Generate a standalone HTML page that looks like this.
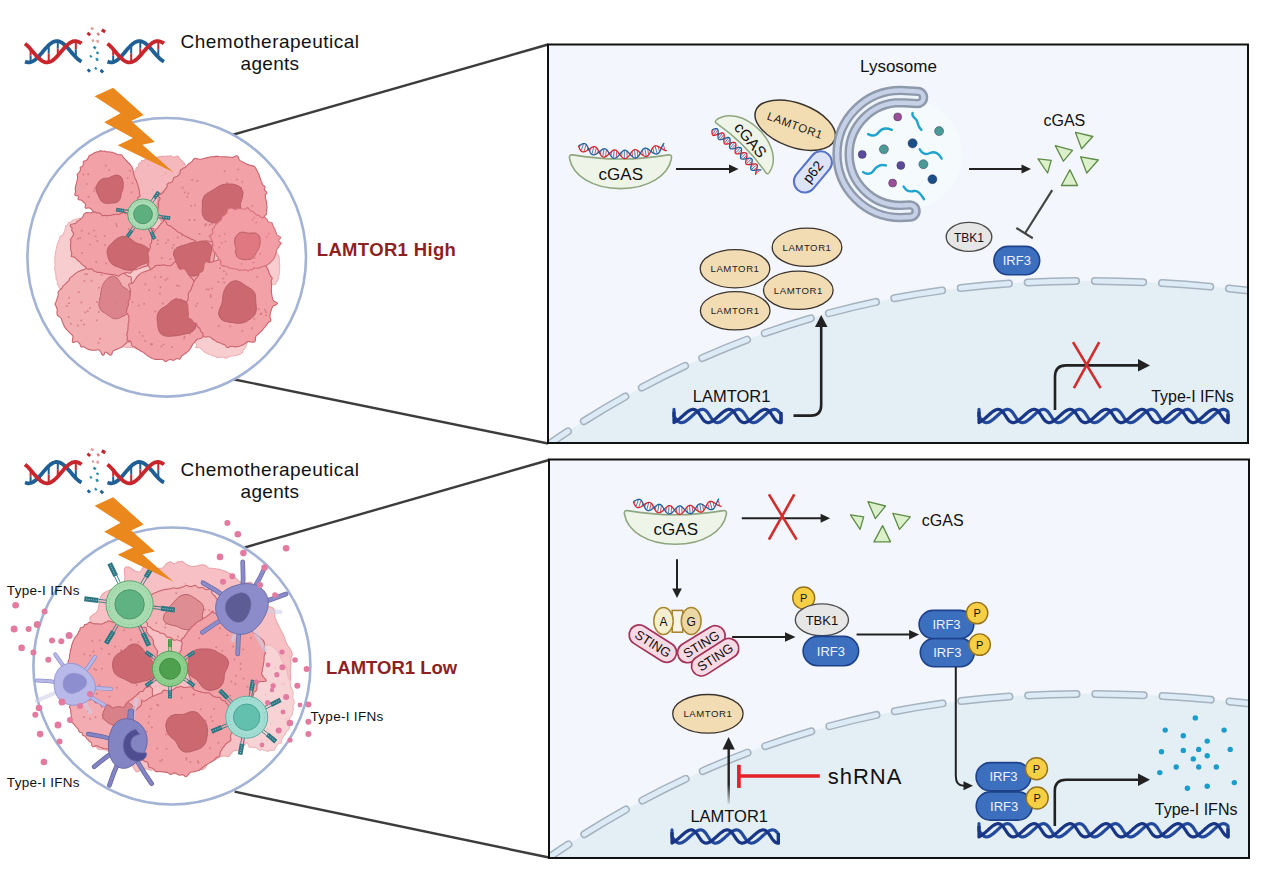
<!DOCTYPE html>
<html><head><meta charset="utf-8"><title>LAMTOR1</title><style>html,body{margin:0;padding:0;background:#fff;}body{width:1269px;height:888px;overflow:hidden;}svg{display:block;}text{font-family:"Liberation Sans", sans-serif;}</style></head><body>
<svg width="1269" height="888" viewBox="0 0 1269 888" font-family='"Liberation Sans", sans-serif'><defs><clipPath id="clip44"><rect x="548" y="44.5" width="700" height="398.5"/></clipPath><clipPath id="clip459"><rect x="549" y="459.5" width="700" height="398.5"/></clipPath><linearGradient id="fadeup" x1="0" y1="1" x2="0" y2="0"><stop offset="0" stop-color="#222" stop-opacity="0.1"/><stop offset="0.35" stop-color="#222" stop-opacity="1"/></linearGradient></defs><line x1="232.0" y1="135.0" x2="548.0" y2="44.5" stroke="#3c3c3c" stroke-width="2.4" stroke-linecap="butt"/>
<line x1="232.0" y1="379.0" x2="548.0" y2="443.5" stroke="#3c3c3c" stroke-width="2.4" stroke-linecap="butt"/>
<line x1="244.7" y1="547.5" x2="549.0" y2="460.0" stroke="#3c3c3c" stroke-width="2.4" stroke-linecap="butt"/>
<line x1="234.6" y1="791.7" x2="549.0" y2="857.5" stroke="#3c3c3c" stroke-width="2.4" stroke-linecap="butt"/>
<line x1="30.6" y1="49.2" x2="30.6" y2="55.7" stroke="#c8262d" stroke-width="2"/>
<line x1="30.6" y1="55.7" x2="30.6" y2="62.1" stroke="#1f5f95" stroke-width="2"/>
<line x1="39.7" y1="59.1" x2="39.7" y2="57.2" stroke="#c8262d" stroke-width="2"/>
<line x1="39.7" y1="57.2" x2="39.7" y2="55.3" stroke="#1f5f95" stroke-width="2"/>
<line x1="48.7" y1="62.2" x2="48.7" y2="53.7" stroke="#c8262d" stroke-width="2"/>
<line x1="48.7" y1="53.7" x2="48.7" y2="45.2" stroke="#1f5f95" stroke-width="2"/>
<line x1="57.8" y1="55.6" x2="57.8" y2="48.4" stroke="#c8262d" stroke-width="2"/>
<line x1="57.8" y1="48.4" x2="57.8" y2="41.2" stroke="#1f5f95" stroke-width="2"/>
<line x1="66.8" y1="45.4" x2="66.8" y2="46.2" stroke="#c8262d" stroke-width="2"/>
<line x1="66.8" y1="46.2" x2="66.8" y2="47.0" stroke="#1f5f95" stroke-width="2"/>
<line x1="75.8" y1="41.1" x2="75.8" y2="49.2" stroke="#c8262d" stroke-width="2"/>
<line x1="75.8" y1="49.2" x2="75.8" y2="57.2" stroke="#1f5f95" stroke-width="2"/>
<path d="M25.0,61.6 L25.9,61.9 L26.9,62.2 L27.8,62.4 L28.8,62.4 L29.7,62.3 L30.6,62.1 L31.6,61.8 L32.5,61.4 L33.5,60.9 L34.4,60.2 L35.4,59.5 L36.3,58.7 L37.2,57.8 L38.2,56.9 L39.1,55.9 L40.1,54.8 L41.0,53.8 L42.0,52.7 L42.9,51.5 L43.8,50.4 L44.8,49.3 L45.7,48.3 L46.7,47.2 L47.6,46.3 L48.5,45.3 L49.5,44.5 L50.4,43.7 L51.4,43.0 L52.3,42.4 L53.2,41.9 L54.2,41.6 L55.1,41.3 L56.1,41.1 L57.0,41.1 L58.0,41.2 L58.9,41.4 L59.8,41.7 L60.8,42.1 L61.7,42.6 L62.7,43.3 L63.6,44.0 L64.5,44.8 L65.5,45.7 L66.4,46.6 L67.4,47.6 L68.3,48.7 L69.3,49.7 L70.2,50.8 L71.1,52.0 L72.1,53.1 L73.0,54.2 L74.0,55.2 L74.9,56.3 L75.8,57.2 L76.8,58.2 L77.7,59.0 L78.7,59.8 L79.6,60.5 L80.6,61.1 L81.5,61.6" fill="none" stroke="#1f5f95" stroke-width="3.8" stroke-linecap="butt"/>
<path d="M25.0,43.6 L25.9,44.4 L26.9,45.2 L27.8,46.1 L28.8,47.1 L29.7,48.1 L30.6,49.2 L31.6,50.3 L32.5,51.4 L33.5,52.5 L34.4,53.6 L35.4,54.7 L36.3,55.8 L37.2,56.8 L38.2,57.7 L39.1,58.6 L40.1,59.4 L41.0,60.2 L42.0,60.8 L42.9,61.3 L43.8,61.8 L44.8,62.1 L45.7,62.3 L46.7,62.4 L47.6,62.4 L48.5,62.2 L49.5,62.0 L50.4,61.6 L51.4,61.1 L52.3,60.6 L53.2,59.9 L54.2,59.1 L55.1,58.3 L56.1,57.4 L57.0,56.4 L58.0,55.4 L58.9,54.3 L59.8,53.2 L60.8,52.1 L61.7,51.0 L62.7,49.9 L63.6,48.8 L64.5,47.7 L65.5,46.7 L66.4,45.8 L67.4,44.9 L68.3,44.1 L69.3,43.3 L70.2,42.7 L71.1,42.2 L72.1,41.7 L73.0,41.4 L74.0,41.2 L74.9,41.1 L75.8,41.1 L76.8,41.3 L77.7,41.5 L78.7,41.9 L79.6,42.4 L80.6,42.9 L81.5,43.6" fill="none" stroke="#c8262d" stroke-width="3.8" stroke-linecap="butt"/>
<line x1="113.2" y1="49.2" x2="113.2" y2="55.7" stroke="#c8262d" stroke-width="2"/>
<line x1="113.2" y1="55.7" x2="113.2" y2="62.1" stroke="#1f5f95" stroke-width="2"/>
<line x1="122.2" y1="59.1" x2="122.2" y2="57.2" stroke="#c8262d" stroke-width="2"/>
<line x1="122.2" y1="57.2" x2="122.2" y2="55.3" stroke="#1f5f95" stroke-width="2"/>
<line x1="131.2" y1="62.2" x2="131.2" y2="53.7" stroke="#c8262d" stroke-width="2"/>
<line x1="131.2" y1="53.7" x2="131.2" y2="45.2" stroke="#1f5f95" stroke-width="2"/>
<line x1="140.3" y1="55.6" x2="140.3" y2="48.4" stroke="#c8262d" stroke-width="2"/>
<line x1="140.3" y1="48.4" x2="140.3" y2="41.2" stroke="#1f5f95" stroke-width="2"/>
<line x1="149.3" y1="45.4" x2="149.3" y2="46.2" stroke="#c8262d" stroke-width="2"/>
<line x1="149.3" y1="46.2" x2="149.3" y2="47.0" stroke="#1f5f95" stroke-width="2"/>
<line x1="158.3" y1="41.1" x2="158.3" y2="49.2" stroke="#c8262d" stroke-width="2"/>
<line x1="158.3" y1="49.2" x2="158.3" y2="57.2" stroke="#1f5f95" stroke-width="2"/>
<path d="M107.5,61.6 L108.4,61.9 L109.4,62.2 L110.3,62.4 L111.3,62.4 L112.2,62.3 L113.2,62.1 L114.1,61.8 L115.0,61.4 L116.0,60.9 L116.9,60.2 L117.9,59.5 L118.8,58.7 L119.7,57.8 L120.7,56.9 L121.6,55.9 L122.6,54.8 L123.5,53.8 L124.5,52.7 L125.4,51.5 L126.3,50.4 L127.3,49.3 L128.2,48.3 L129.2,47.2 L130.1,46.3 L131.0,45.3 L132.0,44.5 L132.9,43.7 L133.9,43.0 L134.8,42.4 L135.8,41.9 L136.7,41.6 L137.6,41.3 L138.6,41.1 L139.5,41.1 L140.5,41.2 L141.4,41.4 L142.3,41.7 L143.3,42.1 L144.2,42.6 L145.2,43.3 L146.1,44.0 L147.1,44.8 L148.0,45.7 L148.9,46.6 L149.9,47.6 L150.8,48.7 L151.8,49.7 L152.7,50.8 L153.6,52.0 L154.6,53.1 L155.5,54.2 L156.5,55.2 L157.4,56.3 L158.3,57.2 L159.3,58.2 L160.2,59.0 L161.2,59.8 L162.1,60.5 L163.1,61.1 L164.0,61.6" fill="none" stroke="#1f5f95" stroke-width="3.8" stroke-linecap="butt"/>
<path d="M107.5,43.6 L108.4,44.4 L109.4,45.2 L110.3,46.1 L111.3,47.1 L112.2,48.1 L113.2,49.2 L114.1,50.3 L115.0,51.4 L116.0,52.5 L116.9,53.6 L117.9,54.7 L118.8,55.8 L119.7,56.8 L120.7,57.7 L121.6,58.6 L122.6,59.4 L123.5,60.2 L124.5,60.8 L125.4,61.3 L126.3,61.8 L127.3,62.1 L128.2,62.3 L129.2,62.4 L130.1,62.4 L131.0,62.2 L132.0,62.0 L132.9,61.6 L133.9,61.1 L134.8,60.6 L135.8,59.9 L136.7,59.1 L137.6,58.3 L138.6,57.4 L139.5,56.4 L140.5,55.4 L141.4,54.3 L142.3,53.2 L143.3,52.1 L144.2,51.0 L145.2,49.9 L146.1,48.8 L147.1,47.7 L148.0,46.7 L148.9,45.8 L149.9,44.9 L150.8,44.1 L151.8,43.3 L152.7,42.7 L153.6,42.2 L154.6,41.7 L155.5,41.4 L156.5,41.2 L157.4,41.1 L158.3,41.1 L159.3,41.3 L160.2,41.5 L161.2,41.9 L162.1,42.4 L163.1,42.9 L164.0,43.6" fill="none" stroke="#c8262d" stroke-width="3.8" stroke-linecap="butt"/>
<rect x="86.8" y="32.4" width="3.6" height="2.9" fill="#c0282f" transform="rotate(40 88.6 34.2)"/>
<rect x="101.3" y="29.2" width="4" height="3.2" fill="#c0282f" transform="rotate(30 103.3 31.2)"/>
<rect x="90.6" y="27.4" width="3" height="2.4" fill="#e09a9a" transform="rotate(20 92.1 28.9)"/>
<rect x="96.5" y="32.7" width="3" height="2.4" fill="#d98080" transform="rotate(60 98.0 34.2)"/>
<rect x="95.9" y="39.8" width="3" height="2.4" fill="#e0a0a0" transform="rotate(80 97.4 41.3)"/>
<rect x="91.4" y="39.4" width="2.6" height="2.1" fill="#d9a0a0" transform="rotate(70 92.7 40.7)"/>
<rect x="93.0" y="46.3" width="3" height="2.4" fill="#2a8aa8" transform="rotate(40 94.5 47.8)"/>
<rect x="96.1" y="51.8" width="2.6" height="2.1" fill="#2a8aa8" transform="rotate(30 97.4 53.1)"/>
<rect x="89.4" y="55.3" width="2.6" height="2.1" fill="#3590b0" transform="rotate(50 90.7 56.6)"/>
<rect x="95.3" y="58.1" width="3" height="2.4" fill="#2a8aa8" transform="rotate(60 96.8 59.6)"/>
<rect x="94.3" y="67.2" width="2.6" height="2.1" fill="#2a8aa8" transform="rotate(45 95.6 68.5)"/>
<rect x="86.9" y="69.1" width="3.4" height="2.7" fill="#1f5f95" transform="rotate(45 88.6 70.8)"/>
<rect x="99.8" y="69.6" width="3.6" height="2.9" fill="#1f5f95" transform="rotate(45 101.6 71.4)"/>
<line x1="30.6" y1="470.1" x2="30.6" y2="476.6" stroke="#c8262d" stroke-width="2"/>
<line x1="30.6" y1="476.6" x2="30.6" y2="483.0" stroke="#1f5f95" stroke-width="2"/>
<line x1="39.7" y1="480.0" x2="39.7" y2="478.1" stroke="#c8262d" stroke-width="2"/>
<line x1="39.7" y1="478.1" x2="39.7" y2="476.2" stroke="#1f5f95" stroke-width="2"/>
<line x1="48.7" y1="483.1" x2="48.7" y2="474.6" stroke="#c8262d" stroke-width="2"/>
<line x1="48.7" y1="474.6" x2="48.7" y2="466.1" stroke="#1f5f95" stroke-width="2"/>
<line x1="57.8" y1="476.5" x2="57.8" y2="469.3" stroke="#c8262d" stroke-width="2"/>
<line x1="57.8" y1="469.3" x2="57.8" y2="462.1" stroke="#1f5f95" stroke-width="2"/>
<line x1="66.8" y1="466.3" x2="66.8" y2="467.1" stroke="#c8262d" stroke-width="2"/>
<line x1="66.8" y1="467.1" x2="66.8" y2="467.9" stroke="#1f5f95" stroke-width="2"/>
<line x1="75.8" y1="462.0" x2="75.8" y2="470.1" stroke="#c8262d" stroke-width="2"/>
<line x1="75.8" y1="470.1" x2="75.8" y2="478.1" stroke="#1f5f95" stroke-width="2"/>
<path d="M25.0,482.5 L25.9,482.8 L26.9,483.1 L27.8,483.3 L28.8,483.3 L29.7,483.2 L30.6,483.0 L31.6,482.7 L32.5,482.3 L33.5,481.8 L34.4,481.1 L35.4,480.4 L36.3,479.6 L37.2,478.7 L38.2,477.8 L39.1,476.8 L40.1,475.7 L41.0,474.7 L42.0,473.6 L42.9,472.4 L43.8,471.3 L44.8,470.2 L45.7,469.2 L46.7,468.1 L47.6,467.2 L48.5,466.2 L49.5,465.4 L50.4,464.6 L51.4,463.9 L52.3,463.3 L53.2,462.8 L54.2,462.5 L55.1,462.2 L56.1,462.0 L57.0,462.0 L58.0,462.1 L58.9,462.3 L59.8,462.6 L60.8,463.0 L61.7,463.5 L62.7,464.2 L63.6,464.9 L64.5,465.7 L65.5,466.6 L66.4,467.5 L67.4,468.5 L68.3,469.6 L69.3,470.6 L70.2,471.7 L71.1,472.9 L72.1,474.0 L73.0,475.1 L74.0,476.1 L74.9,477.2 L75.8,478.1 L76.8,479.1 L77.7,479.9 L78.7,480.7 L79.6,481.4 L80.6,482.0 L81.5,482.5" fill="none" stroke="#1f5f95" stroke-width="3.8" stroke-linecap="butt"/>
<path d="M25.0,464.5 L25.9,465.3 L26.9,466.1 L27.8,467.0 L28.8,468.0 L29.7,469.0 L30.6,470.1 L31.6,471.2 L32.5,472.3 L33.5,473.4 L34.4,474.5 L35.4,475.6 L36.3,476.7 L37.2,477.7 L38.2,478.6 L39.1,479.5 L40.1,480.3 L41.0,481.1 L42.0,481.7 L42.9,482.2 L43.8,482.7 L44.8,483.0 L45.7,483.2 L46.7,483.3 L47.6,483.3 L48.5,483.1 L49.5,482.9 L50.4,482.5 L51.4,482.0 L52.3,481.5 L53.2,480.8 L54.2,480.0 L55.1,479.2 L56.1,478.3 L57.0,477.3 L58.0,476.3 L58.9,475.2 L59.8,474.1 L60.8,473.0 L61.7,471.9 L62.7,470.8 L63.6,469.7 L64.5,468.6 L65.5,467.6 L66.4,466.7 L67.4,465.8 L68.3,465.0 L69.3,464.2 L70.2,463.6 L71.1,463.1 L72.1,462.6 L73.0,462.3 L74.0,462.1 L74.9,462.0 L75.8,462.0 L76.8,462.2 L77.7,462.4 L78.7,462.8 L79.6,463.3 L80.6,463.8 L81.5,464.5" fill="none" stroke="#c8262d" stroke-width="3.8" stroke-linecap="butt"/>
<line x1="113.2" y1="470.1" x2="113.2" y2="476.6" stroke="#c8262d" stroke-width="2"/>
<line x1="113.2" y1="476.6" x2="113.2" y2="483.0" stroke="#1f5f95" stroke-width="2"/>
<line x1="122.2" y1="480.0" x2="122.2" y2="478.1" stroke="#c8262d" stroke-width="2"/>
<line x1="122.2" y1="478.1" x2="122.2" y2="476.2" stroke="#1f5f95" stroke-width="2"/>
<line x1="131.2" y1="483.1" x2="131.2" y2="474.6" stroke="#c8262d" stroke-width="2"/>
<line x1="131.2" y1="474.6" x2="131.2" y2="466.1" stroke="#1f5f95" stroke-width="2"/>
<line x1="140.3" y1="476.5" x2="140.3" y2="469.3" stroke="#c8262d" stroke-width="2"/>
<line x1="140.3" y1="469.3" x2="140.3" y2="462.1" stroke="#1f5f95" stroke-width="2"/>
<line x1="149.3" y1="466.3" x2="149.3" y2="467.1" stroke="#c8262d" stroke-width="2"/>
<line x1="149.3" y1="467.1" x2="149.3" y2="467.9" stroke="#1f5f95" stroke-width="2"/>
<line x1="158.3" y1="462.0" x2="158.3" y2="470.1" stroke="#c8262d" stroke-width="2"/>
<line x1="158.3" y1="470.1" x2="158.3" y2="478.1" stroke="#1f5f95" stroke-width="2"/>
<path d="M107.5,482.5 L108.4,482.8 L109.4,483.1 L110.3,483.3 L111.3,483.3 L112.2,483.2 L113.2,483.0 L114.1,482.7 L115.0,482.3 L116.0,481.8 L116.9,481.1 L117.9,480.4 L118.8,479.6 L119.7,478.7 L120.7,477.8 L121.6,476.8 L122.6,475.7 L123.5,474.7 L124.5,473.6 L125.4,472.4 L126.3,471.3 L127.3,470.2 L128.2,469.2 L129.2,468.1 L130.1,467.2 L131.0,466.2 L132.0,465.4 L132.9,464.6 L133.9,463.9 L134.8,463.3 L135.8,462.8 L136.7,462.5 L137.6,462.2 L138.6,462.0 L139.5,462.0 L140.5,462.1 L141.4,462.3 L142.3,462.6 L143.3,463.0 L144.2,463.5 L145.2,464.2 L146.1,464.9 L147.1,465.7 L148.0,466.6 L148.9,467.5 L149.9,468.5 L150.8,469.6 L151.8,470.6 L152.7,471.7 L153.6,472.9 L154.6,474.0 L155.5,475.1 L156.5,476.1 L157.4,477.2 L158.3,478.1 L159.3,479.1 L160.2,479.9 L161.2,480.7 L162.1,481.4 L163.1,482.0 L164.0,482.5" fill="none" stroke="#1f5f95" stroke-width="3.8" stroke-linecap="butt"/>
<path d="M107.5,464.5 L108.4,465.3 L109.4,466.1 L110.3,467.0 L111.3,468.0 L112.2,469.0 L113.2,470.1 L114.1,471.2 L115.0,472.3 L116.0,473.4 L116.9,474.5 L117.9,475.6 L118.8,476.7 L119.7,477.7 L120.7,478.6 L121.6,479.5 L122.6,480.3 L123.5,481.1 L124.5,481.7 L125.4,482.2 L126.3,482.7 L127.3,483.0 L128.2,483.2 L129.2,483.3 L130.1,483.3 L131.0,483.1 L132.0,482.9 L132.9,482.5 L133.9,482.0 L134.8,481.5 L135.8,480.8 L136.7,480.0 L137.6,479.2 L138.6,478.3 L139.5,477.3 L140.5,476.3 L141.4,475.2 L142.3,474.1 L143.3,473.0 L144.2,471.9 L145.2,470.8 L146.1,469.7 L147.1,468.6 L148.0,467.6 L148.9,466.7 L149.9,465.8 L150.8,465.0 L151.8,464.2 L152.7,463.6 L153.6,463.1 L154.6,462.6 L155.5,462.3 L156.5,462.1 L157.4,462.0 L158.3,462.0 L159.3,462.2 L160.2,462.4 L161.2,462.8 L162.1,463.3 L163.1,463.8 L164.0,464.5" fill="none" stroke="#c8262d" stroke-width="3.8" stroke-linecap="butt"/>
<rect x="86.8" y="453.3" width="3.6" height="2.9" fill="#c0282f" transform="rotate(40 88.6 455.1)"/>
<rect x="101.3" y="450.1" width="4" height="3.2" fill="#c0282f" transform="rotate(30 103.3 452.1)"/>
<rect x="90.6" y="448.3" width="3" height="2.4" fill="#e09a9a" transform="rotate(20 92.1 449.8)"/>
<rect x="96.5" y="453.6" width="3" height="2.4" fill="#d98080" transform="rotate(60 98.0 455.1)"/>
<rect x="95.9" y="460.7" width="3" height="2.4" fill="#e0a0a0" transform="rotate(80 97.4 462.2)"/>
<rect x="91.4" y="460.3" width="2.6" height="2.1" fill="#d9a0a0" transform="rotate(70 92.7 461.6)"/>
<rect x="93.0" y="467.2" width="3" height="2.4" fill="#2a8aa8" transform="rotate(40 94.5 468.7)"/>
<rect x="96.1" y="472.7" width="2.6" height="2.1" fill="#2a8aa8" transform="rotate(30 97.4 474.0)"/>
<rect x="89.4" y="476.2" width="2.6" height="2.1" fill="#3590b0" transform="rotate(50 90.7 477.5)"/>
<rect x="95.3" y="479.0" width="3" height="2.4" fill="#2a8aa8" transform="rotate(60 96.8 480.5)"/>
<rect x="94.3" y="488.1" width="2.6" height="2.1" fill="#2a8aa8" transform="rotate(45 95.6 489.4)"/>
<rect x="86.9" y="490.0" width="3.4" height="2.7" fill="#1f5f95" transform="rotate(45 88.6 491.7)"/>
<rect x="99.8" y="490.5" width="3.6" height="2.9" fill="#1f5f95" transform="rotate(45 101.6 492.3)"/>
<circle cx="166.7" cy="257.3" r="139.3" fill="#ffffff" stroke="#a3b3d5" stroke-width="2.6"/>
<g>
<path d="M257.0,262.0C256.7,263.1 256.7,264.1 256.4,265.2C256.1,266.2 255.6,267.2 255.2,268.2C254.8,269.3 254.6,270.3 254.2,271.3C253.8,272.3 252.8,273.2 252.7,274.2C252.6,275.2 252.9,276.3 253.3,277.4C253.8,278.6 255.2,280.0 255.6,281.1C255.9,282.3 256.5,283.7 255.5,284.5C254.5,285.3 251.1,285.5 249.4,286.0C247.7,286.6 245.9,287.0 245.2,287.9C244.6,288.7 245.8,290.2 245.6,291.2C245.4,292.2 244.7,293.0 243.9,293.7C243.0,294.5 241.3,294.7 240.6,295.5C239.8,296.3 239.7,297.2 239.5,298.3C239.4,299.3 239.5,300.5 239.5,301.7C239.6,302.9 240.0,304.4 239.9,305.5C239.7,306.6 239.0,307.4 238.5,308.3C238.0,309.3 237.0,309.9 236.9,311.1C236.8,312.4 238.1,314.8 237.8,316.0C237.5,317.2 236.5,317.8 235.3,318.3C234.2,318.8 232.1,318.3 231.1,318.9C230.1,319.5 230.1,321.0 229.3,321.8C228.6,322.6 227.6,323.2 226.6,323.8C225.6,324.3 224.3,324.4 223.5,325.2C222.6,326.0 222.3,327.3 221.7,328.3C221.0,329.3 220.2,330.1 219.6,331.1C218.9,332.2 218.8,334.1 217.8,334.6C216.7,335.1 214.8,334.4 213.4,334.2C211.9,333.9 210.2,333.2 208.9,333.2C207.7,333.3 206.9,334.0 205.9,334.5C204.9,335.0 203.9,335.6 202.9,336.1C201.9,336.5 200.9,336.9 199.8,337.3C198.8,337.7 197.7,338.1 196.7,338.5C195.6,339.0 194.6,339.5 193.6,340.1C192.6,340.6 191.6,341.2 190.6,341.9C189.6,342.6 188.6,343.5 187.6,344.4C186.6,345.3 185.6,346.9 184.5,347.3C183.4,347.8 182.0,347.0 180.8,347.1C179.6,347.1 178.4,347.3 177.2,347.8C176.1,348.3 174.9,349.9 173.7,350.3C172.5,350.6 171.2,350.1 170.0,349.8C168.8,349.5 167.6,348.7 166.4,348.3C165.2,348.0 164.0,347.7 162.8,347.6C161.6,347.5 160.4,347.5 159.1,347.6C157.9,347.6 156.7,347.8 155.4,348.2C154.0,348.6 152.5,349.8 151.2,350.1C149.9,350.3 148.6,350.1 147.4,349.7C146.2,349.4 145.3,348.0 144.0,347.9C142.7,347.9 140.9,349.3 139.5,349.4C138.2,349.5 137.0,348.8 135.8,348.4C134.5,348.1 133.4,347.5 132.1,347.3C130.7,347.2 129.1,347.7 127.7,347.6C126.3,347.5 124.8,347.4 123.6,346.8C122.5,346.1 121.7,344.8 121.0,343.5C120.3,342.3 120.0,340.3 119.3,339.1C118.6,337.9 117.5,337.4 116.7,336.4C115.8,335.4 115.2,334.3 114.4,333.4C113.6,332.4 112.7,331.6 111.8,330.8C110.9,330.0 110.2,329.0 109.2,328.3C108.3,327.6 107.2,327.0 106.1,326.4C105.1,325.7 103.5,325.6 102.9,324.6C102.2,323.6 102.9,321.4 102.3,320.3C101.7,319.3 100.1,319.1 99.4,318.2C98.7,317.3 98.1,316.2 98.1,314.9C98.0,313.5 99.2,311.3 99.2,309.9C99.3,308.6 98.6,307.7 98.2,306.7C97.9,305.6 97.6,304.6 97.3,303.5C96.9,302.5 96.9,301.3 96.3,300.5C95.7,299.6 95.0,298.8 93.7,298.2C92.5,297.6 89.9,297.6 88.9,296.9C87.8,296.1 87.8,294.9 87.5,293.8C87.3,292.8 87.7,291.4 87.2,290.5C86.6,289.5 84.8,288.9 84.2,288.0C83.5,287.0 83.0,286.0 83.2,284.8C83.4,283.6 84.8,282.2 85.4,280.9C85.9,279.7 86.7,278.5 86.5,277.5C86.4,276.4 85.3,275.6 84.8,274.6C84.2,273.6 83.3,272.6 83.5,271.5C83.6,270.5 85.3,269.3 85.7,268.2C86.2,267.1 86.3,266.1 86.3,265.1C86.3,264.0 86.0,263.0 85.8,262.0C85.6,261.0 85.4,259.9 85.2,258.9C85.0,257.9 84.8,256.8 84.7,255.7C84.6,254.7 84.8,253.7 84.4,252.6C84.1,251.5 83.5,250.3 82.7,249.1C82.0,247.9 80.3,246.5 79.9,245.3C79.6,244.1 80.4,243.1 80.8,242.1C81.2,241.0 82.1,240.1 82.3,239.0C82.6,237.9 82.0,236.5 82.5,235.5C83.1,234.5 84.8,233.9 85.8,233.1C86.8,232.2 87.7,231.4 88.5,230.6C89.3,229.7 89.9,228.8 90.5,227.9C91.1,226.9 91.4,225.9 92.0,225.0C92.6,224.0 93.3,223.2 94.0,222.3C94.6,221.4 95.3,220.6 95.9,219.7C96.5,218.8 97.3,218.0 97.7,217.0C98.1,215.9 97.7,214.4 98.1,213.3C98.6,212.3 99.6,211.7 100.5,210.9C101.3,210.2 102.5,209.7 103.4,209.0C104.3,208.3 104.9,207.3 106.0,206.8C107.1,206.4 108.8,206.4 110.0,206.1C111.1,205.7 112.1,205.2 113.0,204.6C113.9,203.9 114.6,203.2 115.4,202.4C116.2,201.7 116.8,200.8 117.6,200.0C118.3,199.2 119.1,198.5 119.7,197.4C120.3,196.4 120.6,195.1 121.2,193.9C121.7,192.8 122.3,191.5 123.0,190.5C123.7,189.6 124.6,188.8 125.6,188.1C126.5,187.4 127.4,186.5 128.6,186.2C129.7,185.9 131.3,186.4 132.6,186.4C133.9,186.4 135.1,186.3 136.3,186.2C137.5,186.1 138.7,186.1 139.8,185.8C140.9,185.5 141.9,185.0 143.0,184.5C144.0,183.9 144.9,183.2 146.0,182.6C147.0,182.0 147.9,181.0 149.1,180.8C150.2,180.5 151.6,181.1 152.8,181.2C154.0,181.4 155.2,181.7 156.3,181.6C157.5,181.5 158.5,180.8 159.7,180.5C160.8,180.2 161.9,180.0 163.1,179.8C164.2,179.6 165.4,179.6 166.5,179.5C167.7,179.4 168.8,179.3 170.0,179.2C171.2,179.1 172.3,179.3 173.5,179.0C174.7,178.6 175.9,177.7 177.2,177.1C178.4,176.5 179.8,175.1 181.0,175.3C182.2,175.6 183.1,177.6 184.2,178.6C185.2,179.6 186.1,180.8 187.2,181.3C188.3,181.8 189.5,181.6 190.7,181.8C191.8,182.0 192.9,182.3 194.1,182.4C195.3,182.5 196.4,182.8 197.7,182.4C199.1,182.1 200.9,180.7 202.3,180.4C203.7,180.0 204.7,180.8 206.3,180.4C207.8,180.0 210.3,177.8 211.6,178.0C212.9,178.2 213.6,179.7 214.0,181.6C214.3,183.5 213.3,187.6 213.7,189.2C214.2,190.8 215.3,191.0 216.4,191.4C217.5,191.8 219.5,191.1 220.5,191.5C221.6,192.0 222.0,193.4 222.8,194.2C223.7,195.1 224.4,195.9 225.4,196.5C226.4,197.1 227.7,197.3 228.9,197.7C230.1,198.1 231.3,198.6 232.5,199.0C233.7,199.4 235.1,199.8 236.2,200.3C237.3,200.9 238.3,201.6 239.3,202.3C240.4,202.9 241.3,203.7 242.6,204.2C243.9,204.7 246.0,204.7 247.2,205.3C248.4,205.9 249.4,206.8 249.9,207.9C250.5,209.0 250.3,210.6 250.6,211.8C250.9,213.1 251.4,214.2 251.7,215.3C252.1,216.5 252.5,217.6 252.9,218.7C253.3,219.8 254.0,220.8 254.4,221.9C254.8,223.0 255.1,224.2 255.4,225.3C255.8,226.4 256.1,227.5 256.7,228.5C257.3,229.5 258.0,230.5 259.0,231.4C260.1,232.3 262.4,232.8 263.2,233.8C264.0,234.8 264.1,236.1 263.9,237.3C263.7,238.6 261.9,240.2 262.0,241.4C262.1,242.6 264.2,243.4 264.2,244.5C264.2,245.7 262.7,247.2 261.9,248.4C261.1,249.7 259.9,251.0 259.4,252.1C258.8,253.3 258.7,254.4 258.4,255.5C258.2,256.6 258.0,257.7 257.8,258.8C257.6,259.9 257.2,260.9 257.0,262.0Z" fill="#f7c7ca" stroke="#eeb0b5" stroke-width="1.1"/>
</g>
<g>
<path d="M95.2,262.0C95.2,262.6 95.2,263.1 95.3,263.7C95.3,264.2 95.4,264.8 95.4,265.4C95.5,265.9 95.6,266.6 95.5,267.1C95.5,267.6 95.1,268.1 94.9,268.6C94.7,269.1 94.5,269.5 94.3,270.0C94.2,270.5 94.1,271.0 94.0,271.5C93.9,272.0 93.9,272.5 93.9,273.1C93.9,273.7 94.1,274.3 94.0,274.9C93.9,275.4 93.6,275.7 93.5,276.2C93.3,276.6 93.1,277.0 93.0,277.5C92.9,277.9 92.8,278.5 92.8,279.0C92.7,279.6 92.7,280.1 92.7,280.7C92.7,281.3 92.7,281.9 92.7,282.6C92.8,283.3 93.1,284.3 93.1,285.0C93.1,285.7 93.0,286.3 92.8,286.7C92.6,287.1 92.2,287.2 92.0,287.5C91.7,287.9 91.5,288.2 91.4,288.7C91.2,289.1 91.1,289.6 90.9,290.1C90.8,290.5 90.6,290.9 90.4,291.3C90.3,291.8 90.1,292.3 89.9,292.7C89.8,293.1 89.6,293.5 89.4,293.9C89.2,294.4 89.1,294.9 88.9,295.3C88.7,295.6 88.5,295.9 88.3,296.2C88.1,296.6 87.9,297.0 87.7,297.4C87.5,297.9 87.3,298.2 87.2,298.8C87.0,299.4 87.0,300.5 86.8,300.8C86.6,301.1 86.2,300.7 85.8,300.6C85.5,300.5 85.2,300.3 84.9,300.3C84.6,300.3 84.4,300.5 84.1,300.7C83.9,300.9 83.7,301.2 83.4,301.4C83.2,301.5 82.9,301.6 82.7,301.8C82.4,302.0 82.2,302.4 82.0,302.6C81.8,302.9 81.5,303.1 81.3,303.3C81.1,303.6 80.8,303.9 80.6,304.2C80.4,304.5 80.1,304.7 79.9,305.0C79.6,305.3 79.4,305.6 79.2,305.8C78.9,306.0 78.6,306.0 78.4,306.1C78.1,306.3 77.9,306.5 77.6,306.6C77.3,306.6 77.1,306.4 76.8,306.4C76.5,306.3 76.3,306.6 76.0,306.5C75.7,306.5 75.5,306.2 75.2,306.1C75.0,306.0 74.7,305.9 74.4,305.9C74.2,305.8 73.9,305.9 73.6,305.9C73.4,305.9 73.1,305.9 72.8,305.8C72.6,305.7 72.3,305.4 72.1,305.4C71.8,305.3 71.5,305.4 71.3,305.4C71.0,305.4 70.7,305.4 70.4,305.4C70.2,305.3 69.9,305.0 69.6,305.0C69.4,305.0 69.0,305.3 68.7,305.4C68.4,305.5 68.0,305.9 67.8,305.7C67.5,305.4 67.4,304.5 67.2,304.0C67.0,303.5 66.8,303.0 66.6,302.6C66.4,302.2 66.1,302.0 65.9,301.7C65.7,301.4 65.4,301.1 65.2,300.7C65.0,300.4 64.8,300.0 64.6,299.6C64.4,299.2 64.2,298.7 64.0,298.4C63.8,298.0 63.6,297.7 63.3,297.3C63.1,297.0 62.9,296.6 62.7,296.3C62.4,296.0 62.2,295.8 61.9,295.5C61.7,295.2 61.3,295.1 61.2,294.6C61.1,294.0 61.1,293.0 61.1,292.3C61.0,291.6 61.0,291.0 60.9,290.4C60.8,289.9 60.7,289.3 60.5,289.0C60.2,288.6 59.8,288.5 59.6,288.2C59.3,287.9 59.1,287.5 58.9,287.1C58.8,286.6 58.8,285.9 58.6,285.5C58.3,285.1 57.7,285.2 57.5,284.7C57.3,284.3 57.4,283.6 57.3,282.9C57.3,282.3 57.5,281.5 57.3,281.0C57.2,280.4 56.7,280.3 56.5,279.8C56.3,279.3 56.2,278.7 56.1,278.1C56.1,277.5 56.0,276.9 56.0,276.3C55.9,275.7 55.9,275.1 55.8,274.5C55.7,273.9 55.7,273.4 55.5,272.8C55.4,272.2 55.3,271.7 55.2,271.1C55.0,270.6 54.7,270.0 54.6,269.4C54.6,268.9 54.6,268.2 54.7,267.5C54.8,266.9 55.0,266.2 55.0,265.6C55.1,265.0 55.0,264.4 55.0,263.8C54.9,263.2 54.9,262.6 54.9,262.0C54.9,261.4 54.9,260.8 54.9,260.2C54.9,259.6 54.8,258.9 54.8,258.3C54.9,257.7 55.0,257.1 55.0,256.5C55.1,255.9 55.2,255.4 55.2,254.8C55.3,254.2 55.4,253.6 55.5,253.0C55.5,252.4 55.6,251.8 55.7,251.3C55.8,250.7 56.0,250.2 56.1,249.7C56.2,249.1 56.3,248.6 56.5,248.0C56.6,247.5 56.7,246.9 56.8,246.4C56.9,245.9 57.1,245.4 57.2,244.9C57.4,244.4 57.5,243.9 57.7,243.4C57.8,242.9 58.0,242.5 58.2,242.1C58.4,241.6 58.5,241.2 58.7,240.7C58.9,240.3 59.1,239.9 59.3,239.4C59.4,239.0 59.6,238.6 59.7,238.1C59.9,237.6 59.8,236.8 60.0,236.5C60.2,236.1 60.7,236.1 61.0,236.0C61.3,235.9 61.8,235.9 62.0,235.8C62.3,235.6 62.5,235.2 62.7,234.9C62.9,234.6 63.1,234.3 63.3,234.0C63.5,233.7 63.7,233.5 63.9,233.1C64.0,232.7 64.1,232.2 64.3,231.8C64.4,231.3 64.6,230.9 64.7,230.5C64.9,230.0 65.0,229.7 65.2,229.2C65.3,228.6 65.3,227.9 65.5,227.3C65.6,226.7 65.7,226.0 65.9,225.7C66.1,225.5 66.5,225.7 66.7,225.6C67.0,225.5 67.2,225.3 67.4,225.0C67.6,224.7 67.8,224.1 68.0,223.7C68.2,223.3 68.3,222.6 68.6,222.4C68.8,222.3 69.1,222.6 69.4,222.6C69.7,222.6 69.9,222.7 70.2,222.5C70.4,222.4 70.6,222.0 70.8,221.8C71.1,221.5 71.3,221.4 71.5,221.2C71.8,221.0 72.0,220.8 72.3,220.7C72.5,220.5 72.7,220.2 73.0,220.1C73.2,220.0 73.5,220.0 73.7,219.9C74.0,219.8 74.2,219.5 74.5,219.4C74.7,219.3 75.0,219.2 75.2,219.2C75.5,219.1 75.7,219.2 76.0,219.2C76.3,219.1 76.5,219.1 76.8,219.1C77.0,219.1 77.3,219.0 77.5,218.9C77.8,218.9 78.1,218.9 78.3,218.8C78.6,218.7 78.9,218.6 79.1,218.5C79.4,218.5 79.7,218.6 79.9,218.6C80.2,218.6 80.5,218.6 80.7,218.5C81.0,218.5 81.3,218.6 81.6,218.6C81.9,218.5 82.1,218.6 82.4,218.5C82.7,218.3 83.1,217.8 83.5,217.4C83.8,217.1 84.3,216.3 84.6,216.3C84.9,216.3 85.1,216.9 85.3,217.6C85.5,218.3 85.4,219.9 85.6,220.7C85.7,221.5 85.9,222.0 86.1,222.4C86.3,222.8 86.6,222.9 86.8,223.1C87.1,223.3 87.3,223.6 87.6,223.8C87.9,224.1 88.1,224.3 88.4,224.5C88.6,224.8 89.0,224.8 89.2,225.1C89.5,225.3 89.8,225.6 90.0,225.9C90.3,226.1 90.6,226.4 90.8,226.7C91.1,227.0 91.3,227.4 91.6,227.7C91.9,228.0 92.2,228.3 92.4,228.7C92.6,229.2 92.7,229.8 92.9,230.3C93.1,230.8 93.3,231.2 93.5,231.7C93.7,232.1 93.9,232.6 94.2,233.0C94.4,233.4 94.7,233.7 95.0,234.1C95.2,234.6 95.5,235.0 95.6,235.6C95.7,236.2 95.6,237.1 95.6,237.9C95.6,238.6 95.5,239.4 95.5,240.1C95.5,240.8 95.5,241.5 95.6,242.1C95.6,242.8 95.8,243.3 95.9,243.9C96.0,244.5 96.2,245.0 96.3,245.6C96.3,246.2 96.4,246.8 96.3,247.5C96.2,248.2 96.0,249.0 95.9,249.7C95.8,250.3 95.8,251.0 95.7,251.6C95.7,252.2 95.6,252.9 95.5,253.5C95.5,254.1 95.4,254.7 95.4,255.2C95.4,255.8 95.4,256.4 95.4,256.9C95.4,257.5 95.4,258.1 95.4,258.6C95.3,259.2 95.3,259.8 95.2,260.3C95.2,260.9 95.2,261.4 95.2,262.0Z" fill="#f8cdd0" stroke="#eeb3b8" stroke-width="1.1"/>
</g>
<g>
<path d="M247.6,338.0C247.6,338.3 247.6,338.5 247.6,338.8C247.6,339.0 247.6,339.3 247.6,339.6C247.6,339.8 247.5,340.1 247.4,340.3C247.4,340.6 247.4,340.8 247.3,341.1C247.3,341.3 247.3,341.6 247.2,341.9C247.2,342.1 247.1,342.4 247.0,342.6C246.9,342.9 246.9,343.1 246.8,343.4C246.8,343.6 246.8,343.9 246.7,344.2C246.7,344.4 246.6,344.7 246.5,345.0C246.4,345.2 246.4,345.5 246.3,345.7C246.2,346.0 246.1,346.3 246.0,346.5C245.9,346.8 245.8,347.0 245.6,347.3C245.5,347.5 245.3,347.7 245.1,347.9C244.9,348.2 244.8,348.4 244.6,348.7C244.5,348.9 244.3,349.1 244.1,349.3C243.9,349.6 243.6,349.7 243.4,349.9C243.2,350.2 243.0,350.4 242.9,350.7C242.8,350.9 242.9,351.4 242.8,351.7C242.8,352.0 242.7,352.3 242.5,352.5C242.3,352.8 241.9,352.9 241.6,353.1C241.4,353.3 241.4,353.7 241.1,353.9C240.8,354.1 240.3,354.0 239.9,354.1C239.5,354.2 239.2,354.3 238.8,354.4C238.5,354.5 238.2,354.7 237.9,354.8C237.6,354.9 237.3,355.1 236.9,355.2C236.6,355.3 236.3,355.4 235.9,355.5C235.6,355.6 235.2,355.6 234.9,355.7C234.5,355.7 234.2,355.8 233.8,355.8C233.4,355.8 233.0,355.8 232.7,355.9C232.4,355.9 232.1,356.0 231.7,356.1C231.4,356.1 231.0,356.1 230.7,356.1C230.4,356.2 230.1,356.3 229.8,356.4C229.5,356.5 229.1,356.5 228.8,356.7C228.6,356.8 228.4,357.3 228.1,357.4C227.8,357.6 227.4,357.6 227.1,357.7C226.8,357.9 226.5,358.2 226.2,358.3C225.8,358.3 225.4,358.2 225.1,358.0C224.7,357.9 224.3,357.5 224.0,357.3C223.6,357.2 223.3,357.1 223.0,357.1C222.6,357.1 222.3,357.1 222.0,357.1C221.7,357.1 221.4,357.1 221.0,357.1C220.7,357.2 220.4,357.2 220.0,357.3C219.7,357.3 219.4,357.3 219.0,357.4C218.7,357.5 218.3,357.8 217.9,357.8C217.6,357.8 217.3,357.5 217.0,357.4C216.7,357.3 216.4,357.2 216.1,357.0C215.8,356.9 215.5,356.8 215.2,356.6C214.9,356.5 214.6,356.4 214.3,356.3C214.0,356.2 213.7,356.0 213.4,355.9C213.1,355.8 212.8,355.7 212.5,355.6C212.2,355.5 212.0,355.3 211.7,355.2C211.4,355.0 211.1,354.9 210.9,354.8C210.6,354.7 210.3,354.5 210.1,354.4C209.8,354.3 209.4,354.2 209.1,354.2C208.8,354.1 208.5,354.0 208.2,353.9C207.9,353.7 207.6,353.6 207.4,353.5C207.1,353.4 206.8,353.2 206.5,353.1C206.2,353.0 205.8,353.0 205.5,352.8C205.3,352.7 205.1,352.4 204.9,352.2C204.7,352.1 204.4,351.9 204.2,351.7C203.9,351.5 203.8,351.3 203.5,351.1C203.3,350.9 203.1,350.8 202.9,350.6C202.7,350.3 202.6,350.1 202.4,349.9C202.2,349.7 201.9,349.5 201.7,349.3C201.5,349.1 201.3,348.9 201.1,348.7C200.9,348.6 200.6,348.4 200.3,348.2C200.1,348.0 200.1,347.8 199.6,347.7C199.1,347.6 198.1,347.7 197.4,347.6C196.7,347.6 195.6,347.7 195.4,347.4C195.3,347.2 196.1,346.5 196.4,346.2C196.6,345.8 196.9,345.4 196.9,345.1C196.9,344.8 196.6,344.6 196.4,344.4C196.2,344.2 196.0,343.9 195.8,343.7C195.6,343.4 195.5,343.2 195.3,342.9C195.2,342.7 195.0,342.4 194.8,342.2C194.6,341.9 194.4,341.7 194.1,341.4C193.9,341.1 193.7,340.9 193.5,340.6C193.4,340.3 193.2,340.0 193.1,339.7C193.0,339.5 193.0,339.2 192.9,338.9C192.8,338.6 192.7,338.3 192.7,338.0C192.6,337.7 192.6,337.4 192.7,337.1C192.7,336.8 192.9,336.5 193.0,336.2C193.1,336.0 193.1,335.7 193.2,335.4C193.4,335.1 193.5,334.8 193.7,334.6C193.9,334.3 194.1,334.0 194.2,333.8C194.4,333.5 194.6,333.2 194.7,333.0C194.9,332.7 195.1,332.4 195.2,332.2C195.4,331.9 195.5,331.7 195.7,331.4C195.8,331.2 196.0,330.9 196.2,330.7C196.3,330.4 196.4,330.1 196.6,329.9C196.7,329.7 197.0,329.4 197.2,329.2C197.3,329.0 197.4,328.7 197.6,328.5C197.8,328.2 198.1,328.0 198.4,327.8C198.6,327.6 199.0,327.5 199.3,327.3C199.5,327.1 199.7,326.9 200.0,326.7C200.2,326.5 200.6,326.4 200.8,326.2C201.1,326.0 201.1,325.6 201.3,325.5C201.6,325.3 201.9,325.2 202.3,325.1C202.7,325.0 203.2,325.0 203.5,324.9C203.9,324.8 204.1,324.6 204.4,324.5C204.7,324.3 204.9,324.2 205.2,324.0C205.5,323.9 205.8,323.8 206.1,323.6C206.3,323.5 206.5,323.3 206.8,323.1C207.1,323.0 207.4,323.0 207.7,322.9C208.0,322.8 208.2,322.5 208.5,322.4C208.8,322.3 209.1,322.3 209.4,322.2C209.7,322.0 209.9,321.9 210.1,321.7C210.3,321.4 210.4,321.0 210.6,320.8C210.9,320.6 211.3,320.7 211.5,320.6C211.8,320.4 212.1,320.2 212.3,320.1C212.6,319.9 212.9,319.7 213.2,319.6C213.5,319.6 214.0,319.8 214.3,319.8C214.6,319.7 214.9,319.6 215.2,319.5C215.5,319.4 215.8,319.3 216.1,319.2C216.5,319.2 216.8,319.2 217.1,319.2C217.5,319.2 217.8,319.1 218.1,319.0C218.4,319.0 218.8,319.2 219.1,319.1C219.4,319.0 219.7,318.9 220.0,318.7C220.3,318.4 220.6,318.0 221.0,317.8C221.3,317.6 221.7,317.5 222.0,317.6C222.3,317.7 222.7,318.1 223.0,318.4C223.3,318.7 223.6,319.1 223.9,319.3C224.2,319.5 224.5,319.5 224.8,319.6C225.2,319.6 225.5,319.5 225.8,319.5C226.1,319.5 226.5,319.4 226.8,319.3C227.2,319.3 227.5,319.3 227.9,319.1C228.3,318.9 228.9,318.3 229.3,318.1C229.7,317.9 230.2,317.8 230.5,317.9C230.8,317.9 231.1,318.2 231.3,318.5C231.6,318.8 231.8,319.2 232.0,319.5C232.2,319.8 232.4,320.0 232.7,320.2C233.0,320.3 233.3,320.3 233.7,320.4C234.0,320.4 234.3,320.5 234.7,320.6C235.0,320.7 235.3,320.8 235.7,320.8C236.1,320.8 236.5,320.8 236.9,320.8C237.3,320.8 238.0,320.6 238.3,320.8C238.6,320.9 238.6,321.3 238.9,321.5C239.1,321.8 239.3,322.0 239.7,322.1C240.1,322.2 240.7,322.0 241.1,322.1C241.5,322.2 241.7,322.4 241.9,322.7C242.0,323.0 242.0,323.4 242.1,323.7C242.2,324.0 242.4,324.2 242.6,324.5C242.8,324.7 243.1,324.9 243.4,325.0C243.6,325.2 243.9,325.4 244.2,325.6C244.5,325.8 244.8,326.0 245.0,326.2C245.3,326.4 245.5,326.6 245.8,326.8C246.0,327.0 246.2,327.3 246.4,327.5C246.6,327.7 247.0,327.9 247.1,328.1C247.3,328.4 247.4,328.7 247.5,329.0C247.6,329.2 247.7,329.5 247.7,329.8C247.8,330.1 247.9,330.4 247.9,330.7C247.9,330.9 247.9,331.2 247.9,331.5C247.9,331.8 248.0,332.1 248.0,332.4C247.9,332.7 247.8,333.0 247.7,333.2C247.7,333.5 247.8,333.8 247.8,334.1C247.7,334.3 247.7,334.6 247.7,334.9C247.7,335.1 247.7,335.4 247.7,335.7C247.7,335.9 247.7,336.2 247.7,336.4C247.7,336.7 247.7,337.0 247.7,337.2C247.6,337.5 247.6,337.7 247.6,338.0Z" fill="#f8cdd0" stroke="#eeb3b8" stroke-width="1.1"/>
</g>
<g>
<path d="M279.7,266.0C279.7,266.3 279.7,266.5 279.7,266.8C279.7,267.0 279.6,267.3 279.6,267.5C279.6,267.8 279.7,268.1 279.7,268.3C279.7,268.6 279.6,268.8 279.5,269.1C279.5,269.3 279.5,269.6 279.5,269.8C279.5,270.1 279.5,270.3 279.4,270.6C279.4,270.9 279.5,271.2 279.5,271.4C279.5,271.7 279.4,271.9 279.4,272.2C279.4,272.5 279.4,272.8 279.4,273.0C279.3,273.3 279.3,273.6 279.2,273.8C279.2,274.1 279.2,274.4 279.1,274.6C279.1,274.9 279.0,275.2 278.9,275.4C278.9,275.7 278.8,275.9 278.7,276.2C278.7,276.4 278.7,276.7 278.7,277.1C278.7,277.4 278.8,277.9 278.8,278.2C278.7,278.5 278.4,278.5 278.3,278.7C278.1,278.9 278.0,279.2 278.0,279.5C277.9,279.7 277.9,280.2 277.8,280.4C277.7,280.6 277.4,280.7 277.2,280.9C277.1,281.0 276.9,281.2 276.8,281.4C276.6,281.6 276.6,281.9 276.4,282.1C276.3,282.4 276.2,282.6 276.1,282.8C275.9,283.0 275.8,283.3 275.7,283.5C275.6,283.8 275.5,284.2 275.3,284.3C275.1,284.4 274.8,284.3 274.6,284.3C274.3,284.3 274.1,284.3 273.8,284.3C273.6,284.3 273.4,284.3 273.2,284.3C273.0,284.4 272.8,284.5 272.6,284.6C272.4,284.6 272.2,284.7 272.0,284.7C271.9,284.8 271.6,284.8 271.5,284.8C271.3,284.9 271.1,284.9 270.9,285.1C270.8,285.2 270.7,285.7 270.5,285.9C270.4,286.1 270.2,286.4 270.0,286.3C269.8,286.3 269.5,285.8 269.3,285.8C269.1,285.7 269.0,286.0 268.8,286.2C268.6,286.3 268.5,286.5 268.3,286.4C268.1,286.4 267.8,286.0 267.6,285.8C267.4,285.6 267.3,285.5 267.1,285.5C266.9,285.4 266.7,285.4 266.5,285.4C266.4,285.5 266.2,285.7 266.0,285.9C265.8,286.0 265.6,286.3 265.4,286.2C265.3,286.2 265.1,285.8 264.9,285.7C264.7,285.5 264.6,285.4 264.4,285.4C264.2,285.3 264.1,285.2 263.9,285.1C263.7,285.0 263.5,284.9 263.4,284.9C263.2,284.8 263.0,284.8 262.9,284.7C262.7,284.6 262.5,284.4 262.4,284.3C262.2,284.1 262.1,284.0 261.9,283.8C261.8,283.7 261.6,283.6 261.5,283.4C261.4,283.3 261.2,283.2 261.1,283.0C260.9,282.9 260.8,282.8 260.6,282.7C260.5,282.6 260.3,282.5 260.1,282.4C260.0,282.4 259.7,282.5 259.5,282.5C259.3,282.5 259.1,282.5 259.0,282.4C258.8,282.2 258.8,281.9 258.6,281.8C258.5,281.6 258.3,281.5 258.2,281.4C258.0,281.4 257.7,281.5 257.5,281.4C257.4,281.2 257.3,280.9 257.2,280.6C257.2,280.4 257.1,280.1 257.0,279.8C257.0,279.6 256.9,279.4 256.8,279.2C256.7,278.9 256.6,278.8 256.5,278.6C256.4,278.4 256.3,278.1 256.2,278.0C256.1,277.8 256.0,277.6 255.8,277.5C255.6,277.4 255.3,277.5 255.1,277.3C254.9,277.2 254.7,277.1 254.7,276.8C254.6,276.6 254.7,276.2 254.7,275.9C254.7,275.6 254.6,275.4 254.5,275.2C254.4,275.0 254.3,274.8 254.1,274.6C254.0,274.5 253.7,274.4 253.5,274.2C253.3,274.1 253.0,274.0 252.8,273.8C252.7,273.6 252.7,273.3 252.6,273.1C252.5,272.8 252.4,272.6 252.3,272.4C252.2,272.1 252.1,271.9 252.0,271.6C251.9,271.4 252.0,271.1 252.0,270.8C251.9,270.5 251.8,270.3 251.7,270.1C251.6,269.8 251.4,269.6 251.3,269.3C251.2,269.1 251.1,268.8 251.1,268.5C251.0,268.3 250.9,268.0 250.8,267.7C250.8,267.4 250.7,267.1 250.7,266.9C250.6,266.6 250.6,266.3 250.6,266.0C250.6,265.7 250.5,265.4 250.5,265.1C250.4,264.8 250.2,264.5 250.2,264.2C250.2,263.9 250.4,263.7 250.5,263.4C250.7,263.1 250.8,262.9 250.9,262.6C251.0,262.3 251.0,262.0 251.1,261.8C251.1,261.5 251.2,261.2 251.2,260.9C251.3,260.7 251.4,260.4 251.4,260.1C251.5,259.8 251.5,259.5 251.5,259.3C251.6,259.0 251.7,258.8 251.7,258.5C251.8,258.2 251.9,257.9 252.0,257.7C252.0,257.4 252.1,257.2 252.2,256.9C252.3,256.7 252.5,256.5 252.6,256.2C252.7,256.0 252.8,255.8 253.0,255.6C253.1,255.4 253.3,255.2 253.4,255.0C253.6,254.8 253.7,254.6 253.8,254.4C254.0,254.2 254.2,254.1 254.4,253.9C254.5,253.8 254.7,253.6 254.8,253.4C255.0,253.2 255.2,253.1 255.3,253.0C255.5,252.8 255.6,252.6 255.7,252.4C255.9,252.2 256.0,252.1 256.1,251.8C256.2,251.6 256.2,251.3 256.4,251.1C256.5,250.9 256.6,250.7 256.8,250.6C257.0,250.5 257.2,250.6 257.4,250.4C257.5,250.2 257.6,249.8 257.7,249.6C257.8,249.3 257.8,249.0 258.0,248.9C258.1,248.7 258.3,248.5 258.5,248.5C258.7,248.4 259.0,248.7 259.2,248.7C259.4,248.7 259.6,248.7 259.8,248.5C259.9,248.3 259.9,247.8 260.1,247.6C260.2,247.4 260.4,247.2 260.6,247.2C260.7,247.2 261.0,247.4 261.2,247.4C261.4,247.3 261.5,247.1 261.7,247.0C261.9,246.9 262.0,246.8 262.2,246.7C262.4,246.6 262.6,246.6 262.7,246.6C262.9,246.6 263.1,246.6 263.3,246.6C263.5,246.6 263.7,246.5 263.8,246.5C264.0,246.5 264.2,246.6 264.4,246.6C264.6,246.7 264.8,246.6 264.9,246.7C265.1,246.7 265.3,246.8 265.5,246.8C265.6,246.8 265.8,246.9 266.0,246.9C266.2,246.9 266.4,246.9 266.5,246.9C266.7,247.0 266.9,247.1 267.0,247.1C267.2,247.1 267.4,246.9 267.6,246.8C267.8,246.7 268.0,246.5 268.2,246.5C268.3,246.5 268.5,246.6 268.7,246.7C268.9,246.8 269.0,247.0 269.2,247.1C269.3,247.2 269.5,247.3 269.7,247.3C269.9,247.3 270.1,247.1 270.3,247.1C270.5,247.1 270.7,247.0 270.9,247.1C271.0,247.3 271.1,247.7 271.2,248.0C271.4,248.2 271.5,248.4 271.6,248.5C271.8,248.7 272.0,248.7 272.1,248.8C272.3,248.9 272.4,249.1 272.6,249.2C272.8,249.3 273.0,249.3 273.1,249.4C273.3,249.5 273.4,249.7 273.6,249.8C273.7,249.9 273.9,250.0 274.1,250.1C274.2,250.3 274.4,250.4 274.5,250.5C274.7,250.7 274.8,250.9 275.0,251.0C275.2,251.1 275.5,250.9 275.7,250.9C275.9,251.0 276.1,251.2 276.2,251.5C276.3,251.7 276.3,252.1 276.3,252.3C276.4,252.6 276.5,252.8 276.7,253.0C276.8,253.2 276.9,253.4 277.1,253.5C277.2,253.7 277.4,253.9 277.5,254.1C277.6,254.2 277.8,254.5 277.9,254.6C278.0,254.8 278.2,255.0 278.3,255.2C278.4,255.4 278.5,255.7 278.6,255.9C278.7,256.1 278.9,256.3 279.0,256.6C279.1,256.8 279.0,257.1 279.1,257.4C279.1,257.7 279.2,257.9 279.2,258.2C279.3,258.4 279.3,258.7 279.4,259.0C279.4,259.2 279.4,259.5 279.4,259.8C279.4,260.1 279.3,260.4 279.3,260.6C279.3,260.9 279.4,261.1 279.4,261.4C279.4,261.7 279.3,261.9 279.4,262.2C279.4,262.5 279.4,262.7 279.4,263.0C279.5,263.2 279.4,263.5 279.5,263.7C279.5,264.0 279.6,264.2 279.6,264.5C279.6,264.7 279.6,265.0 279.6,265.2C279.6,265.5 279.7,265.7 279.7,266.0Z" fill="#f8cdd0" stroke="#eeb3b8" stroke-width="1.1"/>
</g>
<g>
<path d="M188.8,182.0C188.5,182.4 188.0,182.7 187.9,183.1C187.8,183.4 188.1,183.8 188.0,184.1C188.0,184.5 187.8,184.8 187.6,185.1C187.3,185.5 186.8,185.7 186.7,186.1C186.5,186.4 186.5,186.7 186.6,187.1C186.7,187.5 187.2,187.9 187.3,188.3C187.4,188.7 187.5,189.1 187.3,189.4C187.2,189.8 186.5,189.9 186.3,190.2C186.1,190.6 186.2,190.9 186.2,191.3C186.1,191.7 186.1,192.0 186.1,192.4C186.1,192.8 186.2,193.3 186.0,193.5C185.7,193.8 185.1,193.9 184.7,194.1C184.3,194.3 183.8,194.5 183.5,194.7C183.1,194.9 183.0,195.2 182.7,195.4C182.5,195.7 182.2,195.9 182.0,196.2C181.8,196.4 181.7,196.8 181.4,197.0C181.2,197.3 180.9,197.4 180.6,197.7C180.4,197.9 180.3,198.2 180.0,198.5C179.8,198.7 179.4,198.9 179.2,199.1C178.9,199.3 178.7,199.5 178.4,199.7C178.1,199.9 177.8,200.1 177.5,200.3C177.2,200.5 176.9,200.6 176.7,200.8C176.4,201.0 176.2,201.3 175.9,201.5C175.7,201.7 175.4,201.8 175.1,202.0C174.8,202.2 174.5,202.3 174.2,202.6C174.0,202.8 173.8,203.1 173.6,203.4C173.3,203.6 173.0,203.7 172.8,204.0C172.5,204.2 172.3,204.5 172.1,204.8C171.8,205.1 171.6,205.5 171.4,205.7C171.1,206.0 170.8,206.3 170.5,206.5C170.2,206.7 169.9,206.8 169.6,207.1C169.3,207.3 169.0,207.7 168.8,208.0C168.5,208.4 168.3,208.9 168.0,209.2C167.6,209.5 167.3,209.7 166.9,209.7C166.5,209.7 166.0,209.2 165.6,209.2C165.2,209.2 164.9,209.4 164.5,209.6C164.2,209.8 163.8,210.1 163.5,210.2C163.1,210.3 162.7,210.1 162.3,210.2C161.9,210.2 161.5,210.3 161.2,210.3C160.8,210.3 160.4,210.2 160.0,210.1C159.6,210.1 159.2,210.0 158.9,210.0C158.5,210.1 158.1,210.2 157.7,210.2C157.3,210.3 156.9,210.3 156.5,210.4C156.1,210.6 155.6,211.2 155.2,211.3C154.8,211.4 154.3,211.4 154.0,211.2C153.6,210.9 153.4,210.1 153.1,209.8C152.8,209.5 152.4,209.4 152.0,209.3C151.6,209.2 151.1,209.5 150.8,209.4C150.4,209.3 150.0,209.1 149.7,208.8C149.4,208.6 149.2,208.1 148.9,207.8C148.6,207.6 148.2,207.5 147.9,207.3C147.6,207.1 147.2,206.9 146.9,206.7C146.6,206.5 146.4,206.2 146.1,205.9C145.8,205.7 145.5,205.4 145.3,205.2C145.0,205.0 144.7,204.7 144.4,204.5C144.1,204.2 143.9,204.0 143.7,203.7C143.4,203.4 143.3,203.0 143.1,202.7C142.8,202.4 142.5,202.3 142.3,202.0C142.0,201.8 141.8,201.5 141.5,201.3C141.3,201.0 141.1,200.7 140.7,200.6C140.3,200.5 139.8,200.5 139.3,200.4C138.8,200.4 138.3,200.4 137.9,200.2C137.4,200.1 137.2,199.8 136.8,199.7C136.4,199.5 135.5,199.6 135.3,199.3C135.1,199.0 135.6,198.2 135.6,197.7C135.6,197.3 135.5,196.9 135.4,196.6C135.2,196.2 135.0,195.9 134.8,195.6C134.6,195.3 134.3,195.0 134.1,194.7C133.9,194.4 133.8,194.0 133.7,193.7C133.6,193.4 133.5,193.0 133.3,192.7C133.2,192.3 133.1,192.0 133.0,191.6C132.8,191.3 132.6,191.0 132.4,190.6C132.3,190.3 132.2,189.9 131.9,189.7C131.5,189.4 130.7,189.2 130.3,188.9C129.9,188.6 129.3,188.3 129.3,187.9C129.2,187.5 129.8,187.0 130.0,186.6C130.3,186.1 130.6,185.7 130.8,185.3C130.9,184.9 130.9,184.6 130.9,184.2C130.9,183.8 130.8,183.5 130.8,183.1C130.8,182.7 131.0,182.4 130.9,182.0C130.9,181.6 130.7,181.3 130.5,180.9C130.4,180.5 130.0,180.1 130.0,179.7C130.1,179.4 130.7,179.0 130.9,178.7C131.2,178.3 131.5,178.0 131.7,177.7C131.8,177.3 131.8,177.0 131.9,176.6C132.0,176.3 132.1,175.9 132.2,175.6C132.3,175.2 132.3,174.9 132.5,174.5C132.6,174.2 132.9,173.9 133.1,173.6C133.3,173.2 133.4,172.9 133.6,172.6C133.8,172.3 134.0,172.0 134.2,171.7C134.4,171.4 134.6,171.1 134.9,170.8C135.1,170.6 135.5,170.3 135.7,170.0C135.8,169.7 135.9,169.4 136.0,169.0C136.1,168.7 136.0,168.2 136.3,168.0C136.5,167.7 137.0,167.6 137.3,167.4C137.7,167.2 138.0,167.0 138.2,166.7C138.4,166.4 138.5,166.1 138.6,165.7C138.6,165.3 138.4,164.7 138.5,164.3C138.6,163.9 138.9,163.7 139.2,163.4C139.4,163.2 139.9,163.1 140.2,162.9C140.5,162.7 140.9,162.6 141.1,162.3C141.3,161.9 141.1,161.3 141.4,161.0C141.6,160.7 142.0,160.6 142.4,160.5C142.8,160.4 143.4,160.6 143.8,160.5C144.1,160.4 144.4,160.1 144.7,159.9C144.9,159.6 144.9,159.0 145.3,158.9C145.6,158.7 146.3,159.1 146.7,159.1C147.2,159.2 147.5,159.1 147.9,159.1C148.2,159.0 148.5,158.8 148.9,158.7C149.2,158.6 149.5,158.5 149.9,158.4C150.2,158.3 150.6,158.3 150.9,158.2C151.2,158.0 151.5,157.9 151.8,157.7C152.1,157.5 152.3,157.0 152.7,156.9C153.0,156.8 153.4,157.0 153.8,157.1C154.2,157.2 154.6,157.6 155.0,157.6C155.3,157.7 155.6,157.6 156.0,157.5C156.3,157.5 156.6,157.4 157.0,157.3C157.3,157.2 157.6,157.1 158.0,157.1C158.3,157.0 158.6,157.0 159.0,156.9C159.3,156.9 159.7,156.7 160.0,156.6C160.3,156.5 160.7,156.4 161.0,156.4C161.4,156.3 161.7,156.3 162.1,156.3C162.4,156.3 162.8,156.3 163.2,156.3C163.5,156.3 163.9,156.4 164.2,156.4C164.6,156.4 164.9,156.5 165.3,156.4C165.6,156.4 166.0,156.2 166.4,156.2C166.8,156.1 167.2,156.1 167.6,156.1C167.9,156.2 168.2,156.4 168.6,156.4C169.0,156.4 169.6,156.0 170.0,155.9C170.4,155.8 170.9,155.8 171.2,155.9C171.6,156.0 171.8,156.5 172.1,156.7C172.4,156.8 172.8,156.9 173.2,157.0C173.6,157.0 174.1,157.0 174.6,156.9C175.1,156.8 175.7,156.6 176.2,156.5C176.8,156.4 177.5,156.0 177.9,156.1C178.4,156.2 178.6,156.7 178.8,157.1C179.0,157.5 179.0,158.1 179.2,158.5C179.5,158.8 179.9,158.9 180.2,159.2C180.5,159.4 180.7,159.8 181.0,160.1C181.3,160.3 181.7,160.5 182.0,160.8C182.3,161.1 182.6,161.4 182.8,161.7C183.1,162.0 183.3,162.3 183.5,162.6C183.8,162.9 184.1,163.2 184.3,163.5C184.6,163.8 184.8,164.2 185.0,164.5C185.1,164.9 185.3,165.2 185.5,165.6C185.7,165.9 185.9,166.2 186.0,166.6C186.1,167.0 186.2,167.4 186.2,167.8C186.3,168.2 186.4,168.6 186.5,169.0C186.5,169.4 186.7,169.7 186.7,170.1C186.8,170.5 187.0,170.8 187.0,171.2C187.1,171.6 187.1,172.0 187.2,172.3C187.2,172.7 187.3,173.1 187.5,173.4C187.6,173.7 187.9,174.0 188.2,174.3C188.5,174.6 189.1,174.9 189.2,175.2C189.4,175.6 189.3,176.0 189.2,176.4C189.1,176.8 188.8,177.2 188.7,177.6C188.5,178.0 188.4,178.4 188.4,178.8C188.4,179.1 188.6,179.5 188.7,179.8C188.9,180.2 189.3,180.5 189.3,180.9C189.3,181.3 189.0,181.6 188.8,182.0Z" fill="#f5b9bd" stroke="#e9a4aa" stroke-width="1.1"/>
<circle cx="162.9" cy="175.5" r="1" fill="#e9a4aa" opacity="0.6"/>
<circle cx="178.1" cy="173.0" r="1" fill="#e9a4aa" opacity="0.6"/>
<circle cx="159.3" cy="197.0" r="1" fill="#e9a4aa" opacity="0.6"/>
<circle cx="168.9" cy="183.9" r="1" fill="#e9a4aa" opacity="0.6"/>
<circle cx="147.9" cy="165.6" r="1" fill="#e9a4aa" opacity="0.6"/>
<circle cx="167.5" cy="199.8" r="1" fill="#e9a4aa" opacity="0.6"/>
<circle cx="147.3" cy="193.7" r="1" fill="#e9a4aa" opacity="0.6"/>
<circle cx="165.8" cy="172.4" r="1" fill="#e9a4aa" opacity="0.6"/>
<circle cx="167.1" cy="195.3" r="1" fill="#e9a4aa" opacity="0.6"/>
<circle cx="175.0" cy="180.0" r="1" fill="#e9a4aa" opacity="0.6"/>
<circle cx="165.4" cy="173.9" r="1" fill="#e9a4aa" opacity="0.6"/>
<circle cx="160.6" cy="160.7" r="1" fill="#e9a4aa" opacity="0.6"/>
<circle cx="152.9" cy="189.8" r="1" fill="#e9a4aa" opacity="0.6"/>
<path d="M168.9,207.0C168.9,207.4 168.8,207.8 168.8,208.1C168.7,208.5 168.6,208.8 168.5,209.2C168.5,209.5 168.5,209.9 168.5,210.2C168.4,210.6 168.5,211.0 168.5,211.4C168.5,211.8 168.5,212.2 168.5,212.7C168.5,213.2 168.6,213.6 168.6,214.1C168.6,214.6 168.6,215.2 168.6,215.7C168.6,216.2 168.5,216.7 168.5,217.2C168.4,217.7 168.3,218.2 168.2,218.7C168.1,219.2 168.0,219.6 167.8,220.0C167.7,220.4 167.5,220.8 167.3,221.1C167.2,221.4 166.9,221.6 166.7,221.8C166.5,222.0 166.3,222.2 166.1,222.3C165.8,222.5 165.6,222.6 165.4,222.7C165.1,222.8 164.9,222.8 164.7,222.9C164.5,222.9 164.2,222.9 164.0,222.8C163.8,222.8 163.6,222.8 163.3,222.8C163.1,222.7 162.9,222.6 162.7,222.5C162.5,222.4 162.3,222.2 162.0,222.1C161.8,221.9 161.7,221.7 161.5,221.5C161.3,221.3 161.1,221.1 160.9,220.9C160.7,220.7 160.5,220.5 160.4,220.2C160.2,220.0 160.0,219.7 159.9,219.4C159.7,219.2 159.5,219.0 159.4,218.7C159.2,218.5 159.1,218.2 158.9,218.0C158.7,217.8 158.5,217.6 158.3,217.4C158.2,217.2 158.0,217.0 157.8,216.8C157.6,216.5 157.4,216.3 157.2,216.0C157.0,215.8 156.8,215.5 156.6,215.2C156.5,214.8 156.3,214.4 156.2,214.0C156.0,213.6 155.9,213.2 155.8,212.8C155.7,212.4 155.6,211.9 155.6,211.4C155.5,210.9 155.5,210.4 155.5,209.9C155.6,209.4 155.6,208.9 155.7,208.4C155.8,207.9 155.9,207.5 156.0,207.0C156.1,206.5 156.2,206.1 156.3,205.7C156.4,205.3 156.6,204.9 156.7,204.5C156.8,204.2 156.8,203.8 156.9,203.4C157.0,203.1 157.2,202.7 157.3,202.4C157.4,202.0 157.4,201.7 157.5,201.3C157.5,200.9 157.6,200.5 157.7,200.2C157.7,199.8 157.8,199.4 157.9,199.1C158.0,198.7 158.0,198.3 158.1,197.9C158.2,197.5 158.3,197.1 158.4,196.8C158.6,196.4 158.7,196.1 158.8,195.8C159.0,195.5 159.1,195.1 159.3,194.9C159.4,194.6 159.6,194.3 159.8,194.1C159.9,193.8 160.1,193.6 160.3,193.4C160.5,193.2 160.7,193.0 160.9,192.8C161.0,192.7 161.2,192.5 161.4,192.3C161.6,192.0 161.8,191.8 162.0,191.6C162.2,191.4 162.4,191.3 162.7,191.1C162.9,191.0 163.1,190.8 163.3,190.7C163.6,190.6 163.8,190.6 164.0,190.6C164.3,190.6 164.5,190.6 164.7,190.7C165.0,190.8 165.2,190.9 165.4,191.0C165.6,191.2 165.9,191.4 166.1,191.7C166.3,191.9 166.5,192.1 166.7,192.4C166.8,192.7 167.0,193.1 167.2,193.4C167.3,193.8 167.5,194.2 167.6,194.5C167.8,194.9 168.0,195.2 168.1,195.6C168.2,195.9 168.3,196.4 168.5,196.8C168.6,197.1 168.7,197.5 168.8,197.9C169.0,198.3 169.1,198.7 169.2,199.1C169.3,199.5 169.4,199.9 169.4,200.4C169.5,200.8 169.5,201.3 169.5,201.8C169.5,202.2 169.5,202.7 169.5,203.2C169.5,203.6 169.4,204.1 169.4,204.5C169.4,205.0 169.3,205.4 169.2,205.8C169.1,206.2 169.0,206.6 168.9,207.0Z" fill="#e6979c" stroke="#e6979c" stroke-width="0.9"/>
</g>
<g>
<path d="M136.8,308.0C136.8,308.6 136.8,309.2 136.7,309.8C136.6,310.3 136.3,310.9 136.2,311.5C136.0,312.0 135.8,312.6 135.6,313.1C135.5,313.7 135.3,314.2 135.4,314.8C135.5,315.4 135.8,316.1 136.3,316.8C136.8,317.5 138.0,318.5 138.2,319.1C138.4,319.8 138.0,320.4 137.5,320.9C137.1,321.3 135.9,321.6 135.5,322.0C135.1,322.5 134.9,323.1 134.9,323.7C135.0,324.4 135.4,325.2 135.6,325.9C135.8,326.7 136.3,327.7 136.3,328.4C136.2,329.0 135.7,329.4 135.3,329.9C134.9,330.4 134.3,330.7 134.0,331.2C133.7,331.7 133.5,332.3 133.3,332.9C133.0,333.4 132.6,333.9 132.3,334.4C132.0,334.9 131.7,335.3 131.4,335.9C131.2,336.4 130.8,336.9 130.7,337.6C130.6,338.3 131.0,339.5 130.8,340.2C130.7,340.9 130.2,341.3 129.7,341.6C129.2,341.9 128.3,341.8 127.7,342.0C127.1,342.2 126.7,342.6 126.3,343.0C125.8,343.3 125.5,343.8 125.1,344.1C124.7,344.5 124.2,344.9 123.8,345.3C123.4,345.7 123.1,346.2 122.6,346.5C122.2,346.8 121.7,347.1 121.2,347.4C120.7,347.6 120.2,347.8 119.7,348.0C119.2,348.2 118.8,348.5 118.3,348.7C117.8,349.0 117.3,349.1 116.8,349.3C116.3,349.6 115.8,349.8 115.3,350.0C114.9,350.2 114.4,350.3 113.9,350.6C113.5,350.9 113.0,351.1 112.6,351.7C112.2,352.3 112.1,353.7 111.7,354.3C111.3,354.9 110.8,355.4 110.3,355.3C109.7,355.2 108.9,354.2 108.3,353.7C107.6,353.2 107.0,352.4 106.4,352.2C105.9,352.0 105.4,352.0 104.9,352.4C104.5,352.9 104.2,354.7 103.7,355.0C103.2,355.4 102.6,355.2 102.1,354.6C101.6,354.0 101.0,352.2 100.4,351.5C99.9,350.7 99.5,350.3 99.0,350.0C98.5,349.8 98.1,349.8 97.6,349.8C97.1,349.8 96.7,350.0 96.2,350.1C95.7,350.2 95.3,350.2 94.8,350.2C94.3,350.2 93.8,350.1 93.4,350.2C92.9,350.2 92.4,350.4 91.9,350.3C91.4,350.3 91.0,350.0 90.5,349.9C90.0,349.8 89.5,349.8 89.1,349.6C88.6,349.5 88.2,349.3 87.7,349.1C87.3,348.9 86.8,348.7 86.4,348.5C86.0,348.2 85.6,347.8 85.2,347.6C84.7,347.3 84.4,346.9 83.9,346.8C83.4,346.7 82.7,347.1 82.2,347.0C81.7,346.9 81.2,346.9 80.8,346.5C80.4,346.1 80.4,345.1 80.1,344.5C79.8,344.0 79.5,343.5 79.2,343.1C78.8,342.7 78.5,342.4 78.1,342.1C77.7,341.8 77.4,341.3 76.8,341.3C76.2,341.3 75.1,342.0 74.4,342.1C73.6,342.3 72.7,342.6 72.4,342.1C72.1,341.7 72.5,340.2 72.6,339.3C72.7,338.3 73.1,337.1 73.0,336.5C72.9,335.8 72.5,335.5 72.2,335.1C71.9,334.7 71.4,334.5 71.0,334.1C70.6,333.8 70.3,333.4 69.9,333.0C69.6,332.6 69.1,332.3 68.8,331.9C68.4,331.5 68.0,331.1 67.7,330.7C67.3,330.3 66.9,329.9 66.6,329.5C66.2,329.1 65.8,328.7 65.5,328.2C65.1,327.8 64.8,327.3 64.5,326.8C64.2,326.4 64.1,325.8 63.8,325.3C63.6,324.7 63.3,324.2 63.1,323.7C62.9,323.2 62.8,322.6 62.6,322.0C62.3,321.5 62.0,321.0 61.8,320.4C61.6,319.9 61.7,319.2 61.4,318.7C61.1,318.2 60.5,317.7 59.9,317.2C59.3,316.7 58.2,316.3 57.7,315.7C57.2,315.2 57.2,314.5 57.0,313.9C56.9,313.2 57.0,312.6 57.0,311.9C57.0,311.3 57.3,310.6 57.3,309.9C57.2,309.3 57.0,308.7 56.8,308.0C56.6,307.3 56.2,306.7 55.9,306.0C55.6,305.3 55.0,304.6 55.0,303.9C55.0,303.2 55.6,302.6 55.9,302.0C56.2,301.3 56.5,300.7 56.7,300.1C56.9,299.4 57.0,298.8 57.2,298.2C57.4,297.5 57.8,297.0 58.0,296.3C58.1,295.7 58.2,295.1 58.3,294.4C58.3,293.7 57.9,292.9 58.1,292.3C58.2,291.6 58.8,291.1 59.2,290.6C59.6,290.1 60.3,289.7 60.7,289.2C61.2,288.8 61.6,288.3 62.0,287.8C62.3,287.3 62.5,286.7 62.9,286.2C63.3,285.7 63.7,285.3 64.2,284.9C64.6,284.5 65.2,284.2 65.6,283.8C66.0,283.4 66.4,282.9 66.8,282.5C67.2,282.1 67.7,281.8 68.1,281.4C68.4,281.0 68.8,280.5 69.1,280.1C69.3,279.6 69.4,278.9 69.7,278.4C70.0,277.9 70.3,277.4 70.8,277.1C71.2,276.8 71.9,276.7 72.3,276.4C72.8,276.1 73.1,275.7 73.5,275.3C73.8,274.9 74.1,274.4 74.5,274.1C74.9,273.7 75.3,273.4 75.8,273.1C76.2,272.8 76.7,272.7 77.2,272.4C77.6,272.1 78.0,271.8 78.4,271.5C78.9,271.3 79.3,271.1 79.8,270.9C80.3,270.7 80.8,270.6 81.2,270.4C81.7,270.3 82.2,270.1 82.6,269.9C83.1,269.8 83.6,269.8 84.1,269.6C84.5,269.5 84.9,269.1 85.3,268.9C85.7,268.6 86.2,268.6 86.6,268.3C87.0,268.0 87.4,267.5 87.8,267.3C88.3,267.0 88.7,267.0 89.2,266.7C89.6,266.5 90.0,266.1 90.5,265.9C90.9,265.6 91.4,265.6 91.8,265.3C92.3,265.0 92.7,264.4 93.1,264.0C93.5,263.5 94.0,263.0 94.5,262.7C94.9,262.4 95.4,262.0 96.0,262.1C96.5,262.2 97.0,262.8 97.5,263.2C98.0,263.6 98.5,264.4 99.0,264.5C99.5,264.6 100.0,264.0 100.5,263.8C101.0,263.5 101.5,263.0 102.0,263.0C102.5,263.1 102.9,263.7 103.4,264.1C103.8,264.5 104.3,265.0 104.7,265.2C105.2,265.4 105.7,265.4 106.2,265.4C106.7,265.3 107.2,265.2 107.7,265.0C108.2,264.9 108.9,264.4 109.3,264.7C109.8,265.0 110.0,266.2 110.3,266.8C110.7,267.3 111.0,267.8 111.5,268.0C111.9,268.2 112.5,267.9 113.0,267.9C113.5,268.0 114.0,268.1 114.5,268.3C114.9,268.6 115.2,269.1 115.6,269.5C116.0,269.8 116.4,270.1 116.8,270.3C117.3,270.5 117.8,270.5 118.3,270.7C118.8,270.8 119.2,271.1 119.7,271.2C120.3,271.4 120.9,271.4 121.4,271.5C121.9,271.7 122.4,271.9 122.9,272.1C123.3,272.4 123.7,272.8 124.1,273.2C124.5,273.5 124.9,273.9 125.4,274.2C125.8,274.6 126.2,274.9 126.7,275.2C127.1,275.6 127.4,276.0 128.0,276.2C128.6,276.5 129.6,276.2 130.1,276.5C130.7,276.8 131.1,277.2 131.3,277.8C131.5,278.5 131.2,279.5 131.2,280.3C131.3,281.0 131.3,281.7 131.5,282.3C131.6,282.9 131.9,283.4 132.3,283.9C132.6,284.3 133.0,284.7 133.5,285.1C133.9,285.5 134.6,285.8 135.0,286.3C135.4,286.7 135.8,287.2 135.9,287.9C136.0,288.5 135.6,289.4 135.6,290.1C135.5,290.7 135.7,291.3 135.8,291.9C135.9,292.5 136.0,293.1 136.1,293.7C136.2,294.3 136.3,294.9 136.4,295.5C136.5,296.1 136.5,296.7 136.5,297.3C136.6,297.9 136.6,298.5 136.7,299.1C136.7,299.7 136.9,300.3 136.9,300.9C137.0,301.5 136.9,302.1 137.0,302.7C137.0,303.3 137.1,303.9 137.2,304.4C137.2,305.0 137.2,305.6 137.1,306.2C137.1,306.8 136.9,307.4 136.8,308.0Z" fill="#f3aeb2" stroke="#c9646e" stroke-width="1.1"/>
<circle cx="77.8" cy="325.4" r="1" fill="#c9646e" opacity="0.6"/>
<circle cx="105.3" cy="306.6" r="1" fill="#c9646e" opacity="0.6"/>
<circle cx="85.2" cy="273.9" r="1" fill="#c9646e" opacity="0.6"/>
<circle cx="96.8" cy="320.2" r="1" fill="#c9646e" opacity="0.6"/>
<circle cx="90.0" cy="308.1" r="1" fill="#c9646e" opacity="0.6"/>
<circle cx="98.5" cy="342.7" r="1" fill="#c9646e" opacity="0.6"/>
<circle cx="84.4" cy="281.1" r="1" fill="#c9646e" opacity="0.6"/>
<circle cx="81.2" cy="320.5" r="1" fill="#c9646e" opacity="0.6"/>
<circle cx="117.7" cy="309.7" r="1" fill="#c9646e" opacity="0.6"/>
<circle cx="97.0" cy="301.9" r="1" fill="#c9646e" opacity="0.6"/>
<circle cx="111.9" cy="273.9" r="1" fill="#c9646e" opacity="0.6"/>
<circle cx="78.8" cy="292.2" r="1" fill="#c9646e" opacity="0.6"/>
<circle cx="66.9" cy="306.0" r="1" fill="#c9646e" opacity="0.6"/>
<circle cx="120.2" cy="306.1" r="1" fill="#c9646e" opacity="0.6"/>
<circle cx="70.9" cy="323.8" r="1" fill="#c9646e" opacity="0.6"/>
<circle cx="87.8" cy="311.0" r="1" fill="#c9646e" opacity="0.6"/>
<circle cx="69.0" cy="303.3" r="1" fill="#c9646e" opacity="0.6"/>
<circle cx="81.3" cy="302.4" r="1" fill="#c9646e" opacity="0.6"/>
<circle cx="91.5" cy="280.7" r="1" fill="#c9646e" opacity="0.6"/>
<circle cx="100.0" cy="338.8" r="1" fill="#c9646e" opacity="0.6"/>
<circle cx="87.1" cy="274.3" r="1" fill="#c9646e" opacity="0.6"/>
<circle cx="99.0" cy="287.8" r="1" fill="#c9646e" opacity="0.6"/>
<circle cx="68.7" cy="317.0" r="1" fill="#c9646e" opacity="0.6"/>
<circle cx="115.2" cy="302.6" r="1" fill="#c9646e" opacity="0.6"/>
<circle cx="85.3" cy="312.3" r="1" fill="#c9646e" opacity="0.6"/>
<circle cx="115.6" cy="302.9" r="1" fill="#c9646e" opacity="0.6"/>
<circle cx="98.8" cy="312.0" r="1" fill="#c9646e" opacity="0.6"/>
<circle cx="118.2" cy="294.5" r="1" fill="#c9646e" opacity="0.6"/>
<circle cx="69.1" cy="297.7" r="1" fill="#c9646e" opacity="0.6"/>
<circle cx="101.5" cy="274.7" r="1" fill="#c9646e" opacity="0.6"/>
<circle cx="84.0" cy="324.5" r="1" fill="#c9646e" opacity="0.6"/>
<path d="M131.9,299.0C131.9,299.6 132.0,300.3 132.0,300.9C132.0,301.5 132.0,302.2 131.9,302.8C131.9,303.5 131.9,304.2 131.9,304.8C131.8,305.5 131.5,306.1 131.4,306.7C131.2,307.3 131.2,308.0 130.9,308.6C130.7,309.2 130.5,309.8 130.2,310.3C129.8,310.8 129.4,311.3 129.1,311.8C128.7,312.2 128.3,312.7 127.9,313.1C127.5,313.5 127.1,313.9 126.6,314.2C126.2,314.5 125.7,314.8 125.2,315.1C124.8,315.3 124.4,315.7 123.9,315.9C123.5,316.1 123.0,316.2 122.5,316.4C122.0,316.6 121.6,316.8 121.2,317.0C120.7,317.3 120.3,317.6 119.9,317.8C119.5,318.1 119.0,318.1 118.5,318.3C118.1,318.4 117.6,318.5 117.1,318.6C116.7,318.7 116.2,318.8 115.7,318.8C115.2,318.8 114.8,318.8 114.3,318.7C113.8,318.6 113.3,318.6 112.9,318.4C112.4,318.2 112.0,317.9 111.6,317.6C111.2,317.3 110.8,317.0 110.4,316.7C110.0,316.5 109.6,316.2 109.2,315.9C108.8,315.7 108.5,315.3 108.1,315.1C107.7,314.8 107.3,314.6 106.9,314.4C106.5,314.1 106.1,313.9 105.7,313.6C105.2,313.4 104.8,313.1 104.4,312.8C104.0,312.6 103.6,312.3 103.1,312.0C102.7,311.7 102.1,311.4 101.7,311.1C101.3,310.7 100.9,310.3 100.6,309.8C100.2,309.3 100.1,308.7 99.8,308.1C99.6,307.6 99.3,307.0 99.1,306.4C99.0,305.8 98.9,305.2 98.9,304.6C98.9,303.9 98.9,303.3 99.0,302.6C99.1,302.0 99.3,301.4 99.4,300.8C99.5,300.2 99.5,299.6 99.6,299.0C99.7,298.4 99.9,297.9 100.0,297.3C100.2,296.8 100.3,296.2 100.5,295.7C100.6,295.2 100.5,294.6 100.6,294.0C100.7,293.5 100.8,293.0 100.9,292.4C101.0,291.8 101.1,291.3 101.2,290.7C101.3,290.1 101.4,289.5 101.5,288.9C101.6,288.3 101.8,287.8 102.0,287.2C102.2,286.6 102.4,286.0 102.6,285.5C102.8,284.9 103.1,284.3 103.4,283.8C103.7,283.3 104.0,282.7 104.3,282.2C104.6,281.7 105.0,281.2 105.4,280.8C105.7,280.3 106.1,279.8 106.6,279.4C107.0,279.0 107.4,278.6 107.9,278.2C108.3,277.8 108.8,277.5 109.3,277.2C109.8,277.0 110.4,276.8 110.9,276.6C111.4,276.5 112.0,276.4 112.5,276.3C113.1,276.3 113.6,276.3 114.2,276.4C114.7,276.5 115.3,276.8 115.8,277.1C116.3,277.4 116.8,277.8 117.3,278.2C117.7,278.7 118.1,279.3 118.5,279.9C118.9,280.4 119.2,281.0 119.5,281.5C119.9,282.0 120.2,282.5 120.5,283.0C120.8,283.5 121.0,284.1 121.2,284.5C121.5,285.0 121.7,285.4 122.0,285.7C122.3,286.1 122.5,286.5 122.8,286.8C123.1,287.1 123.5,287.2 123.8,287.4C124.2,287.6 124.7,287.8 125.1,288.0C125.5,288.2 125.9,288.4 126.3,288.7C126.8,289.0 127.3,289.2 127.7,289.5C128.1,289.8 128.4,290.3 128.8,290.7C129.2,291.1 129.6,291.5 129.9,292.0C130.3,292.5 130.6,293.0 130.8,293.5C131.1,294.1 131.2,294.7 131.4,295.3C131.5,295.9 131.7,296.5 131.8,297.1C131.9,297.7 131.9,298.4 131.9,299.0Z" fill="#d98088" stroke="#b55a63" stroke-width="0.9" opacity="0.9"/>
</g>
<g>
<path d="M158.3,243.0C158.5,243.4 158.6,243.8 158.8,244.3C159.0,244.7 159.4,245.1 159.6,245.6C159.7,246.0 159.5,246.4 159.5,246.9C159.5,247.3 159.6,247.8 159.6,248.2C159.5,248.6 159.4,249.1 159.4,249.5C159.4,249.9 159.3,250.4 159.4,250.9C159.6,251.3 160.1,251.9 160.3,252.4C160.4,252.9 160.6,253.4 160.3,253.8C159.9,254.2 158.8,254.4 158.2,254.8C157.6,255.1 157.2,255.4 156.8,255.8C156.5,256.2 156.5,256.7 156.2,257.0C155.9,257.4 155.4,257.7 155.0,258.1C154.6,258.4 154.4,258.8 154.0,259.2C153.6,259.5 153.1,259.8 152.7,260.1C152.2,260.4 151.8,260.8 151.4,261.1C150.9,261.4 150.5,261.7 150.0,262.0C149.6,262.3 149.1,262.5 148.7,262.8C148.3,263.2 148.0,263.5 147.8,263.9C147.6,264.4 147.9,265.2 147.6,265.6C147.4,266.0 146.7,266.1 146.1,266.3C145.5,266.5 144.6,266.4 143.9,266.6C143.3,266.7 142.8,267.0 142.4,267.2C141.9,267.5 141.5,267.8 141.0,268.0C140.5,268.3 139.9,268.3 139.3,268.5C138.8,268.7 138.3,268.9 137.8,269.1C137.2,269.3 136.7,269.5 136.1,269.6C135.6,269.7 135.0,269.9 134.4,270.0C133.9,270.1 133.2,270.1 132.8,270.4C132.3,270.6 132.1,271.2 131.7,271.6C131.4,272.1 131.2,272.9 130.7,273.1C130.2,273.3 129.4,273.1 128.7,273.0C128.0,272.9 127.2,272.5 126.6,272.5C126.0,272.5 125.5,272.8 125.0,272.9C124.4,273.1 123.9,273.3 123.4,273.4C122.8,273.6 122.3,273.6 121.7,273.9C121.2,274.2 120.7,274.6 120.2,274.9C119.7,275.3 119.2,276.1 118.6,276.1C118.0,276.2 117.3,275.6 116.6,275.4C116.0,275.2 115.4,274.9 114.8,274.8C114.2,274.6 113.6,274.7 113.0,274.6C112.4,274.6 111.8,274.5 111.2,274.4C110.7,274.4 110.1,274.5 109.5,274.4C108.9,274.3 108.4,274.1 107.8,274.0C107.2,273.9 106.6,273.9 106.1,273.8C105.5,273.8 104.9,273.7 104.4,273.5C103.8,273.4 103.3,273.2 102.8,273.0C102.2,272.9 101.7,272.6 101.2,272.5C100.6,272.4 100.0,272.4 99.4,272.4C98.8,272.4 98.1,272.5 97.6,272.4C97.0,272.3 96.6,272.0 96.1,271.8C95.6,271.6 95.0,271.5 94.5,271.3C94.0,271.1 93.6,270.7 93.2,270.3C92.9,270.0 92.7,269.4 92.2,269.1C91.7,268.9 91.2,268.9 90.4,268.9C89.7,269.0 88.6,269.4 88.0,269.4C87.4,269.3 87.0,268.9 86.7,268.5C86.3,268.2 86.1,267.7 85.8,267.3C85.5,266.9 85.1,266.6 84.7,266.3C84.3,266.0 83.8,265.8 83.4,265.5C83.0,265.2 82.7,264.9 82.3,264.6C82.0,264.3 81.6,264.0 81.2,263.7C80.9,263.4 80.7,263.0 80.4,262.6C80.0,262.3 79.7,262.0 79.4,261.7C79.0,261.4 78.7,261.1 78.3,260.8C78.0,260.5 77.6,260.1 77.2,259.8C76.9,259.5 76.5,259.2 76.2,258.9C75.9,258.6 75.8,258.2 75.4,257.9C75.0,257.5 74.5,257.3 73.8,257.1C73.2,256.8 71.9,256.8 71.5,256.5C71.1,256.2 71.3,255.6 71.3,255.2C71.4,254.7 71.8,254.2 71.8,253.7C71.8,253.3 71.6,252.9 71.5,252.5C71.4,252.1 71.3,251.7 71.2,251.3C71.1,250.9 70.9,250.5 70.8,250.1C70.7,249.7 70.7,249.3 70.6,248.9C70.6,248.5 70.6,248.1 70.6,247.7C70.6,247.3 70.6,246.9 70.6,246.5C70.6,246.1 70.5,245.7 70.5,245.4C70.6,245.0 70.6,244.6 70.6,244.2C70.7,243.8 70.9,243.4 70.9,243.0C71.0,242.6 71.0,242.2 70.9,241.8C70.9,241.4 70.7,241.0 70.6,240.6C70.5,240.3 70.1,239.8 70.3,239.4C70.4,239.1 71.2,238.7 71.5,238.4C71.8,238.0 71.7,237.6 71.9,237.2C72.1,236.9 72.4,236.5 72.6,236.2C72.9,235.8 73.2,235.5 73.3,235.1C73.5,234.7 73.6,234.4 73.6,234.0C73.5,233.6 73.4,233.1 73.1,232.6C72.9,232.1 72.3,231.6 72.1,231.1C71.8,230.5 71.5,230.0 71.6,229.5C71.6,229.1 72.4,228.9 72.2,228.4C72.0,227.8 70.5,226.7 70.3,226.1C70.0,225.5 70.2,225.1 70.6,224.7C71.0,224.3 71.8,224.1 72.5,224.0C73.3,223.8 74.4,223.8 75.0,223.5C75.6,223.3 76.0,223.0 76.4,222.6C76.7,222.3 76.6,221.7 77.0,221.3C77.4,221.0 78.1,220.9 78.6,220.6C79.0,220.3 79.5,220.0 79.9,219.7C80.3,219.3 80.6,218.9 80.9,218.6C81.3,218.2 81.9,218.0 82.2,217.6C82.6,217.2 82.8,216.7 83.1,216.2C83.3,215.7 83.4,215.1 83.7,214.6C84.1,214.2 84.5,213.8 85.0,213.4C85.4,213.1 85.8,212.6 86.5,212.5C87.2,212.4 88.2,212.8 89.0,212.8C89.8,212.8 90.4,212.8 91.1,212.7C91.7,212.6 92.3,212.4 92.9,212.3C93.5,212.1 94.0,211.8 94.6,211.7C95.2,211.5 95.8,211.4 96.4,211.3C97.0,211.2 97.7,211.1 98.3,211.1C98.9,211.0 99.5,210.9 100.1,210.8C100.7,210.8 101.4,210.8 102.0,210.7C102.6,210.7 103.2,210.6 103.9,210.6C104.5,210.6 105.1,210.8 105.8,210.9C106.4,211.0 107.0,211.0 107.6,211.1C108.3,211.2 108.9,211.3 109.5,211.4C110.1,211.5 110.7,211.6 111.3,211.8C111.8,211.9 112.4,212.1 113.0,212.3C113.6,212.4 114.1,212.4 114.7,212.4C115.3,212.4 115.8,212.5 116.4,212.3C117.0,212.1 117.6,211.8 118.3,211.5C119.0,211.1 119.7,210.4 120.4,210.3C121.0,210.1 121.7,210.2 122.2,210.5C122.7,210.8 123.0,211.8 123.5,212.3C123.9,212.7 124.4,213.0 124.9,213.3C125.4,213.6 125.9,213.7 126.4,213.8C127.0,214.0 127.5,214.2 128.0,214.4C128.5,214.5 128.9,214.9 129.5,215.0C130.0,215.1 130.6,215.2 131.2,215.2C131.8,215.2 132.7,214.9 133.2,215.1C133.6,215.4 133.6,216.2 133.9,216.7C134.2,217.2 134.5,217.6 134.8,217.9C135.2,218.2 135.7,218.4 136.1,218.6C136.5,218.9 136.9,219.1 137.3,219.4C137.7,219.7 138.1,219.9 138.5,220.2C138.9,220.5 139.4,220.7 139.7,221.0C140.0,221.3 140.2,221.7 140.6,222.0C140.9,222.3 141.4,222.4 141.8,222.7C142.1,223.0 142.3,223.4 142.7,223.7C143.0,224.0 143.3,224.3 143.6,224.6C143.9,224.9 144.3,225.2 144.6,225.5C144.9,225.8 145.0,226.1 145.3,226.4C145.6,226.7 146.0,227.0 146.4,227.3C146.7,227.6 147.0,227.9 147.6,228.0C148.3,228.2 149.4,228.2 150.4,228.2C151.4,228.3 153.1,228.1 153.7,228.4C154.2,228.7 153.9,229.3 153.6,229.8C153.4,230.3 152.4,231.1 152.1,231.6C151.8,232.1 151.6,232.6 151.7,232.9C151.8,233.3 152.3,233.6 152.7,233.9C153.0,234.2 153.7,234.5 153.9,234.9C154.1,235.2 154.0,235.7 154.0,236.1C154.0,236.5 153.8,236.9 153.9,237.3C154.0,237.6 154.3,238.0 154.6,238.4C154.9,238.7 155.3,239.1 155.6,239.4C155.9,239.8 156.2,240.2 156.5,240.6C156.9,241.0 157.2,241.4 157.5,241.8C157.8,242.2 158.1,242.6 158.3,243.0Z" fill="#f2a2a7" stroke="#c9646e" stroke-width="1.1"/>
<circle cx="89.0" cy="233.6" r="1" fill="#c9646e" opacity="0.6"/>
<circle cx="142.1" cy="226.8" r="1" fill="#c9646e" opacity="0.6"/>
<circle cx="116.8" cy="226.2" r="1" fill="#c9646e" opacity="0.6"/>
<circle cx="80.2" cy="237.8" r="1" fill="#c9646e" opacity="0.6"/>
<circle cx="95.8" cy="236.4" r="1" fill="#c9646e" opacity="0.6"/>
<circle cx="126.1" cy="267.2" r="1" fill="#c9646e" opacity="0.6"/>
<circle cx="118.3" cy="244.5" r="1" fill="#c9646e" opacity="0.6"/>
<circle cx="97.4" cy="241.1" r="1" fill="#c9646e" opacity="0.6"/>
<circle cx="115.3" cy="263.9" r="1" fill="#c9646e" opacity="0.6"/>
<circle cx="116.4" cy="224.1" r="1" fill="#c9646e" opacity="0.6"/>
<circle cx="141.0" cy="238.4" r="1" fill="#c9646e" opacity="0.6"/>
<circle cx="96.2" cy="262.0" r="1" fill="#c9646e" opacity="0.6"/>
<circle cx="119.9" cy="261.2" r="1" fill="#c9646e" opacity="0.6"/>
<circle cx="104.7" cy="236.1" r="1" fill="#c9646e" opacity="0.6"/>
<circle cx="81.9" cy="253.3" r="1" fill="#c9646e" opacity="0.6"/>
<circle cx="81.6" cy="230.8" r="1" fill="#c9646e" opacity="0.6"/>
<circle cx="106.1" cy="263.5" r="1" fill="#c9646e" opacity="0.6"/>
<circle cx="105.0" cy="245.0" r="1" fill="#c9646e" opacity="0.6"/>
<circle cx="94.0" cy="230.4" r="1" fill="#c9646e" opacity="0.6"/>
<circle cx="126.8" cy="245.0" r="1" fill="#c9646e" opacity="0.6"/>
<circle cx="78.1" cy="238.7" r="1" fill="#c9646e" opacity="0.6"/>
<circle cx="116.3" cy="258.0" r="1" fill="#c9646e" opacity="0.6"/>
<circle cx="90.0" cy="244.4" r="1" fill="#c9646e" opacity="0.6"/>
<circle cx="128.8" cy="229.1" r="1" fill="#c9646e" opacity="0.6"/>
<path d="M151.9,254.0C152.1,254.5 152.3,255.1 152.3,255.7C152.3,256.2 152.1,256.8 152.0,257.3C151.9,257.9 151.7,258.4 151.5,258.9C151.2,259.5 150.9,260.0 150.5,260.4C150.0,260.9 149.4,261.3 148.9,261.7C148.3,262.1 147.8,262.4 147.2,262.7C146.6,263.1 146.0,263.3 145.3,263.6C144.7,263.8 144.0,264.0 143.4,264.2C142.7,264.4 142.1,264.6 141.6,264.8C141.0,265.1 140.6,265.4 140.2,265.6C139.7,265.9 139.1,266.0 138.6,266.3C138.2,266.5 137.7,266.8 137.3,267.1C136.8,267.4 136.4,267.8 135.9,268.2C135.5,268.5 135.0,268.8 134.4,269.0C133.9,269.3 133.3,269.5 132.7,269.7C132.1,269.9 131.5,270.1 130.9,270.2C130.3,270.3 129.6,270.2 129.0,270.2C128.3,270.2 127.7,270.1 127.1,270.0C126.4,269.9 125.8,269.8 125.2,269.7C124.6,269.5 124.0,269.5 123.4,269.3C122.8,269.1 122.3,268.8 121.8,268.5C121.3,268.3 120.7,268.1 120.2,267.9C119.6,267.7 119.1,267.5 118.6,267.3C118.1,267.1 117.5,266.9 117.0,266.7C116.4,266.5 115.9,266.3 115.4,266.0C114.9,265.8 114.3,265.6 113.8,265.3C113.3,265.0 112.9,264.7 112.4,264.4C112.0,264.0 111.6,263.7 111.2,263.3C110.8,262.9 110.3,262.6 110.1,262.2C109.8,261.7 109.7,261.2 109.5,260.8C109.3,260.4 108.9,259.9 108.8,259.5C108.6,259.1 108.5,258.6 108.3,258.1C108.2,257.7 108.1,257.2 108.0,256.8C107.9,256.3 107.7,255.9 107.6,255.4C107.5,254.9 107.3,254.5 107.3,254.0C107.2,253.5 107.1,253.0 107.1,252.6C107.1,252.1 107.1,251.6 107.1,251.1C107.1,250.6 107.2,250.1 107.3,249.6C107.4,249.2 107.6,248.7 107.8,248.2C108.0,247.7 108.2,247.3 108.5,246.8C108.7,246.4 109.0,245.9 109.3,245.5C109.7,245.1 110.1,244.7 110.6,244.3C111.0,244.0 111.4,243.6 111.8,243.2C112.2,242.8 112.6,242.4 113.0,242.0C113.4,241.6 113.8,241.2 114.2,240.8C114.6,240.4 115.1,240.1 115.6,239.7C116.1,239.3 116.5,238.9 117.1,238.5C117.6,238.2 118.2,237.9 118.8,237.6C119.4,237.3 120.0,237.1 120.7,236.9C121.3,236.7 122.0,236.4 122.7,236.3C123.4,236.3 124.2,236.4 124.9,236.5C125.6,236.6 126.3,236.7 127.0,236.9C127.7,237.1 128.3,237.3 129.0,237.7C129.6,238.0 130.2,238.4 130.7,238.8C131.3,239.1 131.7,239.6 132.2,240.0C132.7,240.3 133.1,240.8 133.5,241.1C133.9,241.4 134.4,241.6 134.8,241.9C135.2,242.2 135.6,242.5 136.0,242.7C136.4,242.9 136.8,243.1 137.3,243.3C137.7,243.5 138.1,243.7 138.6,243.8C139.1,244.0 139.7,244.1 140.3,244.2C140.8,244.4 141.3,244.6 141.9,244.8C142.4,245.0 142.9,245.2 143.5,245.4C144.0,245.7 144.6,245.9 145.1,246.2C145.6,246.5 146.1,246.8 146.6,247.2C147.1,247.5 147.5,247.9 147.9,248.3C148.4,248.7 148.8,249.1 149.2,249.5C149.7,250.0 150.1,250.4 150.4,250.9C150.8,251.4 151.0,251.9 151.2,252.4C151.5,252.9 151.8,253.5 151.9,254.0Z" fill="#cc6870" stroke="#b55a63" stroke-width="0.9"/>
</g>
<g>
<path d="M137.5,184.0C137.6,184.4 137.8,184.8 137.9,185.2C138.0,185.6 138.0,186.0 138.1,186.4C138.2,186.8 138.4,187.2 138.6,187.6C138.7,188.0 138.9,188.5 139.0,188.9C139.1,189.3 139.1,189.8 139.2,190.2C139.2,190.6 139.4,191.1 139.4,191.5C139.4,192.0 139.2,192.4 139.2,192.8C139.3,193.3 139.6,193.8 139.7,194.3C139.9,194.8 140.2,195.4 140.1,195.8C140.0,196.3 139.6,196.6 139.3,196.9C138.9,197.3 138.2,197.4 137.9,197.8C137.7,198.2 137.6,198.6 137.7,199.2C137.8,199.7 138.4,200.5 138.5,201.1C138.7,201.7 139.0,202.4 138.7,202.8C138.5,203.2 137.4,203.1 137.1,203.4C136.7,203.8 136.7,204.3 136.6,204.8C136.4,205.2 136.4,205.8 136.0,206.1C135.7,206.5 135.1,206.6 134.6,206.8C134.1,207.0 133.5,207.1 133.1,207.3C132.7,207.6 132.6,208.0 132.3,208.4C132.0,208.8 132.0,209.4 131.5,209.6C131.1,209.8 130.3,209.6 129.7,209.6C129.2,209.7 128.7,209.7 128.2,209.9C127.7,210.0 127.3,210.1 126.9,210.3C126.5,210.4 126.1,210.7 125.7,210.8C125.3,211.0 124.8,211.0 124.5,211.2C124.1,211.4 123.7,211.6 123.4,211.9C123.0,212.1 122.7,212.4 122.4,212.7C122.0,213.0 121.7,213.4 121.4,213.6C121.0,213.8 120.5,213.7 120.1,213.8C119.7,214.0 119.3,214.4 118.9,214.5C118.5,214.6 118.0,214.5 117.5,214.4C117.1,214.4 116.6,214.3 116.2,214.3C115.7,214.3 115.4,214.4 114.9,214.5C114.5,214.6 114.1,214.5 113.7,214.6C113.3,214.7 112.9,214.8 112.5,214.9C112.1,215.0 111.7,215.2 111.3,215.3C110.8,215.3 110.4,215.3 110.0,215.4C109.6,215.4 109.2,215.4 108.8,215.5C108.3,215.6 107.9,215.7 107.5,215.7C107.1,215.7 106.7,215.6 106.2,215.6C105.8,215.5 105.4,215.4 105.0,215.4C104.6,215.4 104.1,215.4 103.7,215.5C103.3,215.5 102.8,215.8 102.4,215.7C102.0,215.5 101.7,214.9 101.3,214.5C101.0,214.2 100.7,213.7 100.3,213.4C100.0,213.1 99.6,212.9 99.2,212.8C98.8,212.8 98.4,213.0 97.9,213.0C97.5,213.1 97.0,213.3 96.6,213.1C96.2,212.9 96.1,212.1 95.7,212.0C95.4,211.8 94.8,212.0 94.4,212.0C93.9,212.0 93.4,212.2 93.0,211.9C92.7,211.7 92.7,210.9 92.4,210.5C92.2,210.1 91.8,209.9 91.6,209.6C91.3,209.3 91.0,209.0 90.7,208.7C90.4,208.5 90.1,208.2 89.7,208.1C89.3,207.9 89.0,207.7 88.5,207.7C87.9,207.8 87.0,208.2 86.4,208.3C85.9,208.3 85.2,208.3 85.1,207.9C84.9,207.5 85.5,206.2 85.5,205.6C85.6,205.0 85.5,204.5 85.4,204.1C85.3,203.7 85.0,203.4 84.8,203.1C84.5,202.8 84.1,202.6 83.8,202.4C83.5,202.1 83.2,201.9 82.9,201.6C82.7,201.3 82.5,200.9 82.2,200.7C81.8,200.4 81.5,200.1 81.0,200.0C80.4,199.8 79.4,200.0 78.9,199.8C78.4,199.6 77.9,199.3 77.9,198.9C77.8,198.4 78.5,197.6 78.5,197.2C78.5,196.7 78.4,196.3 78.0,196.0C77.5,195.8 76.2,195.8 75.7,195.5C75.1,195.3 74.8,194.9 74.7,194.5C74.6,194.1 75.1,193.4 75.3,192.9C75.4,192.5 75.4,192.0 75.5,191.6C75.5,191.1 75.6,190.7 75.5,190.3C75.5,189.8 75.3,189.4 75.2,189.0C75.2,188.6 75.3,188.2 75.4,187.7C75.4,187.3 75.4,186.9 75.5,186.5C75.6,186.1 75.7,185.6 75.8,185.2C75.9,184.8 76.1,184.4 76.3,184.0C76.4,183.6 76.4,183.2 76.5,182.8C76.6,182.4 76.8,182.0 76.9,181.6C77.0,181.2 77.0,180.8 77.1,180.5C77.2,180.1 77.3,179.7 77.3,179.3C77.4,178.9 77.5,178.5 77.5,178.1C77.6,177.7 77.6,177.4 77.6,176.9C77.6,176.5 77.5,176.1 77.4,175.6C77.3,175.2 77.0,174.7 77.2,174.3C77.3,173.9 78.1,173.8 78.4,173.4C78.8,173.1 78.9,172.8 79.1,172.4C79.3,172.1 79.5,171.7 79.7,171.4C79.9,171.0 80.2,170.7 80.3,170.4C80.4,170.0 80.5,169.6 80.5,169.1C80.5,168.6 80.1,168.0 80.2,167.6C80.4,167.2 80.8,166.9 81.2,166.7C81.5,166.4 82.1,166.4 82.4,166.1C82.8,165.8 82.9,165.4 83.1,165.1C83.2,164.7 83.4,164.3 83.4,163.7C83.4,163.2 83.1,162.4 83.2,161.9C83.4,161.5 83.7,161.2 84.1,161.0C84.5,160.8 85.3,161.0 85.7,160.8C86.2,160.7 86.4,160.3 86.7,160.0C87.0,159.7 87.3,159.4 87.5,159.1C87.8,158.7 88.0,158.4 88.3,157.9C88.5,157.5 88.6,156.9 88.8,156.5C89.0,156.0 89.2,155.5 89.6,155.2C89.9,154.9 90.5,155.1 90.9,154.9C91.4,154.7 91.7,154.4 92.1,154.2C92.5,154.0 92.8,153.7 93.2,153.5C93.6,153.2 94.0,153.0 94.4,152.8C94.8,152.6 95.2,152.5 95.6,152.3C96.1,152.2 96.5,152.0 96.9,151.9C97.3,151.8 97.8,151.9 98.3,151.8C98.7,151.7 99.1,151.4 99.5,151.2C99.9,151.0 100.3,150.6 100.8,150.6C101.2,150.7 101.8,151.3 102.2,151.4C102.7,151.4 103.1,151.0 103.5,151.0C104.0,150.9 104.4,151.0 104.9,151.1C105.3,151.2 105.8,151.5 106.2,151.7C106.6,151.8 107.1,151.9 107.5,152.0C107.9,152.0 108.4,151.8 108.8,151.8C109.2,151.8 109.6,152.0 110.1,152.1C110.5,152.1 110.9,152.0 111.3,152.1C111.8,152.1 112.2,152.3 112.6,152.4C113.0,152.6 113.4,152.8 113.8,152.9C114.2,153.1 114.6,153.0 115.0,153.2C115.4,153.3 115.8,153.6 116.2,153.7C116.6,153.9 117.0,154.0 117.4,154.2C117.7,154.3 118.1,154.6 118.5,154.7C118.9,154.8 119.4,154.7 119.8,154.7C120.3,154.7 120.8,154.6 121.2,154.8C121.6,154.9 122.0,155.2 122.2,155.5C122.5,155.9 122.7,156.5 122.9,156.9C123.2,157.3 123.6,157.5 123.8,157.8C124.1,158.1 124.4,158.4 124.7,158.7C124.9,159.0 125.2,159.4 125.5,159.7C125.7,160.0 126.1,160.2 126.4,160.4C126.6,160.7 126.9,161.1 127.1,161.4C127.4,161.7 127.6,162.1 127.8,162.3C128.1,162.6 128.5,162.8 128.8,163.0C129.1,163.3 129.4,163.6 129.6,163.9C129.9,164.2 130.1,164.5 130.3,164.8C130.5,165.1 130.8,165.4 131.0,165.7C131.3,166.0 131.6,166.3 131.8,166.6C132.0,167.0 132.1,167.4 132.2,167.7C132.4,168.1 132.6,168.4 132.7,168.8C132.9,169.2 132.9,169.6 132.9,170.0C133.0,170.4 133.1,170.7 133.2,171.1C133.2,171.5 133.2,171.9 133.3,172.3C133.3,172.7 133.4,173.0 133.5,173.4C133.6,173.8 133.7,174.1 133.7,174.5C133.8,174.8 133.9,175.2 134.0,175.5C134.1,175.9 134.3,176.2 134.4,176.5C134.5,176.9 134.7,177.2 134.8,177.6C134.9,177.9 135.1,178.2 135.2,178.6C135.4,178.9 135.5,179.3 135.7,179.6C135.9,179.9 136.2,180.3 136.4,180.6C136.5,181.0 136.5,181.4 136.6,181.7C136.7,182.1 136.9,182.5 137.1,182.9C137.2,183.2 137.4,183.6 137.5,184.0Z" fill="#f2a2a7" stroke="#c9646e" stroke-width="1.1"/>
<circle cx="131.5" cy="192.3" r="1" fill="#c9646e" opacity="0.6"/>
<circle cx="110.9" cy="195.4" r="1" fill="#c9646e" opacity="0.6"/>
<circle cx="86.6" cy="184.1" r="1" fill="#c9646e" opacity="0.6"/>
<circle cx="122.0" cy="183.2" r="1" fill="#c9646e" opacity="0.6"/>
<circle cx="96.4" cy="186.8" r="1" fill="#c9646e" opacity="0.6"/>
<circle cx="94.2" cy="191.0" r="1" fill="#c9646e" opacity="0.6"/>
<circle cx="113.2" cy="180.4" r="1" fill="#c9646e" opacity="0.6"/>
<circle cx="88.3" cy="174.2" r="1" fill="#c9646e" opacity="0.6"/>
<circle cx="109.2" cy="170.3" r="1" fill="#c9646e" opacity="0.6"/>
<circle cx="118.5" cy="198.2" r="1" fill="#c9646e" opacity="0.6"/>
<circle cx="132.5" cy="182.9" r="1" fill="#c9646e" opacity="0.6"/>
<circle cx="130.0" cy="170.8" r="1" fill="#c9646e" opacity="0.6"/>
<circle cx="105.7" cy="165.4" r="1" fill="#c9646e" opacity="0.6"/>
<circle cx="127.7" cy="178.0" r="1" fill="#c9646e" opacity="0.6"/>
<circle cx="94.7" cy="188.2" r="1" fill="#c9646e" opacity="0.6"/>
<circle cx="83.4" cy="174.5" r="1" fill="#c9646e" opacity="0.6"/>
<circle cx="88.6" cy="197.1" r="1" fill="#c9646e" opacity="0.6"/>
<path d="M122.8,189.5C122.7,189.9 122.6,190.2 122.5,190.6C122.4,190.9 122.3,191.3 122.1,191.6C122.0,191.9 121.8,192.2 121.6,192.6C121.5,192.9 121.5,193.2 121.4,193.6C121.3,193.9 121.2,194.3 121.2,194.6C121.1,195.0 121.0,195.3 120.9,195.7C120.9,196.1 120.8,196.5 120.7,196.9C120.7,197.3 120.5,197.7 120.4,198.1C120.2,198.5 120.1,198.9 119.9,199.3C119.7,199.7 119.5,200.2 119.2,200.5C119.0,200.9 118.6,201.2 118.3,201.4C118.0,201.7 117.6,201.9 117.2,202.1C116.8,202.3 116.4,202.5 116.0,202.6C115.5,202.7 115.1,202.9 114.7,202.9C114.3,203.0 113.8,202.9 113.4,203.0C112.9,203.0 112.5,203.1 112.1,203.1C111.7,203.2 111.3,203.2 110.8,203.2C110.4,203.2 110.0,203.2 109.6,203.2C109.1,203.3 108.7,203.4 108.3,203.4C107.8,203.4 107.4,203.5 106.9,203.4C106.5,203.4 106.0,203.3 105.6,203.3C105.1,203.2 104.7,203.2 104.3,203.0C103.8,202.9 103.4,202.6 103.1,202.4C102.7,202.2 102.3,201.9 102.0,201.6C101.6,201.4 101.2,201.1 100.9,200.8C100.6,200.5 100.5,200.0 100.3,199.6C100.0,199.2 99.9,198.8 99.7,198.4C99.5,198.1 99.2,197.7 99.1,197.4C98.9,197.0 98.7,196.6 98.6,196.2C98.4,195.9 98.3,195.5 98.2,195.1C98.0,194.8 97.8,194.4 97.6,194.1C97.5,193.7 97.3,193.4 97.1,193.0C96.9,192.6 96.8,192.3 96.6,191.9C96.5,191.5 96.4,191.1 96.3,190.7C96.2,190.3 96.1,189.9 96.0,189.5C96.0,189.1 96.0,188.7 96.0,188.3C96.1,187.9 96.1,187.4 96.2,187.0C96.3,186.6 96.5,186.2 96.6,185.9C96.7,185.5 96.9,185.1 97.1,184.7C97.3,184.4 97.5,184.0 97.7,183.6C97.9,183.3 98.0,182.9 98.2,182.5C98.4,182.2 98.7,181.9 98.9,181.5C99.2,181.2 99.5,180.9 99.8,180.7C100.1,180.4 100.4,180.1 100.7,179.9C101.1,179.7 101.4,179.4 101.8,179.2C102.1,179.0 102.5,178.9 102.9,178.8C103.3,178.6 103.7,178.5 104.1,178.4C104.5,178.3 104.9,178.3 105.3,178.3C105.7,178.3 106.0,178.2 106.4,178.2C106.8,178.1 107.2,178.1 107.5,178.1C107.9,178.0 108.2,178.0 108.6,177.9C108.9,177.8 109.3,177.6 109.6,177.5C110.0,177.3 110.4,177.2 110.8,177.0C111.2,176.8 111.6,176.6 112.0,176.4C112.5,176.2 112.9,176.0 113.4,175.8C113.9,175.6 114.4,175.4 114.9,175.3C115.5,175.2 116.0,175.1 116.6,175.1C117.1,175.1 117.6,175.1 118.1,175.3C118.6,175.4 119.0,175.6 119.5,175.8C119.9,176.1 120.4,176.3 120.8,176.6C121.1,177.0 121.4,177.4 121.7,177.8C122.0,178.2 122.3,178.6 122.4,179.1C122.6,179.6 122.7,180.1 122.8,180.6C122.9,181.1 123.1,181.5 123.2,182.0C123.3,182.4 123.2,183.0 123.2,183.4C123.2,183.9 123.3,184.3 123.3,184.7C123.3,185.1 123.3,185.6 123.3,186.0C123.2,186.4 123.2,186.8 123.1,187.2C123.1,187.6 123.1,188.0 123.1,188.4C123.0,188.8 122.9,189.1 122.8,189.5Z" fill="#cc6870" stroke="#b55a63" stroke-width="0.9"/>
</g>
<g>
<path d="M216.2,252.0C215.9,252.5 215.1,253.0 214.8,253.4C214.5,253.9 214.7,254.4 214.6,254.9C214.6,255.3 214.6,255.8 214.6,256.3C214.5,256.8 214.4,257.2 214.3,257.7C214.2,258.2 214.2,258.7 214.1,259.1C214.0,259.6 213.8,260.1 213.7,260.5C213.6,261.0 213.5,261.4 213.4,261.9C213.3,262.4 213.3,262.9 213.1,263.3C213.0,263.8 212.8,264.2 212.6,264.6C212.5,265.1 212.3,265.5 212.2,266.0C212.1,266.4 212.0,266.9 211.8,267.4C211.7,267.8 211.4,268.2 211.3,268.7C211.1,269.1 210.9,269.6 210.8,270.0C210.6,270.4 210.3,270.8 210.2,271.3C210.1,271.8 210.5,272.7 210.4,273.2C210.3,273.7 210.0,274.1 209.6,274.4C209.3,274.8 208.7,274.9 208.5,275.3C208.3,275.8 208.4,276.6 208.3,277.1C208.2,277.7 208.0,278.2 207.8,278.6C207.5,279.1 207.2,279.4 207.0,279.9C206.8,280.4 206.7,281.1 206.6,281.7C206.4,282.2 206.1,282.8 205.9,283.2C205.6,283.7 205.3,284.2 204.9,284.5C204.5,284.8 204.0,284.9 203.6,285.2C203.2,285.5 203.0,286.1 202.6,286.4C202.1,286.7 201.6,286.7 201.1,286.8C200.6,286.9 200.0,286.7 199.5,286.8C199.0,286.9 198.6,287.2 198.1,287.4C197.7,287.6 197.3,287.8 196.9,288.0C196.4,288.2 196.0,288.5 195.6,288.7C195.2,289.0 194.8,289.2 194.4,289.5C193.9,289.7 193.5,289.9 193.1,290.2C192.7,290.5 192.3,290.8 191.9,291.0C191.4,291.3 191.0,291.4 190.5,291.6C190.0,291.8 189.6,291.9 189.1,292.0C188.6,292.1 188.2,292.0 187.7,292.0C187.2,292.1 186.7,292.2 186.3,292.2C185.8,292.2 185.3,292.2 184.8,292.2C184.4,292.1 183.9,292.1 183.4,292.0C182.9,291.9 182.5,291.7 182.0,291.6C181.5,291.5 181.1,291.4 180.6,291.5C180.1,291.6 179.6,292.2 179.2,292.3C178.7,292.4 178.2,292.3 177.8,292.0C177.3,291.6 177.0,290.7 176.6,290.3C176.2,289.9 175.7,289.8 175.3,289.5C174.9,289.2 174.5,288.9 174.1,288.7C173.7,288.5 173.3,288.3 172.9,288.2C172.4,288.1 171.9,288.2 171.5,288.2C171.0,288.1 170.5,288.2 170.1,287.9C169.8,287.6 169.6,286.8 169.3,286.4C169.0,285.9 168.7,285.4 168.3,285.1C168.0,284.8 167.5,284.9 167.1,284.7C166.7,284.6 166.2,284.4 165.8,284.3C165.4,284.1 165.0,283.9 164.6,283.8C164.1,283.7 163.6,283.6 163.2,283.5C162.8,283.3 162.4,283.0 162.0,282.8C161.5,282.6 161.1,282.5 160.5,282.4C160.0,282.4 159.3,282.5 158.7,282.4C158.2,282.3 157.6,282.2 157.3,281.8C157.0,281.4 157.1,280.6 157.0,280.0C156.9,279.4 156.8,278.7 156.6,278.3C156.4,277.8 155.9,277.6 155.6,277.2C155.3,276.8 155.1,276.3 154.9,275.9C154.6,275.5 154.3,275.1 154.1,274.7C153.8,274.3 153.7,273.8 153.4,273.4C153.1,273.0 152.7,272.7 152.4,272.3C152.1,271.9 151.8,271.5 151.6,271.0C151.4,270.6 151.2,270.1 151.0,269.7C150.8,269.2 150.6,268.8 150.3,268.3C150.0,267.9 149.7,267.5 149.3,267.1C149.0,266.7 148.3,266.4 148.2,265.9C148.1,265.4 148.5,264.7 148.6,264.1C148.6,263.6 148.7,263.0 148.7,262.5C148.8,262.0 148.8,261.4 148.8,260.9C148.7,260.4 148.6,259.9 148.6,259.4C148.6,258.9 148.7,258.4 148.7,257.9C148.7,257.4 148.6,256.9 148.5,256.4C148.5,255.9 148.4,255.5 148.3,255.0C148.1,254.5 147.7,254.0 147.7,253.5C147.7,253.0 148.2,252.5 148.5,252.0C148.7,251.5 148.9,251.0 149.1,250.6C149.3,250.1 149.5,249.6 149.7,249.2C149.8,248.7 150.0,248.2 150.1,247.8C150.2,247.3 150.3,246.9 150.3,246.4C150.3,245.9 149.9,245.3 150.0,244.9C150.1,244.4 150.6,244.0 150.8,243.6C151.1,243.2 151.5,242.9 151.6,242.4C151.7,242.0 151.5,241.4 151.6,240.9C151.6,240.5 151.8,240.1 151.8,239.6C151.9,239.1 151.8,238.5 151.8,238.0C151.9,237.5 152.1,237.1 152.2,236.7C152.3,236.2 152.3,235.6 152.5,235.2C152.6,234.7 152.9,234.3 153.1,233.9C153.3,233.5 153.5,233.1 153.7,232.6C154.0,232.2 154.2,231.8 154.4,231.4C154.7,231.0 155.0,230.7 155.3,230.3C155.6,230.0 155.8,229.6 156.2,229.2C156.5,228.9 156.9,228.7 157.2,228.3C157.5,228.0 157.8,227.6 158.1,227.3C158.4,226.9 158.7,226.6 159.0,226.3C159.3,225.9 159.5,225.5 159.8,225.2C160.1,224.8 160.3,224.3 160.5,223.9C160.8,223.6 161.2,223.3 161.6,223.0C161.9,222.7 162.2,222.4 162.6,222.1C162.9,221.8 163.3,221.6 163.6,221.2C163.9,220.8 164.1,220.3 164.2,219.6C164.4,218.8 164.1,217.4 164.4,216.9C164.7,216.5 165.5,216.8 166.0,217.0C166.6,217.1 167.4,217.8 167.9,217.9C168.4,217.9 168.8,217.6 169.2,217.3C169.5,217.1 169.9,216.7 170.2,216.3C170.5,215.9 170.9,215.3 171.2,214.8C171.5,214.3 171.8,213.5 172.2,213.3C172.6,213.0 173.2,213.4 173.7,213.5C174.2,213.6 174.7,213.8 175.2,213.7C175.7,213.7 176.1,213.5 176.5,213.4C177.0,213.3 177.4,213.1 177.9,213.1C178.3,213.0 178.8,213.1 179.3,213.0C179.7,213.0 180.2,212.9 180.6,212.8C181.1,212.6 181.5,212.5 182.0,211.9C182.5,211.4 183.0,209.9 183.5,209.3C184.0,208.6 184.6,208.0 185.1,208.0C185.6,208.0 186.1,208.8 186.5,209.3C187.0,209.7 187.4,210.5 187.9,210.7C188.3,210.9 188.8,210.7 189.4,210.7C189.9,210.6 190.4,210.7 190.9,210.5C191.5,210.4 192.1,209.9 192.7,209.7C193.2,209.6 193.9,209.3 194.3,209.6C194.8,209.9 195.0,210.9 195.4,211.4C195.8,212.0 196.2,212.3 196.6,212.7C197.0,213.1 197.4,213.4 197.8,213.7C198.2,214.1 198.5,214.5 198.9,214.9C199.3,215.3 199.7,215.7 200.0,216.0C200.4,216.4 200.7,216.9 201.1,217.2C201.4,217.6 201.8,218.0 202.1,218.3C202.5,218.7 202.9,219.0 203.2,219.4C203.5,219.8 203.8,220.3 204.2,220.5C204.6,220.8 205.4,220.6 205.8,220.9C206.2,221.1 206.5,221.6 206.6,222.2C206.7,222.9 206.4,224.0 206.4,224.8C206.4,225.5 206.5,226.0 206.7,226.5C206.9,226.9 207.3,227.2 207.6,227.6C207.9,227.9 208.5,228.0 208.8,228.4C209.0,228.8 209.0,229.5 209.0,230.0C209.1,230.6 209.0,231.3 209.1,231.8C209.2,232.2 209.5,232.6 209.9,232.9C210.2,233.2 210.8,233.4 211.3,233.6C211.8,233.9 212.6,234.0 212.7,234.5C212.9,235.0 212.2,235.9 211.9,236.6C211.7,237.2 211.4,237.9 211.4,238.4C211.4,238.9 211.5,239.3 211.8,239.7C212.1,240.1 212.6,240.4 212.9,240.8C213.3,241.1 213.9,241.5 213.9,241.9C214.0,242.4 213.4,243.1 213.1,243.7C212.8,244.2 212.3,244.8 212.2,245.3C212.1,245.8 212.4,246.2 212.6,246.6C212.8,247.0 212.8,247.4 213.2,247.9C213.6,248.3 214.2,248.7 214.8,249.1C215.4,249.5 216.6,250.0 216.8,250.5C217.0,251.0 216.5,251.5 216.2,252.0Z" fill="#f2a2a7" stroke="#c9646e" stroke-width="1.1"/>
<circle cx="181.2" cy="277.5" r="1" fill="#c9646e" opacity="0.6"/>
<circle cx="172.5" cy="248.1" r="1" fill="#c9646e" opacity="0.6"/>
<circle cx="186.2" cy="233.6" r="1" fill="#c9646e" opacity="0.6"/>
<circle cx="182.1" cy="235.2" r="1" fill="#c9646e" opacity="0.6"/>
<circle cx="157.9" cy="240.2" r="1" fill="#c9646e" opacity="0.6"/>
<circle cx="173.7" cy="245.0" r="1" fill="#c9646e" opacity="0.6"/>
<circle cx="177.6" cy="237.4" r="1" fill="#c9646e" opacity="0.6"/>
<circle cx="198.2" cy="274.2" r="1" fill="#c9646e" opacity="0.6"/>
<circle cx="186.2" cy="269.1" r="1" fill="#c9646e" opacity="0.6"/>
<circle cx="207.9" cy="260.6" r="1" fill="#c9646e" opacity="0.6"/>
<circle cx="166.0" cy="243.1" r="1" fill="#c9646e" opacity="0.6"/>
<circle cx="161.8" cy="258.0" r="1" fill="#c9646e" opacity="0.6"/>
<circle cx="164.6" cy="271.7" r="1" fill="#c9646e" opacity="0.6"/>
<circle cx="170.5" cy="259.0" r="1" fill="#c9646e" opacity="0.6"/>
<circle cx="168.1" cy="240.0" r="1" fill="#c9646e" opacity="0.6"/>
<circle cx="185.6" cy="262.7" r="1" fill="#c9646e" opacity="0.6"/>
<circle cx="185.2" cy="245.9" r="1" fill="#c9646e" opacity="0.6"/>
<circle cx="206.3" cy="246.7" r="1" fill="#c9646e" opacity="0.6"/>
<circle cx="179.5" cy="222.6" r="1" fill="#c9646e" opacity="0.6"/>
<circle cx="176.0" cy="270.6" r="1" fill="#c9646e" opacity="0.6"/>
<circle cx="157.6" cy="243.9" r="1" fill="#c9646e" opacity="0.6"/>
<circle cx="197.9" cy="265.6" r="1" fill="#c9646e" opacity="0.6"/>
<circle cx="201.3" cy="269.2" r="1" fill="#c9646e" opacity="0.6"/>
<path d="M209.9,258.0C209.9,258.5 209.7,258.9 209.7,259.3C209.7,259.8 209.8,260.3 209.8,260.7C209.8,261.2 209.7,261.6 209.6,262.1C209.5,262.5 209.4,263.0 209.3,263.5C209.1,263.9 208.9,264.3 208.8,264.8C208.6,265.2 208.4,265.7 208.1,266.1C207.9,266.5 207.5,266.9 207.2,267.2C206.9,267.6 206.6,268.0 206.2,268.3C205.9,268.7 205.6,269.1 205.2,269.4C204.9,269.8 204.5,270.2 204.2,270.5C203.8,270.9 203.4,271.2 203.0,271.6C202.6,271.9 202.2,272.2 201.7,272.5C201.3,272.8 200.9,273.2 200.4,273.5C200.0,273.8 199.5,274.2 199.0,274.5C198.5,274.8 198.0,275.0 197.4,275.3C196.9,275.5 196.3,275.7 195.7,275.8C195.1,275.9 194.5,276.0 193.9,276.0C193.3,276.1 192.7,276.1 192.1,276.0C191.5,276.0 190.9,275.8 190.3,275.7C189.7,275.6 189.1,275.5 188.6,275.4C188.0,275.2 187.5,275.0 186.9,274.8C186.3,274.6 185.8,274.5 185.2,274.3C184.7,274.1 184.1,273.9 183.6,273.7C183.0,273.4 182.5,273.2 181.9,273.0C181.4,272.7 180.9,272.4 180.4,272.1C179.9,271.8 179.5,271.4 179.1,271.0C178.7,270.6 178.3,270.2 178.0,269.7C177.7,269.3 177.4,268.8 177.2,268.3C177.0,267.8 176.8,267.2 176.7,266.7C176.5,266.2 176.3,265.7 176.2,265.2C176.1,264.7 176.1,264.2 176.1,263.7C176.0,263.2 175.9,262.7 175.8,262.2C175.7,261.8 175.6,261.3 175.5,260.8C175.4,260.4 175.3,259.9 175.2,259.4C175.0,259.0 174.9,258.5 174.7,258.0C174.5,257.5 174.3,257.0 174.1,256.5C173.9,256.0 173.7,255.4 173.6,254.8C173.5,254.3 173.4,253.7 173.5,253.2C173.5,252.6 173.7,252.1 173.9,251.6C174.0,251.0 174.2,250.5 174.5,250.0C174.8,249.6 175.3,249.2 175.7,248.8C176.1,248.4 176.5,247.9 177.0,247.6C177.6,247.3 178.2,247.1 178.8,246.9C179.4,246.7 179.8,246.4 180.4,246.2C180.9,246.0 181.4,245.8 182.0,245.6C182.5,245.5 183.1,245.4 183.6,245.3C184.1,245.1 184.6,245.0 185.1,244.8C185.6,244.7 186.0,244.6 186.5,244.4C187.0,244.3 187.4,244.1 187.9,243.9C188.3,243.7 188.8,243.6 189.3,243.4C189.8,243.3 190.2,243.1 190.7,243.0C191.2,242.8 191.7,242.7 192.2,242.6C192.7,242.5 193.3,242.3 193.8,242.2C194.3,242.1 194.9,242.1 195.4,242.0C196.0,241.9 196.6,241.7 197.2,241.6C197.8,241.5 198.4,241.4 199.0,241.4C199.7,241.3 200.3,241.3 201.0,241.3C201.7,241.2 202.4,241.1 203.1,241.2C203.8,241.2 204.5,241.4 205.1,241.6C205.8,241.7 206.5,241.9 207.1,242.1C207.8,242.4 208.4,242.7 209.0,243.1C209.5,243.5 209.9,243.9 210.3,244.4C210.7,245.0 211.1,245.5 211.3,246.1C211.5,246.7 211.6,247.4 211.7,248.0C211.8,248.6 211.8,249.3 211.8,249.9C211.7,250.6 211.4,251.2 211.3,251.9C211.2,252.5 211.1,253.0 211.0,253.6C210.8,254.1 210.6,254.7 210.4,255.2C210.3,255.7 210.1,256.2 210.0,256.6C210.0,257.1 210.0,257.5 209.9,258.0Z" fill="#cc6870" stroke="#b55a63" stroke-width="0.9"/>
</g>
<g>
<path d="M266.1,200.0C266.2,200.6 266.2,201.2 266.3,201.7C266.4,202.3 266.6,202.9 266.7,203.5C266.7,204.1 266.7,204.7 266.8,205.3C266.8,205.9 267.0,206.5 267.0,207.1C267.0,207.7 266.8,208.3 266.8,208.9C266.7,209.5 266.5,210.0 266.5,210.7C266.5,211.3 266.8,212.0 266.7,212.6C266.7,213.2 266.7,213.8 266.3,214.4C266.0,214.9 265.1,215.3 264.7,215.8C264.3,216.3 264.0,216.8 264.0,217.5C263.9,218.1 264.6,219.1 264.5,219.7C264.4,220.3 263.9,220.8 263.4,221.3C263.0,221.8 262.1,222.1 261.7,222.6C261.3,223.1 261.0,223.6 260.9,224.3C260.8,224.9 261.0,225.8 260.9,226.5C260.8,227.1 260.6,227.8 260.1,228.3C259.5,228.7 258.3,228.6 257.5,228.9C256.7,229.1 256.0,229.4 255.3,229.7C254.6,230.0 254.1,230.4 253.5,230.7C252.8,231.0 252.1,231.2 251.5,231.5C250.8,231.7 250.1,231.9 249.5,232.2C248.9,232.5 248.4,232.8 247.7,233.1C247.1,233.3 246.2,233.3 245.6,233.5C245.0,233.7 244.5,234.1 244.1,234.5C243.6,234.9 243.2,235.4 242.8,235.9C242.4,236.4 242.1,237.0 241.6,237.4C241.1,237.8 240.4,238.0 239.8,238.3C239.3,238.5 238.7,238.9 238.1,239.0C237.4,239.2 236.6,239.1 235.8,238.9C235.0,238.8 234.0,238.2 233.3,238.0C232.5,237.8 231.8,237.7 231.2,237.8C230.5,237.9 230.1,238.3 229.5,238.5C228.9,238.7 228.3,238.6 227.7,238.9C227.2,239.3 226.7,239.8 226.3,240.6C225.9,241.4 225.7,243.3 225.1,243.8C224.5,244.2 223.7,243.6 222.9,243.2C222.2,242.8 221.4,241.8 220.7,241.5C220.0,241.3 219.4,241.7 218.8,241.7C218.2,241.8 217.5,241.7 216.9,241.8C216.3,241.8 215.6,242.0 215.0,242.0C214.4,242.0 213.7,241.7 213.1,241.6C212.5,241.6 211.8,241.7 211.2,241.6C210.6,241.5 210.0,241.4 209.3,241.2C208.7,241.1 208.1,240.9 207.5,240.9C206.9,240.8 206.2,240.8 205.6,240.8C204.9,240.9 204.3,241.0 203.6,241.0C202.9,241.0 202.3,240.9 201.6,241.0C200.9,241.1 200.1,241.3 199.4,241.5C198.6,241.7 197.6,242.4 196.9,242.3C196.2,242.2 195.8,241.4 195.3,241.0C194.8,240.6 194.3,240.2 193.7,239.9C193.1,239.6 192.4,239.6 191.8,239.4C191.1,239.1 190.5,238.9 189.9,238.6C189.4,238.3 188.9,237.9 188.3,237.6C187.7,237.3 187.1,237.0 186.6,236.7C186.0,236.4 185.4,236.2 184.8,235.9C184.2,235.6 183.6,235.3 183.1,234.9C182.6,234.6 182.1,234.1 181.6,233.8C181.0,233.4 180.5,233.1 179.9,232.8C179.3,232.5 178.5,232.3 178.0,231.9C177.4,231.6 177.0,231.1 176.5,230.7C176.0,230.3 175.5,229.9 175.0,229.5C174.5,229.1 173.8,228.8 173.3,228.3C172.8,227.9 172.6,227.3 172.0,226.9C171.5,226.5 170.8,226.2 170.1,225.9C169.4,225.6 168.2,225.4 167.7,225.0C167.1,224.6 166.9,223.9 166.6,223.4C166.3,222.8 166.2,222.2 165.8,221.6C165.5,221.1 165.0,220.6 164.5,220.1C164.0,219.6 163.3,219.2 162.8,218.6C162.4,218.1 162.2,217.5 161.7,217.0C161.2,216.4 160.6,215.9 160.0,215.4C159.3,214.9 158.1,214.5 157.7,213.9C157.3,213.3 157.8,212.5 157.8,211.9C157.8,211.2 157.6,210.5 157.7,209.8C157.8,209.1 158.1,208.4 158.3,207.8C158.4,207.1 158.5,206.4 158.5,205.8C158.6,205.1 158.6,204.5 158.6,203.8C158.5,203.2 158.2,202.6 158.4,201.9C158.6,201.3 159.5,200.6 159.7,200.0C160.0,199.4 160.2,198.8 159.9,198.1C159.6,197.5 158.0,196.8 158.0,196.1C158.1,195.5 159.6,195.0 160.3,194.4C161.1,193.9 162.2,193.4 162.8,192.9C163.4,192.3 163.6,191.8 164.0,191.2C164.4,190.7 164.6,190.2 165.0,189.6C165.3,189.1 165.8,188.6 166.2,188.1C166.6,187.6 167.0,187.2 167.1,186.6C167.3,186.0 166.8,185.3 167.0,184.7C167.2,184.2 167.6,183.7 168.3,183.3C168.9,182.9 170.2,182.8 170.9,182.4C171.6,182.1 172.1,181.7 172.5,181.3C172.8,180.9 173.0,180.3 173.2,179.8C173.4,179.3 173.2,178.5 173.5,178.1C173.9,177.6 174.7,177.4 175.3,177.1C175.9,176.8 176.5,176.5 177.1,176.2C177.6,175.9 178.0,175.5 178.5,175.2C179.0,174.8 179.6,174.6 179.8,174.1C180.1,173.6 180.0,172.8 180.1,172.2C180.2,171.5 180.1,170.6 180.4,170.1C180.7,169.7 181.5,169.6 182.0,169.2C182.5,168.9 182.9,168.4 183.5,168.1C184.0,167.8 184.8,167.9 185.3,167.5C185.9,167.2 186.2,166.7 186.6,166.2C187.0,165.8 187.3,165.3 187.7,164.8C188.2,164.4 188.6,163.9 189.1,163.5C189.6,163.1 190.2,163.0 190.7,162.6C191.2,162.2 191.7,161.8 192.1,161.3C192.6,160.7 192.9,160.0 193.3,159.5C193.8,159.0 194.3,158.4 195.0,158.3C195.7,158.2 196.6,158.7 197.4,158.9C198.2,159.0 198.9,159.2 199.6,159.2C200.4,159.3 201.0,159.3 201.7,159.2C202.3,159.1 202.9,158.7 203.5,158.5C204.1,158.4 204.7,158.2 205.3,158.1C206.0,157.9 206.6,157.7 207.2,157.6C207.9,157.5 208.5,157.5 209.2,157.4C209.8,157.2 210.4,156.8 211.0,156.7C211.7,156.6 212.4,156.7 213.0,156.7C213.7,156.7 214.3,156.7 215.0,156.6C215.7,156.5 216.3,156.3 217.0,156.2C217.7,156.2 218.3,156.4 219.0,156.5C219.6,156.5 220.3,156.6 220.9,156.7C221.6,156.7 222.3,156.7 222.9,156.7C223.6,156.7 224.3,156.7 225.0,156.8C225.6,156.8 226.3,157.0 227.0,157.0C227.6,157.1 228.4,157.0 229.1,157.0C229.7,157.1 230.4,157.3 231.1,157.3C231.8,157.4 232.4,157.5 233.3,157.2C234.2,156.9 235.5,155.8 236.3,155.7C237.1,155.6 237.6,156.2 238.1,156.8C238.6,157.4 238.7,158.6 239.0,159.3C239.4,160.0 239.9,160.5 240.4,160.9C240.9,161.3 241.7,161.3 242.3,161.6C242.8,161.9 243.4,162.3 243.9,162.6C244.5,162.9 245.2,163.2 245.8,163.5C246.4,163.8 246.9,164.1 247.5,164.4C248.2,164.6 248.9,164.9 249.6,165.1C250.3,165.3 251.0,165.5 251.8,165.7C252.5,165.9 253.6,165.8 254.2,166.2C254.8,166.5 255.0,167.2 255.4,167.8C255.7,168.3 256.1,168.9 256.4,169.5C256.7,170.1 257.0,170.7 257.3,171.2C257.6,171.8 257.9,172.4 258.2,172.9C258.5,173.5 258.9,174.0 259.1,174.6C259.3,175.2 259.3,175.9 259.5,176.5C259.7,177.1 259.9,177.7 260.1,178.2C260.3,178.8 260.5,179.3 260.7,179.9C260.9,180.5 261.0,181.1 261.3,181.6C261.5,182.1 261.9,182.6 262.1,183.2C262.3,183.7 262.2,184.3 262.7,184.8C263.1,185.3 264.2,185.6 264.6,186.1C265.0,186.6 265.0,187.2 264.9,187.8C264.9,188.5 264.2,189.2 264.4,189.8C264.5,190.3 265.4,190.8 265.8,191.3C266.2,191.8 267.0,192.3 266.9,192.9C266.9,193.5 265.7,194.2 265.5,194.8C265.2,195.5 265.3,196.0 265.3,196.6C265.3,197.2 265.4,197.7 265.5,198.3C265.6,198.9 265.9,199.4 266.1,200.0Z" fill="#f2a2a7" stroke="#c9646e" stroke-width="1.1"/>
<circle cx="252.3" cy="206.1" r="1" fill="#c9646e" opacity="0.6"/>
<circle cx="217.4" cy="212.3" r="1" fill="#c9646e" opacity="0.6"/>
<circle cx="242.3" cy="181.7" r="1" fill="#c9646e" opacity="0.6"/>
<circle cx="192.2" cy="179.7" r="1" fill="#c9646e" opacity="0.6"/>
<circle cx="249.7" cy="221.6" r="1" fill="#c9646e" opacity="0.6"/>
<circle cx="199.6" cy="234.1" r="1" fill="#c9646e" opacity="0.6"/>
<circle cx="205.5" cy="219.0" r="1" fill="#c9646e" opacity="0.6"/>
<circle cx="237.0" cy="179.6" r="1" fill="#c9646e" opacity="0.6"/>
<circle cx="241.2" cy="187.8" r="1" fill="#c9646e" opacity="0.6"/>
<circle cx="214.7" cy="195.3" r="1" fill="#c9646e" opacity="0.6"/>
<circle cx="195.0" cy="205.5" r="1" fill="#c9646e" opacity="0.6"/>
<circle cx="197.3" cy="181.0" r="1" fill="#c9646e" opacity="0.6"/>
<circle cx="226.9" cy="182.9" r="1" fill="#c9646e" opacity="0.6"/>
<circle cx="191.0" cy="205.7" r="1" fill="#c9646e" opacity="0.6"/>
<circle cx="188.4" cy="193.5" r="1" fill="#c9646e" opacity="0.6"/>
<circle cx="236.2" cy="204.6" r="1" fill="#c9646e" opacity="0.6"/>
<circle cx="204.8" cy="203.5" r="1" fill="#c9646e" opacity="0.6"/>
<circle cx="228.5" cy="194.0" r="1" fill="#c9646e" opacity="0.6"/>
<circle cx="244.9" cy="210.5" r="1" fill="#c9646e" opacity="0.6"/>
<circle cx="194.5" cy="220.0" r="1" fill="#c9646e" opacity="0.6"/>
<circle cx="205.0" cy="225.4" r="1" fill="#c9646e" opacity="0.6"/>
<circle cx="182.7" cy="187.7" r="1" fill="#c9646e" opacity="0.6"/>
<circle cx="207.1" cy="216.0" r="1" fill="#c9646e" opacity="0.6"/>
<circle cx="222.6" cy="209.0" r="1" fill="#c9646e" opacity="0.6"/>
<circle cx="206.1" cy="224.2" r="1" fill="#c9646e" opacity="0.6"/>
<circle cx="187.3" cy="197.0" r="1" fill="#c9646e" opacity="0.6"/>
<circle cx="211.4" cy="234.7" r="1" fill="#c9646e" opacity="0.6"/>
<circle cx="209.7" cy="224.8" r="1" fill="#c9646e" opacity="0.6"/>
<circle cx="224.6" cy="171.2" r="1" fill="#c9646e" opacity="0.6"/>
<circle cx="217.5" cy="216.3" r="1" fill="#c9646e" opacity="0.6"/>
<circle cx="220.1" cy="202.4" r="1" fill="#c9646e" opacity="0.6"/>
<circle cx="222.5" cy="222.4" r="1" fill="#c9646e" opacity="0.6"/>
<circle cx="216.3" cy="206.5" r="1" fill="#c9646e" opacity="0.6"/>
<circle cx="212.0" cy="223.8" r="1" fill="#c9646e" opacity="0.6"/>
<circle cx="212.1" cy="216.7" r="1" fill="#c9646e" opacity="0.6"/>
<circle cx="238.1" cy="169.5" r="1" fill="#c9646e" opacity="0.6"/>
<circle cx="184.7" cy="192.4" r="1" fill="#c9646e" opacity="0.6"/>
<circle cx="233.7" cy="231.1" r="1" fill="#c9646e" opacity="0.6"/>
<circle cx="206.3" cy="205.6" r="1" fill="#c9646e" opacity="0.6"/>
<circle cx="189.5" cy="220.1" r="1" fill="#c9646e" opacity="0.6"/>
<path d="M240.3,205.0C240.3,205.5 240.5,206.0 240.6,206.5C240.6,207.1 240.6,207.6 240.7,208.1C240.8,208.7 241.0,209.3 241.1,209.9C241.1,210.5 241.2,211.1 241.2,211.7C241.2,212.3 241.3,212.9 241.2,213.6C241.1,214.2 240.9,214.7 240.7,215.3C240.5,215.9 240.3,216.5 240.0,217.0C239.7,217.6 239.4,218.2 239.1,218.7C238.7,219.2 238.3,219.7 237.8,220.2C237.4,220.6 237.0,221.1 236.5,221.5C236.0,221.9 235.4,222.3 234.9,222.6C234.4,223.0 233.9,223.5 233.4,223.8C232.8,224.1 232.1,224.3 231.5,224.5C230.9,224.7 230.4,225.1 229.8,225.3C229.1,225.5 228.5,225.6 227.8,225.6C227.2,225.7 226.5,225.6 225.9,225.6C225.2,225.6 224.6,225.7 223.9,225.6C223.3,225.5 222.7,225.2 222.1,225.0C221.5,224.8 220.9,224.7 220.3,224.5C219.7,224.3 219.1,224.2 218.6,224.0C218.0,223.8 217.4,223.6 216.9,223.4C216.3,223.3 215.7,223.1 215.1,223.0C214.5,222.9 213.9,222.7 213.3,222.6C212.6,222.5 211.9,222.5 211.3,222.4C210.6,222.2 210.0,221.9 209.4,221.7C208.8,221.4 208.1,221.2 207.5,220.9C206.9,220.5 206.3,220.1 205.8,219.7C205.2,219.3 204.6,218.9 204.2,218.4C203.7,217.8 203.5,217.2 203.2,216.5C202.9,215.9 202.7,215.3 202.5,214.6C202.3,214.0 202.2,213.3 202.1,212.6C202.1,212.0 202.1,211.3 202.2,210.6C202.2,210.0 202.2,209.3 202.2,208.7C202.2,208.0 202.3,207.4 202.3,206.8C202.3,206.2 202.3,205.6 202.3,205.0C202.4,204.4 202.3,203.8 202.3,203.2C202.3,202.6 202.3,201.9 202.3,201.3C202.4,200.7 202.6,200.1 202.8,199.6C202.9,199.0 203.1,198.3 203.3,197.8C203.5,197.2 203.8,196.7 204.2,196.1C204.5,195.6 204.9,195.1 205.4,194.7C205.8,194.3 206.3,193.9 206.8,193.5C207.3,193.1 207.8,192.8 208.4,192.5C208.9,192.2 209.5,192.0 210.0,191.7C210.5,191.4 211.0,191.2 211.5,190.9C211.9,190.6 212.4,190.2 212.8,190.0C213.3,189.7 213.8,189.5 214.3,189.2C214.7,188.9 215.2,188.5 215.6,188.2C216.1,187.9 216.6,187.6 217.1,187.3C217.6,187.0 218.1,186.6 218.6,186.3C219.2,186.0 219.7,185.8 220.3,185.6C220.9,185.3 221.5,185.0 222.1,184.8C222.7,184.6 223.3,184.4 224.0,184.3C224.6,184.2 225.2,184.3 225.9,184.2C226.5,184.2 227.2,184.0 227.9,183.9C228.6,183.9 229.3,184.0 230.0,184.1C230.7,184.1 231.5,183.9 232.2,184.0C232.9,184.1 233.6,184.3 234.3,184.5C235.0,184.7 235.7,184.9 236.5,185.1C237.2,185.3 238.0,185.5 238.6,185.9C239.3,186.3 239.8,186.7 240.3,187.3C240.8,187.8 241.2,188.5 241.6,189.1C242.0,189.8 242.3,190.4 242.6,191.1C242.8,191.8 243.0,192.6 243.0,193.3C243.0,194.1 242.8,195.0 242.7,195.7C242.6,196.5 242.5,197.2 242.3,197.9C242.1,198.6 241.8,199.4 241.6,200.0C241.3,200.7 241.1,201.2 241.0,201.8C240.8,202.4 240.6,202.9 240.5,203.5C240.4,204.0 240.3,204.5 240.3,205.0Z" fill="#cc6870" stroke="#b55a63" stroke-width="0.9"/>
</g>
<g>
<path d="M208.2,313.0C208.2,313.6 208.5,314.2 208.5,314.8C208.6,315.4 208.5,316.0 208.5,316.6C208.5,317.2 208.4,317.8 208.5,318.4C208.7,319.0 209.3,319.7 209.5,320.4C209.6,321.0 209.5,321.6 209.4,322.2C209.3,322.9 209.1,323.4 209.0,324.1C208.9,324.7 209.4,325.5 209.0,326.0C208.6,326.5 207.2,326.7 206.6,327.1C205.9,327.5 205.4,327.9 205.1,328.5C204.8,329.0 204.9,329.6 204.8,330.2C204.7,330.8 204.6,331.4 204.6,332.1C204.6,332.7 205.1,333.7 204.9,334.2C204.6,334.8 203.7,334.9 203.3,335.4C202.9,335.8 202.9,336.5 202.6,337.0C202.2,337.5 201.9,338.0 201.3,338.3C200.7,338.5 199.6,338.5 199.0,338.7C198.3,338.9 197.8,339.2 197.3,339.5C196.9,339.8 196.5,340.2 196.1,340.5C195.7,340.9 195.3,341.3 194.9,341.6C194.5,342.0 194.1,342.4 193.8,342.8C193.4,343.2 193.1,343.6 192.8,344.1C192.5,344.6 192.3,345.1 192.0,345.7C191.7,346.2 191.4,346.6 191.1,347.1C190.8,347.6 190.6,348.3 190.2,348.7C189.9,349.2 189.5,349.6 189.1,350.1C188.7,350.5 188.4,351.0 188.0,351.4C187.6,351.8 187.1,352.1 186.6,352.5C186.2,352.9 185.8,353.2 185.3,353.6C184.8,353.9 184.4,354.3 183.9,354.6C183.4,354.9 182.8,354.9 182.3,355.3C181.9,355.6 181.5,356.2 181.1,356.9C180.7,357.5 180.5,358.8 180.0,359.1C179.5,359.4 178.7,358.9 178.1,358.8C177.4,358.8 176.8,358.5 176.2,358.7C175.7,358.8 175.2,359.5 174.7,359.8C174.1,360.1 173.6,360.4 173.0,360.3C172.4,360.3 171.7,359.7 171.2,359.6C170.6,359.5 170.0,359.6 169.4,359.7C168.9,359.8 168.3,360.0 167.7,360.4C167.2,360.7 166.6,361.6 166.0,361.7C165.4,361.8 164.8,361.1 164.2,360.7C163.7,360.4 163.1,359.7 162.6,359.5C162.0,359.2 161.5,359.2 160.9,359.2C160.3,359.2 159.7,359.5 159.1,359.5C158.5,359.6 158.0,359.4 157.4,359.4C156.8,359.3 156.2,359.4 155.6,359.4C155.0,359.3 154.5,359.1 153.9,359.0C153.3,358.8 152.8,358.6 152.2,358.4C151.7,358.2 151.2,357.9 150.6,357.6C150.1,357.3 149.7,356.9 149.2,356.6C148.6,356.3 148.1,356.2 147.6,355.8C147.1,355.5 146.7,355.0 146.2,354.6C145.8,354.2 145.3,353.8 144.9,353.5C144.4,353.1 143.9,352.7 143.5,352.4C143.0,352.1 142.4,351.9 141.9,351.6C141.4,351.3 140.8,351.1 140.3,350.8C139.9,350.5 139.4,350.1 139.0,349.8C138.5,349.4 137.9,349.2 137.4,348.9C136.9,348.6 136.4,348.2 136.0,347.8C135.5,347.5 135.1,347.0 134.5,346.8C133.9,346.5 133.0,346.6 132.5,346.2C132.0,345.9 131.6,345.3 131.4,344.7C131.2,344.0 131.4,343.0 131.2,342.4C130.9,341.8 130.6,341.3 130.0,341.0C129.4,340.7 127.8,341.1 127.3,340.7C126.9,340.3 127.1,339.3 127.1,338.5C127.2,337.8 127.5,336.8 127.4,336.2C127.3,335.5 126.6,335.2 126.6,334.5C126.7,333.8 127.3,332.8 127.5,332.0C127.7,331.2 127.9,330.5 128.0,329.9C128.0,329.2 127.9,328.7 127.9,328.1C127.9,327.4 128.2,326.8 128.2,326.2C128.2,325.6 128.1,325.0 128.1,324.4C128.2,323.9 128.3,323.3 128.4,322.7C128.6,322.1 128.8,321.5 128.9,320.9C128.9,320.4 129.0,319.8 128.9,319.3C128.9,318.8 128.8,318.2 128.8,317.7C128.7,317.2 128.9,316.7 128.8,316.1C128.7,315.6 128.4,315.1 128.0,314.6C127.7,314.1 127.1,313.5 126.8,313.0C126.6,312.5 126.5,311.9 126.5,311.3C126.6,310.8 127.0,310.3 127.1,309.7C127.2,309.2 126.8,308.6 127.0,308.0C127.1,307.5 127.6,307.0 127.8,306.5C128.1,306.0 128.4,305.5 128.5,305.0C128.6,304.5 128.3,303.9 128.3,303.3C128.3,302.7 128.2,302.1 128.3,301.6C128.5,301.1 128.9,300.7 129.2,300.2C129.4,299.7 129.8,299.3 130.0,298.8C130.1,298.2 129.9,297.6 129.9,297.0C130.0,296.4 130.1,295.9 130.2,295.3C130.2,294.7 130.2,294.1 130.3,293.5C130.3,292.9 130.4,292.3 130.5,291.7C130.5,291.0 130.7,290.5 130.4,289.7C130.2,288.8 129.4,287.5 129.1,286.6C128.8,285.7 128.4,284.5 128.8,284.0C129.1,283.5 130.6,283.9 131.3,283.7C132.0,283.5 132.5,283.2 133.0,282.8C133.4,282.4 133.6,281.8 134.0,281.3C134.3,280.8 134.7,280.3 135.0,279.8C135.4,279.3 135.7,278.8 136.1,278.3C136.4,277.8 136.7,277.2 137.1,276.7C137.5,276.2 138.0,275.9 138.4,275.5C138.8,275.1 139.2,274.6 139.7,274.2C140.1,273.8 140.6,273.4 141.1,273.1C141.6,272.8 142.2,272.6 142.8,272.4C143.3,272.1 143.8,271.9 144.4,271.7C145.0,271.5 145.6,271.4 146.1,271.2C146.7,271.1 147.2,270.8 147.8,270.6C148.3,270.4 148.8,270.0 149.3,269.8C149.8,269.6 150.4,269.6 151.0,269.4C151.5,269.2 152.0,269.0 152.5,268.6C153.0,268.2 153.5,267.7 154.0,267.2C154.4,266.7 154.9,266.0 155.4,265.7C155.9,265.3 156.5,265.2 157.1,265.2C157.7,265.2 158.4,265.4 159.0,265.4C159.6,265.4 160.1,265.3 160.7,265.2C161.3,265.1 161.9,265.1 162.5,265.0C163.1,265.0 163.6,264.9 164.2,264.9C164.8,264.9 165.4,265.0 166.0,265.2C166.6,265.3 167.2,265.6 167.7,265.7C168.3,265.8 168.9,265.8 169.5,265.8C170.1,265.7 170.6,265.8 171.3,265.4C171.9,264.9 172.7,263.8 173.4,263.2C174.1,262.6 174.9,261.8 175.5,262.0C176.1,262.1 176.5,263.2 177.0,264.0C177.4,264.8 177.7,266.1 178.1,266.9C178.6,267.6 179.0,268.3 179.4,268.7C179.9,269.0 180.5,269.2 181.1,269.2C181.7,269.2 182.5,268.8 183.1,268.8C183.7,268.7 184.4,268.8 184.9,269.2C185.4,269.5 185.7,270.3 186.1,270.8C186.4,271.4 186.8,271.9 187.2,272.5C187.5,273.1 187.8,273.8 188.1,274.3C188.5,274.8 188.9,275.1 189.3,275.6C189.7,276.0 190.0,276.6 190.4,277.0C190.8,277.4 191.3,277.7 191.7,278.1C192.1,278.5 192.5,278.9 192.8,279.4C193.2,279.8 193.5,280.3 193.8,280.8C194.1,281.3 194.4,281.8 194.7,282.3C194.9,282.8 195.2,283.4 195.4,283.9C195.6,284.5 195.7,285.1 195.9,285.7C196.1,286.2 196.3,286.7 196.6,287.2C196.8,287.7 197.1,288.1 197.4,288.6C197.6,289.0 197.8,289.5 198.1,290.0C198.3,290.5 198.6,291.0 198.9,291.4C199.2,291.8 199.6,292.2 200.0,292.6C200.4,293.0 200.9,293.3 201.3,293.7C201.6,294.2 201.9,294.7 202.2,295.1C202.5,295.6 202.8,296.0 203.3,296.5C203.7,296.9 204.1,297.3 204.8,297.6C205.6,298.0 206.8,298.2 207.6,298.5C208.3,298.9 209.3,299.3 209.4,299.9C209.6,300.5 208.6,301.4 208.4,302.1C208.3,302.8 208.5,303.3 208.4,304.0C208.3,304.6 208.1,305.3 208.0,305.9C207.8,306.5 207.6,307.1 207.6,307.7C207.6,308.3 207.8,308.9 207.9,309.5C208.0,310.0 208.2,310.6 208.3,311.2C208.3,311.8 208.2,312.4 208.2,313.0Z" fill="#f2a2a7" stroke="#c9646e" stroke-width="1.1"/>
<circle cx="190.0" cy="333.7" r="1" fill="#c9646e" opacity="0.6"/>
<circle cx="185.6" cy="313.2" r="1" fill="#c9646e" opacity="0.6"/>
<circle cx="172.1" cy="347.0" r="1" fill="#c9646e" opacity="0.6"/>
<circle cx="155.2" cy="311.6" r="1" fill="#c9646e" opacity="0.6"/>
<circle cx="145.4" cy="284.3" r="1" fill="#c9646e" opacity="0.6"/>
<circle cx="191.3" cy="326.3" r="1" fill="#c9646e" opacity="0.6"/>
<circle cx="155.0" cy="277.3" r="1" fill="#c9646e" opacity="0.6"/>
<circle cx="196.9" cy="294.7" r="1" fill="#c9646e" opacity="0.6"/>
<circle cx="173.7" cy="313.8" r="1" fill="#c9646e" opacity="0.6"/>
<circle cx="149.2" cy="290.3" r="1" fill="#c9646e" opacity="0.6"/>
<circle cx="161.0" cy="277.0" r="1" fill="#c9646e" opacity="0.6"/>
<circle cx="142.6" cy="335.9" r="1" fill="#c9646e" opacity="0.6"/>
<circle cx="177.0" cy="285.6" r="1" fill="#c9646e" opacity="0.6"/>
<circle cx="151.1" cy="344.2" r="1" fill="#c9646e" opacity="0.6"/>
<circle cx="139.6" cy="332.5" r="1" fill="#c9646e" opacity="0.6"/>
<circle cx="159.9" cy="293.4" r="1" fill="#c9646e" opacity="0.6"/>
<circle cx="132.5" cy="302.3" r="1" fill="#c9646e" opacity="0.6"/>
<circle cx="179.0" cy="286.1" r="1" fill="#c9646e" opacity="0.6"/>
<circle cx="157.9" cy="318.2" r="1" fill="#c9646e" opacity="0.6"/>
<circle cx="163.4" cy="344.4" r="1" fill="#c9646e" opacity="0.6"/>
<circle cx="145.3" cy="340.9" r="1" fill="#c9646e" opacity="0.6"/>
<circle cx="152.0" cy="344.2" r="1" fill="#c9646e" opacity="0.6"/>
<circle cx="162.7" cy="303.6" r="1" fill="#c9646e" opacity="0.6"/>
<circle cx="176.1" cy="298.4" r="1" fill="#c9646e" opacity="0.6"/>
<circle cx="165.4" cy="279.9" r="1" fill="#c9646e" opacity="0.6"/>
<circle cx="161.5" cy="346.5" r="1" fill="#c9646e" opacity="0.6"/>
<circle cx="176.0" cy="333.3" r="1" fill="#c9646e" opacity="0.6"/>
<circle cx="138.7" cy="305.5" r="1" fill="#c9646e" opacity="0.6"/>
<circle cx="144.1" cy="303.7" r="1" fill="#c9646e" opacity="0.6"/>
<circle cx="184.2" cy="338.5" r="1" fill="#c9646e" opacity="0.6"/>
<circle cx="167.5" cy="278.5" r="1" fill="#c9646e" opacity="0.6"/>
<circle cx="160.5" cy="287.2" r="1" fill="#c9646e" opacity="0.6"/>
<circle cx="184.5" cy="336.8" r="1" fill="#c9646e" opacity="0.6"/>
<circle cx="171.5" cy="326.3" r="1" fill="#c9646e" opacity="0.6"/>
<path d="M194.5,319.0C194.8,319.6 195.1,320.2 195.3,320.9C195.5,321.5 195.6,322.2 195.7,322.9C195.8,323.6 196.0,324.3 196.0,325.0C196.0,325.7 195.8,326.3 195.6,327.0C195.4,327.6 195.2,328.3 194.9,328.9C194.6,329.4 194.1,329.9 193.6,330.4C193.1,330.8 192.6,331.3 192.0,331.6C191.5,332.0 190.9,332.3 190.3,332.5C189.7,332.8 189.1,333.0 188.5,333.2C187.9,333.3 187.3,333.5 186.8,333.6C186.2,333.8 185.7,333.9 185.2,334.0C184.6,334.1 184.1,334.1 183.6,334.3C183.1,334.4 182.7,334.6 182.2,334.7C181.7,334.8 181.3,335.0 180.8,335.1C180.4,335.1 179.9,335.2 179.4,335.3C179.0,335.3 178.5,335.4 178.1,335.4C177.6,335.5 177.2,335.6 176.7,335.7C176.2,335.8 175.8,335.9 175.3,335.9C174.8,336.0 174.4,336.0 173.9,336.0C173.4,336.0 172.9,336.0 172.4,336.0C171.9,336.1 171.4,336.2 170.8,336.3C170.3,336.3 169.8,336.3 169.2,336.3C168.6,336.3 168.0,336.4 167.4,336.4C166.8,336.4 166.2,336.2 165.6,336.0C165.0,335.9 164.3,335.8 163.8,335.6C163.2,335.4 162.7,335.1 162.1,334.7C161.6,334.4 161.0,334.1 160.6,333.6C160.1,333.1 159.9,332.5 159.6,331.9C159.2,331.4 158.8,330.9 158.6,330.3C158.4,329.7 158.3,329.0 158.2,328.3C158.0,327.7 157.9,327.0 157.8,326.4C157.8,325.7 157.7,325.1 157.7,324.5C157.6,323.9 157.5,323.2 157.5,322.6C157.4,322.0 157.3,321.4 157.2,320.8C157.2,320.2 157.1,319.6 157.1,319.0C157.1,318.4 157.1,317.8 157.1,317.2C157.2,316.5 157.2,315.9 157.4,315.3C157.5,314.7 157.7,314.2 157.9,313.6C158.1,313.0 158.3,312.4 158.6,311.9C158.8,311.4 159.2,310.9 159.6,310.4C160.0,310.0 160.5,309.6 160.9,309.2C161.3,308.8 161.7,308.4 162.2,308.1C162.6,307.8 163.2,307.6 163.7,307.4C164.2,307.1 164.6,306.8 165.0,306.6C165.4,306.3 165.9,306.0 166.2,305.8C166.6,305.5 167.0,305.2 167.4,304.8C167.7,304.5 168.1,304.2 168.5,303.8C168.8,303.5 169.2,303.1 169.6,302.7C170.0,302.3 170.4,302.0 170.8,301.6C171.2,301.2 171.6,300.8 172.1,300.5C172.6,300.2 173.1,300.0 173.6,299.8C174.1,299.6 174.6,299.3 175.2,299.2C175.7,299.1 176.3,299.1 176.8,299.1C177.4,299.1 177.9,299.1 178.5,299.2C179.0,299.2 179.6,299.2 180.1,299.3C180.7,299.4 181.3,299.5 181.8,299.7C182.3,299.9 182.8,300.2 183.3,300.5C183.8,300.7 184.4,300.8 184.9,301.1C185.4,301.4 185.8,301.8 186.3,302.1C186.7,302.5 187.2,302.8 187.6,303.2C188.1,303.6 188.4,304.1 188.7,304.6C189.1,305.1 189.4,305.6 189.6,306.1C189.9,306.6 190.1,307.2 190.3,307.7C190.5,308.3 190.8,308.8 190.9,309.3C191.1,309.9 191.2,310.5 191.3,311.0C191.4,311.6 191.4,312.1 191.6,312.7C191.8,313.2 192.1,313.6 192.3,314.1C192.5,314.6 192.6,315.2 192.8,315.7C193.0,316.2 193.3,316.7 193.6,317.3C193.9,317.8 194.2,318.4 194.5,319.0Z" fill="#cc6870" stroke="#b55a63" stroke-width="0.9"/>
</g>
<g>
<path d="M273.1,300.0C273.4,300.5 274.0,301.1 274.7,301.6C275.4,302.2 277.3,302.9 277.5,303.5C277.7,304.1 276.4,304.6 275.6,305.0C274.9,305.5 273.5,305.9 272.9,306.3C272.3,306.8 272.4,307.3 272.1,307.8C271.9,308.3 271.7,308.8 271.5,309.3C271.3,309.8 271.2,310.3 271.1,310.8C270.9,311.3 270.7,311.7 270.6,312.2C270.4,312.7 270.3,313.3 270.2,313.8C270.1,314.3 270.1,314.8 270.0,315.4C270.0,316.0 269.9,316.5 270.0,317.1C270.2,317.8 270.7,318.7 270.8,319.3C270.9,320.0 271.0,320.7 270.6,321.1C270.3,321.6 269.2,321.7 268.7,322.0C268.3,322.4 268.0,322.8 267.6,323.3C267.3,323.7 267.1,324.3 266.8,324.7C266.5,325.2 266.0,325.5 265.6,325.9C265.3,326.3 265.1,326.9 264.7,327.3C264.4,327.8 264.0,328.1 263.6,328.5C263.2,329.0 262.9,329.5 262.6,329.9C262.2,330.3 261.8,330.7 261.4,331.1C261.0,331.5 260.5,331.8 260.1,332.2C259.7,332.5 259.3,333.0 258.9,333.4C258.5,333.8 258.2,334.3 257.8,334.7C257.4,335.1 256.8,335.2 256.4,335.7C256.0,336.2 255.7,336.7 255.5,337.5C255.3,338.3 255.6,339.9 255.3,340.7C255.0,341.4 254.5,341.9 253.9,342.1C253.4,342.3 252.5,342.0 251.8,342.0C251.1,341.9 250.4,342.0 249.8,341.9C249.1,341.8 248.3,341.4 247.7,341.5C247.1,341.7 246.7,342.3 246.2,342.7C245.7,343.0 245.2,343.4 244.6,343.8C244.1,344.1 243.6,344.5 243.0,344.8C242.4,345.1 241.9,345.4 241.3,345.6C240.7,345.9 240.1,346.0 239.5,346.2C238.9,346.3 238.3,346.4 237.6,346.5C237.0,346.7 236.4,346.9 235.8,346.9C235.1,346.9 234.5,346.7 233.9,346.6C233.2,346.5 232.6,346.3 232.0,346.3C231.4,346.3 230.8,346.4 230.1,346.5C229.5,346.7 228.8,347.4 228.2,347.4C227.5,347.5 226.9,347.4 226.3,346.9C225.7,346.5 225.3,345.2 224.7,344.7C224.2,344.3 223.6,344.4 223.0,344.2C222.4,344.0 221.9,343.7 221.3,343.5C220.8,343.3 220.2,343.1 219.6,342.8C219.1,342.6 218.5,342.5 218.0,342.3C217.4,342.0 216.8,341.9 216.3,341.5C215.8,341.2 215.4,340.7 214.9,340.4C214.4,340.0 213.9,339.8 213.4,339.5C212.9,339.2 212.4,338.9 211.9,338.5C211.5,338.1 211.2,337.5 210.7,337.2C210.2,336.9 209.7,336.7 209.0,336.7C208.4,336.6 207.5,336.8 206.8,336.9C206.0,337.0 205.1,337.2 204.5,337.0C203.8,336.9 203.3,336.5 203.1,335.9C202.8,335.3 203.1,333.9 202.9,333.3C202.6,332.7 202.0,332.6 201.6,332.2C201.1,331.8 200.6,331.5 200.4,330.9C200.1,330.3 200.3,329.4 200.1,328.8C199.8,328.3 199.3,328.0 198.9,327.6C198.5,327.3 197.7,327.1 197.4,326.6C197.1,326.2 197.3,325.4 197.0,324.8C196.8,324.3 196.6,323.8 196.1,323.5C195.6,323.1 194.5,323.1 193.9,322.8C193.3,322.5 193.0,322.0 192.7,321.5C192.4,321.0 192.5,320.3 192.0,319.9C191.6,319.5 190.9,319.2 190.2,318.8C189.6,318.5 188.5,318.3 188.1,317.8C187.8,317.2 188.1,316.5 188.2,315.8C188.2,315.2 188.4,314.5 188.4,313.8C188.5,313.2 188.3,312.7 188.2,312.1C188.1,311.5 188.0,310.9 187.9,310.3C187.9,309.8 188.0,309.1 188.0,308.6C187.9,308.0 187.7,307.4 187.7,306.9C187.7,306.3 188.0,305.7 187.8,305.1C187.7,304.5 187.1,304.0 187.0,303.5C186.8,302.9 186.7,302.3 186.8,301.7C187.0,301.2 187.8,300.6 188.0,300.0C188.3,299.4 188.1,298.9 188.2,298.3C188.2,297.8 188.4,297.2 188.4,296.6C188.4,296.1 188.3,295.5 188.2,294.9C188.2,294.4 188.0,293.8 188.2,293.2C188.4,292.7 189.0,292.2 189.4,291.7C189.8,291.2 190.3,290.8 190.6,290.3C190.9,289.8 191.2,289.3 191.4,288.8C191.5,288.3 191.5,287.7 191.7,287.2C191.9,286.7 192.3,286.3 192.5,285.8C192.7,285.3 192.8,284.7 192.9,284.2C193.1,283.7 193.3,283.2 193.6,282.7C193.8,282.2 193.9,281.6 194.2,281.2C194.5,280.7 194.8,280.3 195.1,279.8C195.4,279.4 195.7,278.9 196.0,278.5C196.4,278.0 196.9,277.7 197.2,277.3C197.6,276.9 197.9,276.4 198.2,276.0C198.4,275.5 198.7,275.1 198.9,274.5C199.1,274.0 199.0,273.2 199.4,272.8C199.7,272.3 200.5,272.3 201.0,272.0C201.6,271.8 202.1,271.5 202.5,271.1C202.8,270.7 203.1,270.3 203.3,269.7C203.5,269.1 203.6,268.4 203.7,267.6C203.8,266.9 203.8,265.9 203.9,265.2C204.1,264.4 204.3,263.7 204.6,263.1C204.9,262.6 205.2,261.9 205.8,261.7C206.4,261.5 207.5,262.0 208.2,262.1C209.0,262.2 209.8,262.4 210.4,262.4C211.1,262.4 211.7,262.3 212.2,262.1C212.8,261.9 213.2,261.5 213.8,261.3C214.3,261.1 214.9,261.2 215.5,261.0C216.0,260.9 216.5,260.6 217.0,260.4C217.6,260.2 218.1,260.0 218.6,259.8C219.2,259.7 219.8,259.6 220.3,259.5C220.9,259.4 221.4,259.2 221.9,259.1C222.5,258.9 223.0,258.7 223.6,258.5C224.1,258.4 224.7,258.4 225.2,258.3C225.8,258.2 226.3,258.0 226.9,257.8C227.4,257.6 228.0,257.6 228.6,257.3C229.1,257.0 229.7,256.4 230.2,256.0C230.8,255.6 231.4,254.8 232.0,254.8C232.6,254.8 233.2,255.7 233.8,255.9C234.4,256.1 234.9,256.4 235.5,256.2C236.2,255.9 236.8,255.3 237.5,254.5C238.2,253.7 239.2,251.9 239.9,251.5C240.6,251.1 241.2,251.7 241.7,252.2C242.3,252.7 242.6,254.2 243.1,254.7C243.6,255.3 244.3,255.3 244.9,255.5C245.5,255.6 246.1,255.6 246.7,255.7C247.4,255.8 248.0,255.9 248.6,256.1C249.2,256.2 249.7,256.5 250.4,256.7C251.0,256.8 251.6,256.9 252.3,257.0C253.0,257.0 253.9,256.7 254.4,257.1C254.9,257.4 255.1,258.4 255.5,259.0C255.9,259.5 256.4,259.9 256.9,260.2C257.5,260.6 258.0,260.8 258.6,261.1C259.2,261.3 259.8,261.5 260.4,261.8C260.9,262.2 261.4,262.6 261.9,263.0C262.4,263.3 263.0,263.6 263.5,264.0C264.0,264.4 264.5,264.8 264.9,265.2C265.3,265.7 265.8,266.1 266.2,266.6C266.5,267.1 266.9,267.7 267.2,268.2C267.5,268.8 267.9,269.3 268.1,269.9C268.4,270.4 268.6,271.1 268.8,271.7C269.0,272.3 269.1,272.9 269.3,273.5C269.5,274.1 269.8,274.6 270.1,275.1C270.4,275.7 270.7,276.1 271.1,276.6C271.4,277.1 272.2,277.3 272.2,278.0C272.3,278.6 271.6,279.6 271.4,280.4C271.2,281.1 271.1,281.8 271.1,282.4C271.1,283.0 271.4,283.5 271.5,284.0C271.5,284.6 271.5,285.2 271.5,285.8C271.5,286.3 271.6,286.9 271.6,287.4C271.5,288.0 271.3,288.6 271.3,289.2C271.2,289.7 271.5,290.2 271.5,290.7C271.5,291.3 271.3,291.8 271.4,292.3C271.4,292.9 271.6,293.4 271.7,293.9C271.8,294.4 271.8,294.9 271.9,295.4C271.9,295.9 272.0,296.4 272.2,296.9C272.3,297.4 272.5,297.9 272.6,298.4C272.8,299.0 272.7,299.5 273.1,300.0Z" fill="#f2a2a7" stroke="#c9646e" stroke-width="1.1"/>
<circle cx="260.9" cy="314.3" r="1" fill="#c9646e" opacity="0.6"/>
<circle cx="245.4" cy="289.6" r="1" fill="#c9646e" opacity="0.6"/>
<circle cx="196.0" cy="306.1" r="1" fill="#c9646e" opacity="0.6"/>
<circle cx="251.8" cy="328.3" r="1" fill="#c9646e" opacity="0.6"/>
<circle cx="242.0" cy="265.0" r="1" fill="#c9646e" opacity="0.6"/>
<circle cx="266.0" cy="312.1" r="1" fill="#c9646e" opacity="0.6"/>
<circle cx="261.3" cy="313.4" r="1" fill="#c9646e" opacity="0.6"/>
<circle cx="223.3" cy="278.6" r="1" fill="#c9646e" opacity="0.6"/>
<circle cx="264.9" cy="310.0" r="1" fill="#c9646e" opacity="0.6"/>
<circle cx="231.4" cy="283.3" r="1" fill="#c9646e" opacity="0.6"/>
<circle cx="220.0" cy="268.2" r="1" fill="#c9646e" opacity="0.6"/>
<circle cx="197.4" cy="303.6" r="1" fill="#c9646e" opacity="0.6"/>
<circle cx="206.6" cy="289.2" r="1" fill="#c9646e" opacity="0.6"/>
<circle cx="210.7" cy="296.8" r="1" fill="#c9646e" opacity="0.6"/>
<circle cx="218.3" cy="282.0" r="1" fill="#c9646e" opacity="0.6"/>
<circle cx="211.9" cy="288.4" r="1" fill="#c9646e" opacity="0.6"/>
<circle cx="257.2" cy="276.9" r="1" fill="#c9646e" opacity="0.6"/>
<circle cx="208.7" cy="289.4" r="1" fill="#c9646e" opacity="0.6"/>
<circle cx="221.9" cy="314.9" r="1" fill="#c9646e" opacity="0.6"/>
<circle cx="224.2" cy="282.4" r="1" fill="#c9646e" opacity="0.6"/>
<circle cx="230.6" cy="315.9" r="1" fill="#c9646e" opacity="0.6"/>
<circle cx="266.0" cy="315.2" r="1" fill="#c9646e" opacity="0.6"/>
<circle cx="254.4" cy="318.8" r="1" fill="#c9646e" opacity="0.6"/>
<circle cx="242.4" cy="330.7" r="1" fill="#c9646e" opacity="0.6"/>
<circle cx="218.9" cy="325.9" r="1" fill="#c9646e" opacity="0.6"/>
<circle cx="224.2" cy="265.7" r="1" fill="#c9646e" opacity="0.6"/>
<circle cx="223.9" cy="271.3" r="1" fill="#c9646e" opacity="0.6"/>
<circle cx="250.5" cy="291.2" r="1" fill="#c9646e" opacity="0.6"/>
<circle cx="230.2" cy="326.3" r="1" fill="#c9646e" opacity="0.6"/>
<circle cx="212.1" cy="307.6" r="1" fill="#c9646e" opacity="0.6"/>
<circle cx="245.6" cy="293.0" r="1" fill="#c9646e" opacity="0.6"/>
<circle cx="258.7" cy="308.9" r="1" fill="#c9646e" opacity="0.6"/>
<circle cx="226.5" cy="274.2" r="1" fill="#c9646e" opacity="0.6"/>
<circle cx="210.7" cy="295.0" r="1" fill="#c9646e" opacity="0.6"/>
<path d="M256.0,303.6C256.1,304.2 256.1,304.7 256.1,305.3C256.2,305.8 256.3,306.4 256.3,307.0C256.4,307.6 256.4,308.2 256.4,308.8C256.3,309.4 256.3,310.0 256.2,310.6C256.1,311.2 255.9,311.8 255.7,312.4C255.5,312.9 255.4,313.6 255.1,314.1C254.9,314.6 254.5,315.1 254.1,315.6C253.7,316.1 253.3,316.5 252.8,316.9C252.4,317.3 251.9,317.7 251.5,318.1C251.0,318.5 250.6,318.8 250.1,319.2C249.6,319.5 249.1,319.8 248.6,320.1C248.1,320.4 247.7,320.8 247.2,321.1C246.7,321.4 246.2,321.6 245.6,321.9C245.1,322.1 244.6,322.4 244.0,322.6C243.4,322.7 242.9,322.8 242.3,322.9C241.7,323.0 241.2,323.1 240.6,323.2C240.0,323.3 239.4,323.3 238.9,323.3C238.3,323.3 237.7,323.3 237.1,323.3C236.6,323.2 236.0,323.2 235.4,323.1C234.9,323.1 234.3,323.0 233.7,322.9C233.1,322.8 232.6,322.6 232.0,322.5C231.4,322.5 230.8,322.4 230.2,322.3C229.6,322.3 228.9,322.2 228.3,322.1C227.7,322.0 227.1,321.8 226.4,321.6C225.7,321.5 225.0,321.4 224.4,321.2C223.7,320.9 223.1,320.6 222.5,320.2C221.9,319.8 221.3,319.4 220.9,318.9C220.4,318.5 220.1,317.8 219.7,317.2C219.4,316.6 219.1,316.0 218.9,315.3C218.7,314.6 218.6,313.9 218.6,313.2C218.7,312.4 218.9,311.6 219.1,310.9C219.2,310.2 219.3,309.5 219.6,308.8C219.8,308.1 220.2,307.5 220.5,306.9C220.7,306.3 220.9,305.7 221.1,305.2C221.4,304.6 221.7,304.1 221.8,303.6C222.0,303.1 222.0,302.6 222.1,302.1C222.2,301.6 222.3,301.2 222.4,300.7C222.4,300.2 222.4,299.7 222.5,299.2C222.5,298.7 222.7,298.2 222.7,297.7C222.8,297.2 222.7,296.6 222.8,296.1C222.8,295.5 222.9,295.0 223.1,294.4C223.2,293.9 223.3,293.4 223.5,292.8C223.7,292.2 223.8,291.6 224.0,291.1C224.2,290.5 224.5,290.0 224.8,289.4C225.1,288.9 225.4,288.3 225.7,287.8C226.0,287.2 226.3,286.6 226.7,286.0C227.1,285.5 227.5,285.0 228.0,284.5C228.4,284.0 228.9,283.5 229.5,283.1C230.0,282.7 230.5,282.2 231.1,281.9C231.7,281.5 232.4,281.4 233.0,281.2C233.7,281.0 234.3,280.8 235.0,280.8C235.7,280.7 236.3,280.8 237.0,280.9C237.7,281.0 238.3,281.4 239.0,281.6C239.6,281.8 240.2,282.0 240.8,282.3C241.4,282.6 241.9,283.2 242.5,283.5C243.0,283.9 243.6,284.1 244.1,284.5C244.6,284.8 245.0,285.2 245.5,285.6C246.0,285.9 246.4,286.3 246.9,286.6C247.4,286.8 248.1,286.9 248.5,287.2C249.0,287.5 249.4,287.9 249.9,288.3C250.4,288.6 250.9,288.9 251.4,289.2C251.9,289.6 252.4,289.9 252.8,290.3C253.2,290.8 253.5,291.3 253.9,291.8C254.2,292.3 254.5,292.8 254.8,293.3C255.0,293.9 255.2,294.5 255.3,295.0C255.5,295.6 255.6,296.2 255.6,296.8C255.7,297.4 255.7,298.0 255.7,298.6C255.8,299.2 255.7,299.7 255.7,300.3C255.7,300.9 255.7,301.4 255.8,302.0C255.8,302.5 256.0,303.0 256.0,303.6Z" fill="#cc6870" stroke="#b55a63" stroke-width="0.9"/>
</g>
<g>
<path d="M278.8,240.4C278.8,240.8 279.1,241.3 279.6,241.7C280.0,242.2 281.1,242.7 281.3,243.2C281.4,243.7 280.9,244.1 280.5,244.5C280.1,244.9 279.2,245.3 279.0,245.7C278.7,246.1 279.1,246.6 278.9,247.0C278.7,247.4 278.2,247.8 277.9,248.1C277.6,248.5 277.1,248.8 276.9,249.2C276.7,249.6 276.8,250.1 276.7,250.5C276.6,250.9 276.3,251.3 276.2,251.7C276.1,252.1 276.1,252.6 276.0,253.0C276.0,253.5 275.9,253.9 275.7,254.3C275.6,254.7 275.4,255.1 275.2,255.5C275.1,255.9 274.9,256.3 274.7,256.7C274.5,257.1 274.3,257.5 274.1,257.9C273.9,258.3 273.7,258.7 273.5,259.1C273.3,259.5 273.0,259.8 272.7,260.2C272.4,260.5 272.1,260.8 271.7,261.1C271.4,261.4 271.1,261.7 270.7,262.0C270.4,262.3 270.1,262.6 269.8,262.9C269.4,263.2 269.1,263.6 268.8,263.8C268.4,264.1 268.0,264.3 267.6,264.5C267.3,264.8 267.0,265.1 266.6,265.3C266.2,265.5 265.7,265.7 265.3,265.8C264.9,266.0 264.5,266.2 264.0,266.3C263.6,266.5 263.1,266.5 262.7,266.6C262.2,266.7 261.8,266.8 261.4,266.9C261.0,267.0 260.6,267.3 260.3,267.5C259.9,267.7 259.6,268.0 259.2,268.1C258.8,268.2 258.2,268.1 257.8,268.1C257.3,268.1 257.0,268.3 256.5,268.3C256.1,268.3 255.6,268.1 255.1,268.1C254.7,268.0 254.3,268.0 253.9,268.1C253.5,268.2 253.2,268.5 252.9,268.8C252.5,269.1 252.3,269.8 251.9,269.9C251.5,270.1 251.0,269.8 250.6,269.7C250.2,269.7 249.8,269.7 249.4,269.9C249.0,270.1 248.7,270.9 248.3,271.0C247.9,271.1 247.5,270.8 247.1,270.6C246.6,270.4 246.2,269.9 245.8,269.8C245.4,269.6 245.0,269.5 244.6,269.7C244.2,269.8 243.8,270.4 243.4,270.5C243.0,270.5 242.6,270.0 242.2,270.0C241.8,269.9 241.4,270.1 241.0,270.1C240.6,270.2 240.1,270.4 239.7,270.4C239.3,270.3 238.9,270.2 238.5,270.0C238.2,269.8 237.8,269.4 237.5,269.2C237.1,269.1 236.7,269.1 236.3,269.0C235.9,269.0 235.4,269.0 235.0,269.0C234.6,269.0 234.1,269.0 233.7,269.0C233.3,268.9 232.9,268.8 232.5,268.6C232.1,268.5 231.8,268.4 231.3,268.3C230.9,268.2 230.5,268.2 230.0,268.1C229.6,268.0 229.3,267.8 228.9,267.6C228.5,267.4 228.1,267.3 227.7,267.1C227.3,267.0 226.9,266.8 226.5,266.6C226.1,266.5 225.8,266.2 225.3,266.1C224.9,266.0 224.3,266.0 223.8,265.9C223.3,265.9 222.8,265.8 222.3,265.7C221.9,265.5 221.4,265.3 221.2,265.0C220.9,264.6 220.8,264.1 220.7,263.5C220.7,263.0 220.9,262.2 220.8,261.7C220.8,261.2 220.6,260.8 220.4,260.4C220.1,260.1 219.8,259.9 219.4,259.6C219.1,259.4 218.4,259.3 218.2,259.0C218.0,258.6 218.5,257.8 218.3,257.4C218.2,257.0 217.7,256.8 217.4,256.6C217.0,256.3 216.6,256.1 216.4,255.7C216.2,255.4 216.3,254.8 216.1,254.4C216.0,254.0 215.9,253.7 215.7,253.3C215.5,253.0 215.3,252.6 214.9,252.3C214.6,252.0 214.0,251.8 213.7,251.5C213.3,251.1 213.0,250.8 212.9,250.4C212.8,250.0 213.1,249.4 213.0,249.0C212.9,248.6 212.4,248.3 212.3,247.9C212.2,247.5 212.3,247.1 212.4,246.6C212.5,246.2 213.0,245.7 213.0,245.2C213.1,244.8 213.0,244.4 212.9,244.0C212.8,243.6 212.7,243.2 212.6,242.8C212.5,242.4 212.5,242.0 212.4,241.6C212.2,241.2 211.9,240.8 211.7,240.4C211.5,240.0 211.2,239.6 211.1,239.1C211.0,238.7 211.3,238.3 211.0,237.8C210.7,237.4 209.5,236.8 209.3,236.4C209.2,235.9 209.7,235.5 210.2,235.1C210.6,234.8 211.8,234.5 212.2,234.2C212.6,233.8 212.6,233.4 212.7,233.0C212.8,232.6 212.9,232.2 212.8,231.7C212.7,231.2 212.2,230.6 212.2,230.2C212.1,229.7 212.4,229.3 212.6,229.0C212.9,228.6 213.4,228.4 213.7,228.0C214.0,227.6 214.1,227.2 214.3,226.8C214.5,226.5 214.7,226.1 214.9,225.7C215.1,225.4 215.4,225.0 215.7,224.7C215.9,224.4 216.3,224.1 216.6,223.8C216.9,223.4 217.1,223.1 217.4,222.8C217.8,222.5 218.3,222.4 218.6,222.1C218.9,221.8 219.1,221.4 219.4,221.1C219.7,220.9 220.2,220.7 220.5,220.4C220.8,220.1 220.9,219.8 221.2,219.4C221.4,219.0 221.7,218.8 221.8,218.3C221.9,217.9 221.8,217.1 222.0,216.7C222.2,216.3 222.6,216.0 222.9,215.8C223.3,215.6 223.9,215.7 224.3,215.4C224.6,215.2 224.8,214.8 225.2,214.5C225.5,214.2 225.8,213.9 226.1,213.6C226.4,213.3 226.7,213.0 226.9,212.5C227.1,212.0 227.2,211.1 227.3,210.5C227.5,209.9 227.6,209.1 228.0,208.8C228.3,208.4 229.0,208.8 229.5,208.7C230.0,208.5 230.3,208.0 230.7,208.0C231.2,207.9 231.8,207.9 232.3,208.2C232.9,208.4 233.6,209.1 234.2,209.3C234.7,209.4 235.1,209.3 235.5,209.2C236.0,209.1 236.4,209.0 236.8,208.9C237.2,208.8 237.7,208.8 238.1,208.7C238.5,208.7 238.9,208.5 239.4,208.5C239.8,208.5 240.3,208.6 240.7,208.7C241.2,208.7 241.6,208.7 242.0,208.8C242.5,208.8 242.9,208.9 243.3,209.0C243.8,209.0 244.2,209.3 244.6,209.3C245.0,209.3 245.4,209.2 245.9,208.9C246.3,208.7 246.8,207.8 247.3,207.6C247.7,207.5 248.2,207.8 248.5,208.2C248.9,208.5 249.2,209.4 249.6,209.9C249.9,210.3 250.3,210.6 250.7,210.8C251.1,211.0 251.5,211.0 251.9,211.1C252.2,211.3 252.6,211.5 253.0,211.7C253.3,211.9 253.7,212.2 254.0,212.4C254.3,212.7 254.6,213.0 254.9,213.3C255.2,213.6 255.5,213.9 255.8,214.2C256.1,214.5 256.3,214.9 256.7,215.0C257.0,215.2 257.5,215.1 257.9,215.1C258.3,215.2 258.7,215.2 259.1,215.4C259.4,215.6 259.5,216.1 259.8,216.4C260.1,216.6 260.5,216.7 260.8,216.9C261.1,217.1 261.3,217.5 261.7,217.6C262.1,217.7 262.6,217.6 263.2,217.6C263.7,217.5 264.6,217.1 265.0,217.3C265.4,217.4 265.3,218.1 265.6,218.4C265.9,218.7 266.4,218.7 266.7,219.0C267.0,219.2 267.3,219.6 267.4,219.9C267.6,220.3 267.5,220.9 267.7,221.3C267.9,221.6 268.2,221.9 268.6,222.1C269.0,222.3 269.6,222.3 270.1,222.4C270.7,222.5 271.4,222.6 271.8,222.8C272.2,223.1 272.3,223.5 272.5,223.9C272.7,224.2 272.7,224.7 272.8,225.1C272.9,225.5 272.9,226.0 273.1,226.3C273.3,226.7 273.6,227.0 273.8,227.4C274.0,227.7 274.1,228.1 274.3,228.5C274.5,228.8 274.8,229.2 274.9,229.6C275.1,229.9 275.3,230.3 275.4,230.7C275.5,231.1 275.5,231.5 275.7,231.9C275.8,232.3 276.1,232.6 276.3,233.0C276.4,233.4 276.4,233.9 276.6,234.2C276.7,234.6 276.9,235.0 277.4,235.4C277.9,235.7 279.0,236.0 279.5,236.4C280.1,236.8 280.9,237.2 280.9,237.6C280.9,238.1 279.7,238.6 279.4,239.1C279.0,239.5 278.7,240.0 278.8,240.4Z" fill="#f39ea4" stroke="#d6707a" stroke-width="1.1"/>
<circle cx="235.0" cy="238.0" r="1" fill="#d6707a" opacity="0.6"/>
<circle cx="256.3" cy="241.9" r="1" fill="#d6707a" opacity="0.6"/>
<circle cx="260.0" cy="253.9" r="1" fill="#d6707a" opacity="0.6"/>
<circle cx="219.3" cy="247.4" r="1" fill="#d6707a" opacity="0.6"/>
<circle cx="268.7" cy="233.7" r="1" fill="#d6707a" opacity="0.6"/>
<circle cx="252.3" cy="220.1" r="1" fill="#d6707a" opacity="0.6"/>
<circle cx="254.7" cy="258.0" r="1" fill="#d6707a" opacity="0.6"/>
<circle cx="225.5" cy="241.6" r="1" fill="#d6707a" opacity="0.6"/>
<circle cx="224.7" cy="234.0" r="1" fill="#d6707a" opacity="0.6"/>
<circle cx="221.7" cy="243.1" r="1" fill="#d6707a" opacity="0.6"/>
<circle cx="245.2" cy="253.3" r="1" fill="#d6707a" opacity="0.6"/>
<circle cx="256.1" cy="222.5" r="1" fill="#d6707a" opacity="0.6"/>
<circle cx="253.4" cy="262.4" r="1" fill="#d6707a" opacity="0.6"/>
<circle cx="219.5" cy="236.1" r="1" fill="#d6707a" opacity="0.6"/>
<circle cx="241.6" cy="263.7" r="1" fill="#d6707a" opacity="0.6"/>
<circle cx="266.7" cy="236.7" r="1" fill="#d6707a" opacity="0.6"/>
<circle cx="254.2" cy="217.7" r="1" fill="#d6707a" opacity="0.6"/>
<circle cx="235.3" cy="251.2" r="1" fill="#d6707a" opacity="0.6"/>
<path d="M259.8,245.3C259.7,245.7 259.6,246.1 259.5,246.4C259.4,246.8 259.3,247.2 259.2,247.5C259.0,247.9 258.8,248.2 258.6,248.5C258.5,248.8 258.3,249.2 258.2,249.5C258.0,249.8 257.8,250.1 257.6,250.4C257.4,250.7 257.2,251.0 257.0,251.3C256.9,251.6 256.7,251.9 256.5,252.2C256.4,252.5 256.2,252.8 256.0,253.2C255.8,253.5 255.7,253.9 255.5,254.2C255.3,254.6 255.1,254.9 254.9,255.2C254.7,255.6 254.5,255.9 254.2,256.2C254.0,256.6 253.7,257.0 253.5,257.3C253.2,257.6 252.8,257.9 252.5,258.2C252.1,258.4 251.8,258.6 251.4,258.8C251.0,259.0 250.6,259.2 250.2,259.3C249.8,259.4 249.3,259.4 248.9,259.5C248.5,259.5 248.1,259.6 247.6,259.6C247.2,259.7 246.8,259.7 246.4,259.7C245.9,259.7 245.5,259.6 245.1,259.6C244.6,259.6 244.2,259.6 243.7,259.6C243.3,259.5 242.9,259.5 242.4,259.4C242.0,259.3 241.6,259.2 241.1,259.0C240.7,258.9 240.2,258.9 239.8,258.7C239.4,258.5 239.0,258.3 238.6,258.0C238.2,257.8 237.8,257.5 237.5,257.2C237.2,256.9 236.9,256.5 236.7,256.1C236.5,255.7 236.4,255.2 236.2,254.7C236.1,254.3 235.9,253.9 235.8,253.4C235.8,253.0 235.8,252.4 235.8,252.0C235.8,251.5 235.9,251.1 235.9,250.7C235.9,250.2 235.9,249.9 235.9,249.5C235.9,249.1 235.9,248.7 235.9,248.4C235.8,248.0 235.8,247.7 235.8,247.3C235.7,247.0 235.6,246.7 235.5,246.3C235.4,246.0 235.3,245.7 235.2,245.3C235.1,244.9 234.9,244.6 234.9,244.2C234.8,243.8 234.8,243.5 234.7,243.1C234.7,242.7 234.6,242.3 234.6,241.9C234.6,241.5 234.6,241.1 234.7,240.7C234.7,240.3 234.7,239.8 234.8,239.4C234.9,239.0 235.1,238.7 235.3,238.3C235.4,237.9 235.5,237.5 235.7,237.1C235.9,236.7 236.2,236.4 236.5,236.1C236.7,235.7 236.8,235.3 237.1,235.0C237.4,234.6 237.7,234.4 238.0,234.1C238.4,233.8 238.7,233.4 239.0,233.2C239.4,233.0 239.8,232.8 240.2,232.6C240.6,232.4 241.0,232.3 241.4,232.2C241.8,232.2 242.3,232.2 242.7,232.2C243.2,232.2 243.6,232.1 244.0,232.2C244.4,232.2 244.9,232.4 245.3,232.4C245.7,232.5 246.1,232.6 246.4,232.7C246.8,232.8 247.2,232.9 247.6,233.0C247.9,233.1 248.3,233.1 248.6,233.2C249.0,233.2 249.4,233.1 249.8,233.1C250.2,233.1 250.6,233.0 251.0,233.0C251.4,233.0 251.8,233.0 252.3,233.0C252.7,233.0 253.2,232.9 253.7,232.9C254.1,232.9 254.6,232.9 255.1,233.0C255.6,233.1 256.1,233.2 256.5,233.4C256.9,233.6 257.3,233.9 257.7,234.2C258.0,234.4 258.4,234.7 258.7,235.1C259.0,235.4 259.2,235.9 259.4,236.3C259.6,236.7 259.8,237.1 259.9,237.6C260.0,238.1 260.0,238.6 260.0,239.0C260.1,239.5 260.1,239.9 260.1,240.4C260.1,240.8 260.1,241.3 260.1,241.7C260.1,242.1 260.1,242.5 260.1,242.9C260.0,243.3 260.0,243.7 259.9,244.1C259.9,244.5 259.8,244.9 259.8,245.3Z" fill="#df7880" stroke="#b55a63" stroke-width="0.9"/>
</g>
<line x1="149.0" y1="203.4" x2="153.1" y2="197.7" stroke="#2d7681" stroke-width="0.9"/>
<line x1="151.2" y1="204.9" x2="155.2" y2="199.2" stroke="#2d7681" stroke-width="0.9"/>
<rect x="152.4" y="193.2" width="8.0" height="3.8" fill="#2d7681" transform="rotate(-55.0 156.4 195.1)"/>
<line x1="154.6" y1="197.8" x2="158.3" y2="192.5" stroke="#bfe0e4" stroke-width="0.7" stroke-dasharray="1.2 1.2"/>
<line x1="155.5" y1="214.7" x2="162.4" y2="215.7" stroke="#2d7681" stroke-width="0.9"/>
<line x1="155.1" y1="217.3" x2="162.0" y2="218.3" stroke="#2d7681" stroke-width="0.9"/>
<rect x="162.2" y="215.7" width="8.0" height="3.8" fill="#2d7681" transform="rotate(8.0 166.2 217.6)"/>
<line x1="163.0" y1="217.1" x2="169.3" y2="218.0" stroke="#bfe0e4" stroke-width="0.7" stroke-dasharray="1.2 1.2"/>
<line x1="137.0" y1="225.2" x2="132.9" y2="230.9" stroke="#2d7681" stroke-width="0.9"/>
<line x1="134.8" y1="223.7" x2="130.8" y2="229.4" stroke="#2d7681" stroke-width="0.9"/>
<rect x="125.6" y="231.6" width="8.0" height="3.8" fill="#2d7681" transform="rotate(125.0 129.6 233.5)"/>
<line x1="131.4" y1="230.8" x2="127.7" y2="236.1" stroke="#bfe0e4" stroke-width="0.7" stroke-dasharray="1.2 1.2"/>
<line x1="149.4" y1="225.0" x2="152.4" y2="231.3" stroke="#2d7681" stroke-width="0.9"/>
<line x1="147.1" y1="226.1" x2="150.0" y2="232.4" stroke="#2d7681" stroke-width="0.9"/>
<rect x="148.9" y="233.6" width="8.0" height="3.8" fill="#2d7681" transform="rotate(65.0 152.9 235.5)"/>
<line x1="151.5" y1="232.6" x2="154.2" y2="238.4" stroke="#bfe0e4" stroke-width="0.7" stroke-dasharray="1.2 1.2"/>
<line x1="130.6" y1="213.4" x2="123.7" y2="212.2" stroke="#2d7681" stroke-width="0.9"/>
<line x1="131.0" y1="210.9" x2="124.1" y2="209.7" stroke="#2d7681" stroke-width="0.9"/>
<rect x="116.0" y="208.3" width="8.0" height="3.8" fill="#2d7681" transform="rotate(190.0 120.0 210.2)"/>
<line x1="123.1" y1="210.8" x2="116.8" y2="209.7" stroke="#bfe0e4" stroke-width="0.7" stroke-dasharray="1.2 1.2"/>
<circle cx="143" cy="214.3" r="15.4" fill="#a9dcb3" stroke="#5f9f70" stroke-width="1"/>
<circle cx="143" cy="214.3" r="13.2" fill="none" stroke="#5f9f70" stroke-width="0.6" stroke-dasharray="1.5 2.5" opacity="0.6"/>
<circle cx="143" cy="214.3" r="9.4" fill="#5db07e" stroke="#4a8f66" stroke-width="0.9"/>
<circle cx="171.9" cy="666" r="138.5" fill="#ffffff" stroke="#a3b3d5" stroke-width="2.6"/>
<g>
<path d="M290.7,668.0C290.6,669.5 290.2,671.0 290.2,672.5C290.2,674.0 290.6,675.6 290.6,677.1C290.6,678.6 290.3,680.1 290.1,681.6C290.0,683.1 289.9,684.6 289.7,686.1C289.5,687.6 289.2,689.1 288.8,690.5C288.4,692.0 287.8,693.4 287.3,694.8C286.8,696.2 286.4,697.7 285.8,699.0C285.1,700.4 284.3,701.7 283.4,702.9C282.5,704.2 281.1,705.2 280.4,706.5C279.6,707.7 279.6,709.3 278.8,710.5C278.0,711.7 276.9,712.8 275.5,713.7C274.0,714.5 271.7,714.9 270.2,715.6C268.6,716.3 267.3,717.1 266.1,717.9C264.9,718.8 263.9,719.7 263.0,720.6C262.1,721.6 261.4,722.7 260.5,723.6C259.6,724.5 258.4,725.2 257.4,726.1C256.5,727.0 255.7,727.9 254.9,728.9C254.1,729.9 253.6,731.1 252.7,732.0C251.9,733.0 250.8,733.6 250.0,734.6C249.2,735.6 248.6,736.7 248.0,738.0C247.4,739.2 247.1,740.8 246.5,742.0C245.9,743.2 245.2,744.5 244.2,745.2C243.2,746.0 241.4,745.7 240.4,746.6C239.5,747.5 239.6,749.8 238.5,750.5C237.5,751.1 235.3,750.1 234.1,750.6C232.8,751.0 232.2,752.3 231.3,753.2C230.4,754.2 229.9,756.0 228.7,756.5C227.6,756.9 225.7,756.0 224.3,756.0C222.9,756.0 221.7,756.2 220.6,756.6C219.4,757.1 218.4,757.9 217.4,758.5C216.3,759.2 215.3,760.1 214.2,760.6C213.1,761.1 211.8,761.1 210.7,761.6C209.6,762.1 208.5,762.6 207.5,763.8C206.5,764.9 205.8,767.4 204.7,768.4C203.7,769.3 202.4,769.6 201.1,769.6C199.8,769.5 198.2,768.1 196.9,767.9C195.6,767.6 194.4,767.9 193.2,768.3C192.0,768.7 190.8,769.7 189.6,770.2C188.4,770.7 187.1,770.7 185.8,771.2C184.6,771.7 183.3,772.7 182.0,773.1C180.7,773.5 179.4,773.4 178.1,773.5C176.8,773.7 175.4,773.9 174.1,773.8C172.8,773.8 171.5,773.6 170.2,773.3C168.9,773.1 167.7,772.7 166.4,772.4C165.1,772.2 163.8,772.0 162.6,771.6C161.3,771.3 160.1,770.6 158.8,770.3C157.6,770.0 156.3,769.9 154.9,769.8C153.5,769.8 152.0,770.2 150.7,770.1C149.4,769.9 148.3,769.0 146.9,768.9C145.5,768.8 144.0,768.9 142.4,769.4C140.7,769.9 138.3,772.0 136.8,771.9C135.4,771.7 134.7,769.6 133.8,768.3C132.9,767.0 132.2,765.2 131.2,764.1C130.2,763.0 129.0,762.5 127.7,761.9C126.4,761.3 124.9,761.2 123.6,760.7C122.2,760.2 120.9,759.6 119.7,758.8C118.6,758.1 117.6,757.0 116.4,756.2C115.2,755.4 113.9,754.8 112.6,754.1C111.4,753.3 110.3,752.4 109.0,751.7C107.8,750.9 106.6,750.1 105.0,749.7C103.3,749.3 100.6,749.8 99.0,749.3C97.5,748.7 96.5,747.5 95.5,746.3C94.6,745.1 93.9,743.6 93.4,742.0C92.9,740.4 92.9,738.6 92.6,736.9C92.3,735.2 92.2,733.4 91.8,731.9C91.3,730.4 90.3,729.3 89.8,727.9C89.3,726.5 89.0,724.9 88.6,723.4C88.2,722.0 87.9,720.5 87.4,719.1C86.9,717.7 86.3,716.4 85.6,715.1C84.9,713.8 83.7,712.8 83.2,711.4C82.7,710.0 82.6,708.4 82.6,706.9C82.7,705.3 83.5,703.4 83.5,701.9C83.4,700.4 82.7,699.2 82.4,697.8C82.1,696.4 81.7,695.0 81.6,693.6C81.4,692.1 81.4,690.7 81.3,689.2C81.2,687.8 81.0,686.4 80.9,685.0C80.9,683.5 81.0,682.1 81.2,680.6C81.4,679.2 81.9,677.7 82.3,676.3C82.6,674.9 83.1,673.5 83.4,672.1C83.8,670.7 84.1,669.3 84.5,668.0C85.0,666.7 85.7,665.3 86.1,664.0C86.6,662.7 86.7,661.4 87.0,660.1C87.2,658.8 87.3,657.4 87.5,656.1C87.7,654.8 88.0,653.5 88.3,652.3C88.5,651.0 89.2,649.8 89.3,648.5C89.4,647.1 89.0,645.7 89.1,644.3C89.1,643.0 89.4,641.7 89.5,640.4C89.7,639.0 89.8,637.6 90.1,636.3C90.4,635.0 91.1,633.9 91.3,632.5C91.6,631.2 91.5,629.7 91.6,628.3C91.6,626.9 92.1,625.6 91.7,623.9C91.4,622.2 89.5,619.6 89.7,618.2C89.9,616.7 91.7,616.0 92.8,615.0C93.9,614.1 95.5,613.5 96.4,612.4C97.4,611.4 97.9,610.2 98.4,608.8C98.8,607.4 98.7,605.6 99.0,604.0C99.2,602.4 99.2,600.6 99.7,599.2C100.1,597.7 100.9,596.5 101.7,595.3C102.6,594.2 103.6,593.1 104.8,592.3C105.9,591.5 107.5,591.0 108.9,590.5C110.3,589.9 111.8,589.6 113.2,589.1C114.6,588.6 115.8,587.9 117.0,587.4C118.3,586.8 119.8,586.5 120.9,585.8C122.0,585.1 123.0,584.3 123.7,582.9C124.4,581.5 124.8,579.9 124.9,577.5C125.1,575.1 123.9,570.4 124.5,568.6C125.2,566.9 126.8,566.4 128.6,566.9C130.4,567.3 133.6,570.5 135.5,571.3C137.5,572.1 138.9,572.4 140.2,571.8C141.4,571.2 141.8,568.7 142.8,567.8C143.9,566.9 145.3,566.5 146.7,566.6C148.1,566.7 150.0,568.0 151.4,568.3C152.9,568.6 154.2,568.4 155.5,568.4C156.8,568.4 158.2,568.6 159.4,568.4C160.7,568.3 162.0,568.4 163.2,567.6C164.3,566.8 165.3,564.7 166.4,563.7C167.6,562.8 168.8,561.8 170.1,561.8C171.4,561.8 172.9,563.7 174.3,563.7C175.6,563.7 176.8,562.2 178.1,561.8C179.4,561.4 180.7,560.9 182.0,561.3C183.3,561.7 184.6,563.4 185.8,564.1C187.1,564.9 188.3,565.5 189.6,565.9C190.8,566.3 192.1,566.5 193.3,566.5C194.6,566.5 195.9,566.2 197.2,566.0C198.6,565.7 200.0,565.1 201.3,564.9C202.7,564.8 204.1,564.7 205.3,565.2C206.5,565.7 207.4,567.4 208.6,567.9C209.9,568.4 211.3,568.1 212.6,568.3C213.9,568.4 215.2,568.5 216.5,568.8C217.8,569.0 219.1,569.5 220.4,569.8C221.7,570.1 223.0,570.3 224.3,570.8C225.5,571.3 226.7,572.0 227.9,572.6C229.1,573.1 230.4,573.5 231.5,574.2C232.7,575.0 233.5,576.2 234.5,577.2C235.5,578.1 236.6,578.9 237.6,579.8C238.6,580.7 239.3,582.1 240.5,582.6C241.8,583.2 243.3,583.2 245.1,583.2C246.9,583.1 249.8,581.7 251.1,582.2C252.5,582.7 252.8,584.7 253.3,586.3C253.8,587.8 253.2,590.5 254.2,591.4C255.3,592.4 258.2,591.4 259.6,592.0C261.0,592.6 262.0,593.6 262.7,595.0C263.3,596.3 263.0,598.5 263.3,600.1C263.6,601.7 263.4,603.5 264.4,604.6C265.3,605.6 267.3,605.8 268.9,606.5C270.4,607.1 272.6,607.5 273.6,608.5C274.6,609.6 274.5,611.4 274.8,612.9C275.0,614.5 274.7,616.3 275.1,617.7C275.4,619.2 276.1,620.4 276.7,621.7C277.3,623.0 277.8,624.3 278.5,625.6C279.1,626.9 279.9,628.2 280.5,629.5C281.2,630.8 281.8,632.1 282.5,633.4C283.1,634.7 283.9,636.0 284.4,637.4C284.9,638.8 285.1,640.2 285.7,641.6C286.2,643.0 287.1,644.3 287.9,645.7C288.7,647.0 289.9,648.3 290.6,649.8C291.4,651.2 292.2,652.6 292.3,654.2C292.3,655.7 291.1,657.4 290.9,658.9C290.6,660.5 290.9,662.0 290.9,663.5C290.8,665.0 290.8,666.5 290.7,668.0Z" fill="#f6c0c4" stroke="#eaa6ab" stroke-width="1.1"/>
<circle cx="223.4" cy="649.0" r="1" fill="#eaa6ab" opacity="0.6"/>
<circle cx="109.2" cy="671.4" r="1" fill="#eaa6ab" opacity="0.6"/>
<circle cx="122.3" cy="679.8" r="1" fill="#eaa6ab" opacity="0.6"/>
<circle cx="171.8" cy="657.0" r="1" fill="#eaa6ab" opacity="0.6"/>
<circle cx="128.5" cy="614.2" r="1" fill="#eaa6ab" opacity="0.6"/>
<circle cx="206.3" cy="724.7" r="1" fill="#eaa6ab" opacity="0.6"/>
<circle cx="106.2" cy="675.5" r="1" fill="#eaa6ab" opacity="0.6"/>
<circle cx="252.0" cy="642.5" r="1" fill="#eaa6ab" opacity="0.6"/>
<circle cx="238.0" cy="723.0" r="1" fill="#eaa6ab" opacity="0.6"/>
<circle cx="162.4" cy="692.5" r="1" fill="#eaa6ab" opacity="0.6"/>
<circle cx="232.2" cy="655.5" r="1" fill="#eaa6ab" opacity="0.6"/>
<circle cx="209.0" cy="723.6" r="1" fill="#eaa6ab" opacity="0.6"/>
<circle cx="236.3" cy="659.6" r="1" fill="#eaa6ab" opacity="0.6"/>
<circle cx="218.1" cy="720.4" r="1" fill="#eaa6ab" opacity="0.6"/>
<circle cx="118.5" cy="672.7" r="1" fill="#eaa6ab" opacity="0.6"/>
<circle cx="178.4" cy="682.6" r="1" fill="#eaa6ab" opacity="0.6"/>
<circle cx="160.3" cy="596.5" r="1" fill="#eaa6ab" opacity="0.6"/>
<circle cx="164.8" cy="672.0" r="1" fill="#eaa6ab" opacity="0.6"/>
<circle cx="229.5" cy="650.5" r="1" fill="#eaa6ab" opacity="0.6"/>
<circle cx="126.2" cy="618.4" r="1" fill="#eaa6ab" opacity="0.6"/>
<circle cx="101.4" cy="681.4" r="1" fill="#eaa6ab" opacity="0.6"/>
<circle cx="218.9" cy="642.3" r="1" fill="#eaa6ab" opacity="0.6"/>
<circle cx="229.9" cy="673.5" r="1" fill="#eaa6ab" opacity="0.6"/>
<circle cx="127.8" cy="603.5" r="1" fill="#eaa6ab" opacity="0.6"/>
<circle cx="205.5" cy="634.8" r="1" fill="#eaa6ab" opacity="0.6"/>
<circle cx="176.9" cy="673.8" r="1" fill="#eaa6ab" opacity="0.6"/>
<circle cx="142.5" cy="621.9" r="1" fill="#eaa6ab" opacity="0.6"/>
<circle cx="189.1" cy="655.2" r="1" fill="#eaa6ab" opacity="0.6"/>
<circle cx="233.5" cy="720.4" r="1" fill="#eaa6ab" opacity="0.6"/>
<circle cx="236.9" cy="688.4" r="1" fill="#eaa6ab" opacity="0.6"/>
<circle cx="177.5" cy="744.4" r="1" fill="#eaa6ab" opacity="0.6"/>
<circle cx="219.9" cy="691.6" r="1" fill="#eaa6ab" opacity="0.6"/>
<circle cx="109.1" cy="688.3" r="1" fill="#eaa6ab" opacity="0.6"/>
<circle cx="239.1" cy="659.8" r="1" fill="#eaa6ab" opacity="0.6"/>
<circle cx="215.6" cy="709.4" r="1" fill="#eaa6ab" opacity="0.6"/>
<circle cx="243.3" cy="723.5" r="1" fill="#eaa6ab" opacity="0.6"/>
<circle cx="177.4" cy="610.6" r="1" fill="#eaa6ab" opacity="0.6"/>
<circle cx="144.7" cy="677.8" r="1" fill="#eaa6ab" opacity="0.6"/>
<circle cx="164.7" cy="604.4" r="1" fill="#eaa6ab" opacity="0.6"/>
<circle cx="212.4" cy="706.2" r="1" fill="#eaa6ab" opacity="0.6"/>
<circle cx="169.7" cy="599.9" r="1" fill="#eaa6ab" opacity="0.6"/>
<circle cx="110.7" cy="658.9" r="1" fill="#eaa6ab" opacity="0.6"/>
<circle cx="231.2" cy="720.6" r="1" fill="#eaa6ab" opacity="0.6"/>
<circle cx="228.4" cy="681.9" r="1" fill="#eaa6ab" opacity="0.6"/>
<circle cx="199.6" cy="588.8" r="1" fill="#eaa6ab" opacity="0.6"/>
<circle cx="107.6" cy="625.9" r="1" fill="#eaa6ab" opacity="0.6"/>
<circle cx="241.7" cy="694.8" r="1" fill="#eaa6ab" opacity="0.6"/>
<circle cx="179.4" cy="689.1" r="1" fill="#eaa6ab" opacity="0.6"/>
<circle cx="162.2" cy="712.3" r="1" fill="#eaa6ab" opacity="0.6"/>
<circle cx="194.0" cy="594.2" r="1" fill="#eaa6ab" opacity="0.6"/>
<circle cx="250.8" cy="651.7" r="1" fill="#eaa6ab" opacity="0.6"/>
<circle cx="202.3" cy="611.4" r="1" fill="#eaa6ab" opacity="0.6"/>
<circle cx="152.1" cy="614.7" r="1" fill="#eaa6ab" opacity="0.6"/>
<circle cx="262.6" cy="674.5" r="1" fill="#eaa6ab" opacity="0.6"/>
<circle cx="229.7" cy="671.3" r="1" fill="#eaa6ab" opacity="0.6"/>
<circle cx="208.3" cy="751.5" r="1" fill="#eaa6ab" opacity="0.6"/>
<circle cx="166.7" cy="679.3" r="1" fill="#eaa6ab" opacity="0.6"/>
<circle cx="178.1" cy="750.8" r="1" fill="#eaa6ab" opacity="0.6"/>
<circle cx="219.6" cy="721.4" r="1" fill="#eaa6ab" opacity="0.6"/>
<circle cx="199.3" cy="727.5" r="1" fill="#eaa6ab" opacity="0.6"/>
<circle cx="112.6" cy="618.7" r="1" fill="#eaa6ab" opacity="0.6"/>
<circle cx="216.2" cy="740.2" r="1" fill="#eaa6ab" opacity="0.6"/>
<circle cx="253.6" cy="625.5" r="1" fill="#eaa6ab" opacity="0.6"/>
<circle cx="123.5" cy="611.0" r="1" fill="#eaa6ab" opacity="0.6"/>
<circle cx="117.5" cy="693.3" r="1" fill="#eaa6ab" opacity="0.6"/>
<circle cx="146.2" cy="614.7" r="1" fill="#eaa6ab" opacity="0.6"/>
<circle cx="233.9" cy="695.8" r="1" fill="#eaa6ab" opacity="0.6"/>
<circle cx="238.2" cy="675.9" r="1" fill="#eaa6ab" opacity="0.6"/>
<circle cx="204.5" cy="650.2" r="1" fill="#eaa6ab" opacity="0.6"/>
<circle cx="263.6" cy="645.3" r="1" fill="#eaa6ab" opacity="0.6"/>
<circle cx="225.2" cy="656.7" r="1" fill="#eaa6ab" opacity="0.6"/>
<circle cx="224.5" cy="639.9" r="1" fill="#eaa6ab" opacity="0.6"/>
<circle cx="197.1" cy="639.0" r="1" fill="#eaa6ab" opacity="0.6"/>
<circle cx="203.1" cy="595.4" r="1" fill="#eaa6ab" opacity="0.6"/>
<circle cx="156.7" cy="676.1" r="1" fill="#eaa6ab" opacity="0.6"/>
<circle cx="170.9" cy="674.8" r="1" fill="#eaa6ab" opacity="0.6"/>
<circle cx="158.5" cy="680.9" r="1" fill="#eaa6ab" opacity="0.6"/>
<circle cx="199.6" cy="671.1" r="1" fill="#eaa6ab" opacity="0.6"/>
<circle cx="206.0" cy="629.3" r="1" fill="#eaa6ab" opacity="0.6"/>
<circle cx="140.9" cy="693.9" r="1" fill="#eaa6ab" opacity="0.6"/>
<circle cx="196.3" cy="599.6" r="1" fill="#eaa6ab" opacity="0.6"/>
<circle cx="211.2" cy="616.7" r="1" fill="#eaa6ab" opacity="0.6"/>
<circle cx="254.3" cy="682.9" r="1" fill="#eaa6ab" opacity="0.6"/>
<circle cx="204.4" cy="727.5" r="1" fill="#eaa6ab" opacity="0.6"/>
<circle cx="243.8" cy="702.9" r="1" fill="#eaa6ab" opacity="0.6"/>
<circle cx="226.0" cy="705.1" r="1" fill="#eaa6ab" opacity="0.6"/>
<circle cx="163.8" cy="664.5" r="1" fill="#eaa6ab" opacity="0.6"/>
<circle cx="106.8" cy="683.0" r="1" fill="#eaa6ab" opacity="0.6"/>
<circle cx="125.4" cy="621.8" r="1" fill="#eaa6ab" opacity="0.6"/>
<circle cx="176.6" cy="731.3" r="1" fill="#eaa6ab" opacity="0.6"/>
<circle cx="197.2" cy="643.2" r="1" fill="#eaa6ab" opacity="0.6"/>
<circle cx="213.5" cy="678.3" r="1" fill="#eaa6ab" opacity="0.6"/>
<circle cx="148.6" cy="641.8" r="1" fill="#eaa6ab" opacity="0.6"/>
<circle cx="118.4" cy="635.7" r="1" fill="#eaa6ab" opacity="0.6"/>
<circle cx="185.0" cy="733.0" r="1" fill="#eaa6ab" opacity="0.6"/>
<circle cx="183.5" cy="632.5" r="1" fill="#eaa6ab" opacity="0.6"/>
<circle cx="147.6" cy="700.0" r="1" fill="#eaa6ab" opacity="0.6"/>
<circle cx="266.5" cy="659.4" r="1" fill="#eaa6ab" opacity="0.6"/>
<circle cx="169.3" cy="701.7" r="1" fill="#eaa6ab" opacity="0.6"/>
<circle cx="177.2" cy="717.5" r="1" fill="#eaa6ab" opacity="0.6"/>
<circle cx="234.0" cy="718.2" r="1" fill="#eaa6ab" opacity="0.6"/>
<circle cx="157.2" cy="721.0" r="1" fill="#eaa6ab" opacity="0.6"/>
<circle cx="224.1" cy="624.4" r="1" fill="#eaa6ab" opacity="0.6"/>
<circle cx="240.3" cy="661.7" r="1" fill="#eaa6ab" opacity="0.6"/>
<circle cx="215.6" cy="721.7" r="1" fill="#eaa6ab" opacity="0.6"/>
<circle cx="240.2" cy="680.4" r="1" fill="#eaa6ab" opacity="0.6"/>
<circle cx="208.8" cy="712.8" r="1" fill="#eaa6ab" opacity="0.6"/>
<circle cx="206.8" cy="693.5" r="1" fill="#eaa6ab" opacity="0.6"/>
<circle cx="151.3" cy="622.3" r="1" fill="#eaa6ab" opacity="0.6"/>
<circle cx="250.7" cy="623.7" r="1" fill="#eaa6ab" opacity="0.6"/>
<circle cx="205.0" cy="708.6" r="1" fill="#eaa6ab" opacity="0.6"/>
<circle cx="174.8" cy="700.1" r="1" fill="#eaa6ab" opacity="0.6"/>
<circle cx="160.7" cy="752.7" r="1" fill="#eaa6ab" opacity="0.6"/>
<circle cx="198.9" cy="666.1" r="1" fill="#eaa6ab" opacity="0.6"/>
<circle cx="153.0" cy="680.5" r="1" fill="#eaa6ab" opacity="0.6"/>
<circle cx="107.3" cy="668.9" r="1" fill="#eaa6ab" opacity="0.6"/>
<circle cx="208.0" cy="734.2" r="1" fill="#eaa6ab" opacity="0.6"/>
<circle cx="215.0" cy="711.4" r="1" fill="#eaa6ab" opacity="0.6"/>
<circle cx="165.9" cy="670.0" r="1" fill="#eaa6ab" opacity="0.6"/>
<circle cx="119.6" cy="691.8" r="1" fill="#eaa6ab" opacity="0.6"/>
<circle cx="181.5" cy="637.2" r="1" fill="#eaa6ab" opacity="0.6"/>
<circle cx="228.9" cy="627.7" r="1" fill="#eaa6ab" opacity="0.6"/>
<circle cx="182.3" cy="719.8" r="1" fill="#eaa6ab" opacity="0.6"/>
<circle cx="260.6" cy="665.6" r="1" fill="#eaa6ab" opacity="0.6"/>
<circle cx="138.5" cy="591.1" r="1" fill="#eaa6ab" opacity="0.6"/>
<circle cx="187.2" cy="679.5" r="1" fill="#eaa6ab" opacity="0.6"/>
<circle cx="233.0" cy="696.9" r="1" fill="#eaa6ab" opacity="0.6"/>
<circle cx="258.7" cy="680.3" r="1" fill="#eaa6ab" opacity="0.6"/>
<circle cx="150.2" cy="720.6" r="1" fill="#eaa6ab" opacity="0.6"/>
<circle cx="237.3" cy="734.1" r="1" fill="#eaa6ab" opacity="0.6"/>
<circle cx="163.1" cy="729.5" r="1" fill="#eaa6ab" opacity="0.6"/>
<circle cx="204.8" cy="692.6" r="1" fill="#eaa6ab" opacity="0.6"/>
<circle cx="128.6" cy="684.3" r="1" fill="#eaa6ab" opacity="0.6"/>
<circle cx="179.1" cy="701.0" r="1" fill="#eaa6ab" opacity="0.6"/>
<circle cx="101.6" cy="672.5" r="1" fill="#eaa6ab" opacity="0.6"/>
<circle cx="234.2" cy="662.2" r="1" fill="#eaa6ab" opacity="0.6"/>
<circle cx="126.9" cy="630.6" r="1" fill="#eaa6ab" opacity="0.6"/>
<circle cx="127.2" cy="645.1" r="1" fill="#eaa6ab" opacity="0.6"/>
<circle cx="214.6" cy="679.2" r="1" fill="#eaa6ab" opacity="0.6"/>
<circle cx="152.8" cy="629.8" r="1" fill="#eaa6ab" opacity="0.6"/>
<circle cx="185.6" cy="698.9" r="1" fill="#eaa6ab" opacity="0.6"/>
<circle cx="114.8" cy="686.6" r="1" fill="#eaa6ab" opacity="0.6"/>
<circle cx="266.1" cy="676.8" r="1" fill="#eaa6ab" opacity="0.6"/>
<circle cx="227.0" cy="622.7" r="1" fill="#eaa6ab" opacity="0.6"/>
<circle cx="220.8" cy="681.1" r="1" fill="#eaa6ab" opacity="0.6"/>
<circle cx="185.3" cy="584.0" r="1" fill="#eaa6ab" opacity="0.6"/>
<circle cx="155.8" cy="686.0" r="1" fill="#eaa6ab" opacity="0.6"/>
<circle cx="184.3" cy="583.3" r="1" fill="#eaa6ab" opacity="0.6"/>
<circle cx="188.4" cy="752.5" r="1" fill="#eaa6ab" opacity="0.6"/>
<circle cx="115.4" cy="638.4" r="1" fill="#eaa6ab" opacity="0.6"/>
<circle cx="238.6" cy="710.0" r="1" fill="#eaa6ab" opacity="0.6"/>
<circle cx="191.3" cy="613.9" r="1" fill="#eaa6ab" opacity="0.6"/>
<circle cx="201.5" cy="708.1" r="1" fill="#eaa6ab" opacity="0.6"/>
<circle cx="166.8" cy="668.4" r="1" fill="#eaa6ab" opacity="0.6"/>
<circle cx="133.1" cy="600.5" r="1" fill="#eaa6ab" opacity="0.6"/>
<circle cx="139.5" cy="601.8" r="1" fill="#eaa6ab" opacity="0.6"/>
<circle cx="221.3" cy="633.3" r="1" fill="#eaa6ab" opacity="0.6"/>
<circle cx="208.0" cy="744.4" r="1" fill="#eaa6ab" opacity="0.6"/>
<circle cx="127.7" cy="667.6" r="1" fill="#eaa6ab" opacity="0.6"/>
<circle cx="209.1" cy="585.0" r="1" fill="#eaa6ab" opacity="0.6"/>
<circle cx="252.6" cy="641.9" r="1" fill="#eaa6ab" opacity="0.6"/>
<circle cx="108.3" cy="625.6" r="1" fill="#eaa6ab" opacity="0.6"/>
<circle cx="193.7" cy="653.9" r="1" fill="#eaa6ab" opacity="0.6"/>
<circle cx="166.8" cy="719.0" r="1" fill="#eaa6ab" opacity="0.6"/>
<circle cx="165.4" cy="632.4" r="1" fill="#eaa6ab" opacity="0.6"/>
<circle cx="174.0" cy="597.9" r="1" fill="#eaa6ab" opacity="0.6"/>
<circle cx="238.3" cy="670.0" r="1" fill="#eaa6ab" opacity="0.6"/>
<circle cx="217.9" cy="723.9" r="1" fill="#eaa6ab" opacity="0.6"/>
<circle cx="230.5" cy="600.3" r="1" fill="#eaa6ab" opacity="0.6"/>
<circle cx="234.1" cy="695.6" r="1" fill="#eaa6ab" opacity="0.6"/>
<circle cx="139.6" cy="618.8" r="1" fill="#eaa6ab" opacity="0.6"/>
<circle cx="165.0" cy="663.4" r="1" fill="#eaa6ab" opacity="0.6"/>
<circle cx="202.2" cy="602.2" r="1" fill="#eaa6ab" opacity="0.6"/>
<circle cx="195.9" cy="597.5" r="1" fill="#eaa6ab" opacity="0.6"/>
<circle cx="106.6" cy="706.0" r="1" fill="#eaa6ab" opacity="0.6"/>
<circle cx="121.7" cy="652.0" r="1" fill="#eaa6ab" opacity="0.6"/>
<circle cx="122.2" cy="679.5" r="1" fill="#eaa6ab" opacity="0.6"/>
<circle cx="169.2" cy="652.0" r="1" fill="#eaa6ab" opacity="0.6"/>
<circle cx="166.7" cy="695.0" r="1" fill="#eaa6ab" opacity="0.6"/>
<circle cx="108.3" cy="678.6" r="1" fill="#eaa6ab" opacity="0.6"/>
<circle cx="170.1" cy="682.0" r="1" fill="#eaa6ab" opacity="0.6"/>
<circle cx="207.9" cy="682.3" r="1" fill="#eaa6ab" opacity="0.6"/>
<circle cx="176.2" cy="746.5" r="1" fill="#eaa6ab" opacity="0.6"/>
<circle cx="139.6" cy="746.0" r="1" fill="#eaa6ab" opacity="0.6"/>
<circle cx="203.1" cy="706.1" r="1" fill="#eaa6ab" opacity="0.6"/>
<circle cx="221.0" cy="683.3" r="1" fill="#eaa6ab" opacity="0.6"/>
<circle cx="234.0" cy="723.2" r="1" fill="#eaa6ab" opacity="0.6"/>
<circle cx="143.4" cy="696.1" r="1" fill="#eaa6ab" opacity="0.6"/>
<circle cx="139.6" cy="607.2" r="1" fill="#eaa6ab" opacity="0.6"/>
<circle cx="253.0" cy="661.0" r="1" fill="#eaa6ab" opacity="0.6"/>
<circle cx="161.0" cy="621.3" r="1" fill="#eaa6ab" opacity="0.6"/>
<circle cx="204.9" cy="605.6" r="1" fill="#eaa6ab" opacity="0.6"/>
</g>
<g>
<path d="M293.6,700.0C293.8,700.7 294.2,701.4 294.2,702.1C294.2,702.7 293.8,703.4 293.6,704.0C293.4,704.7 293.1,705.3 293.1,705.9C293.0,706.6 293.2,707.3 293.3,708.0C293.3,708.7 293.4,709.4 293.3,710.0C293.2,710.7 292.7,711.2 292.5,711.8C292.4,712.4 292.6,713.2 292.4,713.8C292.3,714.4 292.0,715.0 291.6,715.5C291.3,715.9 290.7,716.3 290.4,716.7C290.1,717.2 289.9,717.7 289.7,718.3C289.5,718.8 289.4,719.4 289.3,720.0C289.1,720.6 288.9,721.1 288.9,721.7C288.8,722.4 288.9,723.1 288.9,723.9C289.0,724.8 289.3,725.8 289.3,726.6C289.4,727.5 289.3,728.2 289.1,728.8C289.0,729.4 288.6,729.8 288.2,730.1C287.8,730.4 287.3,730.6 287.0,730.9C286.6,731.2 286.3,731.7 286.1,732.2C285.8,732.6 285.7,733.3 285.4,733.7C285.2,734.2 284.8,734.5 284.5,734.9C284.2,735.3 283.9,735.7 283.7,736.0C283.4,736.4 283.1,736.8 282.8,737.2C282.5,737.6 282.2,738.0 282.0,738.6C281.8,739.2 281.7,740.0 281.6,740.8C281.4,741.5 281.4,742.7 281.1,743.1C280.8,743.5 280.2,743.1 279.8,743.2C279.4,743.2 279.0,743.2 278.6,743.4C278.3,743.7 278.0,744.1 277.7,744.5C277.4,744.9 277.1,745.4 276.8,745.8C276.5,746.2 276.1,746.3 275.8,746.7C275.5,747.2 275.3,747.9 275.0,748.5C274.7,749.0 274.5,749.8 274.1,750.2C273.8,750.5 273.4,750.4 273.0,750.5C272.6,750.5 272.2,750.6 271.8,750.5C271.4,750.5 271.0,750.0 270.6,749.9C270.2,749.9 269.8,750.1 269.5,750.3C269.1,750.6 268.8,751.3 268.4,751.5C268.0,751.6 267.6,751.4 267.3,751.3C266.9,751.2 266.5,750.9 266.1,750.8C265.7,750.6 265.4,750.4 265.0,750.3C264.6,750.2 264.3,750.2 263.9,750.1C263.5,750.0 263.2,749.7 262.8,749.6C262.5,749.4 262.1,749.0 261.7,749.1C261.4,749.2 260.9,750.1 260.5,750.3C260.1,750.5 259.8,750.3 259.4,750.2C259.1,750.0 258.7,749.6 258.4,749.3C258.0,749.1 257.7,748.7 257.4,748.4C257.0,748.1 256.7,747.9 256.3,747.7C256.0,747.5 255.6,747.4 255.2,747.3C254.8,747.3 254.4,747.4 254.0,747.4C253.6,747.4 253.2,747.3 252.8,747.2C252.4,747.2 252.0,747.1 251.6,747.1C251.1,747.1 250.7,747.2 250.2,747.1C249.8,747.0 249.4,746.9 249.0,746.5C248.7,746.1 248.5,745.3 248.2,744.8C248.0,744.2 247.8,743.5 247.5,743.1C247.1,742.7 246.7,742.6 246.3,742.4C245.8,742.3 245.2,742.4 244.9,742.1C244.5,741.8 244.3,741.0 244.1,740.4C243.9,739.7 243.8,738.9 243.6,738.3C243.3,737.7 243.0,737.2 242.8,736.7C242.5,736.2 242.3,735.6 242.0,735.0C241.8,734.5 241.4,734.1 241.2,733.5C240.9,733.0 240.8,732.3 240.6,731.7C240.4,731.1 240.1,730.5 240.0,729.9C239.8,729.2 239.6,728.6 239.5,727.9C239.4,727.2 239.3,726.5 239.2,725.8C239.1,725.1 238.9,724.5 238.8,723.9C238.7,723.2 238.6,722.5 238.5,721.8C238.4,721.2 238.1,720.6 238.0,720.0C237.9,719.3 237.8,718.6 237.8,717.9C237.7,717.3 237.6,716.6 237.6,715.9C237.6,715.2 237.6,714.5 237.7,713.8C237.7,713.1 237.7,712.4 237.8,711.7C237.8,711.0 237.7,710.3 237.8,709.7C237.8,709.0 237.9,708.3 238.1,707.6C238.2,706.9 238.5,706.2 238.6,705.6C238.7,704.9 238.8,704.3 238.9,703.7C239.0,703.0 239.3,702.4 239.3,701.8C239.3,701.2 239.1,700.6 239.0,700.0C238.9,699.4 238.7,698.8 238.8,698.2C238.9,697.6 239.4,697.0 239.5,696.4C239.6,695.8 239.7,695.2 239.7,694.7C239.7,694.1 239.7,693.4 239.7,692.8C239.7,692.2 239.8,691.7 239.7,691.0C239.7,690.4 239.5,689.7 239.3,689.0C239.2,688.3 238.8,687.5 238.7,686.8C238.6,686.0 238.3,685.2 238.5,684.6C238.6,684.0 239.1,683.6 239.5,683.2C239.9,682.8 240.4,682.5 240.7,682.0C241.0,681.5 241.1,681.0 241.1,680.3C241.1,679.7 240.8,678.7 240.7,677.9C240.7,677.2 240.8,676.5 240.9,675.9C241.0,675.3 241.1,674.6 241.3,674.1C241.5,673.6 242.0,673.3 242.1,672.7C242.3,672.2 242.4,671.5 242.5,670.8C242.6,670.1 242.4,669.1 242.6,668.5C242.8,667.9 243.2,667.7 243.5,667.2C243.8,666.8 244.0,666.2 244.3,665.9C244.7,665.6 245.3,665.7 245.7,665.6C246.2,665.4 246.6,665.4 246.9,665.1C247.2,664.8 247.4,664.2 247.7,663.8C247.9,663.3 248.2,662.9 248.4,662.4C248.6,661.9 248.8,661.2 249.0,660.7C249.3,660.2 249.6,659.9 249.8,659.3C250.0,658.8 250.2,658.2 250.4,657.6C250.7,657.0 250.9,656.3 251.1,655.6C251.3,654.8 251.3,653.6 251.6,653.1C251.9,652.6 252.3,652.6 252.8,652.6C253.2,652.5 253.7,652.9 254.0,652.7C254.4,652.5 254.6,651.8 255.0,651.4C255.3,651.0 255.6,650.5 256.0,650.4C256.3,650.2 256.8,650.6 257.2,650.6C257.6,650.6 258.0,650.7 258.4,650.6C258.7,650.4 259.1,650.2 259.4,649.7C259.7,649.2 260.0,648.2 260.3,647.5C260.7,646.9 261.0,646.1 261.4,645.9C261.8,645.8 262.2,646.5 262.6,646.6C263.0,646.7 263.4,646.6 263.8,646.4C264.2,646.2 264.6,645.8 265.0,645.6C265.4,645.4 265.8,645.3 266.2,645.2C266.6,645.1 267.0,645.1 267.4,645.0C267.8,645.0 268.2,644.9 268.6,645.0C269.1,645.0 269.5,645.2 269.9,645.3C270.3,645.4 270.7,645.4 271.1,645.6C271.4,645.8 271.8,646.3 272.2,646.6C272.6,646.8 273.0,646.9 273.3,647.1C273.7,647.4 274.1,647.7 274.5,648.0C274.8,648.2 275.2,648.4 275.6,648.7C275.9,649.1 276.3,649.6 276.6,650.1C276.9,650.5 277.2,650.9 277.6,651.4C277.9,651.8 278.2,652.2 278.5,652.7C278.8,653.2 279.1,653.8 279.3,654.3C279.6,654.9 279.8,655.5 280.1,656.1C280.3,656.6 280.6,657.2 280.8,657.8C281.1,658.3 281.4,658.7 281.6,659.2C281.8,659.7 282.0,660.4 282.3,660.9C282.5,661.4 282.8,661.8 283.1,662.2C283.3,662.7 283.5,663.2 283.8,663.7C284.0,664.3 284.2,664.8 284.4,665.3C284.7,665.7 285.1,666.0 285.3,666.4C285.6,666.9 285.8,667.5 286.0,668.0C286.2,668.5 286.4,669.0 286.6,669.6C286.8,670.1 286.9,670.7 287.1,671.3C287.2,671.9 287.4,672.5 287.5,673.2C287.6,673.8 287.6,674.5 287.7,675.1C287.8,675.8 288.0,676.3 288.1,676.9C288.2,677.5 288.2,678.2 288.5,678.6C288.7,679.1 289.2,679.4 289.5,679.9C289.8,680.3 290.2,680.7 290.4,681.2C290.5,681.8 290.2,682.7 290.2,683.4C290.3,684.0 290.4,684.6 290.5,685.2C290.6,685.8 290.7,686.4 290.9,687.0C291.1,687.5 291.4,688.0 291.7,688.6C291.9,689.1 292.4,689.6 292.6,690.2C292.9,690.8 293.2,691.4 293.2,692.0C293.3,692.7 293.0,693.4 292.9,694.1C292.9,694.8 292.9,695.4 292.8,696.1C292.8,696.7 292.8,697.4 292.9,698.0C293.0,698.7 293.3,699.3 293.6,700.0Z" fill="#f8d3d6" stroke="#efb8bc" stroke-width="1.1"/>
<circle cx="273.2" cy="682.8" r="1" fill="#efb8bc" opacity="0.6"/>
<circle cx="261.6" cy="676.8" r="1" fill="#efb8bc" opacity="0.6"/>
<circle cx="282.1" cy="683.7" r="1" fill="#efb8bc" opacity="0.6"/>
<circle cx="286.1" cy="719.4" r="1" fill="#efb8bc" opacity="0.6"/>
<circle cx="266.6" cy="740.5" r="1" fill="#efb8bc" opacity="0.6"/>
<circle cx="285.0" cy="713.5" r="1" fill="#efb8bc" opacity="0.6"/>
<circle cx="264.4" cy="678.6" r="1" fill="#efb8bc" opacity="0.6"/>
<circle cx="261.3" cy="662.5" r="1" fill="#efb8bc" opacity="0.6"/>
<circle cx="267.8" cy="729.5" r="1" fill="#efb8bc" opacity="0.6"/>
<circle cx="270.7" cy="724.1" r="1" fill="#efb8bc" opacity="0.6"/>
<circle cx="283.7" cy="711.0" r="1" fill="#efb8bc" opacity="0.6"/>
<circle cx="255.2" cy="734.7" r="1" fill="#efb8bc" opacity="0.6"/>
<circle cx="261.8" cy="740.6" r="1" fill="#efb8bc" opacity="0.6"/>
<circle cx="284.3" cy="684.3" r="1" fill="#efb8bc" opacity="0.6"/>
<circle cx="275.2" cy="667.8" r="1" fill="#efb8bc" opacity="0.6"/>
<circle cx="250.1" cy="688.1" r="1" fill="#efb8bc" opacity="0.6"/>
<circle cx="262.5" cy="715.7" r="1" fill="#efb8bc" opacity="0.6"/>
<circle cx="256.3" cy="702.5" r="1" fill="#efb8bc" opacity="0.6"/>
<circle cx="265.2" cy="694.8" r="1" fill="#efb8bc" opacity="0.6"/>
<circle cx="244.8" cy="703.6" r="1" fill="#efb8bc" opacity="0.6"/>
<circle cx="254.0" cy="693.1" r="1" fill="#efb8bc" opacity="0.6"/>
<circle cx="255.0" cy="697.7" r="1" fill="#efb8bc" opacity="0.6"/>
<circle cx="247.5" cy="705.7" r="1" fill="#efb8bc" opacity="0.6"/>
<circle cx="265.3" cy="662.2" r="1" fill="#efb8bc" opacity="0.6"/>
<circle cx="270.7" cy="705.1" r="1" fill="#efb8bc" opacity="0.6"/>
</g>
<g>
<path d="M224.6,614.0C224.6,614.4 224.6,614.7 224.6,615.1C224.7,615.5 224.7,615.8 224.7,616.2C224.7,616.6 224.7,616.9 224.6,617.3C224.6,617.6 224.4,618.0 224.4,618.4C224.4,618.7 224.7,619.1 224.7,619.5C224.7,619.9 224.5,620.2 224.6,620.7C224.7,621.1 225.2,621.5 225.5,622.0C225.8,622.5 226.6,623.1 226.5,623.4C226.3,623.8 225.0,623.9 224.4,624.2C223.8,624.4 223.3,624.7 222.9,625.0C222.6,625.3 222.3,625.6 222.1,626.0C221.9,626.3 221.8,626.7 221.6,627.1C221.4,627.4 220.9,627.7 220.9,628.1C220.8,628.5 221.1,629.0 221.3,629.6C221.5,630.1 222.4,631.0 222.3,631.4C222.1,631.8 221.0,631.8 220.3,631.9C219.5,632.1 218.5,632.0 217.9,632.2C217.3,632.3 217.2,632.8 216.9,633.0C216.5,633.3 216.1,633.6 215.7,633.9C215.3,634.1 214.7,634.3 214.3,634.5C213.9,634.7 213.5,635.1 213.2,635.3C212.8,635.6 212.4,635.8 212.0,636.1C211.5,636.3 211.1,636.6 210.7,636.8C210.3,637.1 209.9,637.4 209.5,637.6C209.1,637.9 208.7,638.1 208.3,638.4C207.9,638.7 207.5,639.0 207.2,639.4C206.9,639.7 206.5,640.1 206.3,640.6C206.0,641.1 206.0,642.0 205.6,642.3C205.2,642.7 204.4,642.5 203.8,642.6C203.2,642.6 202.5,642.5 201.9,642.5C201.3,642.6 200.8,642.8 200.2,642.8C199.6,642.9 199.0,642.9 198.5,643.0C197.9,643.1 197.3,643.2 196.8,643.2C196.2,643.2 195.6,643.1 195.0,643.1C194.4,643.1 193.8,643.1 193.3,643.1C192.7,643.1 192.2,643.2 191.6,643.2C191.0,643.1 190.5,643.0 189.9,642.9C189.3,642.9 188.8,642.9 188.2,642.8C187.7,642.8 187.1,642.7 186.6,642.6C186.1,642.5 185.5,642.4 185.0,642.3C184.5,642.2 183.9,642.1 183.4,642.0C182.9,641.9 182.4,641.8 181.9,641.7C181.4,641.5 180.9,641.2 180.4,641.0C179.9,640.8 179.5,640.7 179.0,640.5C178.5,640.3 178.1,640.1 177.6,640.0C177.2,639.8 176.7,639.7 176.2,639.8C175.6,639.8 174.9,640.4 174.4,640.4C173.9,640.3 173.5,640.0 173.1,639.7C172.7,639.4 172.5,638.8 172.1,638.5C171.7,638.1 171.3,638.0 170.9,637.8C170.5,637.6 170.1,637.5 169.6,637.4C169.1,637.3 168.7,637.2 168.2,637.1C167.7,637.1 167.0,637.2 166.6,637.0C166.2,636.8 166.1,636.2 165.9,635.8C165.7,635.4 165.5,635.0 165.2,634.7C164.9,634.4 164.5,634.3 164.1,634.1C163.8,633.9 163.6,633.5 163.2,633.4C162.7,633.2 162.1,633.3 161.6,633.2C161.0,633.1 160.4,633.1 160.0,632.9C159.6,632.7 159.5,632.3 159.2,632.1C158.8,631.8 158.4,631.7 157.9,631.5C157.5,631.3 157.0,631.2 156.5,631.0C156.0,630.9 155.6,630.7 155.1,630.5C154.6,630.3 154.1,630.2 153.7,629.9C153.2,629.7 152.8,629.5 152.4,629.2C152.1,629.0 151.7,628.7 151.3,628.4C151.0,628.2 150.8,627.8 150.5,627.5C150.1,627.3 149.7,627.0 149.3,626.7C148.8,626.5 148.0,626.4 147.6,626.1C147.3,625.8 147.3,625.3 147.2,625.0C147.2,624.6 147.5,624.1 147.4,623.7C147.4,623.3 147.1,623.0 146.9,622.7C146.7,622.3 146.3,622.0 146.1,621.7C145.9,621.3 145.9,621.0 145.7,620.6C145.5,620.2 145.2,619.9 145.1,619.6C145.0,619.2 145.0,618.8 144.9,618.4C144.9,618.1 144.8,617.7 144.6,617.3C144.5,617.0 144.5,616.6 144.0,616.3C143.6,615.9 142.2,615.6 141.9,615.2C141.5,614.8 141.5,614.4 141.8,614.0C142.0,613.6 143.2,613.2 143.5,612.9C143.8,612.5 143.8,612.1 143.7,611.7C143.5,611.3 142.8,610.9 142.6,610.5C142.3,610.1 142.2,609.6 142.3,609.3C142.4,608.9 143.0,608.5 143.2,608.2C143.4,607.8 143.5,607.4 143.6,607.0C143.7,606.7 143.7,606.2 143.6,605.8C143.5,605.4 143.1,604.9 143.2,604.5C143.4,604.1 143.9,603.8 144.3,603.5C144.7,603.2 145.3,602.9 145.6,602.6C146.0,602.3 146.1,601.9 146.2,601.5C146.3,601.1 145.9,600.5 146.1,600.1C146.4,599.8 147.3,599.7 147.8,599.4C148.2,599.1 148.7,598.9 148.8,598.5C148.9,598.1 148.5,597.4 148.4,596.9C148.3,596.4 148.0,595.7 148.2,595.3C148.4,594.9 148.9,594.6 149.5,594.4C150.1,594.2 151.3,594.4 152.0,594.3C152.6,594.1 153.0,593.8 153.5,593.6C154.0,593.4 154.4,593.2 154.9,592.9C155.4,592.7 155.8,592.4 156.3,592.2C156.7,592.0 157.3,591.9 157.7,591.7C158.2,591.5 158.7,591.2 159.2,591.1C159.7,590.9 160.2,590.8 160.8,590.6C161.3,590.5 161.8,590.4 162.3,590.2C162.8,590.1 163.3,589.9 163.8,589.8C164.3,589.7 164.9,589.6 165.4,589.5C165.9,589.4 166.4,589.3 166.9,589.2C167.5,589.1 168.0,589.1 168.5,589.0C169.1,589.0 169.6,588.9 170.1,588.8C170.6,588.7 171.1,588.7 171.6,588.5C172.0,588.4 172.3,587.9 172.8,587.8C173.3,587.7 174.0,588.0 174.5,588.1C175.1,588.1 175.7,588.3 176.2,588.3C176.7,588.4 177.2,588.3 177.7,588.2C178.2,588.2 178.7,588.2 179.1,588.1C179.6,588.0 180.1,587.8 180.6,587.7C181.0,587.5 181.5,587.3 182.0,587.1C182.5,587.0 183.0,587.0 183.5,586.8C184.0,586.5 184.5,586.1 185.0,585.9C185.5,585.6 186.1,585.3 186.6,585.3C187.1,585.3 187.6,585.9 188.1,586.1C188.6,586.3 189.2,586.3 189.7,586.4C190.2,586.5 190.6,586.7 191.2,586.6C191.7,586.6 192.3,586.3 192.9,586.1C193.5,585.9 194.3,585.3 194.9,585.2C195.4,585.2 195.9,585.6 196.3,585.9C196.7,586.2 197.0,586.9 197.4,587.2C197.8,587.6 198.3,587.7 198.8,587.8C199.3,587.9 199.9,587.9 200.5,587.8C201.1,587.8 201.9,587.4 202.5,587.5C203.0,587.5 203.4,587.8 203.8,588.1C204.2,588.4 204.5,588.9 204.9,589.1C205.3,589.4 205.7,589.6 206.3,589.7C206.9,589.7 207.8,589.4 208.6,589.3C209.4,589.1 210.7,588.6 211.3,588.7C211.8,588.8 212.0,589.4 212.1,590.0C212.1,590.5 211.7,591.6 211.7,592.1C211.7,592.7 211.9,593.1 212.1,593.5C212.3,593.8 212.7,594.1 213.0,594.4C213.3,594.7 213.6,595.0 213.9,595.3C214.2,595.6 214.6,595.8 214.9,596.1C215.2,596.4 215.3,596.8 215.5,597.2C215.8,597.5 216.0,597.8 216.2,598.1C216.4,598.4 216.6,598.8 216.8,599.1C217.0,599.5 217.3,599.8 217.4,600.1C217.6,600.4 217.5,600.9 217.7,601.2C217.9,601.5 218.3,601.7 218.8,601.9C219.3,602.2 220.2,602.3 220.7,602.5C221.2,602.7 221.6,603.0 221.8,603.3C222.1,603.6 222.2,604.0 222.2,604.4C222.3,604.8 221.9,605.2 221.9,605.6C222.0,606.0 222.1,606.3 222.3,606.6C222.5,607.0 222.7,607.3 222.9,607.6C223.1,608.0 223.3,608.3 223.6,608.6C223.8,609.0 224.1,609.3 224.3,609.6C224.4,610.0 224.4,610.4 224.5,610.7C224.5,611.1 224.6,611.5 224.7,611.8C224.7,612.2 224.8,612.5 224.7,612.9C224.7,613.3 224.6,613.6 224.6,614.0Z" fill="#f4b3b7" stroke="#c9646e" stroke-width="1.1"/>
<circle cx="209.4" cy="610.2" r="1" fill="#c9646e" opacity="0.6"/>
<circle cx="162.9" cy="608.6" r="1" fill="#c9646e" opacity="0.6"/>
<circle cx="187.5" cy="618.3" r="1" fill="#c9646e" opacity="0.6"/>
<circle cx="165.7" cy="624.1" r="1" fill="#c9646e" opacity="0.6"/>
<circle cx="188.1" cy="600.3" r="1" fill="#c9646e" opacity="0.6"/>
<circle cx="196.2" cy="612.5" r="1" fill="#c9646e" opacity="0.6"/>
<circle cx="181.8" cy="610.6" r="1" fill="#c9646e" opacity="0.6"/>
<circle cx="187.3" cy="622.3" r="1" fill="#c9646e" opacity="0.6"/>
<circle cx="212.8" cy="611.3" r="1" fill="#c9646e" opacity="0.6"/>
<circle cx="155.2" cy="606.6" r="1" fill="#c9646e" opacity="0.6"/>
<circle cx="205.0" cy="609.7" r="1" fill="#c9646e" opacity="0.6"/>
<circle cx="196.8" cy="604.2" r="1" fill="#c9646e" opacity="0.6"/>
<circle cx="176.2" cy="593.2" r="1" fill="#c9646e" opacity="0.6"/>
<circle cx="165.2" cy="627.4" r="1" fill="#c9646e" opacity="0.6"/>
<circle cx="183.7" cy="607.0" r="1" fill="#c9646e" opacity="0.6"/>
<circle cx="186.1" cy="603.5" r="1" fill="#c9646e" opacity="0.6"/>
<circle cx="180.9" cy="625.3" r="1" fill="#c9646e" opacity="0.6"/>
<circle cx="177.9" cy="636.6" r="1" fill="#c9646e" opacity="0.6"/>
<circle cx="156.2" cy="623.0" r="1" fill="#c9646e" opacity="0.6"/>
<circle cx="196.1" cy="623.0" r="1" fill="#c9646e" opacity="0.6"/>
<path d="M202.8,613.0C202.7,613.4 202.6,613.8 202.5,614.3C202.4,614.7 202.5,615.1 202.5,615.5C202.4,616.0 202.4,616.4 202.4,616.8C202.4,617.3 202.5,617.8 202.4,618.2C202.3,618.7 202.2,619.1 202.1,619.6C201.9,620.0 201.9,620.5 201.7,621.0C201.6,621.5 201.5,622.0 201.3,622.5C201.0,622.9 200.7,623.3 200.3,623.7C200.0,624.1 199.5,624.4 199.1,624.8C198.7,625.2 198.3,625.6 197.9,625.9C197.4,626.2 196.8,626.5 196.3,626.7C195.8,627.0 195.3,627.3 194.8,627.6C194.3,627.8 193.7,628.1 193.2,628.3C192.6,628.5 192.0,628.7 191.4,628.9C190.9,629.0 190.3,629.2 189.6,629.3C189.0,629.4 188.4,629.5 187.8,629.6C187.2,629.6 186.6,629.6 185.9,629.6C185.3,629.5 184.7,629.4 184.1,629.2C183.5,629.1 182.9,629.0 182.3,628.8C181.8,628.6 181.2,628.5 180.7,628.2C180.1,628.0 179.7,627.6 179.2,627.3C178.7,627.1 178.2,626.9 177.7,626.7C177.2,626.5 176.7,626.3 176.2,626.1C175.6,626.0 175.0,625.9 174.5,625.8C173.9,625.6 173.3,625.5 172.7,625.3C172.1,625.2 171.5,625.0 170.8,624.9C170.2,624.7 169.5,624.5 168.9,624.3C168.2,624.0 167.5,623.8 166.9,623.5C166.3,623.2 165.8,622.8 165.3,622.4C164.9,622.0 164.5,621.5 164.2,621.0C163.9,620.5 163.5,620.0 163.4,619.5C163.3,618.9 163.4,618.3 163.4,617.8C163.5,617.2 163.6,616.6 163.7,616.1C163.8,615.5 164.0,615.0 164.2,614.5C164.5,614.0 165.0,613.5 165.3,613.0C165.6,612.5 166.0,612.1 166.3,611.7C166.6,611.2 167.0,610.8 167.2,610.4C167.5,610.0 167.7,609.6 168.0,609.2C168.2,608.9 168.5,608.5 168.7,608.1C169.0,607.8 169.4,607.5 169.7,607.1C170.0,606.8 170.1,606.4 170.4,606.0C170.7,605.7 171.0,605.3 171.3,605.0C171.6,604.7 171.9,604.4 172.2,604.0C172.5,603.7 172.8,603.4 173.1,603.0C173.4,602.7 173.7,602.3 174.0,602.0C174.3,601.6 174.7,601.3 175.0,600.9C175.3,600.5 175.6,600.0 176.0,599.6C176.4,599.2 176.8,598.9 177.2,598.5C177.7,598.1 178.1,597.6 178.6,597.2C179.1,596.8 179.6,596.4 180.2,596.1C180.7,595.8 181.4,595.5 182.0,595.2C182.6,595.0 183.3,594.8 184.0,594.7C184.6,594.6 185.3,594.5 186.0,594.5C186.7,594.5 187.4,594.6 188.1,594.7C188.8,594.9 189.4,595.2 190.0,595.4C190.6,595.7 191.2,596.0 191.8,596.3C192.4,596.6 192.9,596.9 193.4,597.2C193.9,597.6 194.5,597.9 195.0,598.2C195.5,598.5 195.9,598.9 196.4,599.2C196.8,599.6 197.3,599.9 197.7,600.2C198.2,600.5 198.6,600.9 199.1,601.2C199.5,601.6 200.0,601.9 200.4,602.2C200.8,602.6 201.3,602.9 201.7,603.3C202.0,603.7 202.3,604.2 202.5,604.6C202.8,605.1 203.1,605.5 203.2,606.0C203.4,606.4 203.5,607.0 203.5,607.4C203.6,607.9 203.6,608.4 203.5,608.9C203.5,609.4 203.4,609.9 203.3,610.3C203.2,610.8 203.2,611.3 203.1,611.7C203.1,612.1 202.9,612.6 202.8,613.0Z" fill="#de8d93" stroke="#b55a63" stroke-width="0.9"/>
</g>
<g>
<path d="M154.0,710.0C154.2,710.5 154.6,711.0 154.6,711.6C154.7,712.1 154.4,712.6 154.1,713.1C153.9,713.6 153.3,714.0 153.1,714.5C152.9,715.0 152.9,715.5 152.9,716.0C152.9,716.5 153.1,717.1 153.2,717.6C153.3,718.1 153.5,718.7 153.5,719.2C153.5,719.8 153.5,720.3 153.3,720.8C153.1,721.3 152.7,721.7 152.2,722.1C151.6,722.4 150.5,722.6 149.9,722.9C149.3,723.3 148.9,723.6 148.6,724.0C148.3,724.4 148.3,724.9 148.1,725.4C147.8,725.8 147.5,726.2 147.3,726.6C147.1,727.0 146.9,727.5 146.7,727.9C146.6,728.4 146.4,728.9 146.4,729.4C146.3,730.0 146.7,730.8 146.6,731.3C146.4,731.8 145.7,731.9 145.4,732.4C145.1,732.8 145.2,733.5 144.9,733.9C144.6,734.3 144.3,734.7 143.7,734.9C143.1,735.1 142.0,734.8 141.3,734.9C140.7,735.0 140.4,735.3 139.9,735.6C139.5,735.9 139.1,736.2 138.7,736.5C138.3,736.7 137.9,737.0 137.5,737.3C137.1,737.6 136.7,737.9 136.3,738.1C135.9,738.4 135.5,738.7 135.1,738.9C134.7,739.1 134.2,739.3 133.7,739.5C133.3,739.7 132.7,739.7 132.3,739.9C131.9,740.1 131.5,740.4 131.1,740.7C130.7,740.9 130.2,741.1 129.8,741.3C129.4,741.5 128.9,741.6 128.5,741.9C128.1,742.2 127.8,742.7 127.4,743.0C127.0,743.3 126.5,743.5 126.1,743.8C125.7,744.1 125.3,744.4 124.9,744.7C124.5,745.1 124.1,745.5 123.7,745.9C123.2,746.3 122.8,746.6 122.4,747.0C121.9,747.4 121.5,747.9 121.0,748.3C120.5,748.6 120.0,749.0 119.5,749.1C119.0,749.2 118.4,748.9 117.8,748.8C117.3,748.7 116.7,748.7 116.2,748.7C115.7,748.7 115.1,748.7 114.6,748.8C114.1,748.9 113.5,749.0 113.0,749.3C112.5,749.5 111.9,750.1 111.3,750.2C110.8,750.3 110.2,750.3 109.7,750.1C109.1,749.9 108.7,749.2 108.1,749.0C107.6,748.8 107.1,748.8 106.5,748.8C106.0,748.8 105.4,748.9 104.9,748.8C104.3,748.7 103.8,748.6 103.3,748.4C102.8,748.2 102.3,747.9 101.8,747.7C101.3,747.5 100.8,747.4 100.3,747.3C99.8,747.1 99.3,746.8 98.8,746.6C98.3,746.4 97.8,746.2 97.3,746.0C96.8,745.8 96.4,745.5 95.7,745.6C95.1,745.7 93.9,746.7 93.3,746.8C92.7,746.8 92.2,746.3 91.9,745.7C91.7,745.1 91.8,743.8 91.6,743.2C91.3,742.6 90.9,742.4 90.5,742.0C90.1,741.7 89.6,741.5 89.2,741.1C88.8,740.8 88.5,740.3 88.2,739.9C87.8,739.6 87.4,739.3 87.0,738.9C86.7,738.5 86.4,738.0 86.1,737.6C85.8,737.2 85.7,736.7 85.3,736.3C84.9,736.0 84.2,736.0 83.7,735.7C83.3,735.5 82.7,735.2 82.4,734.8C82.2,734.4 82.6,733.4 82.2,733.0C81.9,732.6 81.1,732.6 80.5,732.4C80.0,732.2 79.3,732.0 79.0,731.6C78.7,731.2 78.9,730.4 78.7,730.0C78.5,729.5 78.2,729.1 77.9,728.7C77.5,728.3 77.1,728.0 76.7,727.6C76.3,727.2 76.0,726.8 75.6,726.4C75.3,726.0 75.0,725.5 74.6,725.1C74.3,724.7 74.1,724.2 73.7,723.8C73.2,723.4 72.4,723.1 72.0,722.7C71.5,722.3 70.9,721.8 70.8,721.3C70.7,720.8 71.1,720.1 71.2,719.5C71.4,718.9 71.5,718.4 71.5,717.8C71.5,717.3 71.4,716.8 71.3,716.3C71.2,715.8 71.1,715.2 71.0,714.7C70.9,714.2 71.0,713.7 70.9,713.1C70.9,712.6 70.7,712.1 70.6,711.6C70.6,711.1 70.8,710.5 70.7,710.0C70.6,709.5 70.5,708.9 70.2,708.4C70.0,707.9 69.2,707.3 69.3,706.7C69.3,706.2 70.1,705.7 70.6,705.2C71.0,704.7 71.7,704.3 72.0,703.8C72.3,703.3 72.4,702.9 72.4,702.3C72.4,701.8 72.2,701.2 72.2,700.7C72.3,700.2 72.3,699.6 72.6,699.2C72.9,698.7 73.5,698.3 73.8,697.9C74.2,697.5 74.4,697.0 74.6,696.6C74.9,696.1 75.1,695.6 75.3,695.2C75.5,694.7 75.7,694.2 76.0,693.8C76.3,693.4 76.6,693.0 77.0,692.6C77.3,692.2 77.7,691.8 78.0,691.4C78.4,691.0 78.7,690.6 79.1,690.3C79.5,689.9 79.9,689.6 80.3,689.3C80.7,688.9 81.1,688.6 81.5,688.3C81.9,688.0 82.4,687.7 82.8,687.4C83.2,687.0 83.6,686.8 83.9,686.4C84.2,686.0 84.4,685.6 84.6,685.1C84.8,684.6 84.9,684.0 85.0,683.4C85.2,682.9 85.1,682.1 85.5,681.7C85.9,681.4 86.7,681.5 87.2,681.3C87.8,681.2 88.3,681.1 88.8,680.8C89.2,680.6 89.5,680.2 90.0,679.9C90.4,679.6 90.9,679.4 91.3,679.1C91.7,678.9 92.2,678.6 92.6,678.4C93.1,678.2 93.5,678.0 94.0,677.8C94.5,677.6 95.0,677.6 95.4,677.2C95.8,676.9 95.9,676.0 96.3,675.7C96.7,675.3 97.2,675.1 97.7,675.0C98.2,674.9 98.8,674.7 99.3,674.8C99.9,674.8 100.6,675.3 101.2,675.4C101.7,675.5 102.3,675.6 102.8,675.6C103.3,675.6 103.8,675.4 104.3,675.4C104.8,675.4 105.2,675.3 105.7,675.4C106.2,675.4 106.8,675.6 107.3,675.5C107.7,675.4 108.2,675.0 108.6,674.8C109.1,674.5 109.5,673.8 110.0,673.9C110.5,673.9 111.0,674.6 111.5,674.9C112.0,675.1 112.5,675.4 113.0,675.5C113.5,675.6 113.9,675.5 114.4,675.5C114.9,675.4 115.4,675.3 115.9,675.2C116.4,675.1 116.9,675.0 117.4,674.9C117.9,674.8 118.4,674.7 118.9,674.6C119.4,674.5 119.9,674.4 120.5,674.3C121.0,674.2 121.5,674.1 122.1,674.1C122.6,674.1 123.1,674.2 123.6,674.3C124.1,674.3 124.6,674.5 125.1,674.6C125.6,674.7 126.1,674.9 126.7,674.7C127.3,674.6 128.1,674.0 128.9,673.6C129.6,673.2 130.7,672.4 131.2,672.5C131.7,672.7 131.6,674.1 132.0,674.6C132.3,675.2 132.6,675.7 133.1,675.9C133.7,676.0 134.6,675.5 135.3,675.5C136.0,675.4 136.8,675.3 137.3,675.5C137.8,675.8 137.9,676.6 138.3,676.9C138.7,677.3 139.2,677.5 139.7,677.8C140.2,678.1 140.8,678.2 141.3,678.5C141.9,678.7 142.5,678.9 143.0,679.2C143.4,679.5 143.8,679.9 144.3,680.3C144.7,680.7 145.1,681.1 145.5,681.4C146.0,681.8 146.5,682.1 146.9,682.5C147.3,682.9 147.6,683.4 147.9,683.8C148.3,684.3 148.7,684.7 149.0,685.1C149.4,685.6 149.6,686.1 150.0,686.5C150.4,686.9 151.0,687.2 151.4,687.6C151.9,688.0 152.3,688.4 152.5,689.0C152.6,689.5 152.4,690.3 152.3,691.0C152.3,691.6 152.3,692.2 152.3,692.8C152.3,693.4 152.4,693.9 152.5,694.4C152.6,695.0 152.8,695.5 152.8,696.1C152.8,696.6 152.7,697.2 152.6,697.8C152.6,698.3 152.4,698.9 152.5,699.4C152.6,699.9 153.0,700.4 153.2,700.8C153.4,701.3 153.8,701.8 153.9,702.3C153.9,702.8 153.6,703.4 153.5,703.9C153.5,704.4 153.4,704.9 153.4,705.5C153.4,706.0 153.5,706.5 153.6,707.0C153.6,707.5 153.5,708.0 153.6,708.5C153.7,709.0 153.8,709.5 154.0,710.0Z" fill="#f3adb2" stroke="#c9646e" stroke-width="1.1"/>
<circle cx="113.6" cy="710.3" r="1" fill="#c9646e" opacity="0.6"/>
<circle cx="123.5" cy="738.9" r="1" fill="#c9646e" opacity="0.6"/>
<circle cx="121.4" cy="736.4" r="1" fill="#c9646e" opacity="0.6"/>
<circle cx="115.2" cy="687.3" r="1" fill="#c9646e" opacity="0.6"/>
<circle cx="125.7" cy="736.4" r="1" fill="#c9646e" opacity="0.6"/>
<circle cx="134.5" cy="707.0" r="1" fill="#c9646e" opacity="0.6"/>
<circle cx="101.8" cy="707.0" r="1" fill="#c9646e" opacity="0.6"/>
<circle cx="100.5" cy="687.6" r="1" fill="#c9646e" opacity="0.6"/>
<circle cx="142.5" cy="714.3" r="1" fill="#c9646e" opacity="0.6"/>
<circle cx="104.8" cy="704.5" r="1" fill="#c9646e" opacity="0.6"/>
<circle cx="114.8" cy="710.2" r="1" fill="#c9646e" opacity="0.6"/>
<circle cx="141.6" cy="700.1" r="1" fill="#c9646e" opacity="0.6"/>
<circle cx="123.9" cy="689.4" r="1" fill="#c9646e" opacity="0.6"/>
<circle cx="117.7" cy="716.9" r="1" fill="#c9646e" opacity="0.6"/>
<circle cx="83.8" cy="717.1" r="1" fill="#c9646e" opacity="0.6"/>
<circle cx="102.8" cy="718.6" r="1" fill="#c9646e" opacity="0.6"/>
<circle cx="90.1" cy="718.8" r="1" fill="#c9646e" opacity="0.6"/>
<circle cx="126.2" cy="704.0" r="1" fill="#c9646e" opacity="0.6"/>
<circle cx="95.5" cy="717.3" r="1" fill="#c9646e" opacity="0.6"/>
<circle cx="115.7" cy="696.3" r="1" fill="#c9646e" opacity="0.6"/>
<circle cx="111.2" cy="680.8" r="1" fill="#c9646e" opacity="0.6"/>
<circle cx="87.8" cy="711.1" r="1" fill="#c9646e" opacity="0.6"/>
<circle cx="121.9" cy="706.8" r="1" fill="#c9646e" opacity="0.6"/>
<circle cx="132.6" cy="713.3" r="1" fill="#c9646e" opacity="0.6"/>
<circle cx="89.8" cy="700.2" r="1" fill="#c9646e" opacity="0.6"/>
<circle cx="119.3" cy="714.2" r="1" fill="#c9646e" opacity="0.6"/>
<circle cx="138.3" cy="693.8" r="1" fill="#c9646e" opacity="0.6"/>
<path d="M134.3,711.0C134.2,711.5 134.0,711.9 134.0,712.3C133.9,712.8 133.8,713.2 133.7,713.7C133.6,714.1 133.5,714.6 133.4,715.0C133.3,715.4 133.2,715.9 133.1,716.3C133.0,716.8 133.0,717.3 132.9,717.7C132.8,718.2 132.7,718.7 132.5,719.1C132.4,719.6 132.2,720.1 132.0,720.5C131.7,721.0 131.4,721.3 131.1,721.8C130.8,722.2 130.6,722.7 130.2,723.0C129.9,723.4 129.4,723.6 128.9,723.9C128.5,724.1 128.0,724.3 127.5,724.5C127.0,724.7 126.5,724.8 126.0,724.9C125.5,725.0 124.9,725.1 124.4,725.1C123.9,725.2 123.4,725.3 123.0,725.3C122.5,725.3 121.9,725.2 121.5,725.2C121.0,725.2 120.5,725.2 120.1,725.3C119.6,725.3 119.2,725.5 118.7,725.5C118.2,725.5 117.8,725.5 117.3,725.4C116.8,725.4 116.4,725.5 115.9,725.5C115.4,725.5 115.0,725.4 114.5,725.4C114.0,725.4 113.5,725.3 113.1,725.2C112.6,725.1 112.2,724.9 111.7,724.7C111.3,724.5 110.9,724.3 110.5,724.1C110.1,723.9 109.6,723.7 109.2,723.5C108.8,723.2 108.4,723.0 108.0,722.7C107.7,722.4 107.3,722.1 106.9,721.8C106.6,721.6 106.1,721.3 105.7,721.0C105.4,720.7 105.0,720.4 104.7,720.0C104.4,719.7 104.2,719.3 103.9,718.9C103.7,718.5 103.4,718.1 103.2,717.7C103.0,717.3 102.8,716.8 102.7,716.4C102.6,715.9 102.6,715.5 102.6,715.0C102.6,714.5 102.7,714.0 102.8,713.6C102.9,713.1 103.1,712.7 103.2,712.2C103.4,711.8 103.5,711.4 103.7,711.0C103.9,710.6 104.2,710.2 104.4,709.9C104.6,709.5 104.6,709.1 104.8,708.7C104.9,708.4 105.1,708.1 105.1,707.7C105.2,707.3 105.1,706.9 105.1,706.5C105.1,706.0 105.1,705.6 105.0,705.1C105.0,704.7 104.9,704.2 104.9,703.7C104.9,703.1 104.8,702.6 104.9,702.0C104.9,701.5 104.9,700.9 105.1,700.4C105.2,699.9 105.3,699.3 105.5,698.8C105.7,698.3 106.1,697.8 106.4,697.4C106.8,697.0 107.2,696.7 107.7,696.3C108.1,696.0 108.5,695.6 109.0,695.3C109.5,695.1 110.0,694.9 110.6,694.7C111.1,694.6 111.7,694.5 112.3,694.4C112.8,694.4 113.4,694.4 114.0,694.5C114.5,694.5 115.1,694.5 115.6,694.6C116.2,694.6 116.7,694.6 117.2,694.7C117.7,694.9 118.3,695.1 118.8,695.3C119.2,695.5 119.7,695.7 120.2,695.9C120.6,696.1 121.1,696.3 121.5,696.5C121.9,696.8 122.3,697.1 122.7,697.4C123.1,697.7 123.4,698.0 123.8,698.3C124.1,698.7 124.4,699.0 124.7,699.4C125.0,699.7 125.3,699.9 125.6,700.2C125.9,700.4 126.2,700.8 126.4,701.1C126.7,701.4 127.0,701.6 127.3,701.9C127.6,702.1 128.0,702.3 128.3,702.5C128.7,702.8 129.0,703.0 129.4,703.2C129.8,703.4 130.3,703.7 130.7,703.9C131.1,704.2 131.4,704.5 131.8,704.8C132.1,705.1 132.5,705.4 132.8,705.8C133.1,706.2 133.4,706.6 133.6,707.0C133.8,707.4 133.9,707.8 134.0,708.3C134.1,708.7 134.1,709.2 134.2,709.6C134.2,710.1 134.3,710.5 134.3,711.0Z" fill="#d98188" stroke="#b55a63" stroke-width="0.9"/>
</g>
<g>
<path d="M158.6,662.0C158.7,662.6 159.1,663.3 159.2,663.9C159.4,664.5 159.6,665.2 159.3,665.8C159.1,666.4 158.2,667.0 157.8,667.6C157.3,668.1 157.0,668.7 156.6,669.2C156.3,669.8 156.0,670.4 155.7,670.9C155.4,671.5 155.3,672.0 155.0,672.6C154.7,673.1 154.1,673.5 153.9,674.1C153.7,674.6 153.7,675.2 153.7,675.9C153.7,676.5 154.0,677.2 154.0,677.8C154.0,678.5 154.0,679.2 153.6,679.6C153.2,680.1 152.1,680.2 151.6,680.6C151.0,681.0 150.6,681.4 150.4,681.9C150.1,682.4 149.9,683.0 149.8,683.6C149.8,684.2 150.2,685.2 150.0,685.7C149.7,686.3 149.1,686.6 148.5,686.8C147.9,687.1 147.0,687.1 146.3,687.4C145.7,687.6 145.2,687.9 144.8,688.3C144.4,688.6 144.3,689.2 144.0,689.7C143.7,690.2 143.6,690.9 143.1,691.2C142.6,691.5 141.7,691.3 141.1,691.5C140.5,691.6 140.0,691.8 139.5,692.0C139.0,692.3 138.7,692.6 138.3,693.0C138.0,693.4 137.7,694.0 137.4,694.4C137.0,694.8 136.6,695.1 136.2,695.5C135.8,695.8 135.3,696.0 134.9,696.3C134.5,696.6 134.2,697.1 133.8,697.5C133.4,697.9 132.9,698.2 132.5,698.5C132.1,698.9 131.7,699.3 131.3,699.5C130.8,699.8 130.3,700.0 129.8,700.3C129.4,700.6 129.0,701.0 128.5,701.3C128.1,701.7 127.7,702.0 127.2,702.5C126.8,702.9 126.4,703.2 126.0,703.8C125.5,704.3 125.2,705.2 124.8,705.8C124.4,706.4 124.0,707.4 123.4,707.6C122.9,707.8 122.1,707.1 121.5,706.9C120.9,706.7 120.3,706.6 119.7,706.6C119.2,706.6 118.6,706.9 118.1,706.9C117.5,706.9 116.9,706.7 116.4,706.7C115.8,706.8 115.3,707.0 114.7,707.2C114.1,707.4 113.6,708.1 113.0,708.1C112.4,708.1 111.9,707.6 111.3,707.1C110.8,706.7 110.3,705.9 109.7,705.5C109.2,705.2 108.7,705.2 108.1,705.1C107.6,705.0 107.0,705.0 106.5,704.9C106.0,704.8 105.5,704.4 104.9,704.5C104.4,704.5 103.7,704.9 103.1,705.0C102.5,705.2 101.8,705.8 101.3,705.6C100.7,705.5 100.4,704.7 99.9,704.2C99.5,703.7 99.1,703.1 98.6,702.8C98.1,702.6 97.4,702.9 96.8,702.9C96.3,702.8 95.6,702.9 95.2,702.5C94.8,702.1 94.7,700.8 94.4,700.3C94.0,699.7 93.6,699.5 93.2,699.1C92.8,698.7 92.4,698.3 92.0,698.0C91.5,697.6 91.1,697.4 90.6,697.1C90.2,696.8 89.7,696.5 89.3,696.2C88.8,695.9 88.4,695.6 88.0,695.3C87.5,695.0 87.1,694.6 86.7,694.3C86.2,694.0 85.8,693.7 85.3,693.4C84.9,693.1 84.5,692.6 83.9,692.5C83.3,692.3 82.2,692.6 81.6,692.4C81.0,692.2 80.7,691.7 80.5,691.1C80.3,690.5 80.6,689.5 80.3,689.0C80.1,688.4 79.8,688.0 79.2,687.7C78.6,687.5 77.2,687.8 76.6,687.5C76.1,687.1 76.1,686.4 75.9,685.8C75.7,685.2 75.8,684.5 75.6,684.0C75.4,683.4 75.0,683.0 74.6,682.5C74.2,682.0 73.7,681.7 73.3,681.2C72.9,680.7 72.7,680.1 72.4,679.6C72.2,679.1 71.9,678.5 71.6,678.0C71.3,677.5 70.8,677.0 70.5,676.5C70.2,675.9 69.7,675.4 69.6,674.8C69.6,674.2 70.1,673.4 70.3,672.7C70.5,672.1 70.6,671.4 70.6,670.8C70.7,670.2 70.7,669.6 70.8,669.0C70.8,668.4 70.8,667.8 70.7,667.2C70.6,666.7 70.5,666.1 70.2,665.5C69.9,665.0 69.4,664.4 69.1,663.8C68.7,663.2 68.1,662.6 68.0,662.0C67.9,661.4 68.4,660.8 68.6,660.2C68.9,659.6 69.2,659.0 69.4,658.4C69.5,657.8 69.5,657.2 69.5,656.6C69.6,656.0 69.5,655.4 69.6,654.8C69.6,654.2 69.9,653.6 70.1,653.1C70.2,652.5 70.2,651.9 70.3,651.3C70.4,650.7 70.5,650.1 70.6,649.5C70.8,648.9 71.1,648.4 71.3,647.8C71.4,647.2 71.4,646.6 71.6,646.0C71.7,645.4 71.9,644.8 72.1,644.3C72.3,643.7 72.5,643.1 72.7,642.5C72.9,642.0 73.1,641.4 73.3,640.8C73.6,640.3 73.8,639.7 74.1,639.2C74.3,638.6 74.7,638.1 75.0,637.6C75.4,637.1 75.8,636.7 76.1,636.2C76.5,635.7 76.9,635.3 77.2,634.8C77.6,634.3 77.9,633.8 78.1,633.2C78.4,632.6 78.5,631.9 78.8,631.4C79.1,630.8 79.7,630.6 79.9,630.0C80.2,629.4 80.0,628.3 80.4,627.8C80.8,627.4 81.8,627.5 82.4,627.3C83.0,627.0 83.5,626.8 83.9,626.3C84.3,625.8 84.3,624.9 84.8,624.5C85.3,624.2 86.2,624.5 86.8,624.2C87.4,624.0 87.7,623.5 88.2,623.1C88.7,622.8 89.0,622.1 89.7,622.1C90.4,622.1 91.5,623.0 92.3,623.3C93.1,623.5 93.8,623.8 94.4,623.9C95.1,623.9 95.6,623.8 96.2,623.8C96.8,623.8 97.4,623.9 97.9,623.9C98.5,624.0 99.1,624.0 99.6,624.0C100.2,624.0 100.7,624.2 101.3,624.1C101.8,624.1 102.2,624.0 102.7,623.8C103.2,623.6 103.6,623.2 104.1,623.0C104.5,622.7 105.0,622.3 105.4,622.2C105.9,622.0 106.4,622.1 106.9,621.9C107.4,621.7 107.9,621.0 108.4,620.9C108.9,620.8 109.4,621.2 109.9,621.3C110.5,621.4 111.0,621.4 111.5,621.6C112.0,621.7 112.5,622.1 113.0,622.2C113.5,622.4 114.0,622.4 114.5,622.5C115.0,622.6 115.5,622.7 116.0,622.6C116.5,622.6 117.0,622.4 117.5,622.3C118.0,622.2 118.5,622.2 119.0,622.1C119.6,622.1 120.1,622.0 120.6,621.9C121.2,621.7 121.8,621.4 122.4,621.1C123.0,620.8 123.8,619.9 124.3,619.9C124.9,619.8 125.3,620.5 125.8,620.9C126.2,621.2 126.6,621.8 127.1,622.1C127.5,622.4 128.0,622.5 128.5,622.7C129.0,622.9 129.6,623.0 130.1,623.2C130.6,623.4 131.0,623.7 131.6,623.8C132.2,623.8 133.0,623.5 133.6,623.4C134.2,623.4 134.9,623.5 135.4,623.8C135.9,624.0 136.1,624.7 136.6,625.0C137.1,625.3 137.7,625.3 138.3,625.5C138.8,625.7 139.4,626.0 139.9,626.2C140.5,626.5 141.0,626.8 141.6,627.0C142.2,627.2 142.8,627.3 143.6,627.4C144.3,627.4 145.4,627.2 145.9,627.5C146.4,627.9 146.4,628.8 146.6,629.5C146.7,630.2 146.5,631.2 146.7,631.8C146.9,632.5 147.4,632.8 147.7,633.3C148.0,633.8 148.2,634.5 148.6,634.9C148.9,635.4 149.5,635.7 150.0,636.1C150.5,636.5 151.1,636.8 151.5,637.3C151.9,637.7 152.1,638.3 152.4,638.9C152.7,639.4 153.1,639.9 153.2,640.5C153.4,641.1 153.2,641.9 153.3,642.5C153.4,643.2 153.4,643.8 153.6,644.4C153.8,645.0 154.0,645.5 154.3,646.0C154.6,646.6 155.0,647.1 155.3,647.6C155.6,648.1 155.9,648.7 156.2,649.2C156.6,649.8 157.3,650.2 157.5,650.8C157.7,651.4 157.4,652.1 157.3,652.8C157.3,653.4 157.1,654.1 157.1,654.7C157.2,655.3 157.3,655.9 157.5,656.5C157.6,657.1 157.9,657.7 158.0,658.3C158.1,658.9 158.1,659.5 158.2,660.1C158.3,660.8 158.4,661.4 158.6,662.0Z" fill="#f2a2a7" stroke="#c9646e" stroke-width="1.1"/>
<circle cx="147.3" cy="668.0" r="1" fill="#c9646e" opacity="0.6"/>
<circle cx="133.1" cy="663.8" r="1" fill="#c9646e" opacity="0.6"/>
<circle cx="124.0" cy="630.3" r="1" fill="#c9646e" opacity="0.6"/>
<circle cx="116.8" cy="687.7" r="1" fill="#c9646e" opacity="0.6"/>
<circle cx="138.9" cy="663.8" r="1" fill="#c9646e" opacity="0.6"/>
<circle cx="78.7" cy="666.6" r="1" fill="#c9646e" opacity="0.6"/>
<circle cx="101.6" cy="648.6" r="1" fill="#c9646e" opacity="0.6"/>
<circle cx="121.2" cy="650.3" r="1" fill="#c9646e" opacity="0.6"/>
<circle cx="96.9" cy="693.8" r="1" fill="#c9646e" opacity="0.6"/>
<circle cx="84.3" cy="654.3" r="1" fill="#c9646e" opacity="0.6"/>
<circle cx="99.8" cy="640.2" r="1" fill="#c9646e" opacity="0.6"/>
<circle cx="86.5" cy="673.9" r="1" fill="#c9646e" opacity="0.6"/>
<circle cx="126.5" cy="665.7" r="1" fill="#c9646e" opacity="0.6"/>
<circle cx="93.3" cy="651.6" r="1" fill="#c9646e" opacity="0.6"/>
<circle cx="99.4" cy="685.0" r="1" fill="#c9646e" opacity="0.6"/>
<circle cx="133.0" cy="648.8" r="1" fill="#c9646e" opacity="0.6"/>
<circle cx="92.3" cy="640.8" r="1" fill="#c9646e" opacity="0.6"/>
<circle cx="138.5" cy="642.2" r="1" fill="#c9646e" opacity="0.6"/>
<circle cx="94.4" cy="669.0" r="1" fill="#c9646e" opacity="0.6"/>
<circle cx="90.0" cy="655.6" r="1" fill="#c9646e" opacity="0.6"/>
<circle cx="128.7" cy="646.5" r="1" fill="#c9646e" opacity="0.6"/>
<circle cx="130.9" cy="639.7" r="1" fill="#c9646e" opacity="0.6"/>
<circle cx="109.2" cy="653.9" r="1" fill="#c9646e" opacity="0.6"/>
<circle cx="136.8" cy="685.1" r="1" fill="#c9646e" opacity="0.6"/>
<circle cx="129.5" cy="669.6" r="1" fill="#c9646e" opacity="0.6"/>
<circle cx="126.7" cy="654.8" r="1" fill="#c9646e" opacity="0.6"/>
<circle cx="101.9" cy="668.8" r="1" fill="#c9646e" opacity="0.6"/>
<circle cx="109.5" cy="696.6" r="1" fill="#c9646e" opacity="0.6"/>
<circle cx="121.2" cy="650.4" r="1" fill="#c9646e" opacity="0.6"/>
<circle cx="79.5" cy="666.9" r="1" fill="#c9646e" opacity="0.6"/>
<circle cx="115.2" cy="646.5" r="1" fill="#c9646e" opacity="0.6"/>
<circle cx="89.4" cy="685.1" r="1" fill="#c9646e" opacity="0.6"/>
<circle cx="96.1" cy="670.1" r="1" fill="#c9646e" opacity="0.6"/>
<path d="M154.6,665.0C154.8,665.6 155.1,666.2 155.3,666.8C155.5,667.4 155.6,668.1 155.8,668.8C155.9,669.4 156.0,670.1 156.0,670.8C156.1,671.5 156.1,672.2 156.0,672.8C155.9,673.5 155.7,674.2 155.4,674.8C155.2,675.4 154.7,676.0 154.3,676.5C153.8,677.0 153.3,677.5 152.7,677.9C152.2,678.4 151.5,678.7 150.9,679.0C150.3,679.3 149.6,679.6 148.9,679.8C148.3,680.1 147.6,680.3 147.0,680.5C146.3,680.6 145.6,680.7 145.0,680.9C144.4,681.0 143.8,681.1 143.2,681.3C142.6,681.4 142.1,681.6 141.5,681.8C141.0,681.9 140.5,682.1 139.9,682.2C139.3,682.4 138.8,682.5 138.2,682.6C137.7,682.7 137.1,682.9 136.6,683.0C136.0,683.1 135.4,683.2 134.9,683.2C134.3,683.3 133.7,683.2 133.1,683.1C132.6,683.0 132.0,683.0 131.5,682.8C130.9,682.6 130.4,682.2 129.9,682.0C129.4,681.7 128.9,681.5 128.4,681.3C128.0,681.0 127.5,680.8 127.0,680.5C126.6,680.3 126.1,680.0 125.6,679.8C125.2,679.5 124.8,679.2 124.3,679.0C123.8,678.8 123.2,678.6 122.7,678.4C122.2,678.2 121.7,678.0 121.2,677.7C120.7,677.5 120.1,677.2 119.6,677.0C119.0,676.7 118.4,676.5 117.9,676.1C117.3,675.8 117.0,675.3 116.5,674.9C116.0,674.5 115.4,674.2 115.0,673.7C114.6,673.2 114.4,672.6 114.1,672.1C113.9,671.5 113.6,671.0 113.4,670.4C113.2,669.8 113.1,669.2 113.0,668.6C112.8,668.0 112.7,667.4 112.6,666.8C112.6,666.2 112.5,665.6 112.5,665.0C112.5,664.4 112.6,663.8 112.7,663.2C112.8,662.6 112.8,662.0 112.9,661.4C113.0,660.8 113.2,660.2 113.4,659.6C113.6,659.0 113.9,658.5 114.2,657.9C114.5,657.4 114.9,656.9 115.2,656.4C115.6,655.9 115.9,655.4 116.4,655.0C116.8,654.6 117.4,654.2 117.9,653.9C118.4,653.5 118.9,653.2 119.4,652.9C119.9,652.6 120.4,652.3 120.9,652.0C121.5,651.8 122.0,651.6 122.5,651.3C123.0,651.0 123.3,650.6 123.8,650.3C124.2,649.9 124.6,649.6 125.1,649.2C125.5,648.9 126.0,648.6 126.4,648.2C126.9,647.8 127.3,647.2 127.8,646.8C128.3,646.4 128.8,646.0 129.3,645.6C129.9,645.3 130.5,645.0 131.1,644.7C131.7,644.5 132.4,644.2 133.0,644.1C133.7,644.0 134.3,644.0 135.0,644.0C135.6,644.1 136.3,644.1 136.9,644.3C137.6,644.5 138.2,644.8 138.8,645.2C139.3,645.5 139.9,645.9 140.4,646.3C140.9,646.8 141.3,647.3 141.8,647.8C142.2,648.2 142.6,648.7 142.9,649.2C143.3,649.7 143.6,650.2 143.9,650.7C144.3,651.2 144.6,651.6 144.9,652.0C145.3,652.4 145.6,652.7 146.0,653.1C146.3,653.5 146.6,653.9 146.9,654.3C147.3,654.6 147.6,655.0 147.9,655.4C148.2,655.8 148.6,656.1 149.0,656.5C149.3,656.9 149.8,657.2 150.1,657.6C150.4,658.0 150.7,658.5 151.0,658.9C151.3,659.4 151.6,659.8 151.9,660.3C152.2,660.8 152.4,661.3 152.7,661.8C153.0,662.3 153.3,662.8 153.6,663.3C153.9,663.9 154.3,664.4 154.6,665.0Z" fill="#cc6870" stroke="#b55a63" stroke-width="0.9"/>
</g>
<g>
<path d="M264.1,660.0C264.1,660.6 263.9,661.1 263.8,661.7C263.7,662.2 263.6,662.8 263.5,663.3C263.5,663.9 263.5,664.5 263.5,665.0C263.4,665.6 263.1,666.1 262.9,666.6C262.8,667.2 262.7,667.7 262.6,668.3C262.5,668.8 262.5,669.4 262.4,669.9C262.3,670.5 262.3,671.0 262.2,671.6C262.1,672.1 261.7,672.6 261.6,673.2C261.6,673.7 261.7,674.3 262.2,675.1C262.6,675.9 263.7,677.0 264.4,678.0C265.1,678.9 266.5,680.3 266.3,680.9C266.1,681.5 264.4,681.4 263.3,681.5C262.2,681.6 260.6,681.4 259.7,681.6C258.9,681.7 258.6,682.2 258.2,682.6C257.8,683.0 257.6,683.5 257.4,684.1C257.2,684.6 256.9,685.1 256.9,685.8C256.8,686.5 257.1,687.4 257.0,688.1C257.0,688.8 256.9,689.6 256.6,690.1C256.4,690.6 255.8,691.0 255.4,691.3C254.9,691.7 254.1,691.7 253.8,692.3C253.5,692.8 253.7,693.9 253.5,694.6C253.4,695.3 253.3,696.2 252.8,696.6C252.4,697.0 251.2,696.5 250.7,696.8C250.1,697.0 249.9,697.7 249.5,698.2C249.1,698.7 249.0,699.6 248.5,699.9C248.0,700.3 247.1,700.0 246.5,700.2C246.0,700.4 245.6,701.0 245.1,701.3C244.5,701.6 243.9,701.7 243.3,701.8C242.7,701.8 241.9,701.6 241.3,701.6C240.7,701.6 240.0,701.6 239.5,701.7C238.9,701.9 238.4,702.1 238.0,702.5C237.5,702.8 237.1,703.6 236.6,704.0C236.2,704.4 235.6,704.7 235.1,704.8C234.5,704.9 233.8,704.5 233.2,704.6C232.6,704.7 232.1,705.0 231.6,705.3C231.1,705.6 230.6,706.4 230.0,706.5C229.5,706.7 228.8,706.4 228.2,706.3C227.6,706.2 227.0,705.7 226.4,705.8C225.9,705.9 225.3,706.6 224.8,706.9C224.2,707.3 223.6,707.8 223.0,707.7C222.4,707.7 221.8,706.8 221.3,706.6C220.7,706.4 220.1,706.5 219.5,706.5C218.9,706.4 218.4,706.3 217.8,706.3C217.2,706.4 216.6,706.5 216.0,706.5C215.4,706.5 214.8,706.4 214.2,706.3C213.6,706.2 213.1,705.9 212.5,705.8C211.9,705.6 211.4,705.5 210.8,705.5C210.1,705.5 209.3,706.0 208.8,705.9C208.2,705.7 207.7,705.2 207.3,704.6C206.9,704.0 206.6,703.0 206.2,702.4C205.8,701.8 205.4,701.5 204.9,701.0C204.5,700.6 204.1,700.2 203.6,699.9C203.1,699.6 202.5,699.5 202.1,699.2C201.6,698.9 201.2,698.4 200.7,698.1C200.3,697.7 199.8,697.5 199.3,697.1C198.8,696.8 198.3,696.6 197.9,696.2C197.4,695.9 197.0,695.5 196.5,695.3C195.9,695.0 195.0,695.2 194.6,694.9C194.1,694.5 193.9,693.9 193.7,693.2C193.6,692.5 193.8,691.4 193.8,690.6C193.7,689.9 193.6,689.3 193.4,688.6C193.3,688.0 193.0,687.5 192.9,686.9C192.7,686.4 192.8,685.7 192.6,685.1C192.4,684.6 192.0,684.2 191.9,683.7C191.7,683.2 191.7,682.5 191.6,682.0C191.4,681.5 191.3,681.0 191.1,680.5C190.9,680.0 190.6,679.6 190.3,679.2C190.1,678.7 189.9,678.2 189.8,677.7C189.6,677.3 189.4,676.8 189.2,676.3C189.1,675.8 189.1,675.3 188.9,674.8C188.8,674.3 188.6,673.8 188.4,673.4C188.2,672.9 187.9,672.5 187.7,672.0C187.5,671.5 187.3,671.1 187.1,670.6C186.9,670.1 186.6,669.7 186.4,669.2C186.2,668.7 186.1,668.2 185.9,667.7C185.6,667.3 185.1,666.8 184.8,666.3C184.5,665.9 184.3,665.3 184.1,664.8C183.8,664.3 183.5,663.8 183.3,663.3C183.0,662.7 182.9,662.2 182.7,661.7C182.5,661.1 182.2,660.6 182.1,660.0C181.9,659.4 181.9,658.9 181.6,658.3C181.2,657.7 180.4,657.1 180.2,656.5C179.9,655.9 180.0,655.3 179.9,654.7C179.8,654.0 179.7,653.4 179.8,652.8C179.9,652.2 180.1,651.7 180.4,651.1C180.7,650.6 181.4,650.1 181.5,649.6C181.6,649.0 181.2,648.3 181.2,647.7C181.2,647.0 181.4,646.5 181.6,645.9C181.8,645.4 182.3,644.9 182.3,644.3C182.4,643.6 181.9,642.8 181.8,642.1C181.6,641.4 181.1,640.5 181.3,639.9C181.4,639.2 182.1,638.9 182.6,638.4C183.1,638.0 183.7,637.6 184.1,637.2C184.5,636.7 184.7,636.1 185.0,635.6C185.3,635.1 185.7,634.6 186.1,634.1C186.4,633.7 186.8,633.2 187.1,632.7C187.5,632.2 187.7,631.6 188.1,631.2C188.5,630.7 189.0,630.3 189.4,629.9C189.8,629.5 190.1,629.0 190.5,628.5C190.9,628.1 191.2,627.5 191.6,627.1C192.0,626.7 192.5,626.3 192.9,625.9C193.4,625.5 193.9,625.2 194.3,624.8C194.7,624.4 195.1,623.9 195.5,623.5C196.0,623.1 196.5,622.8 196.9,622.4C197.4,622.1 197.9,621.7 198.4,621.4C198.9,621.1 199.5,620.9 200.0,620.7C200.5,620.4 201.0,620.2 201.5,619.9C202.0,619.5 202.5,619.1 202.9,618.8C203.4,618.4 203.9,618.1 204.4,617.8C204.9,617.5 205.5,617.4 206.0,617.0C206.5,616.7 207.0,616.2 207.4,615.8C207.9,615.5 208.5,615.2 209.0,614.8C209.5,614.4 210.0,613.9 210.5,613.5C211.0,613.0 211.4,612.0 212.0,611.9C212.6,611.9 213.4,612.8 214.1,613.1C214.8,613.4 215.4,613.6 216.0,613.8C216.6,614.0 217.2,614.1 217.8,614.3C218.4,614.4 219.0,614.4 219.6,614.6C220.2,614.8 220.8,615.1 221.3,615.3C221.9,615.5 222.4,615.6 223.0,615.8C223.6,615.9 224.1,616.1 224.6,616.2C225.2,616.4 225.7,616.5 226.3,616.6C226.8,616.7 227.3,616.9 227.9,616.9C228.4,616.8 229.0,616.4 229.6,616.4C230.2,616.4 230.7,616.4 231.2,616.7C231.7,617.0 232.1,617.7 232.6,618.2C233.1,618.6 233.5,618.8 234.0,619.1C234.5,619.4 234.9,619.7 235.4,619.9C235.9,620.1 236.5,620.2 236.9,620.5C237.4,620.7 237.7,621.3 238.2,621.5C238.7,621.6 239.3,621.6 239.9,621.6C240.5,621.6 241.4,621.0 241.8,621.3C242.3,621.5 242.5,622.4 242.8,623.0C243.1,623.5 243.4,624.1 243.7,624.6C244.1,625.0 244.6,625.2 245.0,625.5C245.4,625.8 245.8,626.2 246.2,626.5C246.7,626.8 247.1,627.1 247.6,627.3C248.1,627.5 248.6,627.7 249.1,627.9C249.7,628.1 250.3,628.2 250.8,628.5C251.2,628.8 251.7,629.2 252.0,629.7C252.3,630.1 252.3,630.8 252.6,631.3C252.9,631.8 253.1,632.3 253.6,632.7C254.0,633.0 254.6,633.2 255.1,633.5C255.5,633.8 256.0,634.2 256.4,634.6C256.8,635.0 257.1,635.4 257.6,635.8C258.1,636.1 258.7,636.4 259.2,636.8C259.7,637.1 260.1,637.6 260.5,638.0C260.9,638.4 261.3,638.9 261.8,639.3C262.2,639.7 263.0,640.0 263.4,640.5C263.8,641.0 263.9,641.6 264.1,642.2C264.2,642.8 264.4,643.4 264.5,644.0C264.6,644.6 264.7,645.2 264.6,645.8C264.5,646.5 264.0,647.3 263.9,647.9C263.8,648.6 263.9,649.1 264.0,649.7C264.1,650.3 264.4,650.8 264.7,651.3C264.9,651.9 265.6,652.4 265.6,652.9C265.5,653.5 264.8,654.2 264.5,654.8C264.3,655.5 264.3,656.0 264.2,656.6C264.1,657.2 264.0,657.7 264.0,658.3C264.0,658.9 264.2,659.4 264.1,660.0Z" fill="#f2a2a7" stroke="#c9646e" stroke-width="1.1"/>
<circle cx="219.8" cy="628.3" r="1" fill="#c9646e" opacity="0.6"/>
<circle cx="236.0" cy="675.7" r="1" fill="#c9646e" opacity="0.6"/>
<circle cx="194.9" cy="651.8" r="1" fill="#c9646e" opacity="0.6"/>
<circle cx="251.0" cy="637.9" r="1" fill="#c9646e" opacity="0.6"/>
<circle cx="209.1" cy="690.1" r="1" fill="#c9646e" opacity="0.6"/>
<circle cx="208.9" cy="668.2" r="1" fill="#c9646e" opacity="0.6"/>
<circle cx="240.7" cy="663.8" r="1" fill="#c9646e" opacity="0.6"/>
<circle cx="222.2" cy="650.7" r="1" fill="#c9646e" opacity="0.6"/>
<circle cx="206.8" cy="669.9" r="1" fill="#c9646e" opacity="0.6"/>
<circle cx="226.1" cy="664.5" r="1" fill="#c9646e" opacity="0.6"/>
<circle cx="235.4" cy="684.0" r="1" fill="#c9646e" opacity="0.6"/>
<circle cx="210.2" cy="650.6" r="1" fill="#c9646e" opacity="0.6"/>
<circle cx="222.8" cy="622.7" r="1" fill="#c9646e" opacity="0.6"/>
<circle cx="234.4" cy="659.4" r="1" fill="#c9646e" opacity="0.6"/>
<circle cx="221.7" cy="670.8" r="1" fill="#c9646e" opacity="0.6"/>
<circle cx="227.3" cy="635.2" r="1" fill="#c9646e" opacity="0.6"/>
<circle cx="231.4" cy="681.6" r="1" fill="#c9646e" opacity="0.6"/>
<circle cx="209.4" cy="677.4" r="1" fill="#c9646e" opacity="0.6"/>
<circle cx="247.4" cy="686.7" r="1" fill="#c9646e" opacity="0.6"/>
<circle cx="209.3" cy="655.2" r="1" fill="#c9646e" opacity="0.6"/>
<circle cx="230.2" cy="695.6" r="1" fill="#c9646e" opacity="0.6"/>
<circle cx="233.1" cy="646.6" r="1" fill="#c9646e" opacity="0.6"/>
<circle cx="220.7" cy="662.9" r="1" fill="#c9646e" opacity="0.6"/>
<circle cx="237.4" cy="648.1" r="1" fill="#c9646e" opacity="0.6"/>
<circle cx="243.4" cy="678.5" r="1" fill="#c9646e" opacity="0.6"/>
<circle cx="197.0" cy="650.4" r="1" fill="#c9646e" opacity="0.6"/>
<circle cx="211.6" cy="679.3" r="1" fill="#c9646e" opacity="0.6"/>
<circle cx="243.3" cy="649.6" r="1" fill="#c9646e" opacity="0.6"/>
<circle cx="199.2" cy="638.2" r="1" fill="#c9646e" opacity="0.6"/>
<circle cx="223.2" cy="678.5" r="1" fill="#c9646e" opacity="0.6"/>
<circle cx="240.6" cy="669.1" r="1" fill="#c9646e" opacity="0.6"/>
<circle cx="205.9" cy="627.7" r="1" fill="#c9646e" opacity="0.6"/>
<circle cx="216.2" cy="647.2" r="1" fill="#c9646e" opacity="0.6"/>
<path d="M227.3,668.0C227.0,668.6 226.7,669.1 226.5,669.7C226.2,670.2 225.8,670.7 225.5,671.2C225.3,671.7 225.1,672.2 224.9,672.7C224.7,673.2 224.6,673.7 224.5,674.2C224.4,674.7 224.3,675.2 224.2,675.8C224.2,676.4 224.2,677.0 224.2,677.7C224.2,678.3 224.1,679.0 224.0,679.6C223.9,680.3 223.6,680.8 223.4,681.5C223.2,682.1 223.1,682.9 222.8,683.5C222.5,684.1 222.1,684.6 221.7,685.1C221.3,685.7 220.9,686.3 220.4,686.8C219.9,687.3 219.3,687.6 218.8,688.0C218.2,688.3 217.6,688.7 216.9,688.9C216.3,689.2 215.7,689.4 215.0,689.6C214.4,689.8 213.7,689.9 213.0,690.1C212.4,690.2 211.7,690.4 211.0,690.4C210.4,690.4 209.7,690.2 209.0,690.1C208.3,690.0 207.7,690.0 207.0,689.8C206.4,689.6 205.7,689.3 205.2,689.0C204.6,688.7 204.0,688.3 203.5,687.9C202.9,687.5 202.4,687.1 202.0,686.6C201.5,686.1 201.1,685.5 200.8,684.9C200.4,684.4 200.0,684.0 199.6,683.6C199.3,683.1 199.1,682.5 198.7,682.0C198.4,681.6 198.1,681.2 197.8,680.8C197.4,680.5 197.0,680.2 196.7,679.9C196.3,679.5 195.9,679.2 195.5,678.9C195.1,678.6 194.7,678.3 194.2,678.0C193.7,677.8 193.1,677.5 192.6,677.2C192.1,676.9 191.6,676.5 191.1,676.1C190.7,675.7 190.4,675.2 190.0,674.8C189.6,674.3 189.1,673.8 188.8,673.3C188.4,672.8 188.2,672.2 188.1,671.6C187.9,671.0 187.9,670.4 187.8,669.8C187.8,669.2 187.6,668.6 187.6,668.0C187.6,667.4 187.8,666.8 187.9,666.2C187.9,665.6 187.9,665.0 187.9,664.4C188.0,663.7 188.1,663.1 188.2,662.5C188.3,661.9 188.4,661.3 188.5,660.7C188.6,660.1 188.7,659.4 188.8,658.8C189.0,658.1 189.1,657.4 189.3,656.8C189.5,656.2 189.8,655.6 190.1,655.0C190.5,654.4 190.7,653.8 191.1,653.3C191.5,652.7 192.0,652.2 192.5,651.8C193.0,651.4 193.7,651.1 194.2,650.7C194.8,650.4 195.3,650.0 195.9,649.7C196.6,649.5 197.3,649.5 198.0,649.4C198.6,649.2 199.2,649.0 199.9,649.0C200.5,648.9 201.2,648.9 201.8,648.9C202.4,648.9 203.1,649.0 203.7,649.0C204.3,649.0 204.8,648.9 205.4,648.9C206.0,648.9 206.6,648.8 207.1,648.9C207.7,648.9 208.3,649.0 208.9,649.0C209.4,649.1 210.0,649.0 210.6,649.2C211.1,649.3 211.6,649.6 212.2,649.8C212.7,649.9 213.3,650.0 213.8,650.2C214.3,650.3 214.8,650.6 215.3,650.8C215.8,651.1 216.3,651.5 216.7,651.8C217.2,652.0 217.8,652.2 218.2,652.5C218.7,652.8 219.2,653.1 219.7,653.4C220.2,653.6 220.7,653.8 221.3,654.1C221.8,654.4 222.4,654.6 222.9,655.0C223.4,655.3 223.9,655.7 224.4,656.1C225.0,656.4 225.6,656.8 226.0,657.2C226.5,657.7 226.8,658.2 227.2,658.8C227.5,659.3 227.8,659.9 228.0,660.5C228.2,661.1 228.4,661.7 228.5,662.3C228.6,663.0 228.6,663.6 228.5,664.3C228.4,664.9 228.1,665.6 227.9,666.2C227.7,666.8 227.5,667.4 227.3,668.0Z" fill="#cc6870" stroke="#b55a63" stroke-width="0.9"/>
</g>
<g>
<path d="M233.6,730.0C233.3,730.6 233.0,731.2 232.6,731.8C232.3,732.4 231.8,733.0 231.5,733.6C231.1,734.1 230.8,734.7 230.6,735.3C230.4,735.8 230.2,736.4 230.3,737.0C230.4,737.6 230.9,738.3 230.9,738.9C231.0,739.5 231.0,740.2 230.6,740.7C230.2,741.2 229.2,741.6 228.5,742.0C227.9,742.5 227.1,742.9 226.6,743.3C226.1,743.7 225.7,744.2 225.3,744.6C224.9,745.1 224.8,745.6 224.4,746.1C224.1,746.6 223.5,746.9 223.2,747.4C222.8,747.8 222.5,748.3 222.2,748.8C222.0,749.3 221.8,749.8 221.5,750.3C221.2,750.7 220.7,751.1 220.5,751.6C220.2,752.1 220.1,752.7 220.0,753.3C219.9,753.9 220.1,754.7 219.9,755.2C219.7,755.8 219.4,756.3 218.9,756.7C218.4,757.0 217.4,757.0 216.8,757.3C216.3,757.6 216.0,758.1 215.6,758.5C215.2,758.9 214.9,759.4 214.4,759.7C214.0,760.1 213.5,760.4 213.0,760.8C212.5,761.1 212.1,761.4 211.6,761.7C211.1,762.0 210.5,762.3 210.0,762.6C209.5,762.9 209.0,763.2 208.6,763.5C208.1,763.8 207.6,764.1 207.1,764.4C206.6,764.7 206.1,765.0 205.6,765.3C205.1,765.6 204.6,765.9 204.1,766.2C203.7,766.6 203.2,767.0 202.8,767.4C202.3,767.8 201.8,768.1 201.4,768.5C200.9,768.9 200.4,769.4 199.9,769.7C199.4,770.1 198.9,770.3 198.3,770.6C197.8,770.8 197.2,771.0 196.6,771.1C196.0,771.3 195.3,771.3 194.7,771.4C194.1,771.6 193.6,771.9 193.0,772.0C192.4,772.1 191.7,771.8 191.1,772.0C190.5,772.2 190.0,772.6 189.5,773.1C188.9,773.7 188.4,774.7 187.9,775.3C187.3,775.9 186.7,776.8 186.0,776.8C185.4,776.8 184.6,775.7 183.9,775.3C183.3,774.9 182.6,774.6 182.0,774.6C181.4,774.6 180.7,775.1 180.1,775.2C179.4,775.2 178.8,775.1 178.2,774.8C177.5,774.5 177.0,773.7 176.4,773.4C175.8,773.0 175.2,772.8 174.6,772.8C173.9,772.9 173.2,773.5 172.5,773.8C171.8,774.0 171.0,774.6 170.4,774.4C169.7,774.3 169.3,773.4 168.8,773.1C168.2,772.7 167.6,772.4 167.0,772.2C166.4,772.1 165.7,772.2 165.0,772.1C164.4,772.1 163.7,772.0 163.0,772.0C162.4,771.9 161.8,771.7 161.1,771.6C160.4,771.5 159.7,771.5 158.9,771.5C158.2,771.5 157.2,771.8 156.6,771.6C155.9,771.5 155.3,771.1 154.8,770.7C154.3,770.2 154.1,769.4 153.6,768.9C153.1,768.5 152.6,768.1 152.0,767.9C151.3,767.6 150.3,767.8 149.7,767.5C149.1,767.2 148.6,766.7 148.4,766.1C148.1,765.4 148.4,764.2 148.2,763.5C148.0,762.8 147.7,762.3 147.1,762.0C146.6,761.6 145.5,761.7 144.9,761.5C144.2,761.2 143.6,760.8 143.2,760.4C142.8,759.9 142.7,759.2 142.5,758.5C142.3,757.9 142.4,757.1 142.2,756.5C141.9,755.9 141.6,755.5 141.2,755.0C140.8,754.5 140.3,754.1 139.8,753.7C139.3,753.3 138.4,753.1 138.2,752.5C137.9,752.0 138.3,751.1 138.3,750.4C138.3,749.8 138.3,749.1 138.2,748.5C138.1,747.9 137.9,747.4 137.7,746.8C137.6,746.2 137.5,745.7 137.4,745.1C137.2,744.5 136.9,744.0 136.8,743.5C136.6,742.9 136.8,742.3 136.6,741.7C136.5,741.2 136.1,740.7 135.9,740.1C135.7,739.6 135.6,739.0 135.4,738.5C135.2,738.0 134.9,737.4 134.8,736.9C134.6,736.3 134.7,735.7 134.6,735.1C134.5,734.6 134.4,734.0 134.3,733.4C134.2,732.9 134.2,732.3 134.0,731.7C133.9,731.2 133.7,730.6 133.6,730.0C133.5,729.4 133.6,728.8 133.5,728.3C133.5,727.7 133.5,727.1 133.4,726.5C133.3,725.9 132.9,725.3 132.8,724.7C132.7,724.1 132.9,723.5 132.8,722.9C132.7,722.2 132.6,721.6 132.4,721.0C132.2,720.3 132.1,719.7 131.7,718.9C131.3,718.2 130.4,717.3 130.2,716.6C129.9,715.9 130.1,715.2 130.2,714.6C130.4,713.9 130.5,713.3 131.0,712.8C131.5,712.2 132.2,711.8 133.0,711.4C133.8,711.0 135.0,710.8 135.7,710.4C136.3,710.0 136.5,709.4 137.0,709.0C137.4,708.5 137.9,708.1 138.4,707.6C138.9,707.2 139.5,706.8 139.9,706.4C140.4,705.9 141.0,705.6 141.2,705.0C141.5,704.5 141.4,703.7 141.5,703.0C141.7,702.4 141.6,701.6 142.1,701.2C142.7,700.8 144.0,701.0 144.8,700.9C145.5,700.7 146.1,700.4 146.6,700.0C147.2,699.7 147.6,699.3 148.1,698.9C148.6,698.6 149.1,698.2 149.6,697.9C150.1,697.5 150.7,697.2 151.2,697.0C151.8,696.7 152.4,696.5 153.0,696.3C153.6,696.0 154.1,695.7 154.7,695.5C155.2,695.3 155.8,695.0 156.3,694.8C156.9,694.6 157.4,694.3 158.0,694.1C158.6,693.9 159.1,693.6 159.7,693.4C160.2,693.2 160.9,693.3 161.4,693.0C161.9,692.6 162.2,691.9 162.6,691.5C163.1,691.0 163.4,690.3 164.0,690.1C164.6,690.0 165.4,690.4 166.1,690.5C166.8,690.6 167.5,690.8 168.1,690.9C168.8,690.9 169.4,690.9 169.9,690.8C170.5,690.7 171.0,690.5 171.6,690.3C172.2,690.1 172.8,690.2 173.3,689.9C173.8,689.5 174.3,688.9 174.8,688.5C175.4,688.0 175.9,687.4 176.5,687.2C177.1,687.0 177.7,687.5 178.3,687.3C178.9,687.1 179.5,686.2 180.1,686.2C180.7,686.1 181.4,686.6 182.0,686.8C182.6,687.1 183.2,687.4 183.8,687.5C184.4,687.6 185.0,687.4 185.7,687.4C186.3,687.3 186.9,687.3 187.5,687.2C188.2,687.1 188.8,686.8 189.5,686.8C190.1,686.7 190.7,686.8 191.3,687.1C191.9,687.3 192.4,688.0 192.9,688.4C193.4,688.8 193.9,689.3 194.4,689.7C194.9,690.0 195.5,690.3 196.0,690.5C196.6,690.7 197.2,690.7 197.7,690.9C198.3,691.1 198.8,691.4 199.4,691.6C199.9,691.8 200.5,691.9 201.1,692.1C201.6,692.2 202.2,692.5 202.8,692.6C203.4,692.7 204.1,692.7 204.8,692.8C205.4,692.8 206.0,693.0 206.7,693.0C207.5,693.0 208.5,692.7 209.1,692.8C209.7,693.0 210.1,693.5 210.6,693.9C211.0,694.4 211.3,695.0 211.7,695.4C212.2,695.8 212.9,696.0 213.5,696.2C214.0,696.5 214.6,696.8 215.3,697.0C216.0,697.2 216.9,697.2 217.7,697.3C218.6,697.4 219.8,697.2 220.4,697.5C220.9,697.8 220.8,698.8 221.2,699.3C221.7,699.8 222.3,700.1 223.0,700.4C223.7,700.7 224.9,700.7 225.4,701.1C225.9,701.5 225.7,702.5 226.1,703.0C226.4,703.6 227.3,703.8 227.7,704.3C228.1,704.9 228.3,705.5 228.5,706.1C228.7,706.8 228.7,707.5 228.9,708.1C229.0,708.7 229.2,709.4 229.4,709.9C229.7,710.5 230.2,711.0 230.4,711.6C230.7,712.2 230.8,712.8 231.1,713.4C231.4,714.0 231.8,714.5 232.2,715.1C232.5,715.6 232.6,716.2 233.2,716.8C233.8,717.3 235.1,717.7 235.5,718.2C236.0,718.8 236.1,719.5 236.1,720.1C236.0,720.8 235.4,721.6 235.3,722.3C235.1,722.9 235.3,723.6 235.2,724.2C235.1,724.9 234.9,725.5 234.7,726.2C234.6,726.8 234.4,727.5 234.2,728.1C234.0,728.8 233.8,729.4 233.6,730.0Z" fill="#f2a2a7" stroke="#c9646e" stroke-width="1.1"/>
<circle cx="212.6" cy="721.1" r="1" fill="#c9646e" opacity="0.6"/>
<circle cx="205.7" cy="720.5" r="1" fill="#c9646e" opacity="0.6"/>
<circle cx="213.9" cy="733.0" r="1" fill="#c9646e" opacity="0.6"/>
<circle cx="162.1" cy="760.1" r="1" fill="#c9646e" opacity="0.6"/>
<circle cx="157.3" cy="704.7" r="1" fill="#c9646e" opacity="0.6"/>
<circle cx="190.7" cy="737.5" r="1" fill="#c9646e" opacity="0.6"/>
<circle cx="189.2" cy="712.7" r="1" fill="#c9646e" opacity="0.6"/>
<circle cx="186.0" cy="725.1" r="1" fill="#c9646e" opacity="0.6"/>
<circle cx="173.5" cy="726.1" r="1" fill="#c9646e" opacity="0.6"/>
<circle cx="218.4" cy="742.7" r="1" fill="#c9646e" opacity="0.6"/>
<circle cx="181.5" cy="697.8" r="1" fill="#c9646e" opacity="0.6"/>
<circle cx="186.4" cy="758.0" r="1" fill="#c9646e" opacity="0.6"/>
<circle cx="200.8" cy="709.2" r="1" fill="#c9646e" opacity="0.6"/>
<circle cx="214.1" cy="709.0" r="1" fill="#c9646e" opacity="0.6"/>
<circle cx="166.1" cy="724.7" r="1" fill="#c9646e" opacity="0.6"/>
<circle cx="150.8" cy="709.0" r="1" fill="#c9646e" opacity="0.6"/>
<circle cx="160.2" cy="761.3" r="1" fill="#c9646e" opacity="0.6"/>
<circle cx="183.0" cy="723.9" r="1" fill="#c9646e" opacity="0.6"/>
<circle cx="157.2" cy="748.6" r="1" fill="#c9646e" opacity="0.6"/>
<circle cx="158.2" cy="705.6" r="1" fill="#c9646e" opacity="0.6"/>
<circle cx="151.9" cy="727.5" r="1" fill="#c9646e" opacity="0.6"/>
<circle cx="190.3" cy="762.0" r="1" fill="#c9646e" opacity="0.6"/>
<circle cx="193.3" cy="694.6" r="1" fill="#c9646e" opacity="0.6"/>
<circle cx="176.7" cy="734.1" r="1" fill="#c9646e" opacity="0.6"/>
<circle cx="166.5" cy="748.8" r="1" fill="#c9646e" opacity="0.6"/>
<circle cx="197.8" cy="761.3" r="1" fill="#c9646e" opacity="0.6"/>
<circle cx="194.1" cy="694.5" r="1" fill="#c9646e" opacity="0.6"/>
<circle cx="148.4" cy="722.7" r="1" fill="#c9646e" opacity="0.6"/>
<circle cx="186.2" cy="732.8" r="1" fill="#c9646e" opacity="0.6"/>
<circle cx="211.1" cy="716.9" r="1" fill="#c9646e" opacity="0.6"/>
<circle cx="198.7" cy="762.8" r="1" fill="#c9646e" opacity="0.6"/>
<circle cx="184.1" cy="748.9" r="1" fill="#c9646e" opacity="0.6"/>
<circle cx="219.1" cy="726.1" r="1" fill="#c9646e" opacity="0.6"/>
<circle cx="149.3" cy="716.4" r="1" fill="#c9646e" opacity="0.6"/>
<circle cx="186.4" cy="759.6" r="1" fill="#c9646e" opacity="0.6"/>
<circle cx="166.1" cy="734.4" r="1" fill="#c9646e" opacity="0.6"/>
<circle cx="146.7" cy="731.5" r="1" fill="#c9646e" opacity="0.6"/>
<circle cx="210.1" cy="748.2" r="1" fill="#c9646e" opacity="0.6"/>
<path d="M207.7,731.0C207.7,731.6 207.5,732.2 207.4,732.7C207.4,733.3 207.4,733.9 207.4,734.5C207.3,735.1 207.2,735.7 207.1,736.3C207.0,736.9 207.0,737.5 206.9,738.1C206.8,738.7 206.5,739.2 206.4,739.8C206.2,740.5 206.2,741.2 206.0,741.8C205.8,742.4 205.5,742.9 205.2,743.5C204.9,744.1 204.6,744.6 204.2,745.1C203.8,745.6 203.3,746.1 202.8,746.5C202.3,746.9 201.9,747.4 201.4,747.8C200.8,748.1 200.2,748.3 199.6,748.6C199.0,748.9 198.5,749.1 197.9,749.3C197.3,749.6 196.7,749.8 196.1,750.0C195.5,750.1 194.9,750.3 194.3,750.5C193.8,750.7 193.2,750.9 192.6,751.1C192.0,751.3 191.4,751.5 190.8,751.6C190.2,751.8 189.6,752.0 188.9,752.0C188.3,752.1 187.7,752.1 187.1,752.1C186.4,752.1 185.8,752.2 185.1,752.1C184.5,752.0 183.9,751.7 183.3,751.4C182.8,751.2 182.2,750.9 181.6,750.6C181.1,750.2 180.7,749.7 180.2,749.2C179.8,748.7 179.4,748.2 179.0,747.7C178.7,747.1 178.4,746.5 178.1,746.0C177.8,745.4 177.6,744.8 177.4,744.3C177.1,743.8 176.9,743.4 176.6,742.9C176.4,742.5 176.2,742.0 175.8,741.6C175.5,741.2 175.1,741.0 174.7,740.6C174.4,740.3 174.0,740.0 173.6,739.6C173.2,739.3 172.8,738.9 172.4,738.5C172.0,738.1 171.5,737.8 171.1,737.4C170.6,736.9 170.1,736.5 169.7,736.1C169.2,735.6 168.8,735.1 168.4,734.6C168.1,734.0 167.8,733.4 167.5,732.8C167.2,732.3 166.8,731.6 166.6,731.0C166.4,730.4 166.4,729.7 166.3,729.0C166.2,728.4 166.0,727.7 166.0,727.0C165.9,726.3 165.9,725.6 165.9,724.9C166.0,724.2 166.1,723.5 166.3,722.9C166.4,722.2 166.6,721.5 166.8,720.8C167.1,720.1 167.4,719.5 167.8,718.9C168.2,718.3 168.7,717.8 169.2,717.3C169.7,716.8 170.2,716.3 170.8,715.9C171.4,715.6 172.2,715.4 172.9,715.2C173.6,714.9 174.3,714.8 175.0,714.6C175.7,714.5 176.4,714.4 177.0,714.4C177.7,714.4 178.5,714.5 179.1,714.5C179.7,714.5 180.3,714.4 180.9,714.4C181.5,714.4 182.1,714.5 182.6,714.4C183.2,714.4 183.7,714.3 184.2,714.1C184.7,714.0 185.1,713.7 185.6,713.5C186.1,713.3 186.7,713.1 187.2,712.9C187.7,712.7 188.3,712.5 188.8,712.3C189.4,712.1 190.0,711.9 190.6,711.8C191.2,711.6 191.8,711.5 192.4,711.5C193.1,711.5 193.7,711.6 194.3,711.7C194.9,711.8 195.5,711.9 196.0,712.2C196.6,712.4 197.1,712.7 197.7,713.1C198.2,713.4 198.7,713.7 199.1,714.2C199.6,714.6 199.9,715.2 200.3,715.6C200.7,716.1 201.1,716.5 201.5,716.9C201.9,717.3 202.3,717.8 202.6,718.2C203.0,718.6 203.4,719.1 203.8,719.6C204.1,720.0 204.3,720.6 204.7,721.0C205.0,721.5 205.5,721.9 205.8,722.5C206.0,723.0 206.2,723.6 206.4,724.1C206.6,724.7 206.9,725.2 207.1,725.7C207.3,726.3 207.3,726.9 207.3,727.5C207.4,728.1 207.5,728.7 207.5,729.2C207.6,729.8 207.7,730.4 207.7,731.0Z" fill="#cc6870" stroke="#b55a63" stroke-width="0.9"/>
</g>
<line x1="242.0" y1="608.2" x2="280.5" y2="612.0" stroke="#cfcfe8" stroke-width="4" stroke-linecap="round" opacity="0.6"/>
<line x1="242.0" y1="608.2" x2="265.0" y2="650.0" stroke="#cfcfe8" stroke-width="4" stroke-linecap="round" opacity="0.6"/>
<line x1="242.0" y1="608.2" x2="233.0" y2="640.0" stroke="#cfcfe8" stroke-width="4" stroke-linecap="round" opacity="0.6"/>
<path d="M242.2,595.2 Q243.9,578.5 242.7,561.8" fill="none" stroke="#6b6ba6" stroke-width="4.7" stroke-linecap="round"/>
<path d="M248.4,596.9 Q257.6,583.5 264.3,568.6" fill="none" stroke="#6b6ba6" stroke-width="4.7" stroke-linecap="round"/>
<path d="M254.4,604.2 Q270.6,600.5 286.0,594.0" fill="none" stroke="#6b6ba6" stroke-width="4.7" stroke-linecap="round"/>
<path d="M231.1,601.1 Q217.9,590.7 203.0,582.8" fill="none" stroke="#6b6ba6" stroke-width="4.7" stroke-linecap="round"/>
<path d="M230.9,615.0 Q215.9,622.4 202.4,632.4" fill="none" stroke="#6b6ba6" stroke-width="4.7" stroke-linecap="round"/>
<path d="M240.8,621.1 Q237.7,637.4 237.7,654.0" fill="none" stroke="#6b6ba6" stroke-width="4.7" stroke-linecap="round"/>
<path d="M242.2,595.2 Q243.9,578.5 242.7,561.8" fill="none" stroke="#8c8ccb" stroke-width="3.2" stroke-linecap="round"/>
<path d="M248.4,596.9 Q257.6,583.5 264.3,568.6" fill="none" stroke="#8c8ccb" stroke-width="3.2" stroke-linecap="round"/>
<path d="M254.4,604.2 Q270.6,600.5 286.0,594.0" fill="none" stroke="#8c8ccb" stroke-width="3.2" stroke-linecap="round"/>
<path d="M231.1,601.1 Q217.9,590.7 203.0,582.8" fill="none" stroke="#8c8ccb" stroke-width="3.2" stroke-linecap="round"/>
<path d="M230.9,615.0 Q215.9,622.4 202.4,632.4" fill="none" stroke="#8c8ccb" stroke-width="3.2" stroke-linecap="round"/>
<path d="M240.8,621.1 Q237.7,637.4 237.7,654.0" fill="none" stroke="#8c8ccb" stroke-width="3.2" stroke-linecap="round"/>
<path d="M267.7,608.2C267.4,609.5 267.0,610.8 266.6,612.0C266.1,613.2 265.6,614.3 265.1,615.5C264.5,616.6 264.0,617.7 263.3,618.7C262.7,619.8 262.1,620.8 261.4,621.9C260.7,622.9 260.0,623.9 259.2,624.8C258.4,625.8 257.5,626.8 256.6,627.7C255.6,628.5 254.6,629.4 253.5,630.2C252.5,630.9 251.3,631.7 250.1,632.2C248.8,632.8 247.5,633.3 246.2,633.7C244.8,634.0 243.4,634.2 242.0,634.3C240.6,634.4 239.2,634.3 237.8,634.1C236.4,633.9 235.0,633.6 233.7,633.1C232.3,632.7 231.0,632.1 229.8,631.4C228.6,630.7 227.5,629.9 226.4,629.1C225.3,628.2 224.3,627.3 223.4,626.3C222.4,625.3 221.6,624.2 220.8,623.1C220.0,622.1 219.3,620.9 218.7,619.7C218.1,618.5 217.5,617.3 217.1,616.1C216.6,614.8 216.2,613.5 216.0,612.2C215.8,610.9 215.6,609.5 215.6,608.2C215.6,606.9 215.7,605.5 215.9,604.2C216.2,602.9 216.5,601.6 217.0,600.3C217.5,599.1 218.1,597.9 218.8,596.8C219.6,595.6 220.4,594.6 221.3,593.6C222.2,592.6 223.2,591.8 224.2,591.0C225.3,590.2 226.4,589.5 227.5,588.8C228.6,588.2 229.8,587.6 230.9,587.1C232.1,586.6 233.3,586.2 234.5,585.8C235.7,585.4 236.9,585.0 238.2,584.7C239.4,584.4 240.7,584.1 242.0,584.0C243.3,583.8 244.7,583.6 246.0,583.6C247.4,583.6 248.8,583.6 250.2,583.8C251.6,584.0 253.0,584.2 254.4,584.7C255.7,585.1 257.1,585.6 258.4,586.3C259.6,587.0 260.9,587.9 262.0,588.8C263.1,589.8 264.1,590.9 264.9,592.1C265.7,593.2 266.4,594.6 266.9,595.9C267.5,597.2 267.8,598.6 268.0,600.0C268.3,601.4 268.3,602.8 268.2,604.2C268.2,605.5 268.0,606.9 267.7,608.2Z" fill="#8c8ccb" stroke="#6b6ba6" stroke-width="0.9"/>
<path d="M250.5,607.3C250.4,608.3 250.1,609.2 249.8,610.1C249.5,611.0 249.2,611.9 248.9,612.7C248.5,613.6 248.2,614.4 247.7,615.2C247.3,616.0 246.9,616.8 246.3,617.6C245.8,618.3 245.2,619.1 244.5,619.7C243.8,620.3 243.1,620.8 242.3,621.3C241.5,621.7 240.6,622.0 239.7,622.1C238.9,622.3 237.9,622.3 237.1,622.1C236.2,622.0 235.3,621.7 234.5,621.4C233.6,621.0 232.8,620.6 232.1,620.0C231.3,619.5 230.6,618.9 230.0,618.2C229.3,617.5 228.7,616.8 228.1,616.0C227.6,615.2 227.1,614.3 226.7,613.4C226.3,612.5 225.9,611.5 225.7,610.5C225.5,609.4 225.3,608.3 225.4,607.3C225.4,606.3 225.5,605.2 225.8,604.2C226.0,603.2 226.5,602.2 226.9,601.3C227.4,600.5 228.0,599.7 228.6,599.0C229.2,598.3 229.9,597.8 230.6,597.2C231.3,596.7 232.0,596.3 232.7,595.9C233.4,595.4 234.2,595.1 234.9,594.7C235.6,594.4 236.4,594.0 237.2,593.8C238.0,593.5 238.8,593.2 239.7,593.1C240.6,592.9 241.5,592.8 242.4,592.9C243.3,593.0 244.3,593.2 245.2,593.6C246.0,594.0 246.9,594.6 247.6,595.3C248.4,596.0 249.0,596.9 249.5,597.9C250.0,598.8 250.4,599.9 250.6,601.0C250.8,602.0 250.9,603.1 250.9,604.2C250.9,605.3 250.7,606.3 250.5,607.3Z" fill="#5d5c95" stroke="#6b6ba6" stroke-width="0.8"/>
<line x1="73.9" y1="684.8" x2="36.8" y2="700.8" stroke="#cfcfe8" stroke-width="4" stroke-linecap="round" opacity="0.6"/>
<line x1="73.9" y1="684.8" x2="90.0" y2="712.0" stroke="#cfcfe8" stroke-width="4" stroke-linecap="round" opacity="0.6"/>
<path d="M68.4,675.8 Q63.1,664.3 55.3,654.4" fill="none" stroke="#9192cc" stroke-width="4.1" stroke-linecap="round"/>
<path d="M80.2,676.4 Q88.8,667.6 95.0,656.9" fill="none" stroke="#9192cc" stroke-width="4.1" stroke-linecap="round"/>
<path d="M63.5,683.6 Q50.3,680.6 36.8,680.5" fill="none" stroke="#9192cc" stroke-width="4.1" stroke-linecap="round"/>
<path d="M84.3,686.0 Q97.5,689.0 111.0,689.0" fill="none" stroke="#9192cc" stroke-width="4.1" stroke-linecap="round"/>
<path d="M82.6,690.6 Q92.6,699.1 104.3,705.0" fill="none" stroke="#9192cc" stroke-width="4.1" stroke-linecap="round"/>
<path d="M68.4,675.8 Q63.1,664.3 55.3,654.4" fill="none" stroke="#b8b9e8" stroke-width="2.6" stroke-linecap="round"/>
<path d="M80.2,676.4 Q88.8,667.6 95.0,656.9" fill="none" stroke="#b8b9e8" stroke-width="2.6" stroke-linecap="round"/>
<path d="M63.5,683.6 Q50.3,680.6 36.8,680.5" fill="none" stroke="#b8b9e8" stroke-width="2.6" stroke-linecap="round"/>
<path d="M84.3,686.0 Q97.5,689.0 111.0,689.0" fill="none" stroke="#b8b9e8" stroke-width="2.6" stroke-linecap="round"/>
<path d="M82.6,690.6 Q92.6,699.1 104.3,705.0" fill="none" stroke="#b8b9e8" stroke-width="2.6" stroke-linecap="round"/>
<path d="M95.2,684.8C95.3,685.9 95.4,687.0 95.3,688.1C95.3,689.2 95.1,690.3 94.8,691.4C94.5,692.4 94.0,693.5 93.5,694.5C93.0,695.5 92.3,696.4 91.6,697.3C90.9,698.2 90.1,699.0 89.2,699.7C88.4,700.4 87.5,701.1 86.5,701.6C85.6,702.2 84.6,702.7 83.5,703.2C82.5,703.6 81.5,704.0 80.4,704.3C79.4,704.6 78.3,704.8 77.2,705.0C76.1,705.1 75.0,705.2 73.9,705.2C72.8,705.3 71.7,705.2 70.6,705.0C69.5,704.9 68.4,704.7 67.4,704.3C66.3,704.0 65.3,703.6 64.3,703.1C63.3,702.6 62.4,702.0 61.5,701.3C60.7,700.7 59.9,699.9 59.2,699.1C58.4,698.3 57.8,697.4 57.3,696.5C56.7,695.6 56.3,694.7 55.9,693.7C55.5,692.8 55.2,691.8 54.9,690.8C54.7,689.8 54.5,688.8 54.4,687.8C54.2,686.8 54.1,685.8 54.1,684.8C54.1,683.8 54.1,682.8 54.1,681.8C54.2,680.7 54.3,679.7 54.5,678.7C54.6,677.6 54.9,676.6 55.2,675.6C55.5,674.5 55.9,673.5 56.4,672.5C56.9,671.5 57.5,670.5 58.2,669.6C58.9,668.7 59.7,667.8 60.6,667.0C61.5,666.3 62.5,665.6 63.5,665.1C64.6,664.5 65.7,664.1 66.9,663.8C68.0,663.5 69.2,663.4 70.4,663.3C71.6,663.3 72.8,663.4 73.9,663.6C75.0,663.8 76.2,664.1 77.2,664.5C78.3,664.9 79.3,665.4 80.2,665.9C81.2,666.5 82.1,667.1 82.9,667.7C83.8,668.3 84.5,668.9 85.3,669.6C86.1,670.2 86.8,670.9 87.5,671.6C88.2,672.3 88.9,673.0 89.6,673.8C90.2,674.5 90.9,675.3 91.4,676.1C92.0,677.0 92.6,677.8 93.1,678.7C93.6,679.7 94.1,680.6 94.4,681.7C94.7,682.7 95.0,683.7 95.2,684.8Z" fill="#b8b9e8" stroke="#9192cc" stroke-width="0.9"/>
<path d="M86.5,683.1C86.4,683.8 86.2,684.6 85.8,685.3C85.5,686.0 85.0,686.6 84.5,687.1C84.0,687.7 83.4,688.2 82.9,688.6C82.3,689.1 81.7,689.5 81.1,689.8C80.5,690.2 80.0,690.5 79.4,690.9C78.7,691.2 78.2,691.5 77.5,691.8C76.8,692.1 76.2,692.5 75.4,692.7C74.7,692.9 73.9,693.1 73.1,693.2C72.3,693.3 71.4,693.3 70.6,693.2C69.8,693.1 68.9,692.8 68.2,692.5C67.4,692.2 66.7,691.7 66.1,691.2C65.5,690.7 65.0,690.0 64.6,689.4C64.1,688.8 63.8,688.0 63.6,687.3C63.4,686.6 63.3,685.9 63.2,685.2C63.1,684.5 63.1,683.8 63.2,683.1C63.2,682.4 63.3,681.7 63.5,681.1C63.7,680.4 63.9,679.7 64.2,679.1C64.5,678.5 64.8,677.8 65.2,677.3C65.7,676.7 66.2,676.1 66.8,675.7C67.3,675.2 68.0,674.8 68.7,674.5C69.4,674.1 70.1,673.9 70.9,673.7C71.6,673.6 72.4,673.5 73.2,673.4C73.9,673.4 74.7,673.5 75.4,673.5C76.2,673.6 76.9,673.7 77.7,673.9C78.4,674.1 79.1,674.3 79.9,674.5C80.6,674.8 81.3,675.1 82.0,675.5C82.7,675.9 83.4,676.3 84.0,676.9C84.6,677.4 85.1,678.0 85.5,678.7C86.0,679.3 86.3,680.1 86.4,680.8C86.6,681.5 86.6,682.4 86.5,683.1Z" fill="#8d8ed0" stroke="#9192cc" stroke-width="0.8"/>
<line x1="127.0" y1="743.0" x2="136.4" y2="700.0" stroke="#cfcfe8" stroke-width="4" stroke-linecap="round" opacity="0.6"/>
<path d="M117.7,740.8 Q103.4,736.0 88.3,734.0" fill="none" stroke="#64649f" stroke-width="4.7" stroke-linecap="round"/>
<path d="M119.3,748.6 Q105.9,756.5 94.2,766.8" fill="none" stroke="#64649f" stroke-width="4.7" stroke-linecap="round"/>
<path d="M123.4,751.8 Q115.0,768.0 109.4,785.3" fill="none" stroke="#64649f" stroke-width="4.7" stroke-linecap="round"/>
<path d="M131.9,751.1 Q140.5,768.1 151.6,783.6" fill="none" stroke="#64649f" stroke-width="4.7" stroke-linecap="round"/>
<path d="M128.2,733.6 Q131.1,723.0 131.0,712.0" fill="none" stroke="#64649f" stroke-width="6.5" stroke-linecap="round"/>
<path d="M117.7,740.8 Q103.4,736.0 88.3,734.0" fill="none" stroke="#8384c4" stroke-width="3.2" stroke-linecap="round"/>
<path d="M119.3,748.6 Q105.9,756.5 94.2,766.8" fill="none" stroke="#8384c4" stroke-width="3.2" stroke-linecap="round"/>
<path d="M123.4,751.8 Q115.0,768.0 109.4,785.3" fill="none" stroke="#8384c4" stroke-width="3.2" stroke-linecap="round"/>
<path d="M131.9,751.1 Q140.5,768.1 151.6,783.6" fill="none" stroke="#8384c4" stroke-width="3.2" stroke-linecap="round"/>
<path d="M128.2,733.6 Q131.1,723.0 131.0,712.0" fill="none" stroke="#8384c4" stroke-width="5" stroke-linecap="round"/>
<path d="M147.1,743.0C146.9,744.4 146.7,745.7 146.3,747.0C146.0,748.3 145.6,749.6 145.1,750.7C144.6,751.9 144.0,753.0 143.4,754.0C142.8,755.0 142.1,755.9 141.4,756.8C140.7,757.7 140.0,758.5 139.3,759.2C138.6,760.0 137.9,760.7 137.2,761.4C136.4,762.1 135.7,762.8 134.9,763.4C134.1,764.0 133.3,764.6 132.5,765.2C131.6,765.8 130.8,766.3 129.9,766.7C128.9,767.2 128.0,767.6 127.0,767.9C126.0,768.1 125.0,768.3 124.0,768.3C122.9,768.4 121.9,768.3 120.8,768.0C119.8,767.7 118.8,767.3 117.8,766.8C116.8,766.2 115.9,765.5 115.0,764.7C114.2,763.9 113.4,762.9 112.7,761.9C112.0,760.8 111.4,759.6 110.8,758.5C110.3,757.3 109.9,756.0 109.5,754.7C109.2,753.4 108.9,752.1 108.8,750.8C108.6,749.5 108.5,748.2 108.4,746.9C108.3,745.6 108.4,744.3 108.4,743.0C108.5,741.7 108.6,740.4 108.8,739.2C108.9,737.9 109.1,736.7 109.4,735.5C109.7,734.3 110.1,733.1 110.5,731.9C110.9,730.8 111.4,729.6 111.9,728.6C112.4,727.5 113.1,726.5 113.7,725.5C114.4,724.6 115.2,723.7 115.9,723.0C116.7,722.2 117.6,721.5 118.5,721.0C119.4,720.4 120.3,720.0 121.2,719.6C122.2,719.3 123.1,719.0 124.1,718.9C125.1,718.7 126.0,718.7 127.0,718.7C128.0,718.7 128.9,718.8 129.9,719.0C130.8,719.2 131.8,719.5 132.7,719.8C133.7,720.1 134.6,720.5 135.5,721.0C136.4,721.5 137.4,722.0 138.2,722.6C139.1,723.3 140.0,724.0 140.8,724.8C141.6,725.7 142.4,726.6 143.1,727.6C143.8,728.6 144.5,729.7 145.0,730.9C145.6,732.1 146.0,733.4 146.4,734.7C146.7,736.0 147.0,737.4 147.1,738.8C147.2,740.2 147.2,741.6 147.1,743.0Z" fill="#8384c4" stroke="#64649f" stroke-width="0.9"/>
<g transform="translate(132.0,745.0) scale(1.3) translate(-132.0,-745.0)">
<path d="M135.0,733.0 C123.0,735.0 122.0,753.0 133.0,757.0 C139.0,759.0 144.0,755.0 143.0,751.0 C136.0,752.0 131.0,749.0 131.0,744.0 C131.0,739.0 135.0,737.0 138.0,737.0 Z" fill="#4f4e92" stroke="#64649f" stroke-width="0.6"/>
</g>
<line x1="119.4" y1="586.5" x2="114.6" y2="576.6" stroke="#2d7681" stroke-width="0.9"/>
<line x1="121.7" y1="585.3" x2="116.9" y2="575.4" stroke="#2d7681" stroke-width="0.9"/>
<rect x="105.7" y="567.2" width="14.0" height="5.0" fill="#2d7681" transform="rotate(-116.0 112.7 569.7)"/>
<line x1="115.1" y1="574.7" x2="110.2" y2="564.7" stroke="#bfe0e4" stroke-width="0.7" stroke-dasharray="1.2 1.2"/>
<line x1="139.1" y1="586.1" x2="144.8" y2="576.6" stroke="#2d7681" stroke-width="0.9"/>
<line x1="141.3" y1="587.4" x2="147.0" y2="578.0" stroke="#2d7681" stroke-width="0.9"/>
<rect x="142.5" y="568.8" width="14.0" height="5.0" fill="#2d7681" transform="rotate(-59.0 149.5 571.3)"/>
<line x1="146.6" y1="576.1" x2="152.4" y2="566.5" stroke="#bfe0e4" stroke-width="0.7" stroke-dasharray="1.2 1.2"/>
<line x1="109.0" y1="603.2" x2="98.1" y2="601.8" stroke="#2d7681" stroke-width="0.9"/>
<line x1="109.3" y1="600.6" x2="98.4" y2="599.3" stroke="#2d7681" stroke-width="0.9"/>
<rect x="84.3" y="597.2" width="14.0" height="5.0" fill="#2d7681" transform="rotate(187.0 91.3 599.7)"/>
<line x1="96.8" y1="600.4" x2="85.7" y2="599.0" stroke="#bfe0e4" stroke-width="0.7" stroke-dasharray="1.2 1.2"/>
<line x1="150.2" y1="605.6" x2="161.1" y2="607.0" stroke="#2d7681" stroke-width="0.9"/>
<line x1="149.9" y1="608.2" x2="160.8" y2="609.5" stroke="#2d7681" stroke-width="0.9"/>
<rect x="160.9" y="606.6" width="14.0" height="5.0" fill="#2d7681" transform="rotate(7.0 167.9 609.1)"/>
<line x1="162.4" y1="608.4" x2="173.5" y2="609.8" stroke="#bfe0e4" stroke-width="0.7" stroke-dasharray="1.2 1.2"/>
<line x1="120.1" y1="622.7" x2="114.4" y2="632.2" stroke="#2d7681" stroke-width="0.9"/>
<line x1="117.9" y1="621.4" x2="112.2" y2="630.8" stroke="#2d7681" stroke-width="0.9"/>
<rect x="102.7" y="635.0" width="14.0" height="5.0" fill="#2d7681" transform="rotate(121.0 109.7 637.5)"/>
<line x1="112.6" y1="632.7" x2="106.8" y2="642.3" stroke="#bfe0e4" stroke-width="0.7" stroke-dasharray="1.2 1.2"/>
<line x1="139.5" y1="622.5" x2="144.1" y2="632.5" stroke="#2d7681" stroke-width="0.9"/>
<line x1="137.1" y1="623.6" x2="141.8" y2="633.6" stroke="#2d7681" stroke-width="0.9"/>
<rect x="138.9" y="636.9" width="14.0" height="5.0" fill="#2d7681" transform="rotate(65.0 145.9 639.4)"/>
<line x1="143.5" y1="634.3" x2="148.3" y2="644.5" stroke="#bfe0e4" stroke-width="0.7" stroke-dasharray="1.2 1.2"/>
<circle cx="129.6" cy="604.4" r="23.6" fill="#a9dbb1" stroke="#62a673" stroke-width="1"/>
<circle cx="129.6" cy="604.4" r="20.3" fill="none" stroke="#62a673" stroke-width="0.6" stroke-dasharray="1.5 2.5" opacity="0.6"/>
<circle cx="129.6" cy="604.4" r="14.7" fill="#5fb282" stroke="#4c9168" stroke-width="0.9"/>
<line x1="168.7" y1="654.2" x2="168.7" y2="647.2" stroke="#3f9a3f" stroke-width="0.9"/>
<line x1="171.3" y1="654.2" x2="171.3" y2="647.2" stroke="#3f9a3f" stroke-width="0.9"/>
<rect x="166.0" y="641.2" width="8.0" height="4.0" fill="#3f9a3f" transform="rotate(-90.0 170.0 643.2)"/>
<line x1="170.0" y1="646.4" x2="170.0" y2="640.0" stroke="#bfe0e4" stroke-width="0.7" stroke-dasharray="1.2 1.2"/>
<line x1="157.3" y1="661.5" x2="151.6" y2="657.5" stroke="#2d7681" stroke-width="0.9"/>
<line x1="158.8" y1="659.4" x2="153.1" y2="655.3" stroke="#2d7681" stroke-width="0.9"/>
<rect x="145.0" y="652.1" width="8.0" height="4.0" fill="#2d7681" transform="rotate(-145.0 149.0 654.1)"/>
<line x1="151.7" y1="656.0" x2="146.4" y2="652.3" stroke="#bfe0e4" stroke-width="0.7" stroke-dasharray="1.2 1.2"/>
<line x1="181.2" y1="659.4" x2="186.9" y2="655.3" stroke="#2d7681" stroke-width="0.9"/>
<line x1="182.7" y1="661.5" x2="188.4" y2="657.5" stroke="#2d7681" stroke-width="0.9"/>
<rect x="187.0" y="652.1" width="8.0" height="4.0" fill="#2d7681" transform="rotate(-35.0 191.0 654.1)"/>
<line x1="188.3" y1="656.0" x2="193.6" y2="652.3" stroke="#bfe0e4" stroke-width="0.7" stroke-dasharray="1.2 1.2"/>
<line x1="158.8" y1="678.2" x2="153.1" y2="682.3" stroke="#2d7681" stroke-width="0.9"/>
<line x1="157.3" y1="676.1" x2="151.6" y2="680.1" stroke="#2d7681" stroke-width="0.9"/>
<rect x="145.0" y="681.5" width="8.0" height="4.0" fill="#2d7681" transform="rotate(145.0 149.0 683.5)"/>
<line x1="151.7" y1="681.6" x2="146.4" y2="685.3" stroke="#bfe0e4" stroke-width="0.7" stroke-dasharray="1.2 1.2"/>
<line x1="182.7" y1="676.1" x2="188.4" y2="680.1" stroke="#2d7681" stroke-width="0.9"/>
<line x1="181.2" y1="678.2" x2="186.9" y2="682.3" stroke="#2d7681" stroke-width="0.9"/>
<rect x="187.0" y="681.5" width="8.0" height="4.0" fill="#2d7681" transform="rotate(35.0 191.0 683.5)"/>
<line x1="188.3" y1="681.6" x2="193.6" y2="685.3" stroke="#bfe0e4" stroke-width="0.7" stroke-dasharray="1.2 1.2"/>
<line x1="171.3" y1="683.4" x2="171.3" y2="690.4" stroke="#2d7681" stroke-width="0.9"/>
<line x1="168.7" y1="683.4" x2="168.7" y2="690.4" stroke="#2d7681" stroke-width="0.9"/>
<rect x="166.0" y="692.4" width="8.0" height="4.0" fill="#2d7681" transform="rotate(90.0 170.0 694.4)"/>
<line x1="170.0" y1="691.2" x2="170.0" y2="697.6" stroke="#bfe0e4" stroke-width="0.7" stroke-dasharray="1.2 1.2"/>
<circle cx="170" cy="668.8" r="17.6" fill="#8dcf8d" stroke="#579d57" stroke-width="1"/>
<circle cx="170" cy="668.8" r="15.1" fill="none" stroke="#579d57" stroke-width="0.6" stroke-dasharray="1.5 2.5" opacity="0.6"/>
<circle cx="170" cy="668.8" r="10.5" fill="#4ea04e" stroke="#3f8a3f" stroke-width="0.9"/>
<line x1="248.5" y1="699.2" x2="250.1" y2="690.4" stroke="#2d7681" stroke-width="0.9"/>
<line x1="251.1" y1="699.7" x2="252.7" y2="690.8" stroke="#2d7681" stroke-width="0.9"/>
<rect x="246.8" y="682.9" width="11.0" height="4.6" fill="#2d7681" transform="rotate(-80.0 252.3 685.2)"/>
<line x1="251.6" y1="689.5" x2="253.1" y2="680.9" stroke="#bfe0e4" stroke-width="0.7" stroke-dasharray="1.2 1.2"/>
<line x1="233.1" y1="705.4" x2="226.7" y2="699.0" stroke="#2d7681" stroke-width="0.9"/>
<line x1="234.9" y1="703.6" x2="228.5" y2="697.2" stroke="#2d7681" stroke-width="0.9"/>
<rect x="218.2" y="691.9" width="11.0" height="4.6" fill="#2d7681" transform="rotate(-135.0 223.7 694.2)"/>
<line x1="226.8" y1="697.3" x2="220.6" y2="691.1" stroke="#bfe0e4" stroke-width="0.7" stroke-dasharray="1.2 1.2"/>
<line x1="262.1" y1="707.9" x2="270.2" y2="703.8" stroke="#2d7681" stroke-width="0.9"/>
<line x1="263.3" y1="710.2" x2="271.3" y2="706.1" stroke="#2d7681" stroke-width="0.9"/>
<rect x="270.2" y="700.1" width="11.0" height="4.6" fill="#2d7681" transform="rotate(-27.0 275.7 702.4)"/>
<line x1="271.7" y1="704.4" x2="279.6" y2="700.4" stroke="#bfe0e4" stroke-width="0.7" stroke-dasharray="1.2 1.2"/>
<line x1="230.5" y1="725.1" x2="222.2" y2="728.5" stroke="#2d7681" stroke-width="0.9"/>
<line x1="229.5" y1="722.7" x2="221.2" y2="726.1" stroke="#2d7681" stroke-width="0.9"/>
<rect x="211.1" y="727.1" width="11.0" height="4.6" fill="#2d7681" transform="rotate(158.0 216.6 729.4)"/>
<line x1="220.6" y1="727.7" x2="212.5" y2="731.0" stroke="#bfe0e4" stroke-width="0.7" stroke-dasharray="1.2 1.2"/>
<line x1="244.9" y1="735.2" x2="243.3" y2="744.0" stroke="#2d7681" stroke-width="0.9"/>
<line x1="242.3" y1="734.7" x2="240.7" y2="743.6" stroke="#2d7681" stroke-width="0.9"/>
<rect x="235.6" y="746.9" width="11.0" height="4.6" fill="#2d7681" transform="rotate(100.0 241.1 749.2)"/>
<line x1="241.8" y1="744.9" x2="240.3" y2="753.5" stroke="#bfe0e4" stroke-width="0.7" stroke-dasharray="1.2 1.2"/>
<line x1="261.3" y1="727.8" x2="268.2" y2="733.6" stroke="#2d7681" stroke-width="0.9"/>
<line x1="259.7" y1="729.8" x2="266.5" y2="735.6" stroke="#2d7681" stroke-width="0.9"/>
<rect x="266.1" y="735.8" width="11.0" height="4.6" fill="#2d7681" transform="rotate(40.0 271.6 738.1)"/>
<line x1="268.2" y1="735.3" x2="275.0" y2="740.9" stroke="#bfe0e4" stroke-width="0.7" stroke-dasharray="1.2 1.2"/>
<circle cx="246.7" cy="717.2" r="21" fill="#a2ddd3" stroke="#5eae9f" stroke-width="1"/>
<circle cx="246.7" cy="717.2" r="18.1" fill="none" stroke="#5eae9f" stroke-width="0.6" stroke-dasharray="1.5 2.5" opacity="0.6"/>
<circle cx="246.7" cy="717.2" r="13.2" fill="#63bfae" stroke="#4aa091" stroke-width="0.9"/>
<circle cx="227.4" cy="523" r="3" fill="#e27b9f"/>
<circle cx="237.8" cy="534.2" r="3.3" fill="#e27b9f"/>
<circle cx="286.1" cy="548.3" r="3.3" fill="#e27b9f"/>
<circle cx="220" cy="556.9" r="3.3" fill="#e27b9f"/>
<circle cx="243.4" cy="553.1" r="3.3" fill="#e27b9f"/>
<circle cx="264.6" cy="567.6" r="3.3" fill="#e27b9f"/>
<circle cx="232.3" cy="576.2" r="3" fill="#e27b9f"/>
<circle cx="223" cy="581.8" r="3" fill="#e27b9f"/>
<circle cx="15.6" cy="605.2" r="3.3" fill="#e27b9f"/>
<circle cx="37.2" cy="624.5" r="3.5" fill="#e27b9f"/>
<circle cx="44.6" cy="611.5" r="3" fill="#e27b9f"/>
<circle cx="14.1" cy="629" r="3.5" fill="#e27b9f"/>
<circle cx="28.6" cy="629" r="3" fill="#e27b9f"/>
<circle cx="52" cy="640.5" r="3" fill="#e27b9f"/>
<circle cx="69.1" cy="635.6" r="3.5" fill="#e27b9f"/>
<circle cx="61.3" cy="641.2" r="3" fill="#e27b9f"/>
<circle cx="21.6" cy="647.9" r="3.3" fill="#e27b9f"/>
<circle cx="33.4" cy="652.4" r="3" fill="#e27b9f"/>
<circle cx="48.3" cy="659.8" r="3" fill="#e27b9f"/>
<circle cx="39" cy="708" r="3.3" fill="#e27b9f"/>
<circle cx="35.3" cy="714.8" r="3" fill="#e27b9f"/>
<circle cx="40.1" cy="734.1" r="3.3" fill="#e27b9f"/>
<circle cx="59.5" cy="741.5" r="3" fill="#e27b9f"/>
<circle cx="43.9" cy="762" r="3.3" fill="#e27b9f"/>
<circle cx="306.6" cy="669.1" r="3" fill="#e27b9f"/>
<circle cx="282.4" cy="667.2" r="3" fill="#e27b9f"/>
<circle cx="297.3" cy="685.8" r="3" fill="#e27b9f"/>
<circle cx="286.1" cy="697" r="3" fill="#e27b9f"/>
<circle cx="308.4" cy="704.4" r="3" fill="#e27b9f"/>
<circle cx="289.9" cy="723" r="3.3" fill="#e27b9f"/>
<circle cx="308.4" cy="721.8" r="3" fill="#e27b9f"/>
<circle cx="276.8" cy="674.7" r="2.6" fill="#e27b9f"/>
<circle cx="273.1" cy="685.8" r="2.6" fill="#e27b9f"/>
<circle cx="256.4" cy="682.1" r="2.6" fill="#e27b9f"/>
<circle cx="267.6" cy="702.5" r="2.6" fill="#e27b9f"/>
<circle cx="278.7" cy="730.4" r="3" fill="#e27b9f"/>
<circle cx="308.4" cy="734.1" r="3" fill="#e27b9f"/>
<circle cx="62" cy="702" r="3.5" fill="#e27b9f"/>
<circle cx="80" cy="706" r="3" fill="#e27b9f"/>
<circle cx="70" cy="720" r="3" fill="#e27b9f"/>
<circle cx="58" cy="725" r="3.5" fill="#e27b9f"/>
<circle cx="90" cy="694" r="3" fill="#e27b9f"/>
<circle cx="260" cy="585" r="3" fill="#e27b9f"/>
<circle cx="275" cy="595" r="2.8" fill="#e27b9f"/>
<circle cx="282" cy="652" r="2.6" fill="#e27b9f"/>
<circle cx="295" cy="660" r="2.8" fill="#e27b9f"/>
<circle cx="268" cy="665" r="2.4" fill="#e27b9f"/>
<circle cx="290" cy="740" r="2.6" fill="#e27b9f"/>
<circle cx="262" cy="745" r="2.4" fill="#e27b9f"/>
<circle cx="300" cy="705" r="2.4" fill="#e27b9f"/>
<circle cx="272" cy="690" r="2.2" fill="#e27b9f"/>
<circle cx="283" cy="712" r="2.4" fill="#e27b9f"/>
<path d="M94.6,96.3 L113.2,87.7 L143.6,114.9 L131.2,121.1 L154.9,141.9 L142.5,144.8 L173.5,172.3 L117.7,145.3 L132.9,138.0 L104.2,122.2 L120.5,113.2Z" fill="#ea881d"/>
<path d="M94.6,505.8 L113.2,497.2 L143.6,524.4 L131.2,530.6 L154.9,551.4 L142.5,554.3 L173.5,581.8 L117.7,554.8 L132.9,547.5 L104.2,531.7 L120.5,522.7Z" fill="#ea881d"/>
<rect x="548" y="44.5" width="700" height="398.5" fill="#f3f6fc"/>
<g clip-path="url(#clip44)">
<path d="M520.0,464.8 C766.7,282.6 1013.3,262.7 1260.0,291.8 L1260,453.0 L520,453.0 Z" fill="#e3eef5"/>
<path d="M520.0,464.8 C766.7,282.6 1013.3,262.7 1260.0,291.8" fill="none" stroke="#a5b2bf" stroke-width="8" stroke-linecap="round" stroke-dasharray="48.4 18.8" stroke-dashoffset="-10"/>
<path d="M520.0,464.8 C766.7,282.6 1013.3,262.7 1260.0,291.8" fill="none" stroke="#ddebf7" stroke-width="5" stroke-linecap="round" stroke-dasharray="48.4 18.8" stroke-dashoffset="-10"/>
</g>
<rect x="548" y="44.5" width="700" height="398.5" fill="none" stroke="#111" stroke-width="2"/>
<text x="898.5" y="72.4" font-size="17" font-weight="400" fill="#111" text-anchor="middle">Lysosome</text>
<path d="M-48,-4.5 Q0,3.8 48,-4.5 Q51.5,-5 51,-1 C48,16 28,29.2 0,29.2 C-28,29.2 -48,16 -51,-1 Q-51.5,-5 -48,-4.5 Z" transform="translate(620.5,159.4)" fill="#eef5e8" stroke="#8fa67f" stroke-width="1.6"/>
<line x1="579.3" y1="147.7" x2="580.3" y2="145.1" stroke="#d0454a" stroke-width="0.9"/>
<line x1="581.3" y1="150.5" x2="583.5" y2="144.2" stroke="#2f6fae" stroke-width="0.9"/>
<line x1="584.0" y1="151.3" x2="586.0" y2="145.1" stroke="#d0454a" stroke-width="0.9"/>
<line x1="587.3" y1="150.2" x2="588.0" y2="147.9" stroke="#2f6fae" stroke-width="0.9"/>
<line x1="590.7" y1="148.3" x2="589.8" y2="151.3" stroke="#d0454a" stroke-width="0.9"/>
<line x1="593.7" y1="147.2" x2="592.0" y2="153.8" stroke="#2f6fae" stroke-width="0.9"/>
<line x1="596.2" y1="148.1" x2="594.8" y2="154.2" stroke="#d0454a" stroke-width="0.9"/>
<line x1="598.3" y1="150.8" x2="597.9" y2="152.7" stroke="#2f6fae" stroke-width="0.9"/>
<line x1="600.4" y1="154.0" x2="601.0" y2="150.6" stroke="#d0454a" stroke-width="0.9"/>
<line x1="602.8" y1="156.2" x2="603.9" y2="149.3" stroke="#2f6fae" stroke-width="0.9"/>
<line x1="605.5" y1="156.2" x2="606.4" y2="150.1" stroke="#d0454a" stroke-width="0.9"/>
<line x1="608.5" y1="154.3" x2="608.7" y2="152.7" stroke="#2f6fae" stroke-width="0.9"/>
<line x1="611.4" y1="151.9" x2="611.0" y2="155.7" stroke="#d0454a" stroke-width="0.9"/>
<line x1="614.1" y1="150.6" x2="613.6" y2="157.5" stroke="#2f6fae" stroke-width="0.9"/>
<line x1="616.6" y1="151.3" x2="616.3" y2="157.2" stroke="#d0454a" stroke-width="0.9"/>
<line x1="619.1" y1="153.7" x2="619.1" y2="154.9" stroke="#2f6fae" stroke-width="0.9"/>
<line x1="621.7" y1="156.5" x2="621.8" y2="152.3" stroke="#d0454a" stroke-width="0.9"/>
<line x1="624.4" y1="157.9" x2="624.3" y2="150.9" stroke="#2f6fae" stroke-width="0.9"/>
<line x1="627.1" y1="157.2" x2="626.9" y2="151.5" stroke="#d0454a" stroke-width="0.9"/>
<line x1="629.7" y1="154.6" x2="629.6" y2="153.8" stroke="#2f6fae" stroke-width="0.9"/>
<line x1="632.1" y1="151.8" x2="632.5" y2="156.3" stroke="#d0454a" stroke-width="0.9"/>
<line x1="634.6" y1="150.3" x2="635.3" y2="157.4" stroke="#2f6fae" stroke-width="0.9"/>
<line x1="637.3" y1="150.8" x2="637.9" y2="156.2" stroke="#d0454a" stroke-width="0.9"/>
<line x1="640.2" y1="153.0" x2="640.3" y2="153.4" stroke="#2f6fae" stroke-width="0.9"/>
<line x1="643.3" y1="155.1" x2="642.5" y2="150.4" stroke="#d0454a" stroke-width="0.9"/>
<line x1="646.2" y1="155.8" x2="644.9" y2="148.8" stroke="#2f6fae" stroke-width="0.9"/>
<line x1="648.7" y1="154.3" x2="647.7" y2="149.3" stroke="#d0454a" stroke-width="0.9"/>
<line x1="650.9" y1="151.2" x2="650.9" y2="151.2" stroke="#2f6fae" stroke-width="0.9"/>
<line x1="652.9" y1="148.1" x2="654.1" y2="153.0" stroke="#d0454a" stroke-width="0.9"/>
<line x1="655.2" y1="146.4" x2="657.1" y2="153.3" stroke="#2f6fae" stroke-width="0.9"/>
<line x1="658.2" y1="146.8" x2="659.5" y2="151.4" stroke="#d0454a" stroke-width="0.9"/>
<line x1="661.6" y1="148.4" x2="661.4" y2="148.0" stroke="#2f6fae" stroke-width="0.9"/>
<line x1="665.0" y1="149.9" x2="663.3" y2="144.8" stroke="#d0454a" stroke-width="0.9"/>
<path d="M578.5,145.9 L578.9,147.0 L579.3,148.1 L579.8,149.1 L580.3,150.0 L580.8,150.7 L581.5,151.3 L582.2,151.7 L582.9,151.9 L583.8,151.9 L584.6,151.7 L585.6,151.3 L586.5,150.8 L587.5,150.2 L588.5,149.6 L589.4,148.9 L590.4,148.2 L591.3,147.7 L592.2,147.2 L593.1,146.8 L593.9,146.6 L594.6,146.6 L595.3,146.8 L595.9,147.2 L596.5,147.8 L597.1,148.5 L597.7,149.4 L598.2,150.3 L598.7,151.3 L599.3,152.4 L599.8,153.4 L600.4,154.4 L601.0,155.3 L601.6,156.0 L602.3,156.5 L603.0,156.9 L603.7,157.1 L604.5,157.0 L605.3,156.8 L606.1,156.4 L606.9,155.8 L607.8,155.1 L608.6,154.3 L609.5,153.5 L610.3,152.7 L611.1,151.9 L611.9,151.2 L612.6,150.6 L613.4,150.2 L614.1,150.0 L614.8,149.9 L615.5,150.1 L616.2,150.4 L616.9,150.9 L617.5,151.6 L618.2,152.4 L618.9,153.3 L619.6,154.2 L620.3,155.2 L621.0,156.1 L621.7,156.9 L622.5,157.6 L623.2,158.1 L624.0,158.4 L624.7,158.6 L625.5,158.5 L626.2,158.3 L626.9,157.8 L627.7,157.2 L628.4,156.4 L629.1,155.6 L629.8,154.6 L630.4,153.7 L631.1,152.7 L631.7,151.8 L632.4,151.1 L633.1,150.4 L633.7,150.0 L634.4,149.7 L635.1,149.6 L635.8,149.7 L636.6,150.0 L637.4,150.5 L638.2,151.1 L639.0,151.8 L639.8,152.6 L640.7,153.4 L641.6,154.2 L642.4,154.9 L643.3,155.5 L644.1,156.0 L645.0,156.3 L645.8,156.4 L646.5,156.4 L647.3,156.1 L648.0,155.6 L648.6,155.0 L649.2,154.2 L649.8,153.3 L650.3,152.2 L650.9,151.2 L651.4,150.1 L651.9,149.1 L652.4,148.2 L653.0,147.3 L653.6,146.7 L654.2,146.2 L654.9,145.8 L655.6,145.7 L656.4,145.8 L657.2,146.0 L658.1,146.4 L659.0,146.9 L660.0,147.5 L661.0,148.1 L662.0,148.8 L663.1,149.4 L664.0,149.9 L665.0,150.3 L665.9,150.6 L666.8,150.7" fill="none" stroke="#d3262c" stroke-width="1.3"/>
<path d="M578.5,145.9 L579.5,145.3 L580.6,144.8 L581.5,144.3 L582.5,143.9 L583.3,143.7 L584.1,143.6 L584.9,143.7 L585.5,144.0 L586.2,144.5 L586.7,145.2 L587.2,146.0 L587.7,146.9 L588.2,148.0 L588.6,149.1 L589.1,150.2 L589.6,151.2 L590.1,152.2 L590.6,153.1 L591.2,153.8 L591.9,154.4 L592.6,154.7 L593.3,154.9 L594.1,154.9 L594.9,154.7 L595.8,154.3 L596.7,153.7 L597.6,153.1 L598.5,152.4 L599.4,151.6 L600.3,150.9 L601.2,150.2 L602.0,149.6 L602.8,149.1 L603.6,148.8 L604.3,148.7 L605.0,148.8 L605.7,149.0 L606.4,149.5 L607.0,150.1 L607.6,150.9 L608.2,151.8 L608.8,152.7 L609.4,153.7 L610.1,154.7 L610.7,155.7 L611.4,156.5 L612.0,157.2 L612.7,157.8 L613.5,158.1 L614.2,158.3 L615.0,158.2 L615.7,158.0 L616.5,157.5 L617.3,156.9 L618.0,156.2 L618.8,155.4 L619.6,154.5 L620.3,153.6 L621.1,152.7 L621.8,151.9 L622.5,151.3 L623.2,150.7 L623.9,150.4 L624.6,150.2 L625.3,150.2 L626.0,150.5 L626.7,150.9 L627.4,151.5 L628.2,152.2 L628.9,153.0 L629.7,153.8 L630.5,154.7 L631.3,155.6 L632.1,156.3 L632.9,157.0 L633.7,157.5 L634.5,157.8 L635.2,158.0 L636.0,157.9 L636.7,157.6 L637.4,157.2 L638.1,156.5 L638.8,155.8 L639.4,154.9 L640.0,153.9 L640.6,152.9 L641.2,151.8 L641.8,150.9 L642.4,150.0 L643.0,149.3 L643.6,148.7 L644.3,148.3 L645.0,148.1 L645.7,148.1 L646.5,148.3 L647.3,148.7 L648.1,149.1 L649.0,149.8 L649.9,150.5 L650.9,151.2 L651.8,151.9 L652.7,152.6 L653.7,153.1 L654.6,153.6 L655.5,153.9 L656.3,154.0 L657.1,153.9 L657.8,153.7 L658.5,153.2 L659.1,152.5 L659.7,151.7 L660.2,150.8 L660.7,149.7 L661.2,148.6 L661.6,147.5 L662.1,146.4 L662.6,145.4 L663.0,144.5 L663.6,143.7 L664.2,143.1" fill="none" stroke="#1f5f9e" stroke-width="1.3"/>
<text x="620.8" y="179.9" font-size="17" font-weight="400" fill="#111" text-anchor="middle">cGAS</text>
<line x1="676.0" y1="169.0" x2="731.0" y2="169.0" stroke="#222" stroke-width="2" stroke-linecap="butt"/>
<path d="M738.5,169.0 L729.0,173.5 L729.0,164.5 Z" fill="#222"/>
<path d="M-48,-4.5 Q0,3.8 48,-4.5 Q51.5,-5 51,-1 C48,16 28,29.2 0,29.2 C-28,29.2 -48,16 -51,-1 Q-51.5,-5 -48,-4.5 Z" transform="translate(743.5,145.5) rotate(45) scale(0.73,-0.76)" fill="#eef5e8" stroke="#8fa67f" stroke-width="2"/>
<line x1="712.1" y1="131.6" x2="713.5" y2="129.5" stroke="#d0454a" stroke-width="0.9"/>
<line x1="712.7" y1="134.1" x2="716.0" y2="129.1" stroke="#2f6fae" stroke-width="0.9"/>
<line x1="714.2" y1="135.0" x2="717.6" y2="130.2" stroke="#d0454a" stroke-width="0.9"/>
<line x1="716.8" y1="134.6" x2="718.1" y2="132.8" stroke="#2f6fae" stroke-width="0.9"/>
<line x1="719.8" y1="133.6" x2="718.2" y2="136.0" stroke="#d0454a" stroke-width="0.9"/>
<line x1="722.3" y1="133.4" x2="718.7" y2="138.4" stroke="#2f6fae" stroke-width="0.9"/>
<line x1="723.7" y1="134.7" x2="720.3" y2="139.3" stroke="#d0454a" stroke-width="0.9"/>
<line x1="724.1" y1="137.4" x2="723.0" y2="138.9" stroke="#2f6fae" stroke-width="0.9"/>
<line x1="724.1" y1="140.6" x2="726.0" y2="138.1" stroke="#d0454a" stroke-width="0.9"/>
<line x1="724.6" y1="142.9" x2="728.5" y2="138.0" stroke="#2f6fae" stroke-width="0.9"/>
<line x1="726.2" y1="143.8" x2="729.7" y2="139.5" stroke="#d0454a" stroke-width="0.9"/>
<line x1="729.0" y1="143.4" x2="729.9" y2="142.3" stroke="#2f6fae" stroke-width="0.9"/>
<line x1="732.0" y1="142.8" x2="729.8" y2="145.4" stroke="#d0454a" stroke-width="0.9"/>
<line x1="734.4" y1="142.9" x2="730.3" y2="147.7" stroke="#2f6fae" stroke-width="0.9"/>
<line x1="735.5" y1="144.6" x2="732.0" y2="148.6" stroke="#d0454a" stroke-width="0.9"/>
<line x1="735.6" y1="147.4" x2="734.8" y2="148.3" stroke="#2f6fae" stroke-width="0.9"/>
<line x1="735.3" y1="150.5" x2="737.9" y2="147.7" stroke="#d0454a" stroke-width="0.9"/>
<line x1="735.8" y1="152.8" x2="740.2" y2="148.1" stroke="#2f6fae" stroke-width="0.9"/>
<line x1="737.7" y1="153.6" x2="741.2" y2="149.9" stroke="#d0454a" stroke-width="0.9"/>
<line x1="740.6" y1="153.3" x2="741.1" y2="152.8" stroke="#2f6fae" stroke-width="0.9"/>
<line x1="743.6" y1="152.9" x2="740.7" y2="155.9" stroke="#d0454a" stroke-width="0.9"/>
<line x1="745.8" y1="153.5" x2="741.3" y2="158.0" stroke="#2f6fae" stroke-width="0.9"/>
<line x1="746.6" y1="155.4" x2="743.2" y2="158.8" stroke="#d0454a" stroke-width="0.9"/>
<line x1="746.4" y1="158.4" x2="746.1" y2="158.7" stroke="#2f6fae" stroke-width="0.9"/>
<line x1="746.0" y1="161.4" x2="749.2" y2="158.4" stroke="#d0454a" stroke-width="0.9"/>
<line x1="746.5" y1="163.5" x2="751.3" y2="159.2" stroke="#2f6fae" stroke-width="0.9"/>
<line x1="748.5" y1="164.3" x2="751.9" y2="161.2" stroke="#d0454a" stroke-width="0.9"/>
<line x1="751.5" y1="164.2" x2="751.5" y2="164.2" stroke="#2f6fae" stroke-width="0.9"/>
<line x1="754.6" y1="164.2" x2="751.1" y2="167.2" stroke="#d0454a" stroke-width="0.9"/>
<line x1="756.5" y1="165.1" x2="751.6" y2="169.3" stroke="#2f6fae" stroke-width="0.9"/>
<line x1="757.0" y1="167.3" x2="753.7" y2="170.1" stroke="#d0454a" stroke-width="0.9"/>
<line x1="756.5" y1="170.3" x2="756.8" y2="170.1" stroke="#2f6fae" stroke-width="0.9"/>
<line x1="756.0" y1="173.3" x2="759.8" y2="170.2" stroke="#d0454a" stroke-width="0.9"/>
<path d="M712.0,130.0 L712.0,131.0 L712.0,131.9 L712.0,132.8 L712.1,133.6 L712.3,134.2 L712.5,134.8 L712.9,135.2 L713.3,135.4 L713.9,135.5 L714.5,135.4 L715.3,135.2 L716.1,135.0 L717.0,134.6 L717.9,134.3 L718.8,133.9 L719.7,133.5 L720.5,133.3 L721.3,133.0 L722.0,133.0 L722.7,133.0 L723.2,133.2 L723.6,133.5 L723.9,134.0 L724.1,134.6 L724.2,135.3 L724.2,136.1 L724.2,137.1 L724.1,138.0 L724.0,139.0 L723.9,140.0 L723.9,140.9 L723.9,141.7 L723.9,142.5 L724.1,143.1 L724.4,143.6 L724.7,143.9 L725.2,144.1 L725.8,144.2 L726.5,144.2 L727.3,144.0 L728.2,143.8 L729.1,143.5 L730.0,143.2 L730.9,142.9 L731.8,142.6 L732.7,142.4 L733.5,142.3 L734.2,142.3 L734.7,142.5 L735.2,142.8 L735.5,143.2 L735.8,143.7 L735.9,144.4 L735.9,145.2 L735.8,146.1 L735.7,147.0 L735.5,148.0 L735.4,148.9 L735.2,149.9 L735.1,150.8 L735.1,151.6 L735.1,152.3 L735.3,152.9 L735.6,153.3 L736.0,153.6 L736.5,153.8 L737.2,153.9 L737.9,153.9 L738.7,153.8 L739.6,153.6 L740.6,153.3 L741.6,153.1 L742.5,152.9 L743.4,152.7 L744.2,152.7 L745.0,152.7 L745.6,152.8 L746.1,153.0 L746.5,153.4 L746.8,153.9 L746.9,154.5 L746.9,155.3 L746.9,156.1 L746.7,157.0 L746.5,157.9 L746.3,158.9 L746.0,159.8 L745.8,160.8 L745.7,161.6 L745.7,162.4 L745.7,163.0 L745.9,163.6 L746.2,164.0 L746.6,164.3 L747.2,164.5 L747.9,164.6 L748.7,164.6 L749.6,164.5 L750.5,164.4 L751.5,164.2 L752.5,164.1 L753.4,164.0 L754.3,163.9 L755.1,163.9 L755.8,164.0 L756.4,164.3 L756.9,164.6 L757.2,165.1 L757.4,165.6 L757.4,166.3 L757.3,167.1 L757.1,168.0 L756.9,168.9 L756.6,169.8 L756.3,170.8 L756.0,171.7 L755.8,172.6 L755.7,173.4 L755.6,174.1 L755.7,174.8" fill="none" stroke="#d3262c" stroke-width="1.3"/>
<path d="M712.0,130.0 L712.9,129.6 L713.8,129.2 L714.6,128.9 L715.4,128.7 L716.0,128.6 L716.7,128.7 L717.2,128.9 L717.6,129.2 L717.8,129.7 L718.0,130.4 L718.2,131.1 L718.2,132.0 L718.2,132.9 L718.1,133.9 L718.1,134.9 L718.0,135.8 L718.0,136.7 L718.0,137.5 L718.2,138.2 L718.4,138.8 L718.7,139.3 L719.1,139.5 L719.6,139.7 L720.3,139.7 L721.0,139.6 L721.8,139.4 L722.6,139.1 L723.5,138.8 L724.5,138.4 L725.4,138.1 L726.3,137.8 L727.1,137.6 L727.8,137.5 L728.5,137.5 L729.0,137.7 L729.5,138.0 L729.8,138.5 L730.0,139.0 L730.1,139.7 L730.1,140.6 L730.1,141.4 L730.0,142.4 L729.9,143.4 L729.7,144.3 L729.6,145.3 L729.6,146.1 L729.6,146.9 L729.7,147.6 L729.9,148.1 L730.2,148.5 L730.7,148.8 L731.2,148.9 L731.9,148.9 L732.7,148.8 L733.5,148.7 L734.4,148.4 L735.4,148.2 L736.3,147.9 L737.3,147.7 L738.1,147.5 L738.9,147.4 L739.7,147.4 L740.3,147.5 L740.8,147.8 L741.1,148.2 L741.4,148.7 L741.5,149.4 L741.5,150.1 L741.4,151.0 L741.3,151.9 L741.1,152.8 L740.9,153.8 L740.7,154.7 L740.5,155.7 L740.5,156.5 L740.5,157.2 L740.6,157.8 L740.8,158.4 L741.2,158.7 L741.6,159.0 L742.3,159.1 L743.0,159.1 L743.8,159.1 L744.7,158.9 L745.6,158.8 L746.6,158.6 L747.6,158.4 L748.5,158.2 L749.4,158.2 L750.2,158.2 L750.8,158.3 L751.4,158.5 L751.8,158.9 L752.1,159.4 L752.2,160.0 L752.2,160.7 L752.2,161.5 L752.0,162.4 L751.8,163.3 L751.5,164.2 L751.2,165.2 L751.0,166.1 L750.8,167.0 L750.7,167.8 L750.7,168.5 L750.9,169.1 L751.1,169.5 L751.5,169.9 L752.0,170.2 L752.7,170.3 L753.5,170.3 L754.3,170.3 L755.3,170.2 L756.3,170.1 L757.2,170.0 L758.2,169.9 L759.1,169.9 L760.0,169.9 L760.7,170.0 L761.3,170.2" fill="none" stroke="#1f5f9e" stroke-width="1.3"/>
<text x="750.5" y="145.5" font-size="15.5" font-weight="400" fill="#111" text-anchor="middle" transform="rotate(50 750.5 140.0)">cGAS</text>
<ellipse cx="795.2" cy="125.2" rx="42" ry="22" fill="#f2dcb2" stroke="#3b342e" stroke-width="1.5" transform="rotate(20 795.2 125.2)"/>
<text x="795.2" y="129.4" font-size="11.5" font-weight="400" fill="#1a1a1a" text-anchor="middle" letter-spacing="0.6" transform="rotate(20 795.2 125.2)">LAMTOR1</text>
<rect x="789.4" y="160.9" width="47.0" height="22.0" rx="11.0" transform="rotate(-50 812.9 171.9)" fill="#dde4f7" stroke="#5672c9" stroke-width="2"/>
<text x="812.9" y="176.8" font-size="14" font-weight="400" fill="#111" text-anchor="middle" transform="rotate(-52 812.9 171.9)">p62</text>
<circle cx="906" cy="154" r="56" fill="#f5fafd"/>
<path d="M917.5,97.5 L900.6,96.5 A57.5,57.5 0 0 0 900.6,211.5 L910,211" fill="none" stroke="#8e9aab" stroke-width="21.5" stroke-linecap="round" stroke-linejoin="round"/>
<path d="M917.5,97.5 L900.6,96.5 A57.5,57.5 0 0 0 900.6,211.5 L910,211" fill="none" stroke="#c6d1e8" stroke-width="16.5" stroke-linecap="round" stroke-linejoin="round"/>
<path d="M917.5,97.5 L900.6,96.5 A57.5,57.5 0 0 0 900.6,211.5 L910,211" fill="none" stroke="#8e9aab" stroke-width="7.6" stroke-linecap="round" stroke-linejoin="round"/>
<path d="M917.5,97.5 L900.6,96.5 A57.5,57.5 0 0 0 900.6,211.5 L910,211" fill="none" stroke="#eef3fa" stroke-width="2.8" stroke-linecap="round" stroke-linejoin="round"/>
<circle cx="897.7" cy="116.9" r="4" fill="#9b4f96" stroke="#3a3a5a" stroke-width="0.5"/>
<circle cx="939.1" cy="131.1" r="4.5" fill="#4a9a98" stroke="#3a3a5a" stroke-width="0.5"/>
<circle cx="912.6" cy="143.3" r="4.6" fill="#1b4f87" stroke="#3a3a5a" stroke-width="0.5"/>
<circle cx="883.9" cy="149.3" r="4.5" fill="#4a9a98" stroke="#3a3a5a" stroke-width="0.5"/>
<circle cx="862.2" cy="154.4" r="4" fill="#5b4a9b" stroke="#3a3a5a" stroke-width="0.5"/>
<circle cx="900.8" cy="165.4" r="4" fill="#5b4a9b" stroke="#3a3a5a" stroke-width="0.5"/>
<circle cx="923.4" cy="164.2" r="4.5" fill="#4a9a98" stroke="#3a3a5a" stroke-width="0.5"/>
<circle cx="932.4" cy="179.2" r="4.5" fill="#1b4f87" stroke="#3a3a5a" stroke-width="0.5"/>
<circle cx="892.6" cy="183.1" r="4" fill="#9b4f96" stroke="#3a3a5a" stroke-width="0.5"/>
<path d="M868.2,134.1 C873,137 876,136 879,132 C882,128 887,128 891.8,129.9" transform="translate(0,0)" fill="none" stroke="#1fa3cf" stroke-width="2.4" stroke-linecap="round"/>
<path d="M912.6,113 C911,117 916,118 917,121 C918,124 918,127 921.4,129.9" transform="translate(0,0)" fill="none" stroke="#1fa3cf" stroke-width="2.4" stroke-linecap="round"/>
<path d="M919.7,149.3 C922,154 926,155 930,153 C934,151 939,153 941.6,158.6" transform="translate(0,0)" fill="none" stroke="#1fa3cf" stroke-width="2.4" stroke-linecap="round"/>
<path d="M863.1,172.1 C867,175 872,174 874,170 C877,166 881,164 885.9,165.4" transform="translate(0,0)" fill="none" stroke="#1fa3cf" stroke-width="2.4" stroke-linecap="round"/>
<path d="M903.6,186.5 C906,191 910,192 914,191 C918,190 921,194 923.9,199.2" transform="translate(0,0)" fill="none" stroke="#1fa3cf" stroke-width="2.4" stroke-linecap="round"/>
<line x1="969.0" y1="168.9" x2="1023.0" y2="168.9" stroke="#222" stroke-width="2" stroke-linecap="butt"/>
<path d="M1031.0,168.9 L1021.5,173.4 L1021.5,164.4 Z" fill="#222"/>
<text x="1064.4" y="126.4" font-size="16" font-weight="400" fill="#111" text-anchor="middle">cGAS</text>
<path d="M1075.5,132.4 L1092.8,136.5 L1081.6,148.7Z" fill="#dcf0cc" stroke="#5e8c45" stroke-width="1.3" stroke-linejoin="round"/>
<path d="M1055.3,145.6 L1072.5,150.3 L1063.4,161.2Z" fill="#dcf0cc" stroke="#5e8c45" stroke-width="1.3" stroke-linejoin="round"/>
<path d="M1038.0,158.8 L1051.2,160.4 L1047.6,173.0Z" fill="#dcf0cc" stroke="#5e8c45" stroke-width="1.3" stroke-linejoin="round"/>
<path d="M1080.6,156.8 L1098.3,160.0 L1086.7,173.0Z" fill="#dcf0cc" stroke="#5e8c45" stroke-width="1.3" stroke-linejoin="round"/>
<path d="M1069.9,169.9 L1077.6,185.5 L1061.4,185.5Z" fill="#dcf0cc" stroke="#5e8c45" stroke-width="1.3" stroke-linejoin="round"/>
<line x1="1052.2" y1="190.2" x2="1024.9" y2="233.5" stroke="#454545" stroke-width="2.2" stroke-linecap="butt"/>
<line x1="1016.3" y1="228.0" x2="1032.8" y2="238.2" stroke="#454545" stroke-width="2.2" stroke-linecap="butt"/>
<ellipse cx="969" cy="236.9" rx="22.8" ry="14.5" fill="#e6e6e6" stroke="#4d4d4d" stroke-width="1.4"/>
<text x="969" y="241.7" font-size="12" font-weight="400" fill="#111" text-anchor="middle">TBK1</text>
<rect x="993.9" y="246.4" width="45.8" height="28.4" rx="14.2" fill="#3d6fbf" stroke="#1d418a" stroke-width="1.6"/>
<text x="1016.8" y="265.28000000000003" font-size="13" font-weight="400" fill="#eef3fb" text-anchor="middle">IRF3</text>
<ellipse cx="807" cy="247.3" rx="34.8" ry="19.1" fill="#f2dcb3" stroke="#3b342e" stroke-width="1.3"/>
<text x="807" y="250.756" font-size="9.6" font-weight="400" fill="#222" text-anchor="middle" letter-spacing="0.55">LAMTOR1</text>
<ellipse cx="735" cy="268.7" rx="34.8" ry="19.1" fill="#f2dcb3" stroke="#3b342e" stroke-width="1.3"/>
<text x="735" y="272.156" font-size="9.6" font-weight="400" fill="#222" text-anchor="middle" letter-spacing="0.55">LAMTOR1</text>
<ellipse cx="798.3" cy="290.3" rx="34.8" ry="19.1" fill="#f2dcb3" stroke="#3b342e" stroke-width="1.3"/>
<text x="798.3" y="293.75600000000003" font-size="9.6" font-weight="400" fill="#222" text-anchor="middle" letter-spacing="0.55">LAMTOR1</text>
<ellipse cx="735.2" cy="310.8" rx="34.8" ry="19.1" fill="#f2dcb3" stroke="#3b342e" stroke-width="1.3"/>
<text x="735.2" y="314.25600000000003" font-size="9.6" font-weight="400" fill="#222" text-anchor="middle" letter-spacing="0.55">LAMTOR1</text>
<text x="731.6" y="401.8" font-size="16.5" font-weight="400" fill="#111" text-anchor="middle">LAMTOR1</text>
<path d="M674.0,411.2 L674.0,410.9 L674.0,410.7 L674.0,410.5 L674.0,410.3 L674.0,410.1 L674.0,409.9 L674.0,409.8 L674.0,409.7 L674.0,409.6 L674.0,409.5 L674.0,409.4 L674.0,409.4 L674.0,409.4 L674.0,409.4 L674.0,409.4 L674.0,409.5 L674.0,409.6 L674.0,409.7 L674.0,409.8 L674.0,409.9 L674.0,410.1 L674.0,410.3 L674.0,410.5 L674.0,410.7 L674.0,410.9 L674.0,411.2 L674.0,411.5 L674.0,411.8 L674.0,412.1 L674.0,412.4 L674.0,412.7 L674.0,413.0 L674.0,413.4 L674.0,413.7 L674.0,414.1 L674.0,414.5 L674.0,414.9 L674.0,415.2 L674.0,415.6 L674.0,416.0 L674.2,416.4 L674.5,416.8 L674.7,417.1 L675.0,417.5 L675.2,417.9 L675.5,418.3 L675.7,418.6 L676.0,419.0 L676.2,419.3 L676.5,419.6 L676.8,419.9 L677.0,420.2 L677.3,420.5 L677.6,420.8 L677.9,421.1 L678.1,421.3 L678.4,421.5 L678.7,421.7 L679.0,421.9 L679.3,422.1 L679.6,422.2 L679.9,422.3 L680.2,422.4 L680.5,422.5 L680.8,422.6 L681.2,422.6 L681.5,422.6 L681.8,422.6 L682.2,422.6 L682.5,422.5 L682.9,422.4 L683.2,422.3 L683.6,422.2 L684.0,422.1 L684.3,421.9 L684.7,421.7 L685.1,421.5 L685.5,421.3 L685.9,421.1 L686.2,420.8 L686.6,420.5 L687.0,420.2 L687.4,419.9 L687.8,419.6 L688.2,419.3 L688.7,419.0 L689.1,418.6 L689.5,418.3 L689.9,417.9 L690.3,417.5 L690.7,417.1 L691.2,416.8 L691.6,416.4 L692.0,416.0 L692.4,415.6 L692.8,415.2 L693.3,414.9 L693.7,414.5 L694.1,414.1 L694.5,413.7 L694.9,413.4 L695.3,413.0 L695.8,412.7 L696.2,412.4 L696.6,412.1 L697.0,411.8 L697.4,411.5 L697.8,411.2 L698.1,410.9 L698.5,410.7 L698.9,410.5 L699.3,410.3 L699.7,410.1 L700.0,409.9 L700.4,409.8 L700.8,409.7 L701.1,409.6 L701.5,409.5 L701.8,409.4 L702.2,409.4 L702.5,409.4 L702.8,409.4 L703.2,409.4 L703.5,409.5 L703.8,409.6 L704.1,409.7 L704.4,409.8 L704.7,409.9 L705.0,410.1 L705.3,410.3 L705.6,410.5 L705.9,410.7 L706.1,410.9 L706.4,411.2 L706.7,411.5 L707.0,411.8 L707.2,412.1 L707.5,412.4 L707.8,412.7 L708.0,413.0 L708.3,413.4 L708.5,413.7 L708.8,414.1 L709.0,414.5 L709.3,414.9 L709.5,415.2 L709.8,415.6 L710.0,416.0 L710.2,416.4 L710.5,416.8 L710.7,417.1 L711.0,417.5 L711.2,417.9 L711.5,418.3 L711.7,418.6 L712.0,419.0 L712.2,419.3 L712.5,419.6 L712.8,419.9 L713.0,420.2 L713.3,420.5 L713.6,420.8 L713.9,421.1 L714.1,421.3 L714.4,421.5 L714.7,421.7 L715.0,421.9 L715.3,422.1 L715.6,422.2 L715.9,422.3 L716.2,422.4 L716.5,422.5 L716.8,422.6 L717.2,422.6 L717.5,422.6 L717.8,422.6 L718.2,422.6 L718.5,422.5 L718.9,422.4 L719.2,422.3 L719.6,422.2 L720.0,422.1 L720.3,421.9 L720.7,421.7 L721.1,421.5 L721.5,421.3 L721.9,421.1 L722.2,420.8 L722.6,420.5 L723.0,420.2 L723.4,419.9 L723.8,419.6 L724.2,419.3 L724.7,419.0 L725.1,418.6 L725.5,418.3 L725.9,417.9 L726.3,417.5 L726.7,417.1 L727.2,416.8 L727.6,416.4 L728.0,416.0 L728.4,415.6 L728.8,415.2 L729.3,414.9 L729.7,414.5 L730.1,414.1 L730.5,413.7 L730.9,413.4 L731.3,413.0 L731.8,412.7 L732.2,412.4 L732.6,412.1 L733.0,411.8 L733.4,411.5 L733.8,411.2 L734.1,410.9 L734.5,410.7 L734.9,410.5 L735.3,410.3 L735.7,410.1 L736.0,409.9 L736.4,409.8 L736.8,409.7 L737.1,409.6 L737.5,409.5 L737.8,409.4 L738.2,409.4 L738.5,409.4 L738.8,409.4 L739.2,409.4 L739.5,409.5 L739.8,409.6 L740.1,409.7 L740.4,409.8 L740.7,409.9 L741.0,410.1 L741.3,410.3 L741.6,410.5 L741.9,410.7 L742.1,410.9 L742.4,411.2 L742.7,411.5 L743.0,411.8 L743.2,412.1 L743.5,412.4 L743.8,412.7 L744.0,413.0 L744.3,413.4 L744.5,413.7 L744.8,414.1 L745.0,414.5 L745.3,414.9 L745.5,415.2 L745.8,415.6 L746.0,416.0 L746.2,416.4 L746.5,416.8 L746.7,417.1 L747.0,417.5 L747.2,417.9 L747.5,418.3 L747.7,418.6 L748.0,419.0 L748.2,419.3 L748.5,419.6 L748.8,419.9 L749.0,420.2 L749.3,420.5 L749.6,420.8 L749.9,421.1 L750.1,421.3 L750.4,421.5 L750.7,421.7 L751.0,421.9 L751.3,422.1 L751.6,422.2 L751.9,422.3 L752.2,422.4 L752.5,422.5 L752.8,422.6 L753.2,422.6 L753.5,422.6 L753.8,422.6 L754.2,422.6 L754.5,422.5 L754.9,422.4 L755.2,422.3 L755.6,422.2 L756.0,422.1 L756.3,421.9 L756.7,421.7 L757.1,421.5 L757.5,421.3 L757.9,421.1 L758.2,420.8 L758.6,420.5 L759.0,420.2 L759.4,419.9 L759.8,419.6 L760.2,419.3 L760.7,419.0 L761.1,418.6 L761.5,418.3 L761.9,417.9 L762.3,417.5 L762.7,417.1 L763.2,416.8 L763.6,416.4 L764.0,416.0 L764.4,415.6 L764.8,415.2 L765.3,414.9 L765.7,414.5 L766.1,414.1 L766.5,413.7 L766.9,413.4 L767.3,413.0 L767.8,412.7 L768.2,412.4 L768.6,412.1 L769.0,411.8 L769.4,411.5 L769.8,411.2 L770.1,410.9 L770.5,410.7 L770.9,410.5 L771.3,410.3 L771.7,410.1 L772.0,409.9 L772.4,409.8 L772.8,409.7 L773.1,409.6 L773.5,409.5 L773.8,409.4 L774.2,409.4 L774.5,409.4 L774.8,409.4 L775.2,409.4 L775.5,409.5 L775.8,409.6 L776.1,409.7 L776.4,409.8 L776.7,409.9 L777.0,410.1 L777.3,410.3 L777.6,410.5 L777.9,410.7 L778.1,410.9 L778.4,411.2 L778.7,411.5 L779.0,411.8 L779.2,412.1 L779.5,412.4 L779.8,412.7 L780.0,413.0 L780.3,413.4 L780.5,413.7 L780.8,414.1 L781.0,414.5 L781.0,414.9 L781.0,415.2 L781.0,415.6 L781.0,416.0 L781.0,416.4 L781.0,416.8 L781.0,417.1 L781.0,417.5 L781.0,417.9 L781.0,418.3 L781.0,418.6 L781.0,419.0 L781.0,419.3 L781.0,419.6 L781.0,419.9 L781.0,420.2 L781.0,420.5 L781.0,420.8 L781.0,421.1 L781.0,421.3 L781.0,421.5 L781.0,421.7 L781.0,421.9 L781.0,422.1 L781.0,422.2 L781.0,422.3 L781.0,422.4 L781.0,422.5 L781.0,422.6 L781.0,422.6 L781.0,422.6 L781.0,422.6 L781.0,422.6 L781.0,422.5 L781.0,422.4 L781.0,422.3 L781.0,422.2 L781.0,422.1 L781.0,421.9 L781.0,421.7 L781.0,421.5" fill="none" stroke="#244a9e" stroke-width="3.2" stroke-linejoin="round"/>
<path d="M674.0,411.8 L674.0,412.1 L674.0,412.4 L674.0,412.7 L674.0,413.1 L674.0,413.4 L674.0,413.8 L674.0,414.1 L674.0,414.5 L674.0,414.9 L674.0,415.3 L674.0,415.6 L674.0,416.0 L674.0,416.4 L674.0,416.8 L674.0,417.2 L674.0,417.6 L674.0,417.9 L674.0,418.3 L674.0,418.6 L674.0,419.0 L674.0,419.3 L674.0,419.7 L674.0,420.0 L674.0,420.3 L674.0,420.6 L674.0,420.8 L674.0,421.1 L674.0,421.3 L674.0,421.5 L674.0,421.7 L674.0,421.9 L674.0,422.1 L674.0,422.2 L674.0,422.3 L674.0,422.4 L674.0,422.5 L674.0,422.6 L674.0,422.6 L674.0,422.6 L674.0,422.6 L674.0,422.6 L674.0,422.5 L674.0,422.4 L674.0,422.3 L674.3,422.2 L674.6,422.0 L675.0,421.9 L675.4,421.7 L675.8,421.5 L676.1,421.3 L676.5,421.0 L676.9,420.8 L677.3,420.5 L677.7,420.2 L678.1,419.9 L678.5,419.6 L678.9,419.3 L679.3,418.9 L679.7,418.6 L680.2,418.2 L680.6,417.9 L681.0,417.5 L681.4,417.1 L681.8,416.7 L682.3,416.4 L682.7,416.0 L683.1,415.6 L683.5,415.2 L683.9,414.8 L684.4,414.4 L684.8,414.1 L685.2,413.7 L685.6,413.4 L686.0,413.0 L686.4,412.7 L686.8,412.3 L687.2,412.0 L687.6,411.7 L688.0,411.4 L688.4,411.2 L688.8,410.9 L689.2,410.7 L689.6,410.5 L690.0,410.3 L690.3,410.1 L690.7,409.9 L691.1,409.8 L691.4,409.7 L691.8,409.6 L692.1,409.5 L692.5,409.4 L692.8,409.4 L693.2,409.4 L693.5,409.4 L693.8,409.4 L694.1,409.5 L694.5,409.6 L694.8,409.7 L695.1,409.8 L695.4,410.0 L695.7,410.1 L696.0,410.3 L696.2,410.5 L696.5,410.7 L696.8,411.0 L697.1,411.2 L697.4,411.5 L697.6,411.8 L697.9,412.1 L698.2,412.4 L698.4,412.7 L698.7,413.1 L698.9,413.4 L699.2,413.8 L699.4,414.1 L699.7,414.5 L699.9,414.9 L700.2,415.3 L700.4,415.6 L700.7,416.0 L700.9,416.4 L701.2,416.8 L701.4,417.2 L701.6,417.6 L701.9,417.9 L702.1,418.3 L702.4,418.6 L702.7,419.0 L702.9,419.3 L703.2,419.7 L703.4,420.0 L703.7,420.3 L704.0,420.6 L704.2,420.8 L704.5,421.1 L704.8,421.3 L705.1,421.5 L705.4,421.7 L705.7,421.9 L706.0,422.1 L706.3,422.2 L706.6,422.3 L706.9,422.4 L707.2,422.5 L707.5,422.6 L707.8,422.6 L708.2,422.6 L708.5,422.6 L708.8,422.6 L709.2,422.5 L709.5,422.4 L709.9,422.3 L710.3,422.2 L710.6,422.0 L711.0,421.9 L711.4,421.7 L711.8,421.5 L712.1,421.3 L712.5,421.0 L712.9,420.8 L713.3,420.5 L713.7,420.2 L714.1,419.9 L714.5,419.6 L714.9,419.3 L715.3,418.9 L715.7,418.6 L716.2,418.2 L716.6,417.9 L717.0,417.5 L717.4,417.1 L717.8,416.7 L718.3,416.4 L718.7,416.0 L719.1,415.6 L719.5,415.2 L719.9,414.8 L720.4,414.4 L720.8,414.1 L721.2,413.7 L721.6,413.4 L722.0,413.0 L722.4,412.7 L722.8,412.3 L723.2,412.0 L723.6,411.7 L724.0,411.4 L724.4,411.2 L724.8,410.9 L725.2,410.7 L725.6,410.5 L726.0,410.3 L726.3,410.1 L726.7,409.9 L727.1,409.8 L727.4,409.7 L727.8,409.6 L728.1,409.5 L728.5,409.4 L728.8,409.4 L729.2,409.4 L729.5,409.4 L729.8,409.4 L730.1,409.5 L730.5,409.6 L730.8,409.7 L731.1,409.8 L731.4,410.0 L731.7,410.1 L732.0,410.3 L732.2,410.5 L732.5,410.7 L732.8,411.0 L733.1,411.2 L733.4,411.5 L733.6,411.8 L733.9,412.1 L734.2,412.4 L734.4,412.7 L734.7,413.1 L734.9,413.4 L735.2,413.8 L735.4,414.1 L735.7,414.5 L735.9,414.9 L736.2,415.3 L736.4,415.6 L736.7,416.0 L736.9,416.4 L737.2,416.8 L737.4,417.2 L737.6,417.6 L737.9,417.9 L738.1,418.3 L738.4,418.6 L738.7,419.0 L738.9,419.3 L739.2,419.7 L739.4,420.0 L739.7,420.3 L740.0,420.6 L740.2,420.8 L740.5,421.1 L740.8,421.3 L741.1,421.5 L741.4,421.7 L741.7,421.9 L742.0,422.1 L742.3,422.2 L742.6,422.3 L742.9,422.4 L743.2,422.5 L743.5,422.6 L743.8,422.6 L744.2,422.6 L744.5,422.6 L744.8,422.6 L745.2,422.5 L745.5,422.4 L745.9,422.3 L746.3,422.2 L746.6,422.0 L747.0,421.9 L747.4,421.7 L747.8,421.5 L748.1,421.3 L748.5,421.0 L748.9,420.8 L749.3,420.5 L749.7,420.2 L750.1,419.9 L750.5,419.6 L750.9,419.3 L751.3,418.9 L751.7,418.6 L752.2,418.2 L752.6,417.9 L753.0,417.5 L753.4,417.1 L753.8,416.7 L754.3,416.4 L754.7,416.0 L755.1,415.6 L755.5,415.2 L755.9,414.8 L756.4,414.4 L756.8,414.1 L757.2,413.7 L757.6,413.4 L758.0,413.0 L758.4,412.7 L758.8,412.3 L759.2,412.0 L759.6,411.7 L760.0,411.4 L760.4,411.2 L760.8,410.9 L761.2,410.7 L761.6,410.5 L762.0,410.3 L762.3,410.1 L762.7,409.9 L763.1,409.8 L763.4,409.7 L763.8,409.6 L764.1,409.5 L764.5,409.4 L764.8,409.4 L765.2,409.4 L765.5,409.4 L765.8,409.4 L766.1,409.5 L766.5,409.6 L766.8,409.7 L767.1,409.8 L767.4,410.0 L767.7,410.1 L768.0,410.3 L768.2,410.5 L768.5,410.7 L768.8,411.0 L769.1,411.2 L769.4,411.5 L769.6,411.8 L769.9,412.1 L770.2,412.4 L770.4,412.7 L770.7,413.1 L770.9,413.4 L771.2,413.8 L771.4,414.1 L771.7,414.5 L771.9,414.9 L772.2,415.3 L772.4,415.6 L772.7,416.0 L772.9,416.4 L773.2,416.8 L773.4,417.2 L773.6,417.6 L773.9,417.9 L774.1,418.3 L774.4,418.6 L774.7,419.0 L774.9,419.3 L775.2,419.7 L775.4,420.0 L775.7,420.3 L776.0,420.6 L776.2,420.8 L776.5,421.1 L776.8,421.3 L777.1,421.5 L777.4,421.7 L777.7,421.9 L778.0,422.1 L778.3,422.2 L778.6,422.3 L778.9,422.4 L779.2,422.5 L779.5,422.6 L779.8,422.6 L780.2,422.6 L780.5,422.6 L780.8,422.6 L781.0,422.5 L781.0,422.4 L781.0,422.3 L781.0,422.2 L781.0,422.0 L781.0,421.9 L781.0,421.7 L781.0,421.5 L781.0,421.3 L781.0,421.0 L781.0,420.8 L781.0,420.5 L781.0,420.2 L781.0,419.9 L781.0,419.6 L781.0,419.3 L781.0,418.9 L781.0,418.6 L781.0,418.2 L781.0,417.9 L781.0,417.5 L781.0,417.1 L781.0,416.7 L781.0,416.4 L781.0,416.0 L781.0,415.6 L781.0,415.2 L781.0,414.8 L781.0,414.4 L781.0,414.1 L781.0,413.7 L781.0,413.4 L781.0,413.0 L781.0,412.7 L781.0,412.3 L781.0,412.0" fill="none" stroke="#193585" stroke-width="3.2" stroke-linejoin="round"/>
<path d="M793.5,415.6 L811,415.6 Q821.2,415.6 821.2,405 L821.2,326" fill="none" stroke="#222" stroke-width="2.6"/>
<path d="M821.2,315.0 L827.5,327.0 L815.0,327.0 Z" fill="#222"/>
<path d="M979.0,411.2 L979.0,410.9 L979.0,410.7 L979.0,410.5 L979.0,410.3 L979.0,410.1 L979.0,409.9 L979.0,409.8 L979.0,409.7 L979.0,409.6 L979.0,409.5 L979.0,409.4 L979.0,409.4 L979.0,409.4 L979.0,409.4 L979.0,409.4 L979.0,409.5 L979.0,409.6 L979.0,409.7 L979.0,409.8 L979.0,409.9 L979.0,410.1 L979.0,410.3 L979.0,410.5 L979.0,410.7 L979.0,410.9 L979.0,411.2 L979.0,411.5 L979.0,411.8 L979.0,412.1 L979.0,412.4 L979.0,412.7 L979.0,413.0 L979.0,413.4 L979.0,413.7 L979.0,414.1 L979.0,414.5 L979.0,414.9 L979.0,415.2 L979.0,415.6 L979.0,416.0 L979.2,416.4 L979.5,416.8 L979.7,417.1 L980.0,417.5 L980.2,417.9 L980.5,418.3 L980.7,418.6 L981.0,419.0 L981.2,419.3 L981.5,419.6 L981.8,419.9 L982.0,420.2 L982.3,420.5 L982.6,420.8 L982.9,421.1 L983.1,421.3 L983.4,421.5 L983.7,421.7 L984.0,421.9 L984.3,422.1 L984.6,422.2 L984.9,422.3 L985.2,422.4 L985.5,422.5 L985.8,422.6 L986.2,422.6 L986.5,422.6 L986.8,422.6 L987.2,422.6 L987.5,422.5 L987.9,422.4 L988.2,422.3 L988.6,422.2 L989.0,422.1 L989.3,421.9 L989.7,421.7 L990.1,421.5 L990.5,421.3 L990.9,421.1 L991.2,420.8 L991.6,420.5 L992.0,420.2 L992.4,419.9 L992.8,419.6 L993.2,419.3 L993.7,419.0 L994.1,418.6 L994.5,418.3 L994.9,417.9 L995.3,417.5 L995.7,417.1 L996.2,416.8 L996.6,416.4 L997.0,416.0 L997.4,415.6 L997.8,415.2 L998.3,414.9 L998.7,414.5 L999.1,414.1 L999.5,413.7 L999.9,413.4 L1000.3,413.0 L1000.8,412.7 L1001.2,412.4 L1001.6,412.1 L1002.0,411.8 L1002.4,411.5 L1002.8,411.2 L1003.1,410.9 L1003.5,410.7 L1003.9,410.5 L1004.3,410.3 L1004.7,410.1 L1005.0,409.9 L1005.4,409.8 L1005.8,409.7 L1006.1,409.6 L1006.5,409.5 L1006.8,409.4 L1007.2,409.4 L1007.5,409.4 L1007.8,409.4 L1008.2,409.4 L1008.5,409.5 L1008.8,409.6 L1009.1,409.7 L1009.4,409.8 L1009.7,409.9 L1010.0,410.1 L1010.3,410.3 L1010.6,410.5 L1010.9,410.7 L1011.1,410.9 L1011.4,411.2 L1011.7,411.5 L1012.0,411.8 L1012.2,412.1 L1012.5,412.4 L1012.8,412.7 L1013.0,413.0 L1013.3,413.4 L1013.5,413.7 L1013.8,414.1 L1014.0,414.5 L1014.3,414.9 L1014.5,415.2 L1014.8,415.6 L1015.0,416.0 L1015.2,416.4 L1015.5,416.8 L1015.7,417.1 L1016.0,417.5 L1016.2,417.9 L1016.5,418.3 L1016.7,418.6 L1017.0,419.0 L1017.2,419.3 L1017.5,419.6 L1017.8,419.9 L1018.0,420.2 L1018.3,420.5 L1018.6,420.8 L1018.9,421.1 L1019.1,421.3 L1019.4,421.5 L1019.7,421.7 L1020.0,421.9 L1020.3,422.1 L1020.6,422.2 L1020.9,422.3 L1021.2,422.4 L1021.5,422.5 L1021.8,422.6 L1022.2,422.6 L1022.5,422.6 L1022.8,422.6 L1023.2,422.6 L1023.5,422.5 L1023.9,422.4 L1024.2,422.3 L1024.6,422.2 L1025.0,422.1 L1025.3,421.9 L1025.7,421.7 L1026.1,421.5 L1026.5,421.3 L1026.9,421.1 L1027.2,420.8 L1027.6,420.5 L1028.0,420.2 L1028.4,419.9 L1028.8,419.6 L1029.2,419.3 L1029.7,419.0 L1030.1,418.6 L1030.5,418.3 L1030.9,417.9 L1031.3,417.5 L1031.7,417.1 L1032.2,416.8 L1032.6,416.4 L1033.0,416.0 L1033.4,415.6 L1033.8,415.2 L1034.3,414.9 L1034.7,414.5 L1035.1,414.1 L1035.5,413.7 L1035.9,413.4 L1036.3,413.0 L1036.8,412.7 L1037.2,412.4 L1037.6,412.1 L1038.0,411.8 L1038.4,411.5 L1038.8,411.2 L1039.1,410.9 L1039.5,410.7 L1039.9,410.5 L1040.3,410.3 L1040.7,410.1 L1041.0,409.9 L1041.4,409.8 L1041.8,409.7 L1042.1,409.6 L1042.5,409.5 L1042.8,409.4 L1043.2,409.4 L1043.5,409.4 L1043.8,409.4 L1044.2,409.4 L1044.5,409.5 L1044.8,409.6 L1045.1,409.7 L1045.4,409.8 L1045.7,409.9 L1046.0,410.1 L1046.3,410.3 L1046.6,410.5 L1046.9,410.7 L1047.1,410.9 L1047.4,411.2 L1047.7,411.5 L1048.0,411.8 L1048.2,412.1 L1048.5,412.4 L1048.8,412.7 L1049.0,413.0 L1049.3,413.4 L1049.5,413.7 L1049.8,414.1 L1050.0,414.5 L1050.3,414.9 L1050.5,415.2 L1050.8,415.6 L1051.0,416.0 L1051.2,416.4 L1051.5,416.8 L1051.7,417.1 L1052.0,417.5 L1052.2,417.9 L1052.5,418.3 L1052.7,418.6 L1053.0,419.0 L1053.2,419.3 L1053.5,419.6 L1053.8,419.9 L1054.0,420.2 L1054.3,420.5 L1054.6,420.8 L1054.9,421.1 L1055.1,421.3 L1055.4,421.5 L1055.7,421.7 L1056.0,421.9 L1056.3,422.1 L1056.6,422.2 L1056.9,422.3 L1057.2,422.4 L1057.5,422.5 L1057.8,422.6 L1058.2,422.6 L1058.5,422.6 L1058.8,422.6 L1059.2,422.6 L1059.5,422.5 L1059.9,422.4 L1060.2,422.3 L1060.6,422.2 L1061.0,422.1 L1061.3,421.9 L1061.7,421.7 L1062.1,421.5 L1062.5,421.3 L1062.9,421.1 L1063.2,420.8 L1063.6,420.5 L1064.0,420.2 L1064.4,419.9 L1064.8,419.6 L1065.2,419.3 L1065.7,419.0 L1066.1,418.6 L1066.5,418.3 L1066.9,417.9 L1067.3,417.5 L1067.7,417.1 L1068.2,416.8 L1068.6,416.4 L1069.0,416.0 L1069.4,415.6 L1069.8,415.2 L1070.3,414.9 L1070.7,414.5 L1071.1,414.1 L1071.5,413.7 L1071.9,413.4 L1072.3,413.0 L1072.8,412.7 L1073.2,412.4 L1073.6,412.1 L1074.0,411.8 L1074.4,411.5 L1074.8,411.2 L1075.1,410.9 L1075.5,410.7 L1075.9,410.5 L1076.3,410.3 L1076.7,410.1 L1077.0,409.9 L1077.4,409.8 L1077.8,409.7 L1078.1,409.6 L1078.5,409.5 L1078.8,409.4 L1079.2,409.4 L1079.5,409.4 L1079.8,409.4 L1080.2,409.4 L1080.5,409.5 L1080.8,409.6 L1081.1,409.7 L1081.4,409.8 L1081.7,409.9 L1082.0,410.1 L1082.3,410.3 L1082.6,410.5 L1082.9,410.7 L1083.1,410.9 L1083.4,411.2 L1083.7,411.5 L1084.0,411.8 L1084.2,412.1 L1084.5,412.4 L1084.8,412.7 L1085.0,413.0 L1085.3,413.4 L1085.5,413.7 L1085.8,414.1 L1086.0,414.5 L1086.3,414.9 L1086.5,415.2 L1086.8,415.6 L1087.0,416.0 L1087.2,416.4 L1087.5,416.8 L1087.7,417.1 L1088.0,417.5 L1088.2,417.9 L1088.5,418.3 L1088.7,418.6 L1089.0,419.0 L1089.2,419.3 L1089.5,419.6 L1089.8,419.9 L1090.0,420.2 L1090.3,420.5 L1090.6,420.8 L1090.9,421.1 L1091.1,421.3 L1091.4,421.5 L1091.7,421.7 L1092.0,421.9 L1092.3,422.1 L1092.6,422.2 L1092.9,422.3 L1093.2,422.4 L1093.5,422.5 L1093.8,422.6 L1094.2,422.6 L1094.5,422.6 L1094.8,422.6 L1095.2,422.6 L1095.5,422.5 L1095.9,422.4 L1096.2,422.3 L1096.6,422.2 L1097.0,422.1 L1097.3,421.9 L1097.7,421.7 L1098.1,421.5 L1098.5,421.3 L1098.9,421.1 L1099.2,420.8 L1099.6,420.5 L1100.0,420.2 L1100.4,419.9 L1100.8,419.6 L1101.2,419.3 L1101.7,419.0 L1102.1,418.6 L1102.5,418.3 L1102.9,417.9 L1103.3,417.5 L1103.7,417.1 L1104.2,416.8 L1104.6,416.4 L1105.0,416.0 L1105.4,415.6 L1105.8,415.2 L1106.3,414.9 L1106.7,414.5 L1107.1,414.1 L1107.5,413.7 L1107.9,413.4 L1108.3,413.0 L1108.8,412.7 L1109.2,412.4 L1109.6,412.1 L1110.0,411.8 L1110.4,411.5 L1110.8,411.2 L1111.1,410.9 L1111.5,410.7 L1111.9,410.5 L1112.3,410.3 L1112.7,410.1 L1113.0,409.9 L1113.4,409.8 L1113.8,409.7 L1114.1,409.6 L1114.5,409.5 L1114.8,409.4 L1115.2,409.4 L1115.5,409.4 L1115.8,409.4 L1116.2,409.4 L1116.5,409.5 L1116.8,409.6 L1117.1,409.7 L1117.4,409.8 L1117.7,409.9 L1118.0,410.1 L1118.3,410.3 L1118.6,410.5 L1118.9,410.7 L1119.1,410.9 L1119.4,411.2 L1119.7,411.5 L1120.0,411.8 L1120.2,412.1 L1120.5,412.4 L1120.8,412.7 L1121.0,413.0 L1121.3,413.4 L1121.5,413.7 L1121.8,414.1 L1122.0,414.5 L1122.3,414.9 L1122.5,415.2 L1122.8,415.6 L1123.0,416.0 L1123.2,416.4 L1123.5,416.8 L1123.7,417.1 L1124.0,417.5 L1124.2,417.9 L1124.5,418.3 L1124.7,418.6 L1125.0,419.0 L1125.2,419.3 L1125.5,419.6 L1125.8,419.9 L1126.0,420.2 L1126.3,420.5 L1126.6,420.8 L1126.9,421.1 L1127.1,421.3 L1127.4,421.5 L1127.7,421.7 L1128.0,421.9 L1128.3,422.1 L1128.6,422.2 L1128.9,422.3 L1129.2,422.4 L1129.5,422.5 L1129.8,422.6 L1130.2,422.6 L1130.5,422.6 L1130.8,422.6 L1131.2,422.6 L1131.5,422.5 L1131.9,422.4 L1132.2,422.3 L1132.6,422.2 L1133.0,422.1 L1133.3,421.9 L1133.7,421.7 L1134.1,421.5 L1134.5,421.3 L1134.9,421.1 L1135.2,420.8 L1135.6,420.5 L1136.0,420.2 L1136.4,419.9 L1136.8,419.6 L1137.2,419.3 L1137.7,419.0 L1138.1,418.6 L1138.5,418.3 L1138.9,417.9 L1139.3,417.5 L1139.7,417.1 L1140.2,416.8 L1140.6,416.4 L1141.0,416.0 L1141.4,415.6 L1141.8,415.2 L1142.3,414.9 L1142.7,414.5 L1143.1,414.1 L1143.5,413.7 L1143.9,413.4 L1144.3,413.0 L1144.8,412.7 L1145.2,412.4 L1145.6,412.1 L1146.0,411.8 L1146.4,411.5 L1146.8,411.2 L1147.1,410.9 L1147.5,410.7 L1147.9,410.5 L1148.3,410.3 L1148.7,410.1 L1149.0,409.9 L1149.4,409.8 L1149.8,409.7 L1150.1,409.6 L1150.5,409.5 L1150.8,409.4 L1151.2,409.4 L1151.5,409.4 L1151.8,409.4 L1152.2,409.4 L1152.5,409.5 L1152.8,409.6 L1153.1,409.7 L1153.4,409.8 L1153.7,409.9 L1154.0,410.1 L1154.3,410.3 L1154.6,410.5 L1154.9,410.7 L1155.1,410.9 L1155.4,411.2 L1155.7,411.5 L1156.0,411.8 L1156.2,412.1 L1156.5,412.4 L1156.8,412.7 L1157.0,413.0 L1157.3,413.4 L1157.5,413.7 L1157.8,414.1 L1158.0,414.5 L1158.3,414.9 L1158.5,415.2 L1158.8,415.6 L1159.0,416.0 L1159.2,416.4 L1159.5,416.8 L1159.7,417.1 L1160.0,417.5 L1160.2,417.9 L1160.5,418.3 L1160.7,418.6 L1161.0,419.0 L1161.2,419.3 L1161.5,419.6 L1161.8,419.9 L1162.0,420.2 L1162.3,420.5 L1162.6,420.8 L1162.9,421.1 L1163.1,421.3 L1163.4,421.5 L1163.7,421.7 L1164.0,421.9 L1164.3,422.1 L1164.6,422.2 L1164.9,422.3 L1165.2,422.4 L1165.5,422.5 L1165.8,422.6 L1166.2,422.6 L1166.5,422.6 L1166.8,422.6 L1167.2,422.6 L1167.5,422.5 L1167.9,422.4 L1168.2,422.3 L1168.6,422.2 L1169.0,422.1 L1169.3,421.9 L1169.7,421.7 L1170.1,421.5 L1170.5,421.3 L1170.9,421.1 L1171.2,420.8 L1171.6,420.5 L1172.0,420.2 L1172.4,419.9 L1172.8,419.6 L1173.2,419.3 L1173.7,419.0 L1174.1,418.6 L1174.5,418.3 L1174.9,417.9 L1175.3,417.5 L1175.7,417.1 L1176.2,416.8 L1176.6,416.4 L1177.0,416.0 L1177.4,415.6 L1177.8,415.2 L1178.3,414.9 L1178.7,414.5 L1179.1,414.1 L1179.5,413.7 L1179.9,413.4 L1180.3,413.0 L1180.8,412.7 L1181.2,412.4 L1181.6,412.1 L1182.0,411.8 L1182.4,411.5 L1182.8,411.2 L1183.1,410.9 L1183.5,410.7 L1183.9,410.5 L1184.3,410.3 L1184.7,410.1 L1185.0,409.9 L1185.4,409.8 L1185.8,409.7 L1186.1,409.6 L1186.5,409.5 L1186.8,409.4 L1187.2,409.4 L1187.5,409.4 L1187.8,409.4 L1188.2,409.4 L1188.5,409.5 L1188.8,409.6 L1189.1,409.7 L1189.4,409.8 L1189.7,409.9 L1190.0,410.1 L1190.3,410.3 L1190.6,410.5 L1190.9,410.7 L1191.1,410.9 L1191.4,411.2 L1191.7,411.5 L1192.0,411.8 L1192.2,412.1 L1192.5,412.4 L1192.8,412.7 L1193.0,413.0 L1193.3,413.4 L1193.5,413.7 L1193.8,414.1 L1194.0,414.5 L1194.3,414.9 L1194.5,415.2 L1194.8,415.6 L1195.0,416.0 L1195.2,416.4 L1195.5,416.8 L1195.7,417.1 L1196.0,417.5 L1196.2,417.9 L1196.5,418.3 L1196.7,418.6 L1197.0,419.0 L1197.2,419.3 L1197.5,419.6 L1197.8,419.9 L1198.0,420.2 L1198.3,420.5 L1198.6,420.8 L1198.9,421.1 L1199.1,421.3 L1199.4,421.5 L1199.7,421.7 L1200.0,421.9 L1200.3,422.1 L1200.6,422.2 L1200.9,422.3 L1201.2,422.4 L1201.5,422.5 L1201.8,422.6 L1202.2,422.6 L1202.5,422.6 L1202.8,422.6 L1203.2,422.6 L1203.5,422.5 L1203.9,422.4 L1204.2,422.3 L1204.6,422.2 L1205.0,422.1 L1205.3,421.9 L1205.7,421.7 L1206.1,421.5 L1206.5,421.3 L1206.9,421.1 L1207.2,420.8 L1207.6,420.5 L1208.0,420.2 L1208.4,419.9 L1208.8,419.6 L1209.2,419.3 L1209.7,419.0 L1210.1,418.6 L1210.5,418.3 L1210.9,417.9 L1211.3,417.5 L1211.7,417.1 L1212.2,416.8 L1212.6,416.4 L1213.0,416.0 L1213.4,415.6 L1213.8,415.2 L1214.3,414.9 L1214.7,414.5 L1215.1,414.1 L1215.5,413.7 L1215.9,413.4 L1216.3,413.0 L1216.8,412.7 L1217.2,412.4 L1217.6,412.1 L1218.0,411.8 L1218.4,411.5 L1218.8,411.2 L1219.1,410.9 L1219.5,410.7 L1219.9,410.5 L1220.3,410.3 L1220.7,410.1 L1221.0,409.9 L1221.4,409.8 L1221.8,409.7 L1222.1,409.6 L1222.5,409.5 L1222.8,409.4 L1223.2,409.4 L1223.5,409.4 L1223.8,409.4 L1224.2,409.4 L1224.5,409.5 L1224.8,409.6 L1225.1,409.7 L1225.4,409.8 L1225.7,409.9 L1226.0,410.1 L1226.3,410.3 L1226.6,410.5 L1226.9,410.7 L1227.1,410.9 L1227.4,411.2 L1227.7,411.5 L1228.0,411.8 L1228.0,412.1 L1228.0,412.4 L1228.0,412.7 L1228.0,413.0 L1228.0,413.4 L1228.0,413.7 L1228.0,414.1 L1228.0,414.5 L1228.0,414.9 L1228.0,415.2 L1228.0,415.6 L1228.0,416.0 L1228.0,416.4 L1228.0,416.8 L1228.0,417.1 L1228.0,417.5 L1228.0,417.9 L1228.0,418.3 L1228.0,418.6 L1228.0,419.0 L1228.0,419.3 L1228.0,419.6 L1228.0,419.9 L1228.0,420.2 L1228.0,420.5 L1228.0,420.8 L1228.0,421.1 L1228.0,421.3 L1228.0,421.5 L1228.0,421.7 L1228.0,421.9 L1228.0,422.1 L1228.0,422.2 L1228.0,422.3 L1228.0,422.4 L1228.0,422.5 L1228.0,422.6 L1228.0,422.6 L1228.0,422.6 L1228.0,422.6 L1228.0,422.6 L1228.0,422.5 L1228.0,422.4" fill="none" stroke="#244a9e" stroke-width="3.2" stroke-linejoin="round"/>
<path d="M979.0,411.8 L979.0,412.1 L979.0,412.4 L979.0,412.7 L979.0,413.1 L979.0,413.4 L979.0,413.8 L979.0,414.1 L979.0,414.5 L979.0,414.9 L979.0,415.3 L979.0,415.6 L979.0,416.0 L979.0,416.4 L979.0,416.8 L979.0,417.2 L979.0,417.6 L979.0,417.9 L979.0,418.3 L979.0,418.6 L979.0,419.0 L979.0,419.3 L979.0,419.7 L979.0,420.0 L979.0,420.3 L979.0,420.6 L979.0,420.8 L979.0,421.1 L979.0,421.3 L979.0,421.5 L979.0,421.7 L979.0,421.9 L979.0,422.1 L979.0,422.2 L979.0,422.3 L979.0,422.4 L979.0,422.5 L979.0,422.6 L979.0,422.6 L979.0,422.6 L979.0,422.6 L979.0,422.6 L979.0,422.5 L979.0,422.4 L979.0,422.3 L979.3,422.2 L979.6,422.0 L980.0,421.9 L980.4,421.7 L980.8,421.5 L981.1,421.3 L981.5,421.0 L981.9,420.8 L982.3,420.5 L982.7,420.2 L983.1,419.9 L983.5,419.6 L983.9,419.3 L984.3,418.9 L984.7,418.6 L985.2,418.2 L985.6,417.9 L986.0,417.5 L986.4,417.1 L986.8,416.7 L987.3,416.4 L987.7,416.0 L988.1,415.6 L988.5,415.2 L988.9,414.8 L989.4,414.4 L989.8,414.1 L990.2,413.7 L990.6,413.4 L991.0,413.0 L991.4,412.7 L991.8,412.3 L992.2,412.0 L992.6,411.7 L993.0,411.4 L993.4,411.2 L993.8,410.9 L994.2,410.7 L994.6,410.5 L995.0,410.3 L995.3,410.1 L995.7,409.9 L996.1,409.8 L996.4,409.7 L996.8,409.6 L997.1,409.5 L997.5,409.4 L997.8,409.4 L998.2,409.4 L998.5,409.4 L998.8,409.4 L999.1,409.5 L999.5,409.6 L999.8,409.7 L1000.1,409.8 L1000.4,410.0 L1000.7,410.1 L1001.0,410.3 L1001.2,410.5 L1001.5,410.7 L1001.8,411.0 L1002.1,411.2 L1002.4,411.5 L1002.6,411.8 L1002.9,412.1 L1003.2,412.4 L1003.4,412.7 L1003.7,413.1 L1003.9,413.4 L1004.2,413.8 L1004.4,414.1 L1004.7,414.5 L1004.9,414.9 L1005.2,415.3 L1005.4,415.6 L1005.7,416.0 L1005.9,416.4 L1006.2,416.8 L1006.4,417.2 L1006.6,417.6 L1006.9,417.9 L1007.1,418.3 L1007.4,418.6 L1007.7,419.0 L1007.9,419.3 L1008.2,419.7 L1008.4,420.0 L1008.7,420.3 L1009.0,420.6 L1009.2,420.8 L1009.5,421.1 L1009.8,421.3 L1010.1,421.5 L1010.4,421.7 L1010.7,421.9 L1011.0,422.1 L1011.3,422.2 L1011.6,422.3 L1011.9,422.4 L1012.2,422.5 L1012.5,422.6 L1012.8,422.6 L1013.2,422.6 L1013.5,422.6 L1013.8,422.6 L1014.2,422.5 L1014.5,422.4 L1014.9,422.3 L1015.3,422.2 L1015.6,422.0 L1016.0,421.9 L1016.4,421.7 L1016.8,421.5 L1017.1,421.3 L1017.5,421.0 L1017.9,420.8 L1018.3,420.5 L1018.7,420.2 L1019.1,419.9 L1019.5,419.6 L1019.9,419.3 L1020.3,418.9 L1020.7,418.6 L1021.2,418.2 L1021.6,417.9 L1022.0,417.5 L1022.4,417.1 L1022.8,416.7 L1023.3,416.4 L1023.7,416.0 L1024.1,415.6 L1024.5,415.2 L1024.9,414.8 L1025.4,414.4 L1025.8,414.1 L1026.2,413.7 L1026.6,413.4 L1027.0,413.0 L1027.4,412.7 L1027.8,412.3 L1028.2,412.0 L1028.6,411.7 L1029.0,411.4 L1029.4,411.2 L1029.8,410.9 L1030.2,410.7 L1030.6,410.5 L1031.0,410.3 L1031.3,410.1 L1031.7,409.9 L1032.1,409.8 L1032.4,409.7 L1032.8,409.6 L1033.1,409.5 L1033.5,409.4 L1033.8,409.4 L1034.2,409.4 L1034.5,409.4 L1034.8,409.4 L1035.1,409.5 L1035.5,409.6 L1035.8,409.7 L1036.1,409.8 L1036.4,410.0 L1036.7,410.1 L1037.0,410.3 L1037.2,410.5 L1037.5,410.7 L1037.8,411.0 L1038.1,411.2 L1038.4,411.5 L1038.6,411.8 L1038.9,412.1 L1039.2,412.4 L1039.4,412.7 L1039.7,413.1 L1039.9,413.4 L1040.2,413.8 L1040.4,414.1 L1040.7,414.5 L1040.9,414.9 L1041.2,415.3 L1041.4,415.6 L1041.7,416.0 L1041.9,416.4 L1042.2,416.8 L1042.4,417.2 L1042.6,417.6 L1042.9,417.9 L1043.1,418.3 L1043.4,418.6 L1043.7,419.0 L1043.9,419.3 L1044.2,419.7 L1044.4,420.0 L1044.7,420.3 L1045.0,420.6 L1045.2,420.8 L1045.5,421.1 L1045.8,421.3 L1046.1,421.5 L1046.4,421.7 L1046.7,421.9 L1047.0,422.1 L1047.3,422.2 L1047.6,422.3 L1047.9,422.4 L1048.2,422.5 L1048.5,422.6 L1048.8,422.6 L1049.2,422.6 L1049.5,422.6 L1049.8,422.6 L1050.2,422.5 L1050.5,422.4 L1050.9,422.3 L1051.3,422.2 L1051.6,422.0 L1052.0,421.9 L1052.4,421.7 L1052.8,421.5 L1053.1,421.3 L1053.5,421.0 L1053.9,420.8 L1054.3,420.5 L1054.7,420.2 L1055.1,419.9 L1055.5,419.6 L1055.9,419.3 L1056.3,418.9 L1056.7,418.6 L1057.2,418.2 L1057.6,417.9 L1058.0,417.5 L1058.4,417.1 L1058.8,416.7 L1059.3,416.4 L1059.7,416.0 L1060.1,415.6 L1060.5,415.2 L1060.9,414.8 L1061.4,414.4 L1061.8,414.1 L1062.2,413.7 L1062.6,413.4 L1063.0,413.0 L1063.4,412.7 L1063.8,412.3 L1064.2,412.0 L1064.6,411.7 L1065.0,411.4 L1065.4,411.2 L1065.8,410.9 L1066.2,410.7 L1066.6,410.5 L1067.0,410.3 L1067.3,410.1 L1067.7,409.9 L1068.1,409.8 L1068.4,409.7 L1068.8,409.6 L1069.1,409.5 L1069.5,409.4 L1069.8,409.4 L1070.2,409.4 L1070.5,409.4 L1070.8,409.4 L1071.1,409.5 L1071.5,409.6 L1071.8,409.7 L1072.1,409.8 L1072.4,410.0 L1072.7,410.1 L1073.0,410.3 L1073.2,410.5 L1073.5,410.7 L1073.8,411.0 L1074.1,411.2 L1074.4,411.5 L1074.6,411.8 L1074.9,412.1 L1075.2,412.4 L1075.4,412.7 L1075.7,413.1 L1075.9,413.4 L1076.2,413.8 L1076.4,414.1 L1076.7,414.5 L1076.9,414.9 L1077.2,415.3 L1077.4,415.6 L1077.7,416.0 L1077.9,416.4 L1078.2,416.8 L1078.4,417.2 L1078.6,417.6 L1078.9,417.9 L1079.1,418.3 L1079.4,418.6 L1079.7,419.0 L1079.9,419.3 L1080.2,419.7 L1080.4,420.0 L1080.7,420.3 L1081.0,420.6 L1081.2,420.8 L1081.5,421.1 L1081.8,421.3 L1082.1,421.5 L1082.4,421.7 L1082.7,421.9 L1083.0,422.1 L1083.3,422.2 L1083.6,422.3 L1083.9,422.4 L1084.2,422.5 L1084.5,422.6 L1084.8,422.6 L1085.2,422.6 L1085.5,422.6 L1085.8,422.6 L1086.2,422.5 L1086.5,422.4 L1086.9,422.3 L1087.3,422.2 L1087.6,422.0 L1088.0,421.9 L1088.4,421.7 L1088.8,421.5 L1089.1,421.3 L1089.5,421.0 L1089.9,420.8 L1090.3,420.5 L1090.7,420.2 L1091.1,419.9 L1091.5,419.6 L1091.9,419.3 L1092.3,418.9 L1092.7,418.6 L1093.2,418.2 L1093.6,417.9 L1094.0,417.5 L1094.4,417.1 L1094.8,416.7 L1095.3,416.4 L1095.7,416.0 L1096.1,415.6 L1096.5,415.2 L1096.9,414.8 L1097.4,414.4 L1097.8,414.1 L1098.2,413.7 L1098.6,413.4 L1099.0,413.0 L1099.4,412.7 L1099.8,412.3 L1100.2,412.0 L1100.6,411.7 L1101.0,411.4 L1101.4,411.2 L1101.8,410.9 L1102.2,410.7 L1102.6,410.5 L1103.0,410.3 L1103.3,410.1 L1103.7,409.9 L1104.1,409.8 L1104.4,409.7 L1104.8,409.6 L1105.1,409.5 L1105.5,409.4 L1105.8,409.4 L1106.2,409.4 L1106.5,409.4 L1106.8,409.4 L1107.1,409.5 L1107.5,409.6 L1107.8,409.7 L1108.1,409.8 L1108.4,410.0 L1108.7,410.1 L1109.0,410.3 L1109.2,410.5 L1109.5,410.7 L1109.8,411.0 L1110.1,411.2 L1110.4,411.5 L1110.6,411.8 L1110.9,412.1 L1111.2,412.4 L1111.4,412.7 L1111.7,413.1 L1111.9,413.4 L1112.2,413.8 L1112.4,414.1 L1112.7,414.5 L1112.9,414.9 L1113.2,415.3 L1113.4,415.6 L1113.7,416.0 L1113.9,416.4 L1114.2,416.8 L1114.4,417.2 L1114.6,417.6 L1114.9,417.9 L1115.1,418.3 L1115.4,418.6 L1115.7,419.0 L1115.9,419.3 L1116.2,419.7 L1116.4,420.0 L1116.7,420.3 L1117.0,420.6 L1117.2,420.8 L1117.5,421.1 L1117.8,421.3 L1118.1,421.5 L1118.4,421.7 L1118.7,421.9 L1119.0,422.1 L1119.3,422.2 L1119.6,422.3 L1119.9,422.4 L1120.2,422.5 L1120.5,422.6 L1120.8,422.6 L1121.2,422.6 L1121.5,422.6 L1121.8,422.6 L1122.2,422.5 L1122.5,422.4 L1122.9,422.3 L1123.3,422.2 L1123.6,422.0 L1124.0,421.9 L1124.4,421.7 L1124.8,421.5 L1125.1,421.3 L1125.5,421.0 L1125.9,420.8 L1126.3,420.5 L1126.7,420.2 L1127.1,419.9 L1127.5,419.6 L1127.9,419.3 L1128.3,418.9 L1128.7,418.6 L1129.2,418.2 L1129.6,417.9 L1130.0,417.5 L1130.4,417.1 L1130.8,416.7 L1131.3,416.4 L1131.7,416.0 L1132.1,415.6 L1132.5,415.2 L1132.9,414.8 L1133.4,414.4 L1133.8,414.1 L1134.2,413.7 L1134.6,413.4 L1135.0,413.0 L1135.4,412.7 L1135.8,412.3 L1136.2,412.0 L1136.6,411.7 L1137.0,411.4 L1137.4,411.2 L1137.8,410.9 L1138.2,410.7 L1138.6,410.5 L1139.0,410.3 L1139.3,410.1 L1139.7,409.9 L1140.1,409.8 L1140.4,409.7 L1140.8,409.6 L1141.1,409.5 L1141.5,409.4 L1141.8,409.4 L1142.2,409.4 L1142.5,409.4 L1142.8,409.4 L1143.1,409.5 L1143.5,409.6 L1143.8,409.7 L1144.1,409.8 L1144.4,410.0 L1144.7,410.1 L1145.0,410.3 L1145.2,410.5 L1145.5,410.7 L1145.8,411.0 L1146.1,411.2 L1146.4,411.5 L1146.6,411.8 L1146.9,412.1 L1147.2,412.4 L1147.4,412.7 L1147.7,413.1 L1147.9,413.4 L1148.2,413.8 L1148.4,414.1 L1148.7,414.5 L1148.9,414.9 L1149.2,415.3 L1149.4,415.6 L1149.7,416.0 L1149.9,416.4 L1150.2,416.8 L1150.4,417.2 L1150.6,417.6 L1150.9,417.9 L1151.1,418.3 L1151.4,418.6 L1151.7,419.0 L1151.9,419.3 L1152.2,419.7 L1152.4,420.0 L1152.7,420.3 L1153.0,420.6 L1153.2,420.8 L1153.5,421.1 L1153.8,421.3 L1154.1,421.5 L1154.4,421.7 L1154.7,421.9 L1155.0,422.1 L1155.3,422.2 L1155.6,422.3 L1155.9,422.4 L1156.2,422.5 L1156.5,422.6 L1156.8,422.6 L1157.2,422.6 L1157.5,422.6 L1157.8,422.6 L1158.2,422.5 L1158.5,422.4 L1158.9,422.3 L1159.3,422.2 L1159.6,422.0 L1160.0,421.9 L1160.4,421.7 L1160.8,421.5 L1161.1,421.3 L1161.5,421.0 L1161.9,420.8 L1162.3,420.5 L1162.7,420.2 L1163.1,419.9 L1163.5,419.6 L1163.9,419.3 L1164.3,418.9 L1164.7,418.6 L1165.2,418.2 L1165.6,417.9 L1166.0,417.5 L1166.4,417.1 L1166.8,416.7 L1167.3,416.4 L1167.7,416.0 L1168.1,415.6 L1168.5,415.2 L1168.9,414.8 L1169.4,414.4 L1169.8,414.1 L1170.2,413.7 L1170.6,413.4 L1171.0,413.0 L1171.4,412.7 L1171.8,412.3 L1172.2,412.0 L1172.6,411.7 L1173.0,411.4 L1173.4,411.2 L1173.8,410.9 L1174.2,410.7 L1174.6,410.5 L1175.0,410.3 L1175.3,410.1 L1175.7,409.9 L1176.1,409.8 L1176.4,409.7 L1176.8,409.6 L1177.1,409.5 L1177.5,409.4 L1177.8,409.4 L1178.2,409.4 L1178.5,409.4 L1178.8,409.4 L1179.1,409.5 L1179.5,409.6 L1179.8,409.7 L1180.1,409.8 L1180.4,410.0 L1180.7,410.1 L1181.0,410.3 L1181.2,410.5 L1181.5,410.7 L1181.8,411.0 L1182.1,411.2 L1182.4,411.5 L1182.6,411.8 L1182.9,412.1 L1183.2,412.4 L1183.4,412.7 L1183.7,413.1 L1183.9,413.4 L1184.2,413.8 L1184.4,414.1 L1184.7,414.5 L1184.9,414.9 L1185.2,415.3 L1185.4,415.6 L1185.7,416.0 L1185.9,416.4 L1186.2,416.8 L1186.4,417.2 L1186.6,417.6 L1186.9,417.9 L1187.1,418.3 L1187.4,418.6 L1187.7,419.0 L1187.9,419.3 L1188.2,419.7 L1188.4,420.0 L1188.7,420.3 L1189.0,420.6 L1189.2,420.8 L1189.5,421.1 L1189.8,421.3 L1190.1,421.5 L1190.4,421.7 L1190.7,421.9 L1191.0,422.1 L1191.3,422.2 L1191.6,422.3 L1191.9,422.4 L1192.2,422.5 L1192.5,422.6 L1192.8,422.6 L1193.2,422.6 L1193.5,422.6 L1193.8,422.6 L1194.2,422.5 L1194.5,422.4 L1194.9,422.3 L1195.3,422.2 L1195.6,422.0 L1196.0,421.9 L1196.4,421.7 L1196.8,421.5 L1197.1,421.3 L1197.5,421.0 L1197.9,420.8 L1198.3,420.5 L1198.7,420.2 L1199.1,419.9 L1199.5,419.6 L1199.9,419.3 L1200.3,418.9 L1200.7,418.6 L1201.2,418.2 L1201.6,417.9 L1202.0,417.5 L1202.4,417.1 L1202.8,416.7 L1203.3,416.4 L1203.7,416.0 L1204.1,415.6 L1204.5,415.2 L1204.9,414.8 L1205.4,414.4 L1205.8,414.1 L1206.2,413.7 L1206.6,413.4 L1207.0,413.0 L1207.4,412.7 L1207.8,412.3 L1208.2,412.0 L1208.6,411.7 L1209.0,411.4 L1209.4,411.2 L1209.8,410.9 L1210.2,410.7 L1210.6,410.5 L1211.0,410.3 L1211.3,410.1 L1211.7,409.9 L1212.1,409.8 L1212.4,409.7 L1212.8,409.6 L1213.1,409.5 L1213.5,409.4 L1213.8,409.4 L1214.2,409.4 L1214.5,409.4 L1214.8,409.4 L1215.1,409.5 L1215.5,409.6 L1215.8,409.7 L1216.1,409.8 L1216.4,410.0 L1216.7,410.1 L1217.0,410.3 L1217.2,410.5 L1217.5,410.7 L1217.8,411.0 L1218.1,411.2 L1218.4,411.5 L1218.6,411.8 L1218.9,412.1 L1219.2,412.4 L1219.4,412.7 L1219.7,413.1 L1219.9,413.4 L1220.2,413.8 L1220.4,414.1 L1220.7,414.5 L1220.9,414.9 L1221.2,415.3 L1221.4,415.6 L1221.7,416.0 L1221.9,416.4 L1222.2,416.8 L1222.4,417.2 L1222.6,417.6 L1222.9,417.9 L1223.1,418.3 L1223.4,418.6 L1223.7,419.0 L1223.9,419.3 L1224.2,419.7 L1224.4,420.0 L1224.7,420.3 L1225.0,420.6 L1225.2,420.8 L1225.5,421.1 L1225.8,421.3 L1226.1,421.5 L1226.4,421.7 L1226.7,421.9 L1227.0,422.1 L1227.3,422.2 L1227.6,422.3 L1227.9,422.4 L1228.0,422.5 L1228.0,422.6 L1228.0,422.6 L1228.0,422.6 L1228.0,422.6 L1228.0,422.6 L1228.0,422.5 L1228.0,422.4 L1228.0,422.3 L1228.0,422.2 L1228.0,422.0 L1228.0,421.9 L1228.0,421.7 L1228.0,421.5 L1228.0,421.3 L1228.0,421.0 L1228.0,420.8 L1228.0,420.5 L1228.0,420.2 L1228.0,419.9 L1228.0,419.6 L1228.0,419.3 L1228.0,418.9 L1228.0,418.6 L1228.0,418.2 L1228.0,417.9 L1228.0,417.5 L1228.0,417.1 L1228.0,416.7 L1228.0,416.4 L1228.0,416.0 L1228.0,415.6 L1228.0,415.2 L1228.0,414.8 L1228.0,414.4 L1228.0,414.1" fill="none" stroke="#193585" stroke-width="3.2" stroke-linejoin="round"/>
<path d="M1055,410 L1055,377 Q1055,365.4 1066,365.4 L1140,365.4" fill="none" stroke="#222" stroke-width="2.6"/>
<path d="M1150.0,365.4 L1138.0,371.6 L1138.0,359.1 Z" fill="#222"/>
<line x1="1073.0" y1="342.1" x2="1100.6" y2="388.1" stroke="#d22c2c" stroke-width="2.6" stroke-linecap="butt"/>
<line x1="1099.2" y1="342.1" x2="1073.9" y2="388.1" stroke="#d22c2c" stroke-width="2.6" stroke-linecap="butt"/>
<text x="1192.5" y="401.7" font-size="16" font-weight="400" fill="#111" text-anchor="middle">Type-I IFNs</text>
<rect x="549" y="459.5" width="700" height="398.5" fill="#f3f6fc"/>
<g clip-path="url(#clip459)">
<path d="M520.5,877.8 C767.2,695.6 1013.8,675.7 1260.5,704.8 L1260,868.0 L520,868.0 Z" fill="#e3eef5"/>
<path d="M520.5,877.8 C767.2,695.6 1013.8,675.7 1260.5,704.8" fill="none" stroke="#a5b2bf" stroke-width="8" stroke-linecap="round" stroke-dasharray="48.4 18.8" stroke-dashoffset="-10"/>
<path d="M520.5,877.8 C767.2,695.6 1013.8,675.7 1260.5,704.8" fill="none" stroke="#ddebf7" stroke-width="5" stroke-linecap="round" stroke-dasharray="48.4 18.8" stroke-dashoffset="-10"/>
</g>
<rect x="549" y="459.5" width="700" height="398.5" fill="none" stroke="#111" stroke-width="2"/>
<path d="M-48,-4.5 Q0,3.8 48,-4.5 Q51.5,-5 51,-1 C48,16 28,29.2 0,29.2 C-28,29.2 -48,16 -51,-1 Q-51.5,-5 -48,-4.5 Z" transform="translate(675.4,515.1)" fill="#eef5e8" stroke="#8fa67f" stroke-width="1.6"/>
<line x1="634.2" y1="503.4" x2="635.2" y2="500.8" stroke="#d0454a" stroke-width="0.9"/>
<line x1="636.2" y1="506.2" x2="638.4" y2="499.9" stroke="#2f6fae" stroke-width="0.9"/>
<line x1="638.9" y1="507.0" x2="640.9" y2="500.8" stroke="#d0454a" stroke-width="0.9"/>
<line x1="642.2" y1="505.9" x2="642.9" y2="503.6" stroke="#2f6fae" stroke-width="0.9"/>
<line x1="645.6" y1="504.0" x2="644.7" y2="507.0" stroke="#d0454a" stroke-width="0.9"/>
<line x1="648.6" y1="502.9" x2="646.9" y2="509.5" stroke="#2f6fae" stroke-width="0.9"/>
<line x1="651.1" y1="503.8" x2="649.7" y2="509.9" stroke="#d0454a" stroke-width="0.9"/>
<line x1="653.2" y1="506.5" x2="652.8" y2="508.4" stroke="#2f6fae" stroke-width="0.9"/>
<line x1="655.3" y1="509.7" x2="655.9" y2="506.3" stroke="#d0454a" stroke-width="0.9"/>
<line x1="657.7" y1="511.9" x2="658.8" y2="505.0" stroke="#2f6fae" stroke-width="0.9"/>
<line x1="660.4" y1="511.9" x2="661.3" y2="505.8" stroke="#d0454a" stroke-width="0.9"/>
<line x1="663.4" y1="510.0" x2="663.6" y2="508.4" stroke="#2f6fae" stroke-width="0.9"/>
<line x1="666.3" y1="507.6" x2="665.9" y2="511.4" stroke="#d0454a" stroke-width="0.9"/>
<line x1="669.0" y1="506.3" x2="668.5" y2="513.2" stroke="#2f6fae" stroke-width="0.9"/>
<line x1="671.5" y1="507.0" x2="671.2" y2="512.9" stroke="#d0454a" stroke-width="0.9"/>
<line x1="674.0" y1="509.4" x2="674.0" y2="510.6" stroke="#2f6fae" stroke-width="0.9"/>
<line x1="676.6" y1="512.2" x2="676.7" y2="508.0" stroke="#d0454a" stroke-width="0.9"/>
<line x1="679.3" y1="513.6" x2="679.2" y2="506.6" stroke="#2f6fae" stroke-width="0.9"/>
<line x1="682.0" y1="512.9" x2="681.8" y2="507.2" stroke="#d0454a" stroke-width="0.9"/>
<line x1="684.6" y1="510.3" x2="684.5" y2="509.5" stroke="#2f6fae" stroke-width="0.9"/>
<line x1="687.0" y1="507.5" x2="687.4" y2="512.0" stroke="#d0454a" stroke-width="0.9"/>
<line x1="689.5" y1="506.0" x2="690.2" y2="513.1" stroke="#2f6fae" stroke-width="0.9"/>
<line x1="692.2" y1="506.5" x2="692.8" y2="511.9" stroke="#d0454a" stroke-width="0.9"/>
<line x1="695.1" y1="508.7" x2="695.2" y2="509.1" stroke="#2f6fae" stroke-width="0.9"/>
<line x1="698.2" y1="510.8" x2="697.4" y2="506.1" stroke="#d0454a" stroke-width="0.9"/>
<line x1="701.1" y1="511.5" x2="699.8" y2="504.5" stroke="#2f6fae" stroke-width="0.9"/>
<line x1="703.6" y1="510.0" x2="702.6" y2="505.0" stroke="#d0454a" stroke-width="0.9"/>
<line x1="705.8" y1="506.9" x2="705.8" y2="506.9" stroke="#2f6fae" stroke-width="0.9"/>
<line x1="707.8" y1="503.8" x2="709.0" y2="508.7" stroke="#d0454a" stroke-width="0.9"/>
<line x1="710.1" y1="502.1" x2="712.0" y2="509.0" stroke="#2f6fae" stroke-width="0.9"/>
<line x1="713.1" y1="502.5" x2="714.4" y2="507.1" stroke="#d0454a" stroke-width="0.9"/>
<line x1="716.5" y1="504.1" x2="716.3" y2="503.7" stroke="#2f6fae" stroke-width="0.9"/>
<line x1="719.9" y1="505.6" x2="718.2" y2="500.5" stroke="#d0454a" stroke-width="0.9"/>
<path d="M633.4,501.6 L633.8,502.7 L634.2,503.8 L634.7,504.8 L635.2,505.7 L635.7,506.4 L636.4,507.0 L637.1,507.4 L637.8,507.6 L638.7,507.6 L639.5,507.4 L640.5,507.0 L641.4,506.5 L642.4,505.9 L643.4,505.3 L644.3,504.6 L645.3,503.9 L646.2,503.4 L647.1,502.9 L648.0,502.5 L648.8,502.3 L649.5,502.3 L650.2,502.5 L650.8,502.9 L651.4,503.5 L652.0,504.2 L652.6,505.1 L653.1,506.0 L653.6,507.0 L654.2,508.1 L654.7,509.1 L655.3,510.1 L655.9,511.0 L656.5,511.7 L657.2,512.2 L657.9,512.6 L658.6,512.8 L659.4,512.7 L660.2,512.5 L661.0,512.1 L661.8,511.5 L662.7,510.8 L663.5,510.0 L664.4,509.2 L665.2,508.4 L666.0,507.6 L666.8,506.9 L667.5,506.3 L668.3,505.9 L669.0,505.7 L669.7,505.6 L670.4,505.8 L671.1,506.1 L671.8,506.6 L672.4,507.3 L673.1,508.1 L673.8,509.0 L674.5,509.9 L675.2,510.9 L675.9,511.8 L676.6,512.6 L677.4,513.3 L678.1,513.8 L678.9,514.1 L679.6,514.3 L680.4,514.2 L681.1,514.0 L681.8,513.5 L682.6,512.9 L683.3,512.1 L684.0,511.3 L684.7,510.3 L685.3,509.4 L686.0,508.4 L686.6,507.5 L687.3,506.8 L688.0,506.1 L688.6,505.7 L689.3,505.4 L690.0,505.3 L690.7,505.4 L691.5,505.7 L692.3,506.2 L693.1,506.8 L693.9,507.5 L694.7,508.3 L695.6,509.1 L696.5,509.9 L697.3,510.6 L698.2,511.2 L699.0,511.7 L699.9,512.0 L700.7,512.1 L701.4,512.1 L702.2,511.8 L702.9,511.3 L703.5,510.7 L704.1,509.9 L704.7,509.0 L705.2,507.9 L705.8,506.9 L706.3,505.8 L706.8,504.8 L707.3,503.9 L707.9,503.0 L708.5,502.4 L709.1,501.9 L709.8,501.5 L710.5,501.4 L711.3,501.5 L712.1,501.7 L713.0,502.1 L713.9,502.6 L714.9,503.2 L715.9,503.8 L716.9,504.5 L718.0,505.1 L718.9,505.6 L719.9,506.0 L720.8,506.3 L721.7,506.4" fill="none" stroke="#d3262c" stroke-width="1.3"/>
<path d="M633.4,501.6 L634.4,501.0 L635.5,500.5 L636.4,500.0 L637.4,499.6 L638.2,499.4 L639.0,499.3 L639.8,499.4 L640.4,499.7 L641.1,500.2 L641.6,500.9 L642.1,501.7 L642.6,502.6 L643.1,503.7 L643.5,504.8 L644.0,505.9 L644.5,506.9 L645.0,507.9 L645.5,508.8 L646.1,509.5 L646.8,510.1 L647.5,510.4 L648.2,510.6 L649.0,510.6 L649.8,510.4 L650.7,510.0 L651.6,509.4 L652.5,508.8 L653.4,508.1 L654.3,507.3 L655.2,506.6 L656.1,505.9 L656.9,505.3 L657.7,504.8 L658.5,504.5 L659.2,504.4 L659.9,504.5 L660.6,504.7 L661.3,505.2 L661.9,505.8 L662.5,506.6 L663.1,507.5 L663.7,508.4 L664.3,509.4 L665.0,510.4 L665.6,511.4 L666.3,512.2 L666.9,512.9 L667.6,513.5 L668.4,513.8 L669.1,514.0 L669.9,513.9 L670.6,513.7 L671.4,513.2 L672.2,512.6 L672.9,511.9 L673.7,511.1 L674.5,510.2 L675.2,509.3 L676.0,508.4 L676.7,507.6 L677.4,507.0 L678.1,506.4 L678.8,506.1 L679.5,505.9 L680.2,505.9 L680.9,506.2 L681.6,506.6 L682.3,507.2 L683.1,507.9 L683.8,508.7 L684.6,509.5 L685.4,510.4 L686.2,511.3 L687.0,512.0 L687.8,512.7 L688.6,513.2 L689.4,513.5 L690.1,513.7 L690.9,513.6 L691.6,513.3 L692.3,512.9 L693.0,512.2 L693.7,511.5 L694.3,510.6 L694.9,509.6 L695.5,508.6 L696.1,507.5 L696.7,506.6 L697.3,505.7 L697.9,505.0 L698.5,504.4 L699.2,504.0 L699.9,503.8 L700.6,503.8 L701.4,504.0 L702.2,504.4 L703.0,504.8 L703.9,505.5 L704.8,506.2 L705.8,506.9 L706.7,507.6 L707.6,508.3 L708.6,508.8 L709.5,509.3 L710.4,509.6 L711.2,509.7 L712.0,509.6 L712.7,509.4 L713.4,508.9 L714.0,508.2 L714.6,507.4 L715.1,506.5 L715.6,505.4 L716.1,504.3 L716.5,503.2 L717.0,502.1 L717.5,501.1 L717.9,500.2 L718.5,499.4 L719.1,498.8" fill="none" stroke="#1f5f9e" stroke-width="1.3"/>
<text x="675.8" y="535.3" font-size="17" font-weight="400" fill="#111" text-anchor="middle">cGAS</text>
<line x1="741.8" y1="518.3" x2="822.0" y2="518.3" stroke="#222" stroke-width="2" stroke-linecap="butt"/>
<path d="M830.1,518.3 L820.6,522.8 L820.6,513.8 Z" fill="#222"/>
<line x1="768.9" y1="494.4" x2="796.6" y2="539.6" stroke="#d22c2c" stroke-width="2.6" stroke-linecap="butt"/>
<line x1="794.3" y1="494.4" x2="768.9" y2="539.6" stroke="#d22c2c" stroke-width="2.6" stroke-linecap="butt"/>
<path d="M850.5,514.8 L863.7,516.8 L860.1,529.4Z" fill="#dcf0cc" stroke="#5e8c45" stroke-width="1.3" stroke-linejoin="round"/>
<path d="M868.0,501.7 L885.5,506.0 L875.3,518.6Z" fill="#dcf0cc" stroke="#5e8c45" stroke-width="1.3" stroke-linejoin="round"/>
<path d="M892.8,513.3 L910.3,516.8 L899.5,529.4Z" fill="#dcf0cc" stroke="#5e8c45" stroke-width="1.3" stroke-linejoin="round"/>
<path d="M882.6,525.6 L890.5,541.9 L873.9,541.9Z" fill="#dcf0cc" stroke="#5e8c45" stroke-width="1.3" stroke-linejoin="round"/>
<text x="942.7" y="526.4" font-size="16" font-weight="400" fill="#111" text-anchor="middle">cGAS</text>
<line x1="677.0" y1="559.2" x2="677.0" y2="590.0" stroke="#222" stroke-width="2" stroke-linecap="butt"/>
<path d="M677.0,598.0 L672.2,588.5 L681.8,588.5 Z" fill="#222"/>
<rect x="672.2" y="610.4" width="10.5" height="21.8" fill="#f7f3e6" stroke="#a8802c" stroke-width="1.5"/>
<ellipse cx="663.5" cy="621" rx="9.7" ry="13.5" fill="#f5efcf" stroke="#a8862c" stroke-width="1.5"/>
<ellipse cx="691.2" cy="621" rx="9.9" ry="13.5" fill="#ecd7a6" stroke="#a8862c" stroke-width="1.5"/>
<text x="663.5" y="625.5" font-size="12" font-weight="400" fill="#111" text-anchor="middle">A</text>
<text x="691.2" y="625.5" font-size="12" font-weight="400" fill="#111" text-anchor="middle">G</text>
<rect x="626.6" y="633.7" width="52.5" height="20.0" rx="10.0" transform="rotate(32.5 652.9 643.7)" fill="#f8dae4" stroke="#a3335b" stroke-width="1.7"/>
<text x="652.9" y="648.3000000000001" font-size="13" font-weight="400" fill="#111" text-anchor="middle" transform="rotate(32.5 652.9 643.7)">STING</text>
<rect x="675.1" y="634.2" width="52.5" height="20.0" rx="10.0" transform="rotate(-31.5 701.4 644.2)" fill="#f8dae4" stroke="#a3335b" stroke-width="1.7"/>
<text x="701.4" y="648.8000000000001" font-size="13" font-weight="400" fill="#111" text-anchor="middle" transform="rotate(-31.5 701.4 644.2)">STING</text>
<rect x="688.9" y="647.2" width="52.5" height="20.0" rx="10.0" transform="rotate(-32.8 715.1 657.2)" fill="#f8dae4" stroke="#a3335b" stroke-width="1.7"/>
<text x="715.1" y="661.8000000000001" font-size="13" font-weight="400" fill="#111" text-anchor="middle" transform="rotate(-32.8 715.1 657.2)">STING</text>
<line x1="732.1" y1="637.0" x2="786.0" y2="637.0" stroke="#222" stroke-width="2" stroke-linecap="butt"/>
<path d="M795.5,637.0 L785.0,641.8 L785.0,632.2 Z" fill="#222"/>
<circle cx="803.7" cy="598" r="11" fill="#f7cf45" stroke="#94731c" stroke-width="1.4"/>
<text x="803.7" y="602.0" font-size="11" font-weight="400" fill="#111" text-anchor="middle">P</text>
<ellipse cx="821.9" cy="619.8" rx="26.6" ry="15.9" fill="#e6e6e6" stroke="#4d4d4d" stroke-width="1.4"/>
<text x="821.9" y="625.2" font-size="13" font-weight="400" fill="#111" text-anchor="middle">TBK1</text>
<rect x="803.1" y="636.4" width="55.5" height="29.3" rx="14.65" fill="#3d6fbf" stroke="#1d418a" stroke-width="1.6"/>
<text x="830.9" y="655.68" font-size="13" font-weight="400" fill="#eef3fb" text-anchor="middle">IRF3</text>
<line x1="856.6" y1="634.6" x2="910.0" y2="634.6" stroke="#222" stroke-width="2" stroke-linecap="butt"/>
<path d="M919.1,634.6 L909.1,639.4 L909.1,629.9 Z" fill="#222"/>
<rect x="920.3" y="638.4" width="54" height="28.4" rx="14.2" fill="#3d6fbf" stroke="#1d418a" stroke-width="1.6"/>
<text x="947.3" y="657.28" font-size="13" font-weight="400" fill="#eef3fb" text-anchor="middle">IRF3</text>
<rect x="919.1" y="610.4" width="54.7" height="28.1" rx="14.05" fill="#3d6fbf" stroke="#1d418a" stroke-width="1.6"/>
<text x="946.5" y="629.0799999999999" font-size="13" font-weight="400" fill="#eef3fb" text-anchor="middle">IRF3</text>
<circle cx="977.1" cy="613.1" r="10.7" fill="#f7cf45" stroke="#94731c" stroke-width="1.4"/>
<text x="977.1" y="617.1" font-size="11" font-weight="400" fill="#111" text-anchor="middle">P</text>
<circle cx="979.7" cy="644.6" r="10.7" fill="#f7cf45" stroke="#94731c" stroke-width="1.4"/>
<text x="979.7" y="648.6" font-size="11" font-weight="400" fill="#111" text-anchor="middle">P</text>
<path d="M955.8,667 L955.8,776 Q955.8,785.8 964,785.8" fill="none" stroke="#222" stroke-width="2"/>
<path d="M973.0,785.8 L963.5,790.3 L963.5,781.3 Z" fill="#222"/>
<ellipse cx="707.9" cy="713.8" rx="35.2" ry="19.3" fill="#f2dcb3" stroke="#3b342e" stroke-width="1.3"/>
<text x="707.9" y="717.256" font-size="9.6" font-weight="400" fill="#222" text-anchor="middle" letter-spacing="0.55">LAMTOR1</text>
<rect x="727.5" y="748" width="2.4" height="56" fill="url(#fadeup)"/>
<path d="M728.6,737.1 L734.8,749.4 L722.5,749.4 Z" fill="#222"/>
<line x1="738.9" y1="776.0" x2="819.8" y2="776.0" stroke="#e5202a" stroke-width="3.7" stroke-linecap="butt"/>
<line x1="738.9" y1="764.8" x2="738.9" y2="787.9" stroke="#e5202a" stroke-width="3.7" stroke-linecap="butt"/>
<text x="865" y="783.8" font-size="22" font-weight="400" fill="#111" text-anchor="middle" letter-spacing="1.0">shRNA</text>
<text x="729.2" y="822.1" font-size="16.5" font-weight="400" fill="#111" text-anchor="middle">LAMTOR1</text>
<path d="M672.0,831.7 L672.0,831.5 L672.0,831.2 L672.0,831.0 L672.0,830.8 L672.0,830.6 L672.0,830.4 L672.0,830.3 L672.0,830.2 L672.0,830.1 L672.0,830.0 L672.0,829.9 L672.0,829.9 L672.0,829.9 L672.0,829.9 L672.0,829.9 L672.0,830.0 L672.0,830.1 L672.0,830.2 L672.0,830.3 L672.0,830.4 L672.0,830.6 L672.0,830.8 L672.0,831.0 L672.0,831.2 L672.0,831.4 L672.0,831.7 L672.0,832.0 L672.0,832.3 L672.0,832.6 L672.0,832.9 L672.0,833.2 L672.0,833.5 L672.0,833.9 L672.0,834.2 L672.0,834.6 L672.0,835.0 L672.0,835.4 L672.0,835.7 L672.0,836.1 L672.0,836.5 L672.2,836.9 L672.5,837.3 L672.7,837.6 L673.0,838.0 L673.2,838.4 L673.5,838.8 L673.7,839.1 L674.0,839.5 L674.3,839.8 L674.5,840.1 L674.8,840.4 L675.0,840.7 L675.3,841.0 L675.6,841.3 L675.9,841.6 L676.1,841.8 L676.4,842.0 L676.7,842.2 L677.0,842.4 L677.3,842.6 L677.6,842.7 L677.9,842.8 L678.2,842.9 L678.5,843.0 L678.8,843.1 L679.2,843.1 L679.5,843.1 L679.8,843.1 L680.2,843.1 L680.5,843.0 L680.9,842.9 L681.2,842.8 L681.6,842.7 L682.0,842.6 L682.3,842.4 L682.7,842.2 L683.1,842.0 L683.5,841.8 L683.9,841.5 L684.3,841.3 L684.6,841.0 L685.0,840.7 L685.4,840.4 L685.9,840.1 L686.3,839.8 L686.7,839.5 L687.1,839.1 L687.5,838.7 L687.9,838.4 L688.3,838.0 L688.8,837.6 L689.2,837.3 L689.6,836.9 L690.0,836.5 L690.4,836.1 L690.9,835.7 L691.3,835.3 L691.7,835.0 L692.1,834.6 L692.5,834.2 L692.9,833.9 L693.4,833.5 L693.8,833.2 L694.2,832.9 L694.6,832.5 L695.0,832.2 L695.4,832.0 L695.8,831.7 L696.2,831.4 L696.6,831.2 L696.9,831.0 L697.3,830.8 L697.7,830.6 L698.1,830.4 L698.4,830.3 L698.8,830.2 L699.1,830.1 L699.5,830.0 L699.8,829.9 L700.2,829.9 L700.5,829.9 L700.8,829.9 L701.2,829.9 L701.5,830.0 L701.8,830.1 L702.1,830.2 L702.4,830.3 L702.7,830.4 L703.0,830.6 L703.3,830.8 L703.6,831.0 L703.9,831.2 L704.2,831.5 L704.4,831.7 L704.7,832.0 L705.0,832.3 L705.2,832.6 L705.5,832.9 L705.8,833.2 L706.0,833.6 L706.3,833.9 L706.5,834.3 L706.8,834.6 L707.0,835.0 L707.3,835.4 L707.5,835.8 L707.8,836.1 L708.0,836.5 L708.3,836.9 L708.5,837.3 L708.8,837.7 L709.0,838.0 L709.3,838.4 L709.5,838.8 L709.8,839.1 L710.0,839.5 L710.3,839.8 L710.5,840.2 L710.8,840.5 L711.1,840.8 L711.3,841.1 L711.6,841.3 L711.9,841.6 L712.2,841.8 L712.4,842.0 L712.7,842.2 L713.0,842.4 L713.3,842.6 L713.6,842.7 L713.9,842.8 L714.2,842.9 L714.5,843.0 L714.9,843.1 L715.2,843.1 L715.5,843.1 L715.9,843.1 L716.2,843.1 L716.6,843.0 L716.9,842.9 L717.3,842.8 L717.6,842.7 L718.0,842.5 L718.4,842.4 L718.7,842.2 L719.1,842.0 L719.5,841.8 L719.9,841.5 L720.3,841.3 L720.7,841.0 L721.1,840.7 L721.5,840.4 L721.9,840.1 L722.3,839.8 L722.7,839.4 L723.1,839.1 L723.5,838.7 L723.9,838.4 L724.4,838.0 L724.8,837.6 L725.2,837.2 L725.6,836.8 L726.0,836.5 L726.5,836.1 L726.9,835.7 L727.3,835.3 L727.7,834.9 L728.1,834.6 L728.6,834.2 L729.0,833.8 L729.4,833.5 L729.8,833.2 L730.2,832.8 L730.6,832.5 L731.0,832.2 L731.4,831.9 L731.8,831.7 L732.2,831.4 L732.6,831.2 L733.0,831.0 L733.3,830.8 L733.7,830.6 L734.1,830.4 L734.5,830.3 L734.8,830.2 L735.2,830.1 L735.5,830.0 L735.9,829.9 L736.2,829.9 L736.5,829.9 L736.9,829.9 L737.2,830.0 L737.5,830.0 L737.8,830.1 L738.1,830.2 L738.4,830.3 L738.7,830.5 L739.0,830.6 L739.3,830.8 L739.6,831.0 L739.9,831.2 L740.2,831.5 L740.5,831.7 L740.7,832.0 L741.0,832.3 L741.3,832.6 L741.5,832.9 L741.8,833.2 L742.0,833.6 L742.3,833.9 L742.5,834.3 L742.8,834.7 L743.0,835.0 L743.3,835.4 L743.5,835.8 L743.8,836.2 L744.0,836.6 L744.3,836.9 L744.5,837.3 L744.8,837.7 L745.0,838.1 L745.3,838.4 L745.5,838.8 L745.8,839.2 L746.0,839.5 L746.3,839.8 L746.5,840.2 L746.8,840.5 L747.1,840.8 L747.3,841.1 L747.6,841.3 L747.9,841.6 L748.2,841.8 L748.5,842.0 L748.7,842.2 L749.0,842.4 L749.3,842.6 L749.6,842.7 L749.9,842.8 L750.3,842.9 L750.6,843.0 L750.9,843.1 L751.2,843.1 L751.6,843.1 L751.9,843.1 L752.2,843.0 L752.6,843.0 L752.9,842.9 L753.3,842.8 L753.6,842.7 L754.0,842.5 L754.4,842.4 L754.8,842.2 L755.1,842.0 L755.5,841.8 L755.9,841.5 L756.3,841.3 L756.7,841.0 L757.1,840.7 L757.5,840.4 L757.9,840.1 L758.3,839.7 L758.7,839.4 L759.1,839.1 L759.6,838.7 L760.0,838.3 L760.4,838.0 L760.8,837.6 L761.2,837.2 L761.7,836.8 L762.1,836.4 L762.5,836.1 L762.9,835.7 L763.3,835.3 L763.8,834.9 L764.2,834.5 L764.6,834.2 L765.0,833.8 L765.4,833.5 L765.8,833.1 L766.2,832.8 L766.6,832.5 L767.0,832.2 L767.4,831.9 L767.8,831.7 L768.2,831.4 L768.6,831.2 L769.0,830.9 L769.4,830.7 L769.7,830.6 L770.1,830.4 L770.5,830.3 L770.8,830.2 L771.2,830.1 L771.5,830.0 L771.9,829.9 L772.2,829.9 L772.6,829.9 L772.9,829.9 L773.2,830.0 L773.5,830.0 L773.9,830.1 L774.2,830.2 L774.5,830.3 L774.8,830.5 L775.1,830.6 L775.4,830.8 L775.6,831.0 L775.9,831.3 L776.2,831.5 L776.5,831.8 L776.7,832.0 L777.0,832.3 L777.3,832.6 L777.5,832.9 L777.8,833.3 L778.1,833.6 L778.3,834.0 L778.4,834.3 L778.4,834.7 L778.4,835.1 L778.4,835.4 L778.4,835.8 L778.4,836.2 L778.4,836.6 L778.4,837.0 L778.4,837.3 L778.4,837.7 L778.4,838.1 L778.4,838.5 L778.4,838.8 L778.4,839.2 L778.4,839.5 L778.4,839.9 L778.4,840.2 L778.4,840.5 L778.4,840.8 L778.4,841.1 L778.4,841.4 L778.4,841.6 L778.4,841.8 L778.4,842.1 L778.4,842.3 L778.4,842.4 L778.4,842.6 L778.4,842.7 L778.4,842.8 L778.4,842.9 L778.4,843.0 L778.4,843.1 L778.4,843.1 L778.4,843.1 L778.4,843.1 L778.4,843.0 L778.4,843.0 L778.4,842.9 L778.4,842.8 L778.4,842.7 L778.4,842.5 L778.4,842.4" fill="none" stroke="#244a9e" stroke-width="3.2" stroke-linejoin="round"/>
<path d="M672.0,832.3 L672.0,832.6 L672.0,832.9 L672.0,833.2 L672.0,833.6 L672.0,833.9 L672.0,834.3 L672.0,834.6 L672.0,835.0 L672.0,835.4 L672.0,835.8 L672.0,836.1 L672.0,836.5 L672.0,836.9 L672.0,837.3 L672.0,837.7 L672.0,838.0 L672.0,838.4 L672.0,838.8 L672.0,839.1 L672.0,839.5 L672.0,839.8 L672.0,840.1 L672.0,840.5 L672.0,840.8 L672.0,841.0 L672.0,841.3 L672.0,841.6 L672.0,841.8 L672.0,842.0 L672.0,842.2 L672.0,842.4 L672.0,842.6 L672.0,842.7 L672.0,842.8 L672.0,842.9 L672.0,843.0 L672.0,843.1 L672.0,843.1 L672.0,843.1 L672.0,843.1 L672.0,843.1 L672.0,843.0 L672.0,842.9 L672.0,842.8 L672.3,842.7 L672.6,842.5 L673.0,842.4 L673.4,842.2 L673.8,842.0 L674.1,841.8 L674.5,841.5 L674.9,841.3 L675.3,841.0 L675.7,840.7 L676.1,840.4 L676.5,840.1 L676.9,839.8 L677.3,839.4 L677.8,839.1 L678.2,838.7 L678.6,838.4 L679.0,838.0 L679.4,837.6 L679.8,837.2 L680.3,836.8 L680.7,836.5 L681.1,836.1 L681.5,835.7 L681.9,835.3 L682.4,834.9 L682.8,834.6 L683.2,834.2 L683.6,833.9 L684.0,833.5 L684.4,833.2 L684.8,832.8 L685.2,832.5 L685.6,832.2 L686.0,831.9 L686.4,831.7 L686.8,831.4 L687.2,831.2 L687.6,831.0 L688.0,830.8 L688.4,830.6 L688.7,830.4 L689.1,830.3 L689.4,830.2 L689.8,830.1 L690.2,830.0 L690.5,829.9 L690.8,829.9 L691.2,829.9 L691.5,829.9 L691.8,829.9 L692.2,830.0 L692.5,830.1 L692.8,830.2 L693.1,830.3 L693.4,830.5 L693.7,830.6 L694.0,830.8 L694.3,831.0 L694.5,831.2 L694.8,831.5 L695.1,831.7 L695.4,832.0 L695.6,832.3 L695.9,832.6 L696.2,832.9 L696.4,833.2 L696.7,833.6 L696.9,833.9 L697.2,834.3 L697.4,834.7 L697.7,835.0 L697.9,835.4 L698.2,835.8 L698.4,836.2 L698.7,836.5 L698.9,836.9 L699.2,837.3 L699.4,837.7 L699.7,838.1 L699.9,838.4 L700.2,838.8 L700.4,839.2 L700.7,839.5 L700.9,839.8 L701.2,840.2 L701.4,840.5 L701.7,840.8 L702.0,841.1 L702.3,841.3 L702.5,841.6 L702.8,841.8 L703.1,842.0 L703.4,842.2 L703.7,842.4 L704.0,842.6 L704.3,842.7 L704.6,842.8 L704.9,842.9 L705.2,843.0 L705.5,843.1 L705.9,843.1 L706.2,843.1 L706.5,843.1 L706.9,843.0 L707.2,843.0 L707.6,842.9 L707.9,842.8 L708.3,842.7 L708.7,842.5 L709.0,842.4 L709.4,842.2 L709.8,842.0 L710.2,841.8 L710.6,841.5 L710.9,841.3 L711.3,841.0 L711.7,840.7 L712.1,840.4 L712.5,840.1 L713.0,839.7 L713.4,839.4 L713.8,839.1 L714.2,838.7 L714.6,838.3 L715.0,838.0 L715.4,837.6 L715.9,837.2 L716.3,836.8 L716.7,836.4 L717.1,836.1 L717.6,835.7 L718.0,835.3 L718.4,834.9 L718.8,834.5 L719.2,834.2 L719.6,833.8 L720.0,833.5 L720.5,833.1 L720.9,832.8 L721.3,832.5 L721.7,832.2 L722.1,831.9 L722.5,831.7 L722.9,831.4 L723.2,831.2 L723.6,830.9 L724.0,830.8 L724.4,830.6 L724.7,830.4 L725.1,830.3 L725.5,830.2 L725.8,830.1 L726.2,830.0 L726.5,829.9 L726.9,829.9 L727.2,829.9 L727.5,829.9 L727.9,830.0 L728.2,830.0 L728.5,830.1 L728.8,830.2 L729.1,830.3 L729.4,830.5 L729.7,830.6 L730.0,830.8 L730.3,831.0 L730.6,831.2 L730.8,831.5 L731.1,831.7 L731.4,832.0 L731.7,832.3 L731.9,832.6 L732.2,832.9 L732.4,833.3 L732.7,833.6 L732.9,834.0 L733.2,834.3 L733.5,834.7 L733.7,835.1 L733.9,835.4 L734.2,835.8 L734.4,836.2 L734.7,836.6 L734.9,837.0 L735.2,837.3 L735.4,837.7 L735.7,838.1 L735.9,838.5 L736.2,838.8 L736.4,839.2 L736.7,839.5 L736.9,839.9 L737.2,840.2 L737.5,840.5 L737.7,840.8 L738.0,841.1 L738.3,841.4 L738.5,841.6 L738.8,841.8 L739.1,842.1 L739.4,842.3 L739.7,842.4 L740.0,842.6 L740.3,842.7 L740.6,842.8 L740.9,842.9 L741.2,843.0 L741.6,843.1 L741.9,843.1 L742.2,843.1 L742.5,843.1 L742.9,843.0 L743.2,843.0 L743.6,842.9 L743.9,842.8 L744.3,842.7 L744.7,842.5 L745.0,842.4 L745.4,842.2 L745.8,842.0 L746.2,841.7 L746.6,841.5 L747.0,841.2 L747.4,841.0 L747.8,840.7 L748.2,840.4 L748.6,840.1 L749.0,839.7 L749.4,839.4 L749.8,839.0 L750.2,838.7 L750.6,838.3 L751.1,837.9 L751.5,837.6 L751.9,837.2 L752.3,836.8 L752.7,836.4 L753.2,836.0 L753.6,835.6 L754.0,835.3 L754.4,834.9 L754.8,834.5 L755.3,834.2 L755.7,833.8 L756.1,833.5 L756.5,833.1 L756.9,832.8 L757.3,832.5 L757.7,832.2 L758.1,831.9 L758.5,831.6 L758.9,831.4 L759.3,831.2 L759.7,830.9 L760.0,830.7 L760.4,830.6 L760.8,830.4 L761.1,830.3 L761.5,830.2 L761.9,830.1 L762.2,830.0 L762.5,829.9 L762.9,829.9 L763.2,829.9 L763.6,829.9 L763.9,830.0 L764.2,830.0 L764.5,830.1 L764.8,830.2 L765.1,830.3 L765.4,830.5 L765.7,830.6 L766.0,830.8 L766.3,831.0 L766.6,831.3 L766.9,831.5 L767.1,831.8 L767.4,832.0 L767.7,832.3 L767.9,832.6 L768.2,833.0 L768.5,833.3 L768.7,833.6 L769.0,834.0 L769.2,834.3 L769.5,834.7 L769.7,835.1 L770.0,835.5 L770.2,835.8 L770.5,836.2 L770.7,836.6 L771.0,837.0 L771.2,837.4 L771.4,837.7 L771.7,838.1 L771.9,838.5 L772.2,838.9 L772.4,839.2 L772.7,839.6 L773.0,839.9 L773.2,840.2 L773.5,840.5 L773.7,840.8 L774.0,841.1 L774.3,841.4 L774.6,841.6 L774.8,841.9 L775.1,842.1 L775.4,842.3 L775.7,842.4 L776.0,842.6 L776.3,842.7 L776.6,842.9 L776.9,842.9 L777.3,843.0 L777.6,843.1 L777.9,843.1 L778.2,843.1 L778.4,843.1 L778.4,843.0 L778.4,843.0 L778.4,842.9 L778.4,842.8 L778.4,842.7 L778.4,842.5 L778.4,842.3 L778.4,842.2 L778.4,842.0 L778.4,841.7 L778.4,841.5 L778.4,841.2 L778.4,840.9 L778.4,840.7 L778.4,840.4 L778.4,840.0 L778.4,839.7 L778.4,839.4 L778.4,839.0 L778.4,838.7 L778.4,838.3 L778.4,837.9 L778.4,837.5 L778.4,837.2 L778.4,836.8 L778.4,836.4 L778.4,836.0 L778.4,835.6 L778.4,835.2 L778.4,834.9 L778.4,834.5 L778.4,834.1 L778.4,833.8 L778.4,833.4 L778.4,833.1" fill="none" stroke="#193585" stroke-width="3.2" stroke-linejoin="round"/>
<path d="M979.0,825.5 L979.0,825.2 L979.0,825.0 L979.0,824.8 L979.0,824.6 L979.0,824.4 L979.0,824.2 L979.0,824.1 L979.0,824.0 L979.0,823.9 L979.0,823.8 L979.0,823.7 L979.0,823.7 L979.0,823.7 L979.0,823.7 L979.0,823.7 L979.0,823.8 L979.0,823.9 L979.0,824.0 L979.0,824.1 L979.0,824.2 L979.0,824.4 L979.0,824.6 L979.0,824.8 L979.0,825.0 L979.0,825.2 L979.0,825.5 L979.0,825.8 L979.0,826.1 L979.0,826.4 L979.0,826.7 L979.0,827.0 L979.0,827.3 L979.0,827.7 L979.0,828.0 L979.0,828.4 L979.0,828.8 L979.0,829.2 L979.0,829.5 L979.0,829.9 L979.0,830.3 L979.2,830.7 L979.5,831.1 L979.7,831.4 L980.0,831.8 L980.2,832.2 L980.5,832.6 L980.7,832.9 L981.0,833.3 L981.2,833.6 L981.5,833.9 L981.8,834.2 L982.0,834.5 L982.3,834.8 L982.6,835.1 L982.9,835.4 L983.1,835.6 L983.4,835.8 L983.7,836.0 L984.0,836.2 L984.3,836.4 L984.6,836.5 L984.9,836.6 L985.2,836.7 L985.5,836.8 L985.8,836.9 L986.2,836.9 L986.5,836.9 L986.8,836.9 L987.2,836.9 L987.5,836.8 L987.9,836.7 L988.2,836.6 L988.6,836.5 L989.0,836.4 L989.3,836.2 L989.7,836.0 L990.1,835.8 L990.5,835.6 L990.9,835.4 L991.2,835.1 L991.6,834.8 L992.0,834.5 L992.4,834.2 L992.8,833.9 L993.2,833.6 L993.7,833.3 L994.1,832.9 L994.5,832.6 L994.9,832.2 L995.3,831.8 L995.7,831.4 L996.2,831.1 L996.6,830.7 L997.0,830.3 L997.4,829.9 L997.8,829.5 L998.3,829.2 L998.7,828.8 L999.1,828.4 L999.5,828.0 L999.9,827.7 L1000.3,827.3 L1000.8,827.0 L1001.2,826.7 L1001.6,826.4 L1002.0,826.1 L1002.4,825.8 L1002.8,825.5 L1003.1,825.2 L1003.5,825.0 L1003.9,824.8 L1004.3,824.6 L1004.7,824.4 L1005.0,824.2 L1005.4,824.1 L1005.8,824.0 L1006.1,823.9 L1006.5,823.8 L1006.8,823.7 L1007.2,823.7 L1007.5,823.7 L1007.8,823.7 L1008.2,823.7 L1008.5,823.8 L1008.8,823.9 L1009.1,824.0 L1009.4,824.1 L1009.7,824.2 L1010.0,824.4 L1010.3,824.6 L1010.6,824.8 L1010.9,825.0 L1011.1,825.2 L1011.4,825.5 L1011.7,825.8 L1012.0,826.1 L1012.2,826.4 L1012.5,826.7 L1012.8,827.0 L1013.0,827.3 L1013.3,827.7 L1013.5,828.0 L1013.8,828.4 L1014.0,828.8 L1014.3,829.2 L1014.5,829.5 L1014.8,829.9 L1015.0,830.3 L1015.2,830.7 L1015.5,831.1 L1015.7,831.4 L1016.0,831.8 L1016.2,832.2 L1016.5,832.6 L1016.7,832.9 L1017.0,833.3 L1017.2,833.6 L1017.5,833.9 L1017.8,834.2 L1018.0,834.5 L1018.3,834.8 L1018.6,835.1 L1018.9,835.4 L1019.1,835.6 L1019.4,835.8 L1019.7,836.0 L1020.0,836.2 L1020.3,836.4 L1020.6,836.5 L1020.9,836.6 L1021.2,836.7 L1021.5,836.8 L1021.8,836.9 L1022.2,836.9 L1022.5,836.9 L1022.8,836.9 L1023.2,836.9 L1023.5,836.8 L1023.9,836.7 L1024.2,836.6 L1024.6,836.5 L1025.0,836.4 L1025.3,836.2 L1025.7,836.0 L1026.1,835.8 L1026.5,835.6 L1026.9,835.4 L1027.2,835.1 L1027.6,834.8 L1028.0,834.5 L1028.4,834.2 L1028.8,833.9 L1029.2,833.6 L1029.7,833.3 L1030.1,832.9 L1030.5,832.6 L1030.9,832.2 L1031.3,831.8 L1031.7,831.4 L1032.2,831.1 L1032.6,830.7 L1033.0,830.3 L1033.4,829.9 L1033.8,829.5 L1034.3,829.2 L1034.7,828.8 L1035.1,828.4 L1035.5,828.0 L1035.9,827.7 L1036.3,827.3 L1036.8,827.0 L1037.2,826.7 L1037.6,826.4 L1038.0,826.1 L1038.4,825.8 L1038.8,825.5 L1039.1,825.2 L1039.5,825.0 L1039.9,824.8 L1040.3,824.6 L1040.7,824.4 L1041.0,824.2 L1041.4,824.1 L1041.8,824.0 L1042.1,823.9 L1042.5,823.8 L1042.8,823.7 L1043.2,823.7 L1043.5,823.7 L1043.8,823.7 L1044.2,823.7 L1044.5,823.8 L1044.8,823.9 L1045.1,824.0 L1045.4,824.1 L1045.7,824.2 L1046.0,824.4 L1046.3,824.6 L1046.6,824.8 L1046.9,825.0 L1047.1,825.2 L1047.4,825.5 L1047.7,825.8 L1048.0,826.1 L1048.2,826.4 L1048.5,826.7 L1048.8,827.0 L1049.0,827.3 L1049.3,827.7 L1049.5,828.0 L1049.8,828.4 L1050.0,828.8 L1050.3,829.2 L1050.5,829.5 L1050.8,829.9 L1051.0,830.3 L1051.2,830.7 L1051.5,831.1 L1051.7,831.4 L1052.0,831.8 L1052.2,832.2 L1052.5,832.6 L1052.7,832.9 L1053.0,833.3 L1053.2,833.6 L1053.5,833.9 L1053.8,834.2 L1054.0,834.5 L1054.3,834.8 L1054.6,835.1 L1054.9,835.4 L1055.1,835.6 L1055.4,835.8 L1055.7,836.0 L1056.0,836.2 L1056.3,836.4 L1056.6,836.5 L1056.9,836.6 L1057.2,836.7 L1057.5,836.8 L1057.8,836.9 L1058.2,836.9 L1058.5,836.9 L1058.8,836.9 L1059.2,836.9 L1059.5,836.8 L1059.9,836.7 L1060.2,836.6 L1060.6,836.5 L1061.0,836.4 L1061.3,836.2 L1061.7,836.0 L1062.1,835.8 L1062.5,835.6 L1062.9,835.4 L1063.2,835.1 L1063.6,834.8 L1064.0,834.5 L1064.4,834.2 L1064.8,833.9 L1065.2,833.6 L1065.7,833.3 L1066.1,832.9 L1066.5,832.6 L1066.9,832.2 L1067.3,831.8 L1067.7,831.4 L1068.2,831.1 L1068.6,830.7 L1069.0,830.3 L1069.4,829.9 L1069.8,829.5 L1070.3,829.2 L1070.7,828.8 L1071.1,828.4 L1071.5,828.0 L1071.9,827.7 L1072.3,827.3 L1072.8,827.0 L1073.2,826.7 L1073.6,826.4 L1074.0,826.1 L1074.4,825.8 L1074.8,825.5 L1075.1,825.2 L1075.5,825.0 L1075.9,824.8 L1076.3,824.6 L1076.7,824.4 L1077.0,824.2 L1077.4,824.1 L1077.8,824.0 L1078.1,823.9 L1078.5,823.8 L1078.8,823.7 L1079.2,823.7 L1079.5,823.7 L1079.8,823.7 L1080.2,823.7 L1080.5,823.8 L1080.8,823.9 L1081.1,824.0 L1081.4,824.1 L1081.7,824.2 L1082.0,824.4 L1082.3,824.6 L1082.6,824.8 L1082.9,825.0 L1083.1,825.2 L1083.4,825.5 L1083.7,825.8 L1084.0,826.1 L1084.2,826.4 L1084.5,826.7 L1084.8,827.0 L1085.0,827.3 L1085.3,827.7 L1085.5,828.0 L1085.8,828.4 L1086.0,828.8 L1086.3,829.2 L1086.5,829.5 L1086.8,829.9 L1087.0,830.3 L1087.2,830.7 L1087.5,831.1 L1087.7,831.4 L1088.0,831.8 L1088.2,832.2 L1088.5,832.6 L1088.7,832.9 L1089.0,833.3 L1089.2,833.6 L1089.5,833.9 L1089.8,834.2 L1090.0,834.5 L1090.3,834.8 L1090.6,835.1 L1090.9,835.4 L1091.1,835.6 L1091.4,835.8 L1091.7,836.0 L1092.0,836.2 L1092.3,836.4 L1092.6,836.5 L1092.9,836.6 L1093.2,836.7 L1093.5,836.8 L1093.8,836.9 L1094.2,836.9 L1094.5,836.9 L1094.8,836.9 L1095.2,836.9 L1095.5,836.8 L1095.9,836.7 L1096.2,836.6 L1096.6,836.5 L1097.0,836.4 L1097.3,836.2 L1097.7,836.0 L1098.1,835.8 L1098.5,835.6 L1098.9,835.4 L1099.2,835.1 L1099.6,834.8 L1100.0,834.5 L1100.4,834.2 L1100.8,833.9 L1101.2,833.6 L1101.7,833.3 L1102.1,832.9 L1102.5,832.6 L1102.9,832.2 L1103.3,831.8 L1103.7,831.4 L1104.2,831.1 L1104.6,830.7 L1105.0,830.3 L1105.4,829.9 L1105.8,829.5 L1106.3,829.2 L1106.7,828.8 L1107.1,828.4 L1107.5,828.0 L1107.9,827.7 L1108.3,827.3 L1108.8,827.0 L1109.2,826.7 L1109.6,826.4 L1110.0,826.1 L1110.4,825.8 L1110.8,825.5 L1111.1,825.2 L1111.5,825.0 L1111.9,824.8 L1112.3,824.6 L1112.7,824.4 L1113.0,824.2 L1113.4,824.1 L1113.8,824.0 L1114.1,823.9 L1114.5,823.8 L1114.8,823.7 L1115.2,823.7 L1115.5,823.7 L1115.8,823.7 L1116.2,823.7 L1116.5,823.8 L1116.8,823.9 L1117.1,824.0 L1117.4,824.1 L1117.7,824.2 L1118.0,824.4 L1118.3,824.6 L1118.6,824.8 L1118.9,825.0 L1119.1,825.2 L1119.4,825.5 L1119.7,825.8 L1120.0,826.1 L1120.2,826.4 L1120.5,826.7 L1120.8,827.0 L1121.0,827.3 L1121.3,827.7 L1121.5,828.0 L1121.8,828.4 L1122.0,828.8 L1122.3,829.2 L1122.5,829.5 L1122.8,829.9 L1123.0,830.3 L1123.2,830.7 L1123.5,831.1 L1123.7,831.4 L1124.0,831.8 L1124.2,832.2 L1124.5,832.6 L1124.7,832.9 L1125.0,833.3 L1125.2,833.6 L1125.5,833.9 L1125.8,834.2 L1126.0,834.5 L1126.3,834.8 L1126.6,835.1 L1126.9,835.4 L1127.1,835.6 L1127.4,835.8 L1127.7,836.0 L1128.0,836.2 L1128.3,836.4 L1128.6,836.5 L1128.9,836.6 L1129.2,836.7 L1129.5,836.8 L1129.8,836.9 L1130.2,836.9 L1130.5,836.9 L1130.8,836.9 L1131.2,836.9 L1131.5,836.8 L1131.9,836.7 L1132.2,836.6 L1132.6,836.5 L1133.0,836.4 L1133.3,836.2 L1133.7,836.0 L1134.1,835.8 L1134.5,835.6 L1134.9,835.4 L1135.2,835.1 L1135.6,834.8 L1136.0,834.5 L1136.4,834.2 L1136.8,833.9 L1137.2,833.6 L1137.7,833.3 L1138.1,832.9 L1138.5,832.6 L1138.9,832.2 L1139.3,831.8 L1139.7,831.4 L1140.2,831.1 L1140.6,830.7 L1141.0,830.3 L1141.4,829.9 L1141.8,829.5 L1142.3,829.2 L1142.7,828.8 L1143.1,828.4 L1143.5,828.0 L1143.9,827.7 L1144.3,827.3 L1144.8,827.0 L1145.2,826.7 L1145.6,826.4 L1146.0,826.1 L1146.4,825.8 L1146.8,825.5 L1147.1,825.2 L1147.5,825.0 L1147.9,824.8 L1148.3,824.6 L1148.7,824.4 L1149.0,824.2 L1149.4,824.1 L1149.8,824.0 L1150.1,823.9 L1150.5,823.8 L1150.8,823.7 L1151.2,823.7 L1151.5,823.7 L1151.8,823.7 L1152.2,823.7 L1152.5,823.8 L1152.8,823.9 L1153.1,824.0 L1153.4,824.1 L1153.7,824.2 L1154.0,824.4 L1154.3,824.6 L1154.6,824.8 L1154.9,825.0 L1155.1,825.2 L1155.4,825.5 L1155.7,825.8 L1156.0,826.1 L1156.2,826.4 L1156.5,826.7 L1156.8,827.0 L1157.0,827.3 L1157.3,827.7 L1157.5,828.0 L1157.8,828.4 L1158.0,828.8 L1158.3,829.2 L1158.5,829.5 L1158.8,829.9 L1159.0,830.3 L1159.2,830.7 L1159.5,831.1 L1159.7,831.4 L1160.0,831.8 L1160.2,832.2 L1160.5,832.6 L1160.7,832.9 L1161.0,833.3 L1161.2,833.6 L1161.5,833.9 L1161.8,834.2 L1162.0,834.5 L1162.3,834.8 L1162.6,835.1 L1162.9,835.4 L1163.1,835.6 L1163.4,835.8 L1163.7,836.0 L1164.0,836.2 L1164.3,836.4 L1164.6,836.5 L1164.9,836.6 L1165.2,836.7 L1165.5,836.8 L1165.8,836.9 L1166.2,836.9 L1166.5,836.9 L1166.8,836.9 L1167.2,836.9 L1167.5,836.8 L1167.9,836.7 L1168.2,836.6 L1168.6,836.5 L1169.0,836.4 L1169.3,836.2 L1169.7,836.0 L1170.1,835.8 L1170.5,835.6 L1170.9,835.4 L1171.2,835.1 L1171.6,834.8 L1172.0,834.5 L1172.4,834.2 L1172.8,833.9 L1173.2,833.6 L1173.7,833.3 L1174.1,832.9 L1174.5,832.6 L1174.9,832.2 L1175.3,831.8 L1175.7,831.4 L1176.2,831.1 L1176.6,830.7 L1177.0,830.3 L1177.4,829.9 L1177.8,829.5 L1178.3,829.2 L1178.7,828.8 L1179.1,828.4 L1179.5,828.0 L1179.9,827.7 L1180.3,827.3 L1180.8,827.0 L1181.2,826.7 L1181.6,826.4 L1182.0,826.1 L1182.4,825.8 L1182.8,825.5 L1183.1,825.2 L1183.5,825.0 L1183.9,824.8 L1184.3,824.6 L1184.7,824.4 L1185.0,824.2 L1185.4,824.1 L1185.8,824.0 L1186.1,823.9 L1186.5,823.8 L1186.8,823.7 L1187.2,823.7 L1187.5,823.7 L1187.8,823.7 L1188.2,823.7 L1188.5,823.8 L1188.8,823.9 L1189.1,824.0 L1189.4,824.1 L1189.7,824.2 L1190.0,824.4 L1190.3,824.6 L1190.6,824.8 L1190.9,825.0 L1191.1,825.2 L1191.4,825.5 L1191.7,825.8 L1192.0,826.1 L1192.2,826.4 L1192.5,826.7 L1192.8,827.0 L1193.0,827.3 L1193.3,827.7 L1193.5,828.0 L1193.8,828.4 L1194.0,828.8 L1194.3,829.2 L1194.5,829.5 L1194.8,829.9 L1195.0,830.3 L1195.2,830.7 L1195.5,831.1 L1195.7,831.4 L1196.0,831.8 L1196.2,832.2 L1196.5,832.6 L1196.7,832.9 L1197.0,833.3 L1197.2,833.6 L1197.5,833.9 L1197.8,834.2 L1198.0,834.5 L1198.3,834.8 L1198.6,835.1 L1198.9,835.4 L1199.1,835.6 L1199.4,835.8 L1199.7,836.0 L1200.0,836.2 L1200.3,836.4 L1200.6,836.5 L1200.9,836.6 L1201.2,836.7 L1201.5,836.8 L1201.8,836.9 L1202.2,836.9 L1202.5,836.9 L1202.8,836.9 L1203.2,836.9 L1203.5,836.8 L1203.9,836.7 L1204.2,836.6 L1204.6,836.5 L1205.0,836.4 L1205.3,836.2 L1205.7,836.0 L1206.1,835.8 L1206.5,835.6 L1206.9,835.4 L1207.2,835.1 L1207.6,834.8 L1208.0,834.5 L1208.4,834.2 L1208.8,833.9 L1209.2,833.6 L1209.7,833.3 L1210.1,832.9 L1210.5,832.6 L1210.9,832.2 L1211.3,831.8 L1211.7,831.4 L1212.2,831.1 L1212.6,830.7 L1213.0,830.3 L1213.4,829.9 L1213.8,829.5 L1214.3,829.2 L1214.7,828.8 L1215.1,828.4 L1215.5,828.0 L1215.9,827.7 L1216.3,827.3 L1216.8,827.0 L1217.2,826.7 L1217.6,826.4 L1218.0,826.1 L1218.4,825.8 L1218.8,825.5 L1219.1,825.2 L1219.5,825.0 L1219.9,824.8 L1220.3,824.6 L1220.7,824.4 L1221.0,824.2 L1221.4,824.1 L1221.8,824.0 L1222.1,823.9 L1222.5,823.8 L1222.8,823.7 L1223.2,823.7 L1223.5,823.7 L1223.8,823.7 L1224.2,823.7 L1224.5,823.8 L1224.8,823.9 L1225.1,824.0 L1225.4,824.1 L1225.7,824.2 L1226.0,824.4 L1226.3,824.6 L1226.6,824.8 L1226.9,825.0 L1227.1,825.2 L1227.4,825.5 L1227.7,825.8 L1228.0,826.1 L1228.0,826.4 L1228.0,826.7 L1228.0,827.0 L1228.0,827.3 L1228.0,827.7 L1228.0,828.0 L1228.0,828.4 L1228.0,828.8 L1228.0,829.2 L1228.0,829.5 L1228.0,829.9 L1228.0,830.3 L1228.0,830.7 L1228.0,831.1 L1228.0,831.4 L1228.0,831.8 L1228.0,832.2 L1228.0,832.6 L1228.0,832.9 L1228.0,833.3 L1228.0,833.6 L1228.0,833.9 L1228.0,834.2 L1228.0,834.5 L1228.0,834.8 L1228.0,835.1 L1228.0,835.4 L1228.0,835.6 L1228.0,835.8 L1228.0,836.0 L1228.0,836.2 L1228.0,836.4 L1228.0,836.5 L1228.0,836.6 L1228.0,836.7 L1228.0,836.8 L1228.0,836.9 L1228.0,836.9 L1228.0,836.9 L1228.0,836.9 L1228.0,836.9 L1228.0,836.8 L1228.0,836.7" fill="none" stroke="#244a9e" stroke-width="3.2" stroke-linejoin="round"/>
<path d="M979.0,826.1 L979.0,826.4 L979.0,826.7 L979.0,827.0 L979.0,827.4 L979.0,827.7 L979.0,828.1 L979.0,828.4 L979.0,828.8 L979.0,829.2 L979.0,829.6 L979.0,829.9 L979.0,830.3 L979.0,830.7 L979.0,831.1 L979.0,831.5 L979.0,831.9 L979.0,832.2 L979.0,832.6 L979.0,832.9 L979.0,833.3 L979.0,833.6 L979.0,834.0 L979.0,834.3 L979.0,834.6 L979.0,834.9 L979.0,835.1 L979.0,835.4 L979.0,835.6 L979.0,835.8 L979.0,836.0 L979.0,836.2 L979.0,836.4 L979.0,836.5 L979.0,836.6 L979.0,836.7 L979.0,836.8 L979.0,836.9 L979.0,836.9 L979.0,836.9 L979.0,836.9 L979.0,836.9 L979.0,836.8 L979.0,836.7 L979.0,836.6 L979.3,836.5 L979.6,836.3 L980.0,836.2 L980.4,836.0 L980.8,835.8 L981.1,835.6 L981.5,835.3 L981.9,835.1 L982.3,834.8 L982.7,834.5 L983.1,834.2 L983.5,833.9 L983.9,833.6 L984.3,833.2 L984.7,832.9 L985.2,832.5 L985.6,832.2 L986.0,831.8 L986.4,831.4 L986.8,831.0 L987.3,830.7 L987.7,830.3 L988.1,829.9 L988.5,829.5 L988.9,829.1 L989.4,828.7 L989.8,828.4 L990.2,828.0 L990.6,827.7 L991.0,827.3 L991.4,827.0 L991.8,826.6 L992.2,826.3 L992.6,826.0 L993.0,825.7 L993.4,825.5 L993.8,825.2 L994.2,825.0 L994.6,824.8 L995.0,824.6 L995.3,824.4 L995.7,824.2 L996.1,824.1 L996.4,824.0 L996.8,823.9 L997.1,823.8 L997.5,823.7 L997.8,823.7 L998.2,823.7 L998.5,823.7 L998.8,823.7 L999.1,823.8 L999.5,823.9 L999.8,824.0 L1000.1,824.1 L1000.4,824.3 L1000.7,824.4 L1001.0,824.6 L1001.2,824.8 L1001.5,825.0 L1001.8,825.3 L1002.1,825.5 L1002.4,825.8 L1002.6,826.1 L1002.9,826.4 L1003.2,826.7 L1003.4,827.0 L1003.7,827.4 L1003.9,827.7 L1004.2,828.1 L1004.4,828.4 L1004.7,828.8 L1004.9,829.2 L1005.2,829.6 L1005.4,829.9 L1005.7,830.3 L1005.9,830.7 L1006.2,831.1 L1006.4,831.5 L1006.6,831.9 L1006.9,832.2 L1007.1,832.6 L1007.4,832.9 L1007.7,833.3 L1007.9,833.6 L1008.2,834.0 L1008.4,834.3 L1008.7,834.6 L1009.0,834.9 L1009.2,835.1 L1009.5,835.4 L1009.8,835.6 L1010.1,835.8 L1010.4,836.0 L1010.7,836.2 L1011.0,836.4 L1011.3,836.5 L1011.6,836.6 L1011.9,836.7 L1012.2,836.8 L1012.5,836.9 L1012.8,836.9 L1013.2,836.9 L1013.5,836.9 L1013.8,836.9 L1014.2,836.8 L1014.5,836.7 L1014.9,836.6 L1015.3,836.5 L1015.6,836.3 L1016.0,836.2 L1016.4,836.0 L1016.8,835.8 L1017.1,835.6 L1017.5,835.3 L1017.9,835.1 L1018.3,834.8 L1018.7,834.5 L1019.1,834.2 L1019.5,833.9 L1019.9,833.6 L1020.3,833.2 L1020.7,832.9 L1021.2,832.5 L1021.6,832.2 L1022.0,831.8 L1022.4,831.4 L1022.8,831.0 L1023.3,830.7 L1023.7,830.3 L1024.1,829.9 L1024.5,829.5 L1024.9,829.1 L1025.4,828.7 L1025.8,828.4 L1026.2,828.0 L1026.6,827.7 L1027.0,827.3 L1027.4,827.0 L1027.8,826.6 L1028.2,826.3 L1028.6,826.0 L1029.0,825.7 L1029.4,825.5 L1029.8,825.2 L1030.2,825.0 L1030.6,824.8 L1031.0,824.6 L1031.3,824.4 L1031.7,824.2 L1032.1,824.1 L1032.4,824.0 L1032.8,823.9 L1033.1,823.8 L1033.5,823.7 L1033.8,823.7 L1034.2,823.7 L1034.5,823.7 L1034.8,823.7 L1035.1,823.8 L1035.5,823.9 L1035.8,824.0 L1036.1,824.1 L1036.4,824.3 L1036.7,824.4 L1037.0,824.6 L1037.2,824.8 L1037.5,825.0 L1037.8,825.3 L1038.1,825.5 L1038.4,825.8 L1038.6,826.1 L1038.9,826.4 L1039.2,826.7 L1039.4,827.0 L1039.7,827.4 L1039.9,827.7 L1040.2,828.1 L1040.4,828.4 L1040.7,828.8 L1040.9,829.2 L1041.2,829.6 L1041.4,829.9 L1041.7,830.3 L1041.9,830.7 L1042.2,831.1 L1042.4,831.5 L1042.6,831.9 L1042.9,832.2 L1043.1,832.6 L1043.4,832.9 L1043.7,833.3 L1043.9,833.6 L1044.2,834.0 L1044.4,834.3 L1044.7,834.6 L1045.0,834.9 L1045.2,835.1 L1045.5,835.4 L1045.8,835.6 L1046.1,835.8 L1046.4,836.0 L1046.7,836.2 L1047.0,836.4 L1047.3,836.5 L1047.6,836.6 L1047.9,836.7 L1048.2,836.8 L1048.5,836.9 L1048.8,836.9 L1049.2,836.9 L1049.5,836.9 L1049.8,836.9 L1050.2,836.8 L1050.5,836.7 L1050.9,836.6 L1051.3,836.5 L1051.6,836.3 L1052.0,836.2 L1052.4,836.0 L1052.8,835.8 L1053.1,835.6 L1053.5,835.3 L1053.9,835.1 L1054.3,834.8 L1054.7,834.5 L1055.1,834.2 L1055.5,833.9 L1055.9,833.6 L1056.3,833.2 L1056.7,832.9 L1057.2,832.5 L1057.6,832.2 L1058.0,831.8 L1058.4,831.4 L1058.8,831.0 L1059.3,830.7 L1059.7,830.3 L1060.1,829.9 L1060.5,829.5 L1060.9,829.1 L1061.4,828.7 L1061.8,828.4 L1062.2,828.0 L1062.6,827.7 L1063.0,827.3 L1063.4,827.0 L1063.8,826.6 L1064.2,826.3 L1064.6,826.0 L1065.0,825.7 L1065.4,825.5 L1065.8,825.2 L1066.2,825.0 L1066.6,824.8 L1067.0,824.6 L1067.3,824.4 L1067.7,824.2 L1068.1,824.1 L1068.4,824.0 L1068.8,823.9 L1069.1,823.8 L1069.5,823.7 L1069.8,823.7 L1070.2,823.7 L1070.5,823.7 L1070.8,823.7 L1071.1,823.8 L1071.5,823.9 L1071.8,824.0 L1072.1,824.1 L1072.4,824.3 L1072.7,824.4 L1073.0,824.6 L1073.2,824.8 L1073.5,825.0 L1073.8,825.3 L1074.1,825.5 L1074.4,825.8 L1074.6,826.1 L1074.9,826.4 L1075.2,826.7 L1075.4,827.0 L1075.7,827.4 L1075.9,827.7 L1076.2,828.1 L1076.4,828.4 L1076.7,828.8 L1076.9,829.2 L1077.2,829.6 L1077.4,829.9 L1077.7,830.3 L1077.9,830.7 L1078.2,831.1 L1078.4,831.5 L1078.6,831.9 L1078.9,832.2 L1079.1,832.6 L1079.4,832.9 L1079.7,833.3 L1079.9,833.6 L1080.2,834.0 L1080.4,834.3 L1080.7,834.6 L1081.0,834.9 L1081.2,835.1 L1081.5,835.4 L1081.8,835.6 L1082.1,835.8 L1082.4,836.0 L1082.7,836.2 L1083.0,836.4 L1083.3,836.5 L1083.6,836.6 L1083.9,836.7 L1084.2,836.8 L1084.5,836.9 L1084.8,836.9 L1085.2,836.9 L1085.5,836.9 L1085.8,836.9 L1086.2,836.8 L1086.5,836.7 L1086.9,836.6 L1087.3,836.5 L1087.6,836.3 L1088.0,836.2 L1088.4,836.0 L1088.8,835.8 L1089.1,835.6 L1089.5,835.3 L1089.9,835.1 L1090.3,834.8 L1090.7,834.5 L1091.1,834.2 L1091.5,833.9 L1091.9,833.6 L1092.3,833.2 L1092.7,832.9 L1093.2,832.5 L1093.6,832.2 L1094.0,831.8 L1094.4,831.4 L1094.8,831.0 L1095.3,830.7 L1095.7,830.3 L1096.1,829.9 L1096.5,829.5 L1096.9,829.1 L1097.4,828.7 L1097.8,828.4 L1098.2,828.0 L1098.6,827.7 L1099.0,827.3 L1099.4,827.0 L1099.8,826.6 L1100.2,826.3 L1100.6,826.0 L1101.0,825.7 L1101.4,825.5 L1101.8,825.2 L1102.2,825.0 L1102.6,824.8 L1103.0,824.6 L1103.3,824.4 L1103.7,824.2 L1104.1,824.1 L1104.4,824.0 L1104.8,823.9 L1105.1,823.8 L1105.5,823.7 L1105.8,823.7 L1106.2,823.7 L1106.5,823.7 L1106.8,823.7 L1107.1,823.8 L1107.5,823.9 L1107.8,824.0 L1108.1,824.1 L1108.4,824.3 L1108.7,824.4 L1109.0,824.6 L1109.2,824.8 L1109.5,825.0 L1109.8,825.3 L1110.1,825.5 L1110.4,825.8 L1110.6,826.1 L1110.9,826.4 L1111.2,826.7 L1111.4,827.0 L1111.7,827.4 L1111.9,827.7 L1112.2,828.1 L1112.4,828.4 L1112.7,828.8 L1112.9,829.2 L1113.2,829.6 L1113.4,829.9 L1113.7,830.3 L1113.9,830.7 L1114.2,831.1 L1114.4,831.5 L1114.6,831.9 L1114.9,832.2 L1115.1,832.6 L1115.4,832.9 L1115.7,833.3 L1115.9,833.6 L1116.2,834.0 L1116.4,834.3 L1116.7,834.6 L1117.0,834.9 L1117.2,835.1 L1117.5,835.4 L1117.8,835.6 L1118.1,835.8 L1118.4,836.0 L1118.7,836.2 L1119.0,836.4 L1119.3,836.5 L1119.6,836.6 L1119.9,836.7 L1120.2,836.8 L1120.5,836.9 L1120.8,836.9 L1121.2,836.9 L1121.5,836.9 L1121.8,836.9 L1122.2,836.8 L1122.5,836.7 L1122.9,836.6 L1123.3,836.5 L1123.6,836.3 L1124.0,836.2 L1124.4,836.0 L1124.8,835.8 L1125.1,835.6 L1125.5,835.3 L1125.9,835.1 L1126.3,834.8 L1126.7,834.5 L1127.1,834.2 L1127.5,833.9 L1127.9,833.6 L1128.3,833.2 L1128.7,832.9 L1129.2,832.5 L1129.6,832.2 L1130.0,831.8 L1130.4,831.4 L1130.8,831.0 L1131.3,830.7 L1131.7,830.3 L1132.1,829.9 L1132.5,829.5 L1132.9,829.1 L1133.4,828.7 L1133.8,828.4 L1134.2,828.0 L1134.6,827.7 L1135.0,827.3 L1135.4,827.0 L1135.8,826.6 L1136.2,826.3 L1136.6,826.0 L1137.0,825.7 L1137.4,825.5 L1137.8,825.2 L1138.2,825.0 L1138.6,824.8 L1139.0,824.6 L1139.3,824.4 L1139.7,824.2 L1140.1,824.1 L1140.4,824.0 L1140.8,823.9 L1141.1,823.8 L1141.5,823.7 L1141.8,823.7 L1142.2,823.7 L1142.5,823.7 L1142.8,823.7 L1143.1,823.8 L1143.5,823.9 L1143.8,824.0 L1144.1,824.1 L1144.4,824.3 L1144.7,824.4 L1145.0,824.6 L1145.2,824.8 L1145.5,825.0 L1145.8,825.3 L1146.1,825.5 L1146.4,825.8 L1146.6,826.1 L1146.9,826.4 L1147.2,826.7 L1147.4,827.0 L1147.7,827.4 L1147.9,827.7 L1148.2,828.1 L1148.4,828.4 L1148.7,828.8 L1148.9,829.2 L1149.2,829.6 L1149.4,829.9 L1149.7,830.3 L1149.9,830.7 L1150.2,831.1 L1150.4,831.5 L1150.6,831.9 L1150.9,832.2 L1151.1,832.6 L1151.4,832.9 L1151.7,833.3 L1151.9,833.6 L1152.2,834.0 L1152.4,834.3 L1152.7,834.6 L1153.0,834.9 L1153.2,835.1 L1153.5,835.4 L1153.8,835.6 L1154.1,835.8 L1154.4,836.0 L1154.7,836.2 L1155.0,836.4 L1155.3,836.5 L1155.6,836.6 L1155.9,836.7 L1156.2,836.8 L1156.5,836.9 L1156.8,836.9 L1157.2,836.9 L1157.5,836.9 L1157.8,836.9 L1158.2,836.8 L1158.5,836.7 L1158.9,836.6 L1159.3,836.5 L1159.6,836.3 L1160.0,836.2 L1160.4,836.0 L1160.8,835.8 L1161.1,835.6 L1161.5,835.3 L1161.9,835.1 L1162.3,834.8 L1162.7,834.5 L1163.1,834.2 L1163.5,833.9 L1163.9,833.6 L1164.3,833.2 L1164.7,832.9 L1165.2,832.5 L1165.6,832.2 L1166.0,831.8 L1166.4,831.4 L1166.8,831.0 L1167.3,830.7 L1167.7,830.3 L1168.1,829.9 L1168.5,829.5 L1168.9,829.1 L1169.4,828.7 L1169.8,828.4 L1170.2,828.0 L1170.6,827.7 L1171.0,827.3 L1171.4,827.0 L1171.8,826.6 L1172.2,826.3 L1172.6,826.0 L1173.0,825.7 L1173.4,825.5 L1173.8,825.2 L1174.2,825.0 L1174.6,824.8 L1175.0,824.6 L1175.3,824.4 L1175.7,824.2 L1176.1,824.1 L1176.4,824.0 L1176.8,823.9 L1177.1,823.8 L1177.5,823.7 L1177.8,823.7 L1178.2,823.7 L1178.5,823.7 L1178.8,823.7 L1179.1,823.8 L1179.5,823.9 L1179.8,824.0 L1180.1,824.1 L1180.4,824.3 L1180.7,824.4 L1181.0,824.6 L1181.2,824.8 L1181.5,825.0 L1181.8,825.3 L1182.1,825.5 L1182.4,825.8 L1182.6,826.1 L1182.9,826.4 L1183.2,826.7 L1183.4,827.0 L1183.7,827.4 L1183.9,827.7 L1184.2,828.1 L1184.4,828.4 L1184.7,828.8 L1184.9,829.2 L1185.2,829.6 L1185.4,829.9 L1185.7,830.3 L1185.9,830.7 L1186.2,831.1 L1186.4,831.5 L1186.6,831.9 L1186.9,832.2 L1187.1,832.6 L1187.4,832.9 L1187.7,833.3 L1187.9,833.6 L1188.2,834.0 L1188.4,834.3 L1188.7,834.6 L1189.0,834.9 L1189.2,835.1 L1189.5,835.4 L1189.8,835.6 L1190.1,835.8 L1190.4,836.0 L1190.7,836.2 L1191.0,836.4 L1191.3,836.5 L1191.6,836.6 L1191.9,836.7 L1192.2,836.8 L1192.5,836.9 L1192.8,836.9 L1193.2,836.9 L1193.5,836.9 L1193.8,836.9 L1194.2,836.8 L1194.5,836.7 L1194.9,836.6 L1195.3,836.5 L1195.6,836.3 L1196.0,836.2 L1196.4,836.0 L1196.8,835.8 L1197.1,835.6 L1197.5,835.3 L1197.9,835.1 L1198.3,834.8 L1198.7,834.5 L1199.1,834.2 L1199.5,833.9 L1199.9,833.6 L1200.3,833.2 L1200.7,832.9 L1201.2,832.5 L1201.6,832.2 L1202.0,831.8 L1202.4,831.4 L1202.8,831.0 L1203.3,830.7 L1203.7,830.3 L1204.1,829.9 L1204.5,829.5 L1204.9,829.1 L1205.4,828.7 L1205.8,828.4 L1206.2,828.0 L1206.6,827.7 L1207.0,827.3 L1207.4,827.0 L1207.8,826.6 L1208.2,826.3 L1208.6,826.0 L1209.0,825.7 L1209.4,825.5 L1209.8,825.2 L1210.2,825.0 L1210.6,824.8 L1211.0,824.6 L1211.3,824.4 L1211.7,824.2 L1212.1,824.1 L1212.4,824.0 L1212.8,823.9 L1213.1,823.8 L1213.5,823.7 L1213.8,823.7 L1214.2,823.7 L1214.5,823.7 L1214.8,823.7 L1215.1,823.8 L1215.5,823.9 L1215.8,824.0 L1216.1,824.1 L1216.4,824.3 L1216.7,824.4 L1217.0,824.6 L1217.2,824.8 L1217.5,825.0 L1217.8,825.3 L1218.1,825.5 L1218.4,825.8 L1218.6,826.1 L1218.9,826.4 L1219.2,826.7 L1219.4,827.0 L1219.7,827.4 L1219.9,827.7 L1220.2,828.1 L1220.4,828.4 L1220.7,828.8 L1220.9,829.2 L1221.2,829.6 L1221.4,829.9 L1221.7,830.3 L1221.9,830.7 L1222.2,831.1 L1222.4,831.5 L1222.6,831.9 L1222.9,832.2 L1223.1,832.6 L1223.4,832.9 L1223.7,833.3 L1223.9,833.6 L1224.2,834.0 L1224.4,834.3 L1224.7,834.6 L1225.0,834.9 L1225.2,835.1 L1225.5,835.4 L1225.8,835.6 L1226.1,835.8 L1226.4,836.0 L1226.7,836.2 L1227.0,836.4 L1227.3,836.5 L1227.6,836.6 L1227.9,836.7 L1228.0,836.8 L1228.0,836.9 L1228.0,836.9 L1228.0,836.9 L1228.0,836.9 L1228.0,836.9 L1228.0,836.8 L1228.0,836.7 L1228.0,836.6 L1228.0,836.5 L1228.0,836.3 L1228.0,836.2 L1228.0,836.0 L1228.0,835.8 L1228.0,835.6 L1228.0,835.3 L1228.0,835.1 L1228.0,834.8 L1228.0,834.5 L1228.0,834.2 L1228.0,833.9 L1228.0,833.6 L1228.0,833.2 L1228.0,832.9 L1228.0,832.5 L1228.0,832.2 L1228.0,831.8 L1228.0,831.4 L1228.0,831.0 L1228.0,830.7 L1228.0,830.3 L1228.0,829.9 L1228.0,829.5 L1228.0,829.1 L1228.0,828.7 L1228.0,828.4" fill="none" stroke="#193585" stroke-width="3.2" stroke-linejoin="round"/>
<rect x="976.2" y="791.9" width="56" height="28.2" rx="14.1" fill="#3d6fbf" stroke="#1d418a" stroke-width="1.6"/>
<text x="1004.2" y="810.68" font-size="13" font-weight="400" fill="#eef3fb" text-anchor="middle">IRF3</text>
<rect x="976.1" y="762.6" width="54.7" height="28.1" rx="14.05" fill="#3d6fbf" stroke="#1d418a" stroke-width="1.6"/>
<text x="1003.5" y="781.28" font-size="13" font-weight="400" fill="#eef3fb" text-anchor="middle">IRF3</text>
<circle cx="1036.5" cy="768.7" r="11" fill="#f7cf45" stroke="#94731c" stroke-width="1.4"/>
<text x="1036.5" y="772.7" font-size="11" font-weight="400" fill="#111" text-anchor="middle">P</text>
<circle cx="1037.2" cy="798" r="11" fill="#f7cf45" stroke="#94731c" stroke-width="1.4"/>
<text x="1037.2" y="802.0" font-size="11" font-weight="400" fill="#111" text-anchor="middle">P</text>
<path d="M1054.8,826 L1054.8,791 Q1054.8,779.7 1066,779.7 L1140,779.7" fill="none" stroke="#222" stroke-width="2.6"/>
<path d="M1150.0,779.7 L1138.0,786.0 L1138.0,773.5 Z" fill="#222"/>
<circle cx="1195.3" cy="717.9" r="2.7" fill="#1c9ccb"/>
<circle cx="1165.2" cy="730.1" r="2.7" fill="#1c9ccb"/>
<circle cx="1224.1" cy="730.1" r="2.7" fill="#1c9ccb"/>
<circle cx="1183.3" cy="735.7" r="2.7" fill="#1c9ccb"/>
<circle cx="1207.2" cy="741.1" r="2.7" fill="#1c9ccb"/>
<circle cx="1161.5" cy="751.8" r="2.7" fill="#1c9ccb"/>
<circle cx="1183.3" cy="750.4" r="2.7" fill="#1c9ccb"/>
<circle cx="1198.7" cy="749.4" r="2.7" fill="#1c9ccb"/>
<circle cx="1230.2" cy="749.4" r="2.7" fill="#1c9ccb"/>
<circle cx="1193.3" cy="758.9" r="2.7" fill="#1c9ccb"/>
<circle cx="1207.2" cy="755.7" r="2.7" fill="#1c9ccb"/>
<circle cx="1176.2" cy="767" r="2.7" fill="#1c9ccb"/>
<circle cx="1198.7" cy="767" r="2.7" fill="#1c9ccb"/>
<circle cx="1216.3" cy="767" r="2.7" fill="#1c9ccb"/>
<circle cx="1159.8" cy="772.6" r="2.7" fill="#1c9ccb"/>
<circle cx="1234.3" cy="782.6" r="2.7" fill="#1c9ccb"/>
<circle cx="1187.4" cy="788.2" r="2.7" fill="#1c9ccb"/>
<circle cx="1207.2" cy="786.3" r="2.7" fill="#1c9ccb"/>
<text x="1196.1" y="815.1" font-size="16" font-weight="400" fill="#111" text-anchor="middle">Type-I IFNs</text>
<text x="270" y="47.5" font-size="19" font-weight="400" fill="#111" text-anchor="middle" letter-spacing="0.5">Chemotherapeutical</text>
<text x="270" y="69.5" font-size="19" font-weight="400" fill="#111" text-anchor="middle" letter-spacing="0.3">agents</text>
<text x="270" y="475.9" font-size="19" font-weight="400" fill="#111" text-anchor="middle" letter-spacing="0.5">Chemotherapeutical</text>
<text x="270" y="497.9" font-size="19" font-weight="400" fill="#111" text-anchor="middle" letter-spacing="0.3">agents</text>
<text x="386.5" y="255.9" font-size="18.5" font-weight="700" fill="#8e1f23" text-anchor="middle" letter-spacing="0.35">LAMTOR1 High</text>
<text x="391.6" y="673.7" font-size="18.5" font-weight="700" fill="#8e1f23" text-anchor="middle">LAMTOR1 Low</text>
<text x="43.4" y="594.7" font-size="13.5" font-weight="400" fill="#111" text-anchor="middle" letter-spacing="0.3">Type-I IFNs</text>
<text x="43.4" y="786.5" font-size="13.5" font-weight="400" fill="#111" text-anchor="middle" letter-spacing="0.3">Type-I IFNs</text>
<text x="347" y="720.5" font-size="13.5" font-weight="400" fill="#111" text-anchor="middle" letter-spacing="0.3">Type-I IFNs</text></svg>
</body></html>
